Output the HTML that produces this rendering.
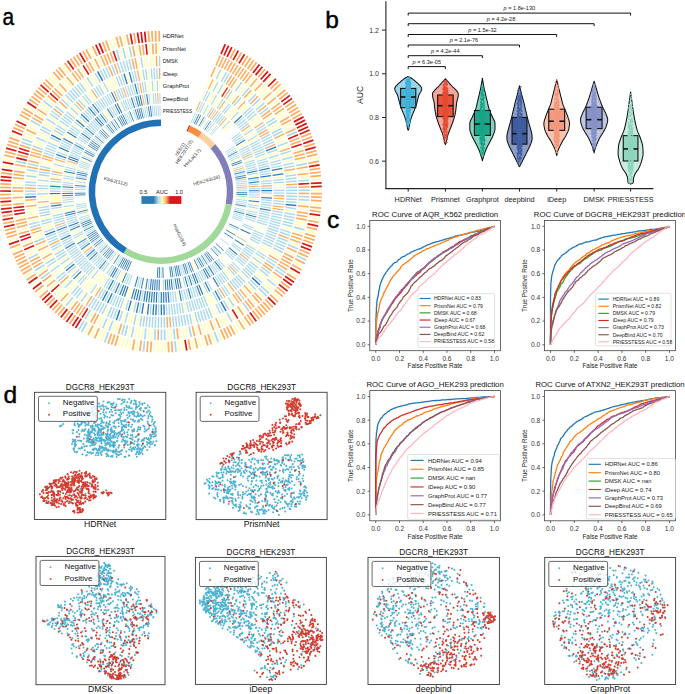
<!DOCTYPE html><html><head><meta charset="utf-8"><style>html,body{margin:0;padding:0;background:#fff;}svg{display:block;}</style></head><body><svg width="685" height="694" viewBox="0 0 685 694"><rect width="100%" height="100%" fill="#fff"/><path d="M296.8 255.7L306.5 260.3M214.4 332.0L218.2 342.1M175.0 341.1L176.0 351.9M144.6 340.9L143.4 351.6M108.5 332.3L104.7 342.4M87.0 322.3L81.7 331.7M84.1 320.6L78.6 329.9" stroke="#abd9e9" stroke-width="1.75"/><path d="M265.7 84.1L273.2 76.4M274.9 94.0L283.1 86.9M307.7 160.0L318.3 157.7M310.6 180.0L321.4 179.2M311.1 190.2L321.9 190.1M310.6 203.7L321.4 204.6M308.9 217.1L319.6 218.9M306.0 230.3L316.5 233.1M293.7 261.8L303.3 266.8M288.7 270.6L297.9 276.3M272.5 292.2L280.5 299.4M241.6 318.3L247.4 327.5M235.8 321.8L241.2 331.2M232.8 323.5L238.0 333.0M217.5 330.7L221.6 340.7M211.2 333.1L214.8 343.3M201.5 336.2L204.5 346.6M198.3 337.1L201.0 347.6M191.7 338.6L193.9 349.2M181.7 340.4L183.2 351.1M178.3 340.8L179.6 351.5M164.8 341.8L165.1 352.5M161.5 341.8L161.5 352.6M158.1 341.8L157.9 352.6M154.7 341.7L154.2 352.5M137.9 340.0L136.2 350.7M131.2 338.8L129.1 349.4M127.9 338.1L125.5 348.6M124.6 337.3L122.0 347.8M121.3 336.5L118.5 346.9M105.3 331.1L101.3 341.1M102.2 329.8L97.9 339.7M96.0 327.0L91.3 336.7M90.0 323.9L84.9 333.4M45.7 287.8L37.4 294.7M39.5 279.8L30.7 286.1M33.8 271.4L24.6 277.1M21.6 247.2L11.5 251.2M18.1 237.7L7.8 241.0M12.9 167.5L2.2 165.8M14.1 160.9L3.5 158.6M20.8 138.2L10.7 134.3M27.7 122.7L18.1 117.8M34.4 111.0L25.3 105.2M55.7 84.7L48.1 77.1M58.1 82.4L50.7 74.5M68.4 73.6L61.7 65.1M94.1 57.3L89.3 47.7M112.8 49.5L109.3 39.3M116.0 48.5L112.8 38.2M125.8 45.8L123.3 35.3" stroke="#ffffbf" stroke-width="1.75"/><path d="M230.1 58.5L235.1 48.9M236.1 61.7L241.5 52.4M241.8 65.2L247.7 56.1M244.7 67.1L250.7 58.1M247.5 69.0L253.7 60.2M250.2 71.0L256.6 62.3M258.2 77.3L265.1 69.1M270.4 88.9L278.3 81.5M272.7 91.4L280.7 84.2M277.1 96.6L285.5 89.7M279.2 99.2L287.7 92.6M285.2 107.4L294.1 101.3M287.1 110.2L296.1 104.4M288.9 113.1L298.1 107.4M290.6 116.0L299.9 110.5M292.3 118.9L301.7 113.7M300.9 137.3L311.0 133.4M302.1 140.5L312.2 136.8M304.3 146.9L314.6 143.7M306.1 153.4L316.6 150.6M307.0 156.7L317.5 154.1M308.4 163.3L319.0 161.2M309.5 169.9L320.2 168.4M310.0 173.3L320.7 172.0M310.3 176.7L321.1 175.6M311.1 193.6L321.9 193.7M311.0 196.9L321.8 197.3M310.9 200.3L321.6 200.9M310.3 207.1L321.1 208.2M309.9 210.4L320.6 211.8M308.3 220.4L318.9 222.5M306.9 227.1L317.4 229.6M305.1 233.6L315.5 236.6M304.2 236.8L314.5 240.1M303.1 240.0L313.3 243.5M299.5 249.5L309.5 253.7M298.2 252.6L308.0 257.0M295.3 258.8L304.9 263.6M292.1 264.7L301.6 270.0M286.9 273.4L295.9 279.3M281.1 281.8L289.7 288.2M276.9 287.1L285.2 293.9M274.7 289.7L282.9 296.7M270.2 294.7L278.0 302.1M265.4 299.5L272.9 307.3M263.0 301.8L270.3 309.8M260.5 304.1L267.6 312.2M257.9 306.3L264.9 314.6M255.3 308.5L262.1 316.9M252.6 310.6L259.2 319.1M247.2 314.6L253.4 323.4M244.4 316.5L250.4 325.5M238.7 320.1L244.3 329.4M229.8 325.1L234.8 334.7M226.8 326.6L231.5 336.3M223.8 328.1L228.3 337.9M220.7 329.4L225.0 339.3M208.0 334.2L211.4 344.5M204.8 335.3L207.9 345.6M195.0 337.9L197.4 348.4M188.4 339.3L190.3 349.9M171.6 341.4L172.4 352.2M168.2 341.6L168.7 352.4M151.3 341.5L150.6 352.3M147.9 341.2L147.0 352.0M141.2 340.5L139.8 351.2M134.5 339.4L132.6 350.1M118.1 335.5L115.0 345.9M114.8 334.5L111.5 344.8M111.6 333.5L108.1 343.7M99.1 328.4L94.6 338.3M93.0 325.5L88.1 335.1M75.6 315.1L69.4 324.0M70.1 311.1L63.5 319.7M64.8 306.9L57.9 315.2M62.2 304.7L55.1 312.8M59.7 302.5L52.4 310.4M54.8 297.8L47.2 305.4M47.9 290.4L39.7 297.5M43.5 285.2L35.1 291.9M35.6 274.2L26.6 280.1M32.0 268.5L22.7 274.0M30.3 265.5L20.9 270.9M28.7 262.6L19.2 267.7M27.1 259.6L17.5 264.5M25.6 256.5L15.9 261.2M24.2 253.5L14.4 257.9M22.8 250.4L12.9 254.6M20.3 244.1L10.2 247.9M17.1 234.5L6.8 237.5M16.2 231.2L5.8 234.1M15.3 227.9L4.9 230.5M13.9 221.3L3.3 223.5M12.7 214.7L2.0 216.3M11.5 204.6L0.7 205.5M11.0 197.8L0.2 198.3M10.9 194.5L0.1 194.7M11.0 187.7L0.2 187.4M11.1 184.3L0.3 183.8M11.9 174.2L1.2 172.9M14.8 157.5L4.3 155.1M15.6 154.3L5.2 151.6M17.5 147.7L7.2 144.6M18.5 144.5L8.3 141.1M19.6 141.3L9.4 137.7M23.3 131.9L13.4 127.6M24.7 128.8L14.9 124.3M29.3 119.7L19.8 114.6M30.9 116.8L21.6 111.4M32.7 113.9L23.4 108.3M38.2 105.4L29.4 99.2M40.2 102.6L31.5 96.2M42.2 99.9L33.7 93.3M44.3 97.3L35.9 90.5M46.5 94.7L38.2 87.7M51.0 89.6L43.1 82.3M53.3 87.2L45.5 79.6M60.6 80.1L53.4 72.1M63.2 77.9L56.1 69.7M65.7 75.7L58.9 67.4M71.1 71.5L64.6 62.9M76.6 67.6L70.5 58.7M79.4 65.7L73.5 56.7M82.3 63.9L76.6 54.7M88.1 60.5L82.8 51.1M91.1 58.9L86.0 49.3M97.1 55.9L92.5 46.1M106.4 51.9L102.5 41.8M109.6 50.7L105.9 40.5M119.3 47.5L116.3 37.1M122.5 46.6L119.8 36.2M129.1 45.0L126.8 34.5M135.7 43.7L133.9 33.1M149.2 42.1L148.3 31.3M152.5 41.8L151.9 31.1M155.9 41.7L155.6 30.9M159.3 41.6L159.2 30.8" stroke="#fdae61" stroke-width="1.75"/><path d="M221.0 54.1L225.3 44.2M224.0 55.5L228.6 45.7M227.1 56.9L231.9 47.2M233.1 60.1L238.3 50.6M239.0 63.4L244.6 54.2M252.9 73.0L259.5 64.5M255.6 75.1L262.4 66.7M260.7 79.5L267.9 71.4M263.2 81.8L270.6 73.9M268.1 86.5L275.8 78.9M281.3 101.9L289.9 95.4M283.3 104.6L292.1 98.4M293.9 121.9L303.5 116.9M295.4 124.9L305.1 120.1M296.9 128.0L306.7 123.4M298.3 131.1L308.2 126.7M299.6 134.2L309.6 130.0M303.2 143.7L313.4 140.2M305.2 150.1L315.6 147.1M309.0 166.6L319.6 164.8M310.9 183.4L321.7 182.8M311.0 186.8L321.8 186.4M309.5 213.8L320.2 215.4M307.6 223.8L318.2 226.1M302.0 243.2L312.1 246.9M300.8 246.4L310.8 250.3M290.4 267.7L299.8 273.2M285.0 276.3L293.9 282.3M283.1 279.0L291.9 285.3M279.0 284.4L287.5 291.1M267.8 297.1L275.5 304.7M249.9 312.6L256.3 321.3M185.0 339.9L186.8 350.5M81.2 318.8L75.5 328.0M78.4 317.0L72.4 326.0M72.8 313.1L66.4 321.9M67.4 309.1L60.7 317.5M57.2 300.1L49.8 307.9M52.4 295.4L44.6 302.8M50.1 292.9L42.2 300.2M41.5 282.5L32.9 289.0M37.5 277.0L28.6 283.2M19.2 240.9L9.0 244.4M14.6 224.6L4.0 227.0M13.2 218.0L2.6 219.9M12.2 211.3L1.5 212.7M11.8 208.0L1.0 209.1M11.2 201.2L0.4 201.9M10.9 191.1L0.1 191.0M11.3 180.9L0.5 180.2M11.6 177.6L0.8 176.6M12.4 170.8L1.7 169.3M13.4 164.2L2.8 162.2M16.5 151.0L6.1 148.1M22.0 135.0L12.0 130.9M26.2 125.7L16.5 121.0M36.3 108.2L27.3 102.2M48.7 92.1L40.6 84.9M73.8 69.5L67.5 60.7M85.2 62.2L79.7 52.9M100.2 54.5L95.8 44.6M103.3 53.1L99.2 43.2M132.4 44.3L130.4 33.7M139.1 43.2L137.5 32.5M142.4 42.8L141.1 32.0M145.8 42.4L144.7 31.6" stroke="#d7191c" stroke-width="1.75"/><path d="M286.9 136.1L296.8 131.7M296.2 165.6L306.8 163.6M298.3 181.0L309.0 180.2M298.7 190.3L309.5 190.2M298.6 196.5L309.4 196.9M298.4 199.6L309.2 200.2M294.0 227.1L304.5 229.9M288.0 244.7L298.0 248.9M276.5 266.7L285.5 272.6M274.7 269.3L283.7 275.3M267.3 279.2L275.6 286.0M261.1 286.2L269.0 293.6M259.0 288.4L266.7 296.0M242.6 302.6L249.0 311.3M226.9 312.6L232.0 322.1M189.1 326.5L191.4 337.0M173.8 328.8L174.8 339.5M164.5 329.3L164.8 340.1M161.4 329.4L161.5 340.2M155.2 329.2L154.8 340.0M145.9 328.5L144.7 339.3M133.7 326.6L131.5 337.2M127.6 325.3L125.0 335.7M124.6 324.5L121.8 334.9M112.8 320.7L109.0 330.8M107.0 318.4L102.8 328.3M90.5 309.9L84.9 319.2M72.8 297.4L65.8 305.7M49.5 272.5L40.8 278.8M44.3 264.8L35.2 270.5M38.2 254.0L28.6 258.8M26.3 163.4L15.7 161.2M31.3 145.5L21.1 141.9M32.4 142.6L22.3 138.7M40.2 125.7L30.7 120.5M52.1 107.5L43.5 100.9M119.7 60.4L116.5 50.1M125.7 58.6L122.9 48.2M131.7 57.2L129.4 46.6" stroke="#abd9e9" stroke-width="1.61"/><path d="M247.7 84.8L254.5 76.4M252.5 88.8L259.6 80.7M257.0 93.0L264.5 85.3M259.2 95.2L266.9 87.6M261.3 97.4L269.2 90.1M265.5 102.1L273.7 95.0M269.4 106.9L277.9 100.2M276.6 117.0L285.7 111.1M278.3 119.6L287.5 113.9M282.9 127.7L292.4 122.7M284.3 130.5L294.0 125.6M292.4 150.6L302.7 147.4M295.6 162.6L306.1 160.3M297.2 171.7L307.9 170.2M298.0 177.9L308.7 176.8M298.2 202.7L309.0 203.6M297.6 208.9L308.3 210.2M295.5 221.1L306.0 223.4M294.8 224.1L305.3 226.7M293.2 230.1L303.6 233.1M289.2 241.9L299.3 245.8M285.5 250.4L295.3 255.0M271.1 274.3L279.8 280.8M269.2 276.8L277.7 283.4M265.3 281.6L273.5 288.6M263.2 283.9L271.3 291.1M256.8 290.6L264.3 298.3M249.9 296.8L256.9 305.1M240.1 304.4L246.3 313.3M234.9 307.9L240.7 317.0M229.6 311.1L235.0 320.4M224.1 314.0L229.1 323.6M221.4 315.4L226.1 325.1M218.6 316.8L223.1 326.6M212.9 319.2L216.9 329.2M207.1 321.4L210.7 331.6M204.1 322.4L207.5 332.7M201.2 323.4L204.3 333.7M195.2 325.1L197.9 335.5M186.1 327.1L188.1 337.7M183.0 327.6L184.8 338.3M180.0 328.1L181.5 338.8M170.7 329.0L171.5 339.8M167.6 329.2L168.1 340.0M152.1 329.1L151.4 339.9M149.0 328.8L148.1 339.6M142.9 328.2L141.4 338.9M139.8 327.7L138.1 338.4M136.7 327.2L134.8 337.8M130.6 326.0L128.3 336.5M118.7 322.7L115.3 333.0M115.7 321.7L112.2 331.9M109.9 319.5L105.9 329.6M104.2 317.1L99.7 326.9M101.4 315.8L96.7 325.5M93.1 311.5L87.8 320.9M75.2 299.3L68.4 307.8M70.4 295.4L63.3 303.5M65.8 291.2L58.4 299.0M63.6 289.0L56.0 296.6M61.4 286.8L53.6 294.2M57.2 282.2L49.1 289.3M53.3 277.4L44.8 284.1M46.0 267.4L37.0 273.3M36.8 251.2L27.1 255.8M35.5 248.4L25.7 252.8M32.0 239.8L21.9 243.5M28.2 227.9L17.8 230.8M25.5 215.8L14.8 217.7M23.6 200.4L12.8 201.1M23.4 194.2L12.6 194.4M23.5 184.9L12.7 184.4M23.7 181.8L12.9 181.1M25.1 169.5L14.5 167.8M33.5 139.7L23.5 135.6M34.7 136.8L24.8 132.5M37.3 131.2L27.6 126.5M38.7 128.4L29.1 123.5M44.9 117.7L35.8 111.9M48.4 112.5L39.5 106.3M50.2 110.0L41.5 103.6M54.0 105.1L45.6 98.3M64.4 93.6L56.8 85.9M68.9 89.4L61.7 81.3M71.3 87.3L64.2 79.1M76.1 83.4L69.4 74.9M86.2 76.2L80.3 67.1M96.9 69.9L91.8 60.3M102.4 67.1L97.8 57.3M122.7 59.5L119.7 49.1M128.7 57.9L126.2 47.4M137.8 56.0L136.0 45.3M150.1 54.5L149.3 43.7M159.4 54.0L159.3 43.2" stroke="#ffffbf" stroke-width="1.61"/><path d="M216.0 65.5L220.3 55.6M218.8 66.8L223.4 57.0M221.6 68.1L226.4 58.4M224.4 69.5L229.4 59.9M227.1 71.0L232.3 61.5M229.8 72.5L235.2 63.1M232.5 74.1L238.1 64.8M235.1 75.7L241.0 66.6M237.7 77.4L243.8 68.4M240.3 79.2L246.5 70.3M242.8 81.0L249.2 72.3M245.3 82.9L251.9 74.3M250.1 86.8L257.1 78.5M254.7 90.9L262.1 83.0M263.4 99.7L271.5 92.5M267.5 104.4L275.8 97.6M271.3 109.3L280.0 102.9M273.1 111.8L281.9 105.6M274.9 114.4L283.8 108.3M279.9 122.3L289.2 116.8M281.4 125.0L290.9 119.7M285.6 133.2L295.4 128.7M289.3 141.8L299.4 137.9M290.4 144.7L300.6 141.0M293.3 153.6L303.7 150.6M294.1 156.6L304.5 153.8M294.9 159.6L305.4 157.0M296.7 168.7L307.4 166.9M297.6 174.8L308.4 173.5M298.6 187.2L309.4 186.8M298.7 193.4L309.5 193.5M297.9 205.8L308.7 206.9M297.2 211.9L307.9 213.5M296.7 215.0L307.3 216.8M296.1 218.1L306.7 220.1M292.3 233.1L302.6 236.3M291.3 236.0L301.6 239.5M290.3 239.0L300.4 242.7M286.8 247.6L296.7 252.0M284.2 253.2L293.8 258.0M282.7 256.0L292.3 261.0M281.3 258.7L290.7 264.0M279.7 261.4L289.0 266.9M278.1 264.1L287.3 269.7M273.0 271.8L281.8 278.1M254.5 292.7L261.9 300.6M252.2 294.8L259.4 302.9M247.5 298.8L254.3 307.2M245.1 300.7L251.6 309.3M237.5 306.2L243.5 315.1M215.7 318.0L220.0 327.9M210.0 320.4L213.8 330.5M198.2 324.3L201.1 334.6M192.2 325.8L194.6 336.3M176.9 328.4L178.1 339.2M158.3 329.3L158.1 340.1M121.6 323.6L118.5 334.0M98.6 314.4L93.7 324.0M95.9 313.0L90.7 322.5M85.2 306.6L79.3 315.6M82.6 304.9L76.5 313.8M80.1 303.1L73.8 311.8M77.6 301.2L71.1 309.8M68.1 293.3L60.8 301.3M55.2 279.8L46.9 286.7M51.4 275.0L42.8 281.5M47.7 269.9L38.8 276.1M42.7 262.1L33.4 267.6M41.1 259.4L31.7 264.7M39.6 256.7L30.1 261.8M33.1 242.6L23.1 246.6M29.0 230.9L18.7 234.0M27.4 224.9L16.9 227.5M26.7 221.9L16.2 224.3M26.0 218.9L15.5 221.0M23.8 203.5L13.1 204.5M23.4 197.3L12.7 197.8M23.3 191.1L12.5 191.1M23.4 188.0L12.6 187.7M23.9 178.7L13.2 177.7M24.3 175.7L13.5 174.4M24.7 172.6L14.0 171.1M25.7 166.5L15.0 164.5M27.7 157.4L17.2 154.7M30.3 148.4L20.1 145.0M36.0 134.0L26.2 129.5M41.7 123.0L32.3 117.6M43.3 120.3L34.0 114.7M46.6 115.1L37.6 109.1M56.0 102.7L47.7 95.7M60.1 98.1L52.2 90.7M62.2 95.8L54.5 88.3M66.6 91.5L59.2 83.6M73.6 85.3L66.8 77.0M78.5 81.5L72.0 72.8M81.0 79.6L74.7 70.9M83.6 77.9L77.5 68.9M91.4 72.9L86.0 63.6M94.1 71.4L88.9 61.9M99.6 68.5L94.8 58.8M105.2 65.8L100.9 56.0M108.1 64.6L103.9 54.6M111.0 63.4L107.0 53.4M113.9 62.3L110.2 52.2M134.8 56.5L132.7 45.9M140.9 55.5L139.3 44.8M144.0 55.1L142.6 44.4M153.2 54.2L152.6 43.5M156.3 54.1L156.0 43.3" stroke="#fdae61" stroke-width="1.61"/><path d="M288.2 138.9L298.1 134.8M291.4 147.6L301.7 144.2M298.5 184.1L309.2 183.5M232.3 309.5L237.8 318.7M87.8 308.3L82.1 317.5M59.3 284.5L51.3 291.8M34.3 245.5L24.3 249.7M30.9 236.8L20.7 240.4M30.0 233.9L19.7 237.2M25.0 212.8L14.3 214.4M24.5 209.7L13.8 211.1M24.1 206.6L13.4 207.8M26.9 160.4L16.4 157.9M28.5 154.4L18.1 151.4M29.4 151.4L19.0 148.2M58.0 100.4L49.9 93.2M88.8 74.5L83.1 65.3M116.8 61.3L113.3 51.1M147.1 54.7L146.0 44.0" stroke="#d7191c" stroke-width="1.61"/><path d="M285.6 204.5L296.3 205.6M252.1 277.6L260.0 285.0M220.9 301.7L226.1 311.2M119.8 310.0L116.3 320.2M35.9 196.8L25.1 197.3M102.7 80.9L97.6 71.3" stroke="#2c7bb6" stroke-width="1.47"/><path d="M216.2 79.3L220.9 69.6M221.2 81.9L226.4 72.4M223.6 83.2L229.0 73.9M235.4 91.0L241.8 82.3M242.1 96.2L249.1 88.0M248.3 101.9L255.9 94.2M252.3 106.0L260.2 98.6M256.1 110.2L264.3 103.1M259.6 114.5L268.1 107.9M266.2 123.7L275.3 117.9M267.7 126.1L276.9 120.5M271.9 133.5L281.4 128.4M273.2 136.0L282.8 131.2M277.7 146.3L287.8 142.4M280.5 154.3L290.8 151.1M282.1 159.7L292.5 157.0M283.4 165.2L294.0 162.9M284.0 168.0L294.6 165.9M285.3 176.3L296.0 175.0M285.6 179.2L296.4 178.1M285.9 182.0L296.6 181.1M286.2 187.6L297.0 187.2M286.2 190.4L297.0 190.3M286.2 193.2L297.0 193.4M286.2 196.1L297.0 196.4M286.0 198.9L296.8 199.5M285.8 201.7L296.6 202.6M285.3 207.3L296.0 208.7M284.4 212.9L295.1 214.7M283.9 215.7L294.5 217.8M283.4 218.4L293.9 220.8M282.7 221.2L293.2 223.7M282.0 223.9L292.5 226.7M280.4 229.4L290.7 232.6M279.6 232.0L289.8 235.5M277.6 237.3L287.7 241.3M276.6 240.0L286.5 244.1M275.5 242.6L285.3 246.9M274.3 245.1L284.0 249.7M273.0 247.7L282.7 252.5M267.5 257.5L276.7 263.2M266.0 259.9L275.1 265.8M261.2 266.8L269.8 273.3M259.5 269.1L268.0 275.8M254.0 275.6L262.0 282.8M250.1 279.7L257.8 287.3M248.1 281.7L255.7 289.4M237.5 290.9L244.1 299.4M228.2 297.4L234.0 306.5M223.4 300.3L228.8 309.7M218.4 303.0L223.4 312.6M215.9 304.3L220.6 314.0M208.2 307.7L212.2 317.7M205.6 308.7L209.4 318.8M202.9 309.7L206.5 319.9M200.2 310.6L203.6 320.9M197.5 311.5L200.7 321.8M194.8 312.3L197.8 322.7M189.4 313.7L191.8 324.2M186.6 314.3L188.8 324.9M183.8 314.8L185.8 325.5M181.1 315.3L182.8 326.0M178.3 315.7L179.8 326.4M175.5 316.1L176.7 326.8M172.7 316.4L173.7 327.1M164.2 316.9L164.5 327.7M161.4 316.9L161.4 327.7M158.6 316.9L158.3 327.7M155.7 316.8L155.3 327.6M152.9 316.7L152.2 327.5M150.1 316.5L149.2 327.2M147.3 316.2L146.1 326.9M144.5 315.8L143.1 326.6M141.7 315.4L140.0 326.1M136.1 314.4L134.0 325.0M127.9 312.5L125.0 322.9M122.5 310.9L119.2 321.1M117.2 309.0L113.4 319.1M114.5 308.0L110.5 318.0M111.9 306.9L107.7 316.9M106.8 304.6L102.1 314.3M104.2 303.3L99.3 313.0M101.7 302.0L96.6 311.5M99.3 300.7L93.9 310.1M96.8 299.2L91.3 308.5M94.4 297.8L88.7 306.9M87.4 293.0L81.1 301.8M82.9 289.6L76.2 298.1M80.7 287.8L73.8 296.1M78.6 286.0L71.5 294.1M72.4 280.2L64.8 287.8M66.6 274.0L58.5 281.1M64.8 271.9L56.5 278.8M59.6 265.2L50.8 271.5M56.4 260.5L47.4 266.5M54.9 258.2L45.7 263.9M44.7 238.0L34.6 242.0M40.2 224.7L29.8 227.5M39.5 221.9L29.0 224.5M35.8 194.0L25.0 194.2M35.8 191.2L25.0 191.1M35.9 185.5L25.1 185.0M36.1 182.7L25.3 181.9M36.6 177.1L25.9 175.8M37.4 171.5L26.7 169.8M38.4 166.0L27.9 163.7M43.0 149.7L32.8 146.0M46.1 141.8L36.2 137.5M49.8 134.1L40.2 129.2M51.1 131.7L41.6 126.5M55.4 124.4L46.3 118.6M58.5 119.7L49.7 113.5M60.2 117.4L51.5 111.0M63.6 112.9L55.3 106.1M69.2 106.5L61.3 99.2M73.1 102.5L65.5 94.8M75.2 100.5L67.8 92.6M77.2 98.6L70.0 90.6M79.4 96.7L72.3 88.5M81.5 94.9L74.7 86.6M83.7 93.1L77.1 84.6M86.0 91.4L79.5 82.8M92.9 86.6L87.0 77.5M100.2 82.2L94.9 72.8M105.2 79.6L100.3 69.9M107.7 78.4L103.1 68.6M110.3 77.2L105.9 67.3M115.5 75.0L111.6 65.0M120.8 73.1L117.3 62.9M123.5 72.2L120.2 61.9M126.2 71.4L123.2 61.0M128.9 70.6L126.1 60.2M131.6 70.0L129.1 59.5M142.7 67.8L141.1 57.1M159.6 66.5L159.5 55.7" stroke="#abd9e9" stroke-width="1.47"/><path d="M213.6 78.0L218.1 68.2M218.7 80.5L223.6 70.9M233.1 89.3L239.4 80.5M237.7 92.7L244.3 84.1M239.9 94.4L246.7 86.0M246.3 100.0L253.6 92.1M254.2 108.0L262.2 100.8M264.6 121.4L273.6 115.3M269.1 128.5L278.5 123.1M270.5 131.0L280.0 125.7M275.6 141.1L285.4 136.7M276.7 143.7L286.6 139.6M278.7 149.0L288.9 145.3M281.3 157.0L291.7 154.0M282.8 162.5L293.3 159.9M284.9 173.5L295.6 172.0M284.9 210.1L295.6 211.7M281.3 226.7L291.6 229.7M271.8 250.2L281.3 255.2M270.4 252.7L279.8 257.9M257.7 271.3L266.0 278.1M255.9 273.4L264.1 280.5M246.1 283.6L253.4 291.5M241.9 287.3L248.8 295.6M230.6 295.8L236.6 304.8M225.8 298.9L231.4 308.1M213.4 305.5L217.9 315.3M210.8 306.6L215.1 316.5M192.1 313.0L194.8 323.5M138.9 315.0L137.0 325.6M133.4 313.9L131.0 324.4M130.6 313.2L128.0 323.7M125.2 311.7L122.1 322.1M109.3 305.8L104.9 315.6M89.7 294.7L83.6 303.5M85.1 291.3L78.6 299.9M76.5 284.1L69.2 292.1M74.4 282.2L66.9 290.0M70.4 278.2L62.6 285.6M63.0 269.7L54.6 276.4M61.3 267.5L52.7 274.0M58.0 262.9L49.1 269.0M53.4 255.8L44.1 261.3M50.6 250.8L41.1 255.9M49.3 248.3L39.7 253.2M46.9 243.2L37.0 247.7M43.6 235.4L33.5 239.2M42.7 232.8L32.5 236.3M38.8 219.2L28.3 221.6M37.7 213.7L27.1 215.5M37.2 210.9L26.6 212.5M36.8 208.1L26.1 209.5M36.2 202.5L25.5 203.4M36.3 179.9L25.6 178.9M37.0 174.3L26.3 172.8M39.7 160.5L29.3 157.8M44.0 147.0L33.9 143.2M45.0 144.4L35.0 140.3M47.3 139.2L37.5 134.7M48.5 136.7L38.8 131.9M52.5 129.2L43.1 123.8M53.9 126.8L44.7 121.2M56.9 122.0L48.0 116.0M65.4 110.7L57.2 103.8M71.1 104.5L63.4 96.9M88.2 89.8L82.0 81.0M90.6 88.1L84.5 79.2M95.3 85.1L89.6 75.9M97.7 83.6L92.3 74.3M139.9 68.2L138.1 57.6M145.5 67.4L144.2 56.7M148.3 67.1L147.2 56.4M151.1 66.8L150.3 56.1M153.9 66.7L153.3 55.9" stroke="#ffffbf" stroke-width="1.47"/><path d="M211.0 76.9L215.3 67.0M226.1 84.7L231.7 75.5M228.5 86.2L234.3 77.1M230.8 87.7L236.8 78.8M244.2 98.1L251.4 90.0M250.3 103.9L258.0 96.4M257.9 112.3L266.2 105.5M261.4 116.8L270.0 110.3M263.0 119.1L271.8 112.8M274.4 138.5L284.2 133.9M279.7 151.6L289.9 148.2M284.5 170.8L295.1 169.0M286.0 184.8L296.8 184.2M278.6 234.7L288.8 238.4M269.0 255.1L278.3 260.6M264.5 262.3L273.4 268.3M262.9 264.6L271.6 270.9M244.0 285.5L251.2 293.6M239.7 289.1L246.5 297.5M235.2 292.6L241.6 301.3M232.9 294.2L239.1 303.1M169.8 316.6L170.6 327.4M167.0 316.8L167.5 327.6M92.0 296.2L86.1 305.3M68.5 276.1L60.5 283.4M52.0 253.3L42.6 258.6M48.1 245.8L38.3 250.5M45.7 240.7L35.8 244.9M41.8 230.1L31.5 233.4M41.0 227.4L30.6 230.5M38.2 216.4L27.6 218.6M36.5 205.3L25.8 206.4M36.0 199.6L25.2 200.3M35.8 188.4L25.0 188.1M37.9 168.7L27.3 166.7M39.0 163.2L28.5 160.7M40.5 157.7L30.1 154.8M41.2 155.0L30.9 151.9M42.1 152.3L31.9 148.9M61.9 115.1L53.3 108.5M67.3 108.6L59.2 101.4M112.9 76.1L108.7 66.1M118.1 74.0L114.4 63.9M134.4 69.3L132.1 58.8M137.1 68.8L135.1 58.1M156.8 66.5L156.4 55.7" stroke="#fdae61" stroke-width="1.47"/><path d="M266.1 150.8L276.2 146.9M271.8 170.3L282.4 168.3M272.6 175.3L283.3 173.8M215.0 290.8L220.1 300.2M163.9 304.5L164.2 315.3M161.3 304.5L161.4 315.3M156.3 304.4L155.8 315.2M153.7 304.3L153.0 315.1M148.7 303.8L147.5 314.6M143.6 303.2L141.9 313.8M138.6 302.3L136.5 312.8M131.2 300.5L128.3 310.9M112.2 293.4L107.5 303.1M107.6 291.1L102.5 300.6M81.2 271.4L73.5 279.1M74.3 263.9L66.0 270.8M55.3 231.1L45.2 234.8M60.8 139.9L51.2 134.9M127.2 84.1L124.0 73.8M132.1 82.7L129.3 72.2" stroke="#2c7bb6" stroke-width="1.33"/><path d="M213.0 91.6L217.9 82.0M217.4 94.0L222.8 84.7M226.0 99.5L232.2 90.7M234.0 105.7L241.0 97.5M243.2 114.5L251.1 107.1M244.9 116.3L253.0 109.1M246.6 118.3L254.8 111.2M248.3 120.2L256.6 113.4M255.7 130.5L264.8 124.6M257.1 132.6L266.3 127.0M260.9 139.2L270.4 134.2M262.0 141.5L271.7 136.7M263.1 143.8L272.9 139.2M264.2 146.1L274.1 141.8M267.0 153.2L277.2 149.5M268.7 158.0L279.0 154.8M270.1 162.9L280.5 160.1M270.7 165.4L281.2 162.8M271.3 167.8L281.8 165.6M273.2 180.4L284.0 179.3M273.5 182.9L284.2 182.1M273.8 190.5L284.6 190.4M273.8 193.1L284.6 193.2M273.4 200.7L284.2 201.6M273.2 203.2L284.0 204.3M272.2 210.8L282.8 212.6M271.7 213.3L282.3 215.4M271.2 215.8L281.8 218.1M270.6 218.3L281.1 220.8M270.0 220.7L280.4 223.5M269.3 223.2L279.7 226.2M268.6 225.6L278.9 228.9M267.8 228.0L278.0 231.5M267.0 230.4L277.1 234.1M266.1 232.8L276.1 236.7M265.1 235.2L275.1 239.3M264.1 237.5L274.0 241.9M263.0 239.8L272.8 244.4M261.9 242.1L271.6 246.9M257.0 251.0L266.2 256.7M255.6 253.1L264.7 259.0M252.7 257.3L261.5 263.6M249.7 261.4L258.2 268.1M248.1 263.4L256.4 270.3M246.5 265.3L254.6 272.4M244.8 267.2L252.8 274.5M243.1 269.1L250.9 276.5M241.3 270.9L249.0 278.5M237.6 274.5L245.0 282.4M235.8 276.2L242.9 284.3M233.8 277.8L240.8 286.1M231.9 279.5L238.7 287.9M229.9 281.0L236.5 289.6M223.7 285.5L229.7 294.5M221.6 286.9L227.3 296.0M217.2 289.5L222.6 298.9M212.7 291.9L217.7 301.5M203.5 296.2L207.6 306.2M201.1 297.1L205.0 307.2M198.7 298.0L202.4 308.2M196.3 298.8L199.7 309.1M193.9 299.6L197.1 309.9M191.5 300.3L194.4 310.7M189.0 301.0L191.7 311.4M186.5 301.6L189.0 312.1M181.6 302.6L183.5 313.2M179.1 303.1L180.8 313.7M176.6 303.4L178.0 314.1M174.0 303.8L175.3 314.5M171.5 304.0L172.5 314.8M169.0 304.2L169.7 315.0M166.4 304.4L166.9 315.2M158.8 304.5L158.6 315.3M151.2 304.1L150.2 314.8M141.1 302.7L139.2 313.4M136.1 301.7L133.7 312.3M128.7 299.8L125.7 310.1M123.9 298.2L120.3 308.4M121.5 297.4L117.7 307.5M119.1 296.5L115.1 306.5M116.8 295.5L112.6 305.4M114.5 294.5L110.0 304.3M109.9 292.3L105.0 301.9M105.4 289.9L100.1 299.3M103.2 288.6L97.7 297.8M96.8 284.4L90.6 293.3M86.8 276.6L79.7 284.8M84.9 274.9L77.6 282.9M79.4 269.6L71.6 277.1M76.0 265.9L67.8 272.9M72.7 261.9L64.3 268.7M69.7 257.9L60.9 264.2M66.8 253.7L57.7 259.6M65.4 251.6L56.2 257.3M64.1 249.4L54.8 254.9M61.6 245.0L52.0 250.1M60.4 242.7L50.8 247.6M58.2 238.1L48.3 242.6M57.2 235.8L47.2 240.0M56.2 233.4L46.2 237.4M54.4 228.7L44.2 232.2M52.2 221.4L41.8 224.2M51.5 218.9L41.0 221.5M50.4 214.0L39.8 216.1M49.9 211.5L39.3 213.4M49.5 209.0L38.8 210.6M49.2 206.5L38.5 207.9M48.2 193.8L37.4 194.0M48.2 188.7L37.4 188.4M48.3 186.2L37.5 185.6M48.7 181.1L37.9 180.1M49.3 176.0L38.6 174.5M49.7 173.5L39.0 171.8M50.6 168.5L40.0 166.3M53.9 156.2L43.7 152.9M54.7 153.8L44.6 150.2M55.6 151.5L45.5 147.6M56.5 149.1L46.5 145.0M57.5 146.7L47.6 142.4M59.7 142.1L50.0 137.4M63.2 135.4L53.9 130.0M64.5 133.2L55.3 127.6M65.9 131.0L56.8 125.2M68.7 126.8L59.9 120.6M70.2 124.8L61.5 118.3M71.7 122.7L63.2 116.1M73.3 120.7L64.9 113.9M74.9 118.8L66.7 111.8M78.3 115.0L70.4 107.6M81.8 111.3L74.3 103.6M85.6 107.8L78.3 99.8M89.4 104.5L82.6 96.2M91.4 102.9L84.7 94.4M99.7 97.0L93.8 88.0M101.8 95.7L96.2 86.5M104.0 94.4L98.5 85.0M108.4 91.9L103.4 82.3M120.0 86.6L116.1 76.5M122.4 85.7L118.7 75.6M124.8 84.9L121.3 74.6M134.5 82.0L132.0 71.5M137.0 81.5L134.7 70.9M144.5 80.1L143.0 69.4M147.0 79.8L145.7 69.0M152.1 79.2L151.3 68.5M154.6 79.1L154.0 68.3M157.2 79.0L156.8 68.2" stroke="#abd9e9" stroke-width="1.33"/><path d="M206.1 88.3L210.4 78.4M210.7 90.4L215.4 80.7M215.2 92.8L220.4 83.3M219.6 95.3L225.2 86.1M228.0 101.0L234.5 92.3M230.1 102.5L236.7 94.0M235.9 107.4L243.1 99.3M239.7 110.8L247.2 103.1M241.5 112.6L249.2 105.1M249.8 122.2L258.4 115.5M251.4 124.2L260.0 117.7M252.9 126.3L261.7 120.0M267.9 155.6L278.1 152.1M269.4 160.4L279.8 157.5M272.2 172.8L282.9 171.0M273.0 177.9L283.7 176.5M273.6 185.5L284.4 184.9M273.7 188.0L284.5 187.7M260.8 244.4L270.3 249.4M259.5 246.6L269.0 251.9M258.3 248.8L267.6 254.3M254.2 255.3L263.1 261.3M251.2 259.4L259.9 265.9M239.5 272.7L247.0 280.5M225.8 284.1L232.0 292.9M210.5 293.1L215.2 302.8M208.2 294.2L212.7 304.0M205.8 295.2L210.1 305.1M184.1 302.1L186.3 312.7M146.1 303.5L144.7 314.2M133.6 301.1L131.0 311.6M126.3 299.0L123.0 309.3M98.9 285.9L92.9 294.9M94.7 283.0L88.4 291.7M92.7 281.5L86.1 290.1M90.7 279.9L83.9 288.3M88.7 278.3L81.8 286.6M83.0 273.2L75.5 281.0M77.7 267.7L69.7 275.0M71.2 259.9L62.6 266.5M68.2 255.8L59.3 262.0M62.8 247.2L53.4 252.5M53.6 226.3L43.3 229.6M52.9 223.8L42.5 226.9M50.9 216.5L40.4 218.8M48.9 203.9L38.1 205.1M48.4 198.9L37.6 199.5M48.3 196.3L37.5 196.8M48.2 191.2L37.4 191.2M48.5 183.6L37.7 182.8M49.0 178.6L38.2 177.3M51.1 166.0L40.6 163.6M51.8 163.6L41.3 160.9M58.6 144.4L48.8 139.9M62.0 137.6L52.5 132.4M67.3 128.9L58.3 122.9M76.6 116.9L68.5 109.7M80.1 113.1L72.3 105.6M87.5 106.2L80.4 98.0M93.4 101.4L86.9 92.7M95.5 99.9L89.2 91.1M106.2 93.1L101.0 83.7M110.7 90.7L105.9 81.1M113.0 89.6L108.4 79.8M115.3 88.6L110.9 78.7M117.6 87.6L113.5 77.6M129.6 83.3L126.6 73.0M142.0 80.5L140.2 69.9M149.6 79.5L148.5 68.7" stroke="#ffffbf" stroke-width="1.33"/><path d="M208.4 89.3L212.9 79.5M223.9 98.0L229.9 89.1M232.1 104.1L238.9 95.7M237.8 109.1L245.2 101.2M254.3 128.3L263.3 122.3M258.4 134.8L267.7 129.4M259.7 137.0L269.1 131.8M265.2 148.5L275.2 144.3M273.7 195.6L284.5 196.0M273.6 198.2L284.4 198.8M272.9 205.8L283.6 207.1M272.6 208.3L283.3 209.9M227.8 282.6L234.2 291.3M219.4 288.2L225.0 297.5M101.0 287.2L95.3 296.4M59.3 240.4L49.5 245.1M48.6 201.4L37.8 202.3M50.1 171.0L39.5 169.0M52.4 161.1L42.0 158.2M53.1 158.7L42.8 155.5M83.7 109.6L76.3 101.7M97.5 98.4L91.5 89.5M139.5 81.0L137.5 70.4M159.7 78.9L159.6 68.1" stroke="#fdae61" stroke-width="1.33"/><path d="M221.8 96.6L227.6 87.5" stroke="#d7191c" stroke-width="1.33"/><path d="M234.2 123.0L242.0 115.6M259.1 170.5L269.7 168.2M260.3 177.2L271.0 175.6M261.4 190.7L272.2 190.6M261.2 197.5L272.0 198.1M259.9 208.7L270.6 210.5M213.0 277.6L218.5 286.8M205.0 281.9L209.7 291.6M198.8 284.7L202.9 294.7M196.7 285.5L200.6 295.6M188.1 288.3L191.0 298.7M179.3 290.4L181.3 301.0M168.1 291.8L168.9 302.6M165.8 292.0L166.3 302.8M163.6 292.0L163.8 302.8M161.3 292.1L161.3 302.9M156.8 292.0L156.3 302.8M154.5 291.9L153.8 302.6M152.3 291.7L151.3 302.5M150.0 291.5L148.8 302.2M147.8 291.2L146.3 301.9M145.5 290.9L143.9 301.6M141.1 290.1L138.9 300.7M138.9 289.6L136.5 300.1M136.7 289.1L134.0 299.6M134.5 288.5L131.6 298.9M128.0 286.5L124.4 296.7M125.9 285.7L122.1 295.8M123.8 284.9L119.7 294.9M119.6 283.1L115.1 293.0M113.5 280.1L108.4 289.6M74.7 243.0L65.5 248.6M70.5 235.1L60.7 239.7M66.9 226.7L56.8 230.5M61.5 204.8L50.8 206.2M60.6 193.5L49.8 193.7M60.7 186.8L50.0 186.2M66.4 158.0L56.3 154.4M68.9 151.7L59.0 147.4M72.9 143.6L63.4 138.4M76.4 137.7L67.3 131.9M84.4 126.8L76.2 119.8M89.0 121.8L81.2 114.3M95.6 115.6L88.5 107.4M99.1 112.7L92.4 104.2M116.2 101.8L111.4 92.2M137.5 94.1L134.9 83.6" stroke="#2c7bb6" stroke-width="1.19"/><path d="M203.2 100.6L207.7 90.8M205.2 101.6L210.0 91.9M211.2 104.8L216.6 95.4M217.0 108.4L223.0 99.4M222.5 112.3L229.1 103.8M224.2 113.7L231.0 105.4M231.0 119.7L238.5 112.0M235.7 124.6L243.7 117.4M237.2 126.3L245.4 119.3M238.6 128.1L247.0 121.2M240.1 129.8L248.6 123.2M244.1 135.3L253.0 129.3M247.7 141.1L257.0 135.6M249.9 145.0L259.4 140.0M250.9 147.0L260.6 142.2M251.9 149.1L261.7 144.5M252.8 151.1L262.7 146.8M253.7 153.2L263.7 149.1M254.6 155.3L264.6 151.4M255.4 157.4L265.5 153.8M256.8 161.7L267.1 158.5M257.5 163.9L267.8 160.9M258.1 166.1L268.5 163.3M258.6 168.3L269.1 165.7M259.6 172.7L270.2 170.6M260.0 174.9L270.6 173.1M260.9 181.6L271.6 180.6M261.1 183.9L271.8 183.1M261.3 188.4L272.1 188.1M261.4 192.9L272.2 193.1M261.1 199.7L271.8 200.6M260.9 202.0L271.6 203.1M260.6 204.2L271.3 205.6M260.3 206.5L271.0 208.1M259.5 210.9L270.1 213.0M259.1 213.1L269.6 215.4M258.6 215.3L269.1 217.9M258.0 217.5L268.4 220.3M257.4 219.7L267.8 222.7M256.7 221.9L267.0 225.1M253.6 230.4L263.6 234.5M252.7 232.5L262.6 236.8M251.8 234.5L261.6 239.1M250.8 236.6L260.5 241.4M249.8 238.6L259.3 243.6M246.4 244.5L255.6 250.1M245.2 246.4L254.2 252.2M243.9 248.2L252.9 254.3M242.6 250.1L251.4 256.4M241.3 251.9L249.9 258.4M238.5 255.5L246.8 262.4M237.0 257.2L245.2 264.3M235.6 258.9L243.6 266.1M232.4 262.2L240.1 269.8M230.8 263.8L238.4 271.6M227.5 266.9L234.7 275.0M222.3 271.2L228.9 279.8M220.5 272.6L226.9 281.3M218.6 273.9L224.8 282.7M216.8 275.2L222.8 284.1M214.9 276.4L220.7 285.5M207.0 280.9L212.0 290.5M203.0 282.9L207.5 292.7M194.6 286.3L198.2 296.5M192.4 287.0L195.8 297.3M190.3 287.7L193.4 298.0M185.9 288.9L188.6 299.4M183.7 289.5L186.2 300.0M181.5 290.0L183.7 300.5M174.8 291.1L176.3 301.8M172.6 291.4L173.8 302.1M170.3 291.6L171.3 302.4M159.0 292.1L158.8 302.9M143.3 290.5L141.4 301.1M121.7 284.0L117.4 294.0M117.5 282.2L112.9 291.9M115.5 281.2L110.6 290.8M111.5 279.0L106.2 288.4M109.6 277.9L104.0 287.2M98.4 270.2L91.7 278.6M94.9 267.3L87.8 275.4M93.3 265.8L86.0 273.7M91.6 264.2L84.1 272.0M90.0 262.6L82.3 270.3M88.4 261.0L80.6 268.5M86.9 259.4L78.9 266.6M85.4 257.7L77.2 264.8M83.9 256.0L75.6 262.9M82.5 254.2L74.0 260.9M81.1 252.4L72.5 258.9M79.7 250.6L71.0 256.9M78.4 248.8L69.5 254.9M77.1 246.9L68.1 252.8M75.9 245.0L66.8 250.7M73.6 241.1L64.2 246.4M72.5 239.1L63.0 244.2M71.5 237.1L61.8 242.0M69.5 233.0L59.7 237.5M68.6 230.9L58.7 235.2M67.7 228.8L57.7 232.8M66.2 224.6L56.0 228.1M64.8 220.3L54.4 223.4M64.2 218.1L53.7 221.0M63.6 215.9L53.1 218.5M63.1 213.7L52.5 216.1M61.8 207.1L51.1 208.7M60.6 191.3L49.8 191.2M60.7 189.0L49.9 188.7M61.1 182.2L50.3 181.2M61.9 175.5L51.3 173.8M63.8 166.7L53.3 164.0M65.7 160.2L55.5 156.8M67.2 155.9L57.1 152.0M69.9 149.6L60.1 145.1M70.8 147.6L61.1 142.8M71.8 145.6L62.3 140.6M77.6 135.8L68.6 129.8M78.9 134.0L70.0 127.8M80.2 132.1L71.5 125.7M83.0 128.6L74.6 121.8M87.4 123.4L79.5 116.1M90.6 120.2L83.0 112.5M92.2 118.6L84.8 110.7M93.9 117.1L86.6 109.0M97.3 114.1L90.4 105.8M100.9 111.3L94.4 102.7M102.7 110.0L96.4 101.2M104.5 108.7L98.5 99.8M106.4 107.5L100.6 98.4M108.3 106.2L102.7 97.0M110.3 105.1L104.8 95.8M112.2 104.0L107.0 94.5M114.2 102.9L109.2 93.3M120.3 99.9L116.0 90.0M122.4 99.0L118.3 89.1M124.5 98.2L120.6 88.1M128.8 96.6L125.3 86.4M130.9 95.9L127.7 85.6M133.1 95.3L130.1 84.9M135.3 94.7L132.5 84.2M139.7 93.6L137.4 83.1M144.1 92.8L142.3 82.1M146.3 92.4L144.8 81.7M153.1 91.6L152.2 80.9M157.6 91.4L157.2 80.6" stroke="#abd9e9" stroke-width="1.19"/><path d="M201.1 99.7L205.4 89.8M207.2 102.6L212.2 93.0M209.2 103.7L214.4 94.2M213.1 105.9L218.8 96.7M215.1 107.1L220.9 98.0M220.7 111.0L227.1 102.3M226.0 115.2L233.0 107.0M227.7 116.7L234.9 108.6M229.4 118.2L236.7 110.3M232.6 121.3L240.3 113.8M242.8 133.5L251.6 127.2M245.3 137.2L254.4 131.4M246.5 139.1L255.7 133.5M248.8 143.0L258.2 137.8M256.1 159.6L266.3 156.1M260.6 179.4L271.3 178.1M261.3 195.2L272.1 195.6M255.3 226.2L265.4 229.9M247.6 242.5L256.9 248.0M225.8 268.4L232.8 276.6M224.1 269.8L230.8 278.2M200.9 283.8L205.2 293.7M177.1 290.8L178.8 301.4M132.3 287.9L129.2 298.2M130.1 287.2L126.8 297.5M107.6 276.7L101.9 285.9M105.7 275.5L99.8 284.5M103.9 274.2L97.7 283.1M102.0 272.9L95.7 281.7M100.2 271.6L93.7 280.2M96.7 268.7L89.7 277.0M62.6 211.5L52.0 213.7M62.2 209.3L51.5 211.2M61.0 200.3L50.2 201.3M60.8 198.1L50.0 198.8M60.7 195.8L49.9 196.3M60.9 184.5L50.1 183.7M61.6 177.8L50.9 176.3M62.8 171.1L52.2 168.9M63.3 168.9L52.7 166.4M64.4 164.5L54.0 161.5M68.1 153.8L58.1 149.7M74.0 141.6L64.7 136.2M75.2 139.7L65.9 134.1M81.6 130.3L73.0 123.7M85.9 125.1L77.8 117.9M148.6 92.1L147.3 81.4M150.8 91.8L149.7 81.1M155.3 91.5L154.7 80.7M159.9 91.3L159.7 80.5" stroke="#ffffbf" stroke-width="1.19"/><path d="M218.8 109.6L225.0 100.8M241.4 131.6L250.1 125.2M261.2 186.2L272.0 185.6M239.9 253.7L248.4 260.4M229.2 265.4L236.5 273.3M65.5 222.5L55.2 225.8M61.2 202.6L50.5 203.7M61.3 180.0L50.6 178.7M62.3 173.3L51.7 171.3M65.0 162.3L54.7 159.1M118.3 100.9L113.7 91.1M126.6 97.4L122.9 87.2M141.9 93.2L139.8 82.6" stroke="#fdae61" stroke-width="1.19"/><path d="M235.9 145.6L245.1 140.0M247.0 173.1L257.5 170.8M248.0 179.0L258.7 177.4M248.5 182.9L259.3 181.8M248.9 190.8L259.7 190.7M248.5 200.7L259.2 201.8M246.0 214.3L256.4 217.1M240.5 229.2L250.3 233.8M234.8 239.6L243.8 245.5M228.9 247.6L237.2 254.5M214.7 261.4L221.3 269.9M208.2 265.9L214.0 275.0M204.8 268.0L210.2 277.3M203.1 268.9L208.3 278.4M194.1 273.2L198.2 283.2M192.3 273.9L196.1 284.0M188.6 275.2L191.9 285.5M184.8 276.4L187.7 286.8M179.0 277.8L181.2 288.4M177.0 278.2L179.0 288.8M175.1 278.5L176.8 289.2M171.2 279.1L172.4 289.8M169.2 279.3L170.2 290.0M167.2 279.4L168.0 290.2M165.2 279.5L165.8 290.3M159.3 279.6L159.1 290.4M157.3 279.6L156.8 290.4M155.3 279.5L154.6 290.2M153.3 279.3L152.4 290.1M151.4 279.1L150.2 289.9M147.4 278.6L145.8 289.3M143.5 277.9L141.4 288.5M137.8 276.5L134.9 286.9M126.5 272.6L122.3 282.5M117.6 268.2L112.3 277.6M115.9 267.2L110.4 276.5M106.2 260.5L99.4 268.9M97.4 252.4L89.6 259.9M94.7 249.5L86.6 256.6M89.8 243.3L81.0 249.6M86.5 238.4L77.3 244.1M80.0 226.1L70.1 230.3M78.6 222.4L68.5 226.2M75.7 212.9L65.2 215.5M75.2 211.0L64.7 213.4M73.1 195.3L62.3 195.7M73.1 193.3L62.3 193.5M73.2 187.4L62.4 186.8M74.9 173.6L64.4 171.4M78.2 162.2L68.0 158.6M78.8 160.3L68.7 156.5M83.8 149.5L74.3 144.4M90.2 139.5L81.5 133.1M93.9 134.8L85.7 127.9M102.2 126.3L95.0 118.3M103.7 125.0L96.6 116.8M106.7 122.5L100.1 114.0M113.2 117.9L107.3 108.8M120.0 113.9L115.0 104.3M121.8 113.0L117.0 103.3M134.6 107.8L131.4 97.5M138.5 106.7L135.7 96.2M140.4 106.2L137.8 95.7M142.3 105.8L140.0 95.2M148.2 104.7L146.6 94.0" stroke="#2c7bb6" stroke-width="1.05"/><path d="M197.9 111.9L202.5 102.1M199.7 112.7L204.5 103.0M203.3 114.6L208.4 105.1M206.7 116.5L212.3 107.3M210.0 118.7L216.0 109.7M213.3 121.0L219.7 112.3M214.8 122.2L221.5 113.6M216.4 123.4L223.2 115.0M217.9 124.7L224.9 116.4M222.3 128.7L229.9 120.9M231.5 139.1L240.1 132.6M232.6 140.7L241.4 134.4M233.8 142.3L242.7 136.2M234.9 144.0L243.9 138.1M238.9 150.8L248.4 145.8M239.8 152.6L249.4 147.8M240.6 154.4L250.4 149.8M241.5 156.2L251.3 151.8M243.0 159.8L253.0 155.9M244.3 163.6L254.6 160.1M244.9 165.4L255.2 162.2M245.5 167.3L255.9 164.3M246.0 169.2L256.5 166.5M246.5 171.2L257.0 168.6M247.4 175.0L258.0 173.0M248.3 180.9L259.0 179.6M248.7 184.9L259.5 184.0M248.9 188.8L259.7 188.5M248.9 192.8L259.7 192.9M248.9 194.8L259.7 195.1M248.8 196.7L259.6 197.4M248.0 204.6L258.7 206.2M247.7 206.6L258.3 208.4M246.9 210.5L257.5 212.8M246.5 212.4L257.0 215.0M245.5 216.2L255.8 219.3M244.9 218.1L255.2 221.4M242.9 223.8L253.0 227.7M242.2 225.6L252.1 229.8M236.8 236.2L246.2 241.7M232.5 242.9L241.3 249.2M231.4 244.5L240.0 251.0M227.6 249.1L235.8 256.2M226.3 250.6L234.3 257.8M225.0 252.1L232.8 259.5M217.8 258.9L224.8 267.1M216.3 260.1L223.0 268.5M213.1 262.5L219.5 271.2M211.5 263.7L217.7 272.5M209.9 264.8L215.9 273.8M206.5 267.0L212.1 276.2M201.3 269.9L206.3 279.5M199.6 270.7L204.3 280.5M197.8 271.6L202.3 281.4M196.0 272.4L200.3 282.3M190.4 274.6L194.0 284.8M186.7 275.8L189.8 286.2M182.8 276.9L185.5 287.4M173.1 278.8L174.6 289.5M163.2 279.6L163.5 290.4M149.4 278.9L148.0 289.6M141.6 277.5L139.2 288.0M139.7 277.0L137.1 287.5M132.1 274.8L128.5 285.0M130.2 274.1L126.4 284.2M128.4 273.4L124.4 283.4M121.1 270.1L116.2 279.7M119.4 269.2L114.3 278.7M114.2 266.2L108.5 275.3M112.6 265.1L106.6 274.1M109.3 262.9L103.0 271.6M107.7 261.7L101.2 270.3M104.6 259.2L97.7 267.5M103.1 257.9L96.0 266.1M101.6 256.6L94.4 264.6M100.2 255.2L92.7 263.0M98.8 253.9L91.1 261.5M96.0 251.0L88.1 258.3M93.4 248.0L85.1 254.9M88.6 241.7L79.8 247.8M87.5 240.0L78.5 246.0M83.5 233.2L74.0 238.3M82.6 231.5L72.9 236.4M79.3 224.2L69.3 228.2M77.9 220.5L67.7 224.1M77.3 218.7L67.0 222.0M76.7 216.8L66.3 219.8M76.2 214.9L65.7 217.7M74.1 205.2L63.4 206.8M73.6 201.2L62.8 202.4M73.4 199.3L62.6 200.2M73.2 197.3L62.4 198.0M73.1 191.3L62.3 191.3M73.1 189.4L62.3 189.1M73.3 185.4L62.5 184.6M73.4 183.4L62.7 182.4M73.9 179.5L63.2 178.0M74.2 177.5L63.5 175.8M75.4 171.7L64.8 169.2M75.8 169.8L65.4 167.1M79.6 158.5L69.6 154.4M80.3 156.7L70.4 152.3M81.1 154.8L71.3 150.3M82.0 153.1L72.3 148.3M82.9 151.3L73.3 146.3M84.8 147.8L75.4 142.4M86.8 144.4L77.7 138.6M87.9 142.8L79.0 136.7M89.1 141.1L80.2 134.9M91.4 137.9L82.9 131.3M92.6 136.4L84.2 129.6M95.2 133.3L87.1 126.2M96.5 131.9L88.6 124.5M97.9 130.4L90.1 122.9M99.3 129.0L91.7 121.3M100.7 127.7L93.3 119.8M105.2 123.7L98.3 115.4M108.3 121.3L101.8 112.6M114.9 116.8L109.2 107.6M116.6 115.8L111.1 106.5M118.3 114.8L113.0 105.4M125.4 111.3L121.0 101.4M127.2 110.5L123.0 100.5M129.0 109.8L125.1 99.7M130.9 109.1L127.2 98.9M132.8 108.4L129.3 98.2M136.5 107.2L133.5 96.8M146.2 105.0L144.4 94.4M150.1 104.4L148.8 93.7M154.1 104.0L153.2 93.3M156.0 103.9L155.4 93.1M160.0 103.8L159.9 93.0" stroke="#abd9e9" stroke-width="1.05"/><path d="M201.5 113.6L206.5 104.0M205.0 115.5L210.4 106.2M220.9 127.3L228.2 119.4M223.7 130.1L231.4 122.5M225.1 131.5L233.0 124.1M236.9 147.3L246.3 141.9M237.9 149.1L247.4 143.8M243.7 161.7L253.8 158.0M247.7 177.0L258.4 175.2M248.7 198.7L259.4 199.6M248.3 202.7L259.0 204.0M247.3 208.5L257.9 210.6M237.8 234.5L247.3 239.8M235.8 237.9L245.0 243.6M220.8 256.2L228.1 264.2M180.9 277.4L183.4 287.9M161.3 279.6L161.3 290.4M145.5 278.3L143.6 288.9M124.7 271.8L120.3 281.7M122.9 271.0L118.2 280.7M110.9 264.0L104.8 272.9M91.0 244.9L82.4 251.4M85.4 236.7L76.1 242.2M84.4 235.0L75.0 240.3M81.7 229.7L71.9 234.4M80.8 227.9L71.0 232.3M74.8 209.1L64.2 211.2M74.4 207.1L63.8 209.0M73.8 203.2L63.1 204.6M73.6 181.4L62.9 180.2M74.5 175.6L63.9 173.6M76.3 167.8L66.0 164.9M76.9 165.9L66.6 162.8M109.9 120.1L103.6 111.3M111.5 119.0L105.5 110.1M123.6 112.1L119.0 102.3M152.1 104.2L151.0 93.5" stroke="#ffffbf" stroke-width="1.05"/><path d="M196.1 111.1L200.4 101.2M208.4 117.6L214.2 108.5M211.7 119.8L217.9 111.0M219.4 126.0L226.6 117.9M242.2 158.0L252.2 153.8M248.8 186.8L259.6 186.2M92.2 246.5L83.7 253.2M77.5 164.1L67.3 160.7M144.3 105.4L142.2 94.8M158.0 103.8L157.7 93.0" stroke="#fdae61" stroke-width="1.05"/><path d="M194.3 123.9L199.0 114.2M195.8 124.7L200.8 115.1M198.8 126.3L204.2 116.9M204.5 130.0L210.7 121.1M227.9 156.6L237.4 151.6M231.4 164.3L241.5 160.4M232.0 165.9L242.1 162.2M234.4 174.1L244.9 171.5M235.2 177.4L245.8 175.4M235.5 179.1L246.1 177.3M236.5 192.6L247.3 192.8M236.5 194.3L247.3 194.7M235.4 204.5L246.1 206.3M234.0 211.1L244.4 213.9M229.3 223.9L239.1 228.5M226.1 229.9L235.4 235.4M224.3 232.8L233.4 238.7M215.9 243.5L223.8 250.9M213.5 245.9L221.1 253.7M211.0 248.3L218.2 256.3M207.1 251.5L213.7 260.1M205.7 252.5L212.1 261.2M204.4 253.5L210.6 262.4M201.5 255.4L207.3 264.5M198.6 257.2L204.0 266.5M197.1 258.0L202.3 267.5M194.1 259.6L198.8 269.3M189.5 261.7L193.5 271.7M187.9 262.3L191.7 272.4M184.7 263.4L188.0 273.7M183.0 263.9L186.2 274.3M178.1 265.3L180.5 275.8M176.4 265.6L178.6 276.2M174.8 266.0L176.7 276.6M171.4 266.5L172.9 277.2M169.7 266.7L171.0 277.4M162.9 267.2L163.2 278.0M159.5 267.2L159.3 278.0M157.8 267.2L157.4 277.9M131.4 261.2L127.2 271.1M129.8 260.5L125.4 270.3M128.3 259.8L123.6 269.5M126.8 259.0L121.9 268.6M125.3 258.2L120.2 267.7M123.8 257.4L118.5 266.8M119.4 254.7L113.5 263.8M113.9 250.7L107.2 259.2M112.6 249.7L105.7 258.0M111.3 248.6L104.2 256.7M110.0 247.4L102.7 255.4M107.6 245.1L99.9 252.7M103.0 240.0L94.7 247.0M101.9 238.7L93.5 245.4M99.8 236.0L91.1 242.4M98.9 234.6L90.0 240.8M97.9 233.2L88.9 239.1M97.0 231.8L87.8 237.5M96.1 230.3L86.8 235.9M93.6 225.9L84.0 230.7M92.2 222.8L82.3 227.2M91.5 221.2L81.5 225.4M90.8 219.6L80.8 223.6M87.7 209.9L77.2 212.5M85.5 194.8L74.8 195.2M85.5 193.1L74.7 193.3M85.7 186.3L74.9 185.5M86.5 179.5L75.8 177.8M87.1 176.2L76.5 174.0M87.5 174.5L76.9 172.1M91.7 161.6L81.8 157.3M93.9 157.0L84.3 152.0M94.7 155.5L85.2 150.3M97.3 151.1L88.2 145.3M98.3 149.7L89.3 143.7M99.2 148.3L90.4 142.1M100.2 146.9L91.5 140.5M103.4 142.9L95.1 135.9M106.8 139.1L99.1 131.6M108.0 137.9L100.4 130.2M109.2 136.7L101.8 128.8M113.1 133.3L106.2 125.0M114.4 132.3L107.7 123.8M117.1 130.2L110.9 121.4M119.9 128.3L114.1 119.3M122.8 126.5L117.4 117.2M124.3 125.7L119.1 116.2M125.8 124.9L120.8 115.3M127.3 124.1L122.5 114.4M133.6 121.3L129.6 111.3M138.4 119.7L135.1 109.3M140.0 119.2L137.0 108.8M141.6 118.7L138.9 108.3M143.3 118.3L140.8 107.8M150.0 117.0L148.4 106.3M151.7 116.8L150.3 106.0" stroke="#2c7bb6" stroke-width="0.91"/><path d="M191.2 122.5L195.5 112.6M192.7 123.2L197.3 113.4M200.2 127.2L205.8 117.9M203.1 129.0L209.1 120.0M205.9 131.0L212.3 122.3M207.2 132.0L213.9 123.5M209.9 134.1L216.9 125.9M211.2 135.3L218.3 127.2M225.3 152.1L234.5 146.5M226.2 153.6L235.5 148.2M227.1 155.1L236.5 149.9M228.6 158.1L238.3 153.3M229.4 159.6L239.2 155.1M230.1 161.2L240.0 156.8M233.1 169.1L243.4 165.9M234.0 172.4L244.5 169.7M234.8 175.7L245.4 173.4M235.7 180.8L246.4 179.2M236.0 182.4L246.7 181.1M236.1 184.1L246.9 183.1M236.3 185.8L247.1 185.0M236.5 189.2L247.3 188.9M236.5 190.9L247.3 190.8M236.4 196.0L247.2 196.7M236.1 199.4L246.9 200.5M235.9 201.1L246.6 202.5M235.7 202.8L246.4 204.4M234.8 207.8L245.3 210.1M234.4 209.5L244.9 212.0M233.5 212.8L243.9 215.8M233.0 214.4L243.3 217.7M232.5 216.0L242.7 219.5M231.9 217.6L242.1 221.3M228.6 225.4L238.2 230.3M220.4 238.4L228.9 245.0M212.3 247.1L219.6 255.0M203.0 254.5L209.0 263.5M200.1 256.3L205.7 265.6M195.6 258.8L200.6 268.4M186.3 262.9L189.9 273.0M181.4 264.4L184.3 274.8M179.8 264.9L182.4 275.3M173.1 266.2L174.8 276.9M161.2 267.2L161.3 278.0M122.3 256.6L116.8 265.8M120.9 255.7L115.1 264.8M116.6 252.8L110.3 261.5M115.3 251.8L108.7 260.4M108.8 246.3L101.3 254.1M106.4 243.9L98.6 251.3M105.2 242.6L97.2 249.9M104.1 241.3L95.9 248.4M100.9 237.4L92.3 243.9M95.3 228.9L85.8 234.2M94.4 227.4L84.9 232.5M92.9 224.3L83.2 229.0M90.2 218.1L80.1 221.8M89.7 216.5L79.5 220.0M89.1 214.8L78.8 218.2M88.1 211.6L77.7 214.4M87.0 206.6L76.4 208.7M86.6 204.9L76.0 206.8M86.4 203.3L75.7 204.9M85.5 189.7L74.7 189.4M85.6 188.0L74.8 187.5M86.0 182.9L75.3 181.6M86.8 177.8L76.1 175.9M87.9 172.9L77.4 170.2M88.8 169.6L78.5 166.4M89.3 168.0L79.1 164.6M89.9 166.4L79.7 162.7M90.4 164.8L80.4 160.9M92.4 160.1L82.6 155.5M95.6 154.0L86.2 148.6M101.2 145.5L92.7 138.9M102.3 144.2L93.9 137.4M104.5 141.6L96.4 134.4M105.6 140.3L97.7 133.0M111.8 134.4L104.7 126.2M115.8 131.2L109.3 122.6M118.5 129.3L112.4 120.3M128.9 123.4L124.3 113.6M130.4 122.7L126.0 112.8M132.0 122.0L127.8 112.0M136.8 120.2L133.3 110.0M145.0 117.9L142.7 107.4M146.6 117.6L144.6 107.0M148.3 117.3L146.5 106.6M153.4 116.6L152.3 105.8M155.0 116.4L154.2 105.6M156.7 116.3L156.1 105.5M158.4 116.2L158.1 105.4M160.1 116.2L160.0 105.4" stroke="#abd9e9" stroke-width="0.91"/><path d="M197.3 125.5L202.5 116.0M201.7 128.1L207.5 119.0M208.6 133.0L215.4 124.7M230.8 162.8L240.7 158.6M232.5 167.5L242.8 164.1M236.3 197.7L247.0 198.6M235.1 206.2L245.7 208.2M227.0 228.5L236.4 233.7M192.6 260.3L197.1 270.1M191.0 261.0L195.3 270.9M118.0 253.8L111.9 262.7M88.6 213.2L78.3 216.3M87.3 208.3L76.8 210.6M85.6 196.5L74.9 197.2M85.5 191.4L74.7 191.3M85.8 184.6L75.1 183.6M86.2 181.2L75.5 179.7M88.3 171.2L77.9 168.3M91.1 163.2L81.1 159.1M93.2 158.5L83.5 153.8M96.4 152.5L87.2 146.9M110.5 135.6L103.3 127.5M121.4 127.4L115.7 118.2M135.1 120.7L131.4 110.6" stroke="#ffffbf" stroke-width="0.91"/><path d="M233.6 170.8L243.9 167.8M236.4 187.5L247.2 186.9" stroke="#fdae61" stroke-width="0.91"/><path d="M187.85 128.14 A69.00 69.00 0 0 1 188.95 128.62" fill="none" stroke="#cb181d" stroke-width="6.40"/><path d="M188.95 128.62 A69.00 69.00 0 0 1 199.98 134.77" fill="none" stroke="#fd8d3c" stroke-width="6.40"/><path d="M199.98 134.77 A69.00 69.00 0 0 1 213.00 146.34" fill="none" stroke="#fdd0a2" stroke-width="6.40"/><path d="M213.00 146.34 A69.00 69.00 0 0 1 228.84 204.27" fill="none" stroke="#807dba" stroke-width="6.40"/><path d="M228.84 204.27 A69.00 69.00 0 0 1 125.15 250.66" fill="none" stroke="#a1d99b" stroke-width="6.40"/><path d="M125.15 250.66 A69.00 69.00 0 0 1 161.00 122.70" fill="none" stroke="#2171b5" stroke-width="6.40"/><text x="162.8" y="38.15" font-size="6" fill="#111" textLength="20.7" lengthAdjust="spacingAndGlyphs" font-family="Liberation Sans, sans-serif">HDRNet</text><text x="162.8" y="50.65" font-size="6" fill="#111" textLength="23.1" lengthAdjust="spacingAndGlyphs" font-family="Liberation Sans, sans-serif">PrismNet</text><text x="162.8" y="63.25" font-size="6" fill="#111" textLength="15.3" lengthAdjust="spacingAndGlyphs" font-family="Liberation Sans, sans-serif">DMSK</text><text x="162.8" y="75.85" font-size="6" fill="#111" textLength="14.7" lengthAdjust="spacingAndGlyphs" font-family="Liberation Sans, sans-serif">iDeep</text><text x="162.8" y="88.25" font-size="6" fill="#111" textLength="26.3" lengthAdjust="spacingAndGlyphs" font-family="Liberation Sans, sans-serif">GraphProt</text><text x="162.8" y="100.55" font-size="6" fill="#111" textLength="25.0" lengthAdjust="spacingAndGlyphs" font-family="Liberation Sans, sans-serif">DeepBind</text><text x="162.8" y="112.75" font-size="6" fill="#111" textLength="29.2" lengthAdjust="spacingAndGlyphs" font-family="Liberation Sans, sans-serif">PRIESSTESS</text><defs><linearGradient id="cb" x1="0" x2="1" y1="0" y2="0"><stop offset="0" stop-color="#2c7bb6"/><stop offset="0.3" stop-color="#2c7bb6"/><stop offset="0.42" stop-color="#abd9e9"/><stop offset="0.52" stop-color="#ffffbf"/><stop offset="0.62" stop-color="#fdae61"/><stop offset="0.72" stop-color="#d7191c"/><stop offset="1" stop-color="#d7191c"/></linearGradient></defs><rect x="141.4" y="196.1" width="40" height="7.8" fill="url(#cb)"/><text x="139.6" y="193.8" font-size="5.6" fill="#222" font-family="Liberation Sans, sans-serif">0.5</text><text x="156" y="193.8" font-size="5.6" fill="#222" font-family="Liberation Sans, sans-serif">AUC</text><text x="175.2" y="193.8" font-size="5.6" fill="#222" font-family="Liberation Sans, sans-serif">1.0</text><text x="115.8" y="182.9" font-size="4.7" fill="#3a3a3a" text-anchor="middle" textLength="24.7" lengthAdjust="spacingAndGlyphs" transform="rotate(14.3 115.8 181.2)" font-family="Liberation Sans, sans-serif">K562(112)</text><text x="206.5" y="182.0" font-size="4.7" fill="#3a3a3a" text-anchor="middle" textLength="27.7" lengthAdjust="spacingAndGlyphs" transform="rotate(-16.5 206.5 180.3)" font-family="Liberation Sans, sans-serif">HEK293(38)</text><text x="179.7" y="236.5" font-size="4.7" fill="#3a3a3a" text-anchor="middle" textLength="23.8" lengthAdjust="spacingAndGlyphs" transform="rotate(64.0 179.7 234.8)" font-family="Liberation Sans, sans-serif">HepG2(84)</text><text x="192.2" y="159.5" font-size="4.7" fill="#3a3a3a" text-anchor="middle" textLength="23.3" lengthAdjust="spacingAndGlyphs" transform="rotate(-47.6 192.2 157.8)" font-family="Liberation Sans, sans-serif">HeLa(17)</text><text x="184.0" y="153.5" font-size="4.7" fill="#3a3a3a" text-anchor="middle" textLength="27.9" lengthAdjust="spacingAndGlyphs" transform="rotate(-56.8 184.0 151.8)" font-family="Liberation Sans, sans-serif">HEK293T(9)</text><text x="180.0" y="150.9" font-size="4.7" fill="#3a3a3a" text-anchor="middle" textLength="14.8" lengthAdjust="spacingAndGlyphs" transform="rotate(-57.0 180.0 149.2)" font-family="Liberation Sans, sans-serif">hES(1)</text><line x1="385.9" y1="1.2" x2="385.9" y2="189.1" stroke="#222" stroke-width="1.1"/><line x1="385.4" y1="188.6" x2="653.4" y2="188.6" stroke="#222" stroke-width="1.1"/><line x1="382" y1="30.10" x2="385.9" y2="30.10" stroke="#222" stroke-width="1"/><text x="379" y="32.60" font-size="7" fill="#333" text-anchor="end" font-family="Liberation Sans, sans-serif">1.2</text><line x1="382" y1="73.80" x2="385.9" y2="73.80" stroke="#222" stroke-width="1"/><text x="379" y="76.30" font-size="7" fill="#333" text-anchor="end" font-family="Liberation Sans, sans-serif">1.0</text><line x1="382" y1="117.50" x2="385.9" y2="117.50" stroke="#222" stroke-width="1"/><text x="379" y="120.00" font-size="7" fill="#333" text-anchor="end" font-family="Liberation Sans, sans-serif">0.8</text><line x1="382" y1="161.20" x2="385.9" y2="161.20" stroke="#222" stroke-width="1"/><text x="379" y="163.70" font-size="7" fill="#333" text-anchor="end" font-family="Liberation Sans, sans-serif">0.6</text><text x="0" y="0" font-size="8.6" fill="#222" text-anchor="middle" transform="translate(362.6 94.85) rotate(-90)" font-family="Liberation Sans, sans-serif">AUC</text><line x1="408.2" y1="188.6" x2="408.2" y2="191.6" stroke="#222" stroke-width="1"/><text x="408.2" y="202.1" font-size="7.3" fill="#222" text-anchor="middle" font-family="Liberation Sans, sans-serif">HDRNet</text><line x1="445.4" y1="188.6" x2="445.4" y2="191.6" stroke="#222" stroke-width="1"/><text x="445.4" y="202.1" font-size="7.3" fill="#222" text-anchor="middle" font-family="Liberation Sans, sans-serif">Prismnet</text><line x1="482.4" y1="188.6" x2="482.4" y2="191.6" stroke="#222" stroke-width="1"/><text x="482.4" y="202.1" font-size="7.3" fill="#222" text-anchor="middle" font-family="Liberation Sans, sans-serif">Graphprot</text><line x1="519.5" y1="188.6" x2="519.5" y2="191.6" stroke="#222" stroke-width="1"/><text x="519.5" y="202.1" font-size="7.3" fill="#222" text-anchor="middle" font-family="Liberation Sans, sans-serif">deepbind</text><line x1="556.7" y1="188.6" x2="556.7" y2="191.6" stroke="#222" stroke-width="1"/><text x="556.7" y="202.1" font-size="7.3" fill="#222" text-anchor="middle" font-family="Liberation Sans, sans-serif">iDeep</text><line x1="594.1" y1="188.6" x2="594.1" y2="191.6" stroke="#222" stroke-width="1"/><text x="594.1" y="202.1" font-size="7.3" fill="#222" text-anchor="middle" font-family="Liberation Sans, sans-serif">DMSK</text><line x1="630.6" y1="188.6" x2="630.6" y2="191.6" stroke="#222" stroke-width="1"/><text x="630.6" y="202.1" font-size="7.3" fill="#222" text-anchor="middle" font-family="Liberation Sans, sans-serif">PRIESSTESS</text><path d="M408.2 69.0 V66.6 H445.4 V69.0" fill="none" stroke="#111" stroke-width="1"/><text x="426.8" y="63.8" font-size="5.6" fill="#222" text-anchor="middle" font-family="Liberation Sans, sans-serif"><tspan font-style="italic">p</tspan> = 6.3e-05</text><path d="M408.2 58.1 V55.7 H482.4 V58.1" fill="none" stroke="#111" stroke-width="1"/><text x="445.3" y="52.9" font-size="5.6" fill="#222" text-anchor="middle" font-family="Liberation Sans, sans-serif"><tspan font-style="italic">p</tspan> = 4.2e-44</text><path d="M408.2 47.4 V45.0 H519.5 V47.4" fill="none" stroke="#111" stroke-width="1"/><text x="463.9" y="42.2" font-size="5.6" fill="#222" text-anchor="middle" font-family="Liberation Sans, sans-serif"><tspan font-style="italic">p</tspan> = 2.1e-76</text><path d="M408.2 36.9 V34.5 H556.7 V36.9" fill="none" stroke="#111" stroke-width="1"/><text x="482.5" y="31.7" font-size="5.6" fill="#222" text-anchor="middle" font-family="Liberation Sans, sans-serif"><tspan font-style="italic">p</tspan> = 1.5e-32</text><path d="M408.2 26.1 V23.7 H594.1 V26.1" fill="none" stroke="#111" stroke-width="1"/><text x="501.1" y="20.9" font-size="5.6" fill="#222" text-anchor="middle" font-family="Liberation Sans, sans-serif"><tspan font-style="italic">p</tspan> = 4.2e-28</text><path d="M408.2 15.5 V13.1 H630.6 V15.5" fill="none" stroke="#111" stroke-width="1"/><text x="519.4" y="10.3" font-size="5.6" fill="#222" text-anchor="middle" font-family="Liberation Sans, sans-serif"><tspan font-style="italic">p</tspan> = 1.8e-130</text><path d="M408.20 130.17 L408.55 129.49 L408.81 128.81 L408.97 128.13 L409.10 127.45 L409.20 126.77 L409.31 126.09 L409.43 125.41 L409.56 124.73 L409.69 124.05 L409.83 123.37 L409.97 122.69 L410.11 122.01 L410.27 121.33 L410.44 120.65 L410.63 119.97 L410.83 119.29 L411.04 118.61 L411.25 117.93 L411.48 117.25 L411.71 116.57 L411.95 115.88 L412.20 115.20 L412.48 114.52 L412.77 113.84 L413.06 113.16 L413.37 112.48 L413.66 111.80 L413.95 111.12 L414.23 110.44 L414.49 109.76 L414.76 109.08 L415.02 108.40 L415.28 107.72 L415.53 107.04 L415.78 106.36 L416.02 105.68 L416.24 105.00 L416.46 104.32 L416.65 103.64 L416.84 102.96 L417.01 102.28 L417.18 101.60 L417.34 100.92 L417.51 100.24 L417.68 99.56 L417.85 98.87 L418.04 98.19 L418.22 97.51 L418.40 96.83 L418.59 96.15 L418.79 95.47 L419.03 94.79 L419.30 94.11 L419.70 93.43 L420.16 92.75 L420.61 92.07 L420.96 91.39 L421.20 90.71 L421.42 90.03 L421.60 89.35 L421.69 88.67 L421.62 87.99 L421.27 87.31 L420.76 86.63 L420.20 85.95 L419.65 85.27 L419.00 84.59 L418.28 83.91 L417.52 83.23 L416.75 82.55 L415.99 81.87 L415.23 81.18 L414.45 80.50 L413.63 79.82 L412.75 79.14 L411.79 78.46 L410.70 77.78 L409.49 77.10 L408.20 76.42 L408.20 76.42 L406.91 77.10 L405.70 77.78 L404.61 78.46 L403.65 79.14 L402.77 79.82 L401.95 80.50 L401.17 81.18 L400.41 81.87 L399.65 82.55 L398.88 83.23 L398.12 83.91 L397.40 84.59 L396.75 85.27 L396.20 85.95 L395.64 86.63 L395.13 87.31 L394.78 87.99 L394.71 88.67 L394.80 89.35 L394.98 90.03 L395.20 90.71 L395.44 91.39 L395.79 92.07 L396.24 92.75 L396.70 93.43 L397.10 94.11 L397.37 94.79 L397.61 95.47 L397.81 96.15 L398.00 96.83 L398.18 97.51 L398.36 98.19 L398.55 98.87 L398.72 99.56 L398.89 100.24 L399.06 100.92 L399.22 101.60 L399.39 102.28 L399.56 102.96 L399.75 103.64 L399.94 104.32 L400.16 105.00 L400.38 105.68 L400.62 106.36 L400.87 107.04 L401.12 107.72 L401.38 108.40 L401.64 109.08 L401.91 109.76 L402.17 110.44 L402.45 111.12 L402.74 111.80 L403.03 112.48 L403.34 113.16 L403.63 113.84 L403.92 114.52 L404.20 115.20 L404.45 115.88 L404.69 116.57 L404.92 117.25 L405.15 117.93 L405.36 118.61 L405.57 119.29 L405.77 119.97 L405.96 120.65 L406.13 121.33 L406.29 122.01 L406.43 122.69 L406.57 123.37 L406.71 124.05 L406.84 124.73 L406.97 125.41 L407.09 126.09 L407.20 126.77 L407.30 127.45 L407.43 128.13 L407.59 128.81 L407.85 129.49 L408.20 130.17 Z" fill="#9bd7ec" stroke="#111" stroke-width="1.05" stroke-linejoin="round"/><rect x="400.60" y="88.44" width="15.20" height="19.23" fill="#4ab5d9" stroke="#111" stroke-width="1.1"/><line x1="400.60" y1="96.96" x2="415.80" y2="96.96" stroke="#111" stroke-width="1.6"/><path d="M407.9 111.0h0M407.5 95.1h0M409.6 92.1h0M409.7 121.1h0M408.2 110.7h0M409.7 81.6h0M407.3 115.9h0M407.5 110.9h0M408.6 81.3h0M406.9 91.3h0M407.1 100.0h0M406.6 94.6h0M407.0 89.9h0M409.9 103.3h0M409.5 111.4h0M406.3 86.9h0M407.4 90.0h0M409.3 94.5h0M410.0 85.8h0M408.5 93.6h0M409.2 79.4h0M406.9 107.1h0M409.6 93.4h0M409.8 96.2h0M407.7 100.8h0M406.9 92.2h0M405.9 105.4h0M408.8 86.8h0M408.9 84.9h0M406.0 111.2h0M408.3 95.9h0M410.4 103.9h0M406.3 114.7h0M406.4 82.9h0M406.0 97.6h0M407.9 110.2h0M407.6 90.3h0M410.0 106.8h0M406.0 83.4h0M406.7 106.6h0M409.8 120.5h0M405.9 106.7h0M407.0 100.6h0M407.7 96.0h0M405.7 82.9h0M407.1 89.0h0M408.7 100.9h0M408.6 123.6h0M408.7 109.5h0M408.8 77.9h0M408.8 97.0h0M405.9 89.3h0M408.8 118.2h0M408.5 121.0h0M406.8 85.4h0M407.8 92.7h0M406.9 102.1h0M410.0 102.0h0M407.3 114.3h0M406.6 108.8h0M409.2 121.9h0M409.5 85.1h0M410.0 96.1h0M409.0 112.1h0M407.8 88.3h0M408.1 107.5h0M408.4 116.8h0M408.7 91.9h0M410.4 83.3h0M407.4 121.7h0M409.5 86.6h0M405.9 107.8h0M406.9 114.1h0M409.7 123.5h0M407.0 103.1h0M408.3 88.8h0M410.3 95.3h0M409.0 85.5h0M408.1 106.4h0M409.2 102.2h0M410.6 104.7h0M410.1 79.4h0M406.6 82.2h0M406.4 101.1h0M407.1 97.7h0M406.4 102.5h0M409.5 88.3h0M409.4 119.5h0M406.8 116.8h0M406.1 98.9h0M407.3 104.9h0M409.1 85.4h0M409.6 88.2h0M408.0 94.4h0M408.9 90.9h0M410.3 89.6h0M410.1 87.3h0M406.3 82.3h0M409.2 110.3h0M409.6 91.6h0M410.0 110.8h0M407.8 97.8h0M406.5 87.4h0M408.1 83.3h0M407.6 87.9h0M407.8 120.3h0M409.7 100.4h0M408.9 109.0h0M408.8 77.1h0M408.9 110.4h0M406.4 104.7h0M406.0 100.5h0M407.8 117.5h0M409.9 84.5h0M408.9 91.3h0M409.5 109.4h0M408.8 95.1h0M409.3 115.1h0M410.7 91.9h0M409.3 105.5h0M409.5 120.2h0M410.2 112.4h0M409.4 93.6h0M409.8 91.5h0M406.1 101.8h0M405.9 91.0h0M410.3 100.7h0M407.0 111.0h0M407.2 102.1h0M406.4 99.0h0M408.9 82.6h0M406.2 112.7h0M409.4 114.5h0M407.2 93.2h0M409.3 80.3h0M410.3 82.9h0M409.2 89.5h0M407.9 116.4h0M408.8 86.9h0M410.0 90.0h0M409.1 110.7h0M407.0 96.8h0M406.4 118.6h0M410.1 86.7h0M408.8 88.8h0M406.0 86.5h0M408.5 88.0h0M408.6 104.4h0M407.2 86.9h0M410.1 105.1h0M407.0 110.9h0M406.4 99.2h0M407.2 95.6h0M407.4 103.4h0M410.1 91.8h0M409.0 92.3h0M406.3 105.8h0M407.7 91.3h0M406.2 100.4h0M409.2 88.4h0M410.0 103.0h0M406.2 86.5h0M408.2 98.1h0M406.9 93.6h0M407.1 89.8h0M409.4 94.9h0M410.6 105.3h0M407.3 79.4h0M408.4 113.9h0M407.3 101.5h0M406.0 93.6h0M408.6 121.1h0M406.6 109.9h0M409.1 86.4h0M409.4 87.6h0M406.4 91.6h0M408.7 83.5h0M406.7 88.0h0M409.5 103.1h0M407.1 90.8h0M409.1 100.7h0M408.9 87.9h0M408.6 99.5h0M406.9 109.8h0M409.9 83.7h0M407.5 89.3h0M409.6 87.8h0M408.1 93.1h0M407.9 87.2h0M409.3 96.9h0M407.4 93.6h0M409.2 116.3h0M407.9 93.3h0M409.4 85.7h0M409.2 89.5h0M410.4 86.7h0M407.7 95.2h0M407.4 84.1h0M410.3 112.3h0M408.3 83.9h0M407.8 100.4h0M409.0 113.9h0M407.0 91.7h0M410.5 96.7h0M409.5 97.4h0M408.9 85.6h0M407.3 111.3h0M409.7 91.2h0M410.3 98.4h0M409.7 94.1h0M410.3 95.3h0M406.4 111.1h0M409.4 95.0h0M410.0 84.3h0M408.1 108.9h0M406.8 124.7h0M408.4 116.7h0M406.9 96.8h0M406.2 79.9h0M409.8 118.9h0M409.5 78.7h0M408.9 94.4h0M409.3 112.0h0M409.1 98.4h0M408.0 106.9h0M406.3 88.6h0M407.1 94.1h0M408.2 103.4h0M408.6 105.3h0M407.2 84.7h0M406.3 87.6h0M407.4 97.6h0M406.6 99.2h0M410.4 89.0h0M407.0 80.1h0M407.8 115.3h0M408.4 109.6h0M407.0 100.4h0M408.2 94.6h0M408.4 116.1h0M406.5 118.1h0M410.4 106.4h0M408.4 99.8h0M406.4 88.0h0M410.6 92.0h0M407.0 121.1h0M409.0 118.9h0M408.1 96.6h0M407.0 84.5h0M407.6 82.5h0M408.1 100.5h0M407.6 83.6h0M406.9 82.0h0M407.8 98.8h0M407.9 88.0h0M409.1 100.0h0M406.8 109.7h0M405.9 92.4h0M409.6 114.7h0M406.0 89.9h0M408.9 86.6h0M408.4 82.5h0M410.6 96.7h0M406.9 112.4h0M410.1 83.3h0M406.4 84.5h0M406.7 80.1h0M409.0 92.1h0M406.5 90.1h0M408.6 100.4h0M409.0 108.4h0M406.3 102.8h0M409.7 88.9h0M407.8 101.7h0M410.5 89.6h0M405.8 95.4h0M406.1 97.1h0M408.7 80.0h0M407.1 109.1h0M407.7 95.5h0M410.1 110.1h0M407.4 81.6h0M406.0 95.7h0M406.4 101.5h0M408.5 109.3h0M409.6 92.0h0M409.5 99.0h0M408.1 111.9h0M407.3 120.7h0M406.3 99.5h0M406.8 92.7h0M406.7 94.7h0M410.2 83.4h0M407.7 83.5h0M406.3 82.0h0M408.9 86.7h0M408.0 96.1h0M405.8 94.9h0M410.6 99.0h0M410.4 99.1h0M407.3 119.2h0M409.9 86.9h0M408.0 105.0h0M408.8 121.2h0M409.0 96.1h0M409.4 88.9h0M407.9 97.6h0M406.4 99.9h0M409.7 91.0h0M407.9 109.0h0M408.0 124.8h0M409.5 92.0h0M409.1 94.2h0M410.6 84.8h0M407.6 98.2h0M408.9 87.6h0M406.8 123.1h0M406.8 121.1h0M407.0 92.2h0M407.1 106.3h0M408.0 116.5h0M407.0 111.5h0M410.4 99.9h0M407.8 101.7h0M407.6 93.5h0M410.2 83.7h0M409.7 100.1h0M409.5 108.5h0M410.3 93.1h0M409.0 128.0h0M407.2 99.6h0M410.5 102.5h0M405.8 99.5h0M409.7 118.0h0M407.8 93.6h0M407.4 91.5h0M408.1 88.0h0M407.7 80.7h0M410.0 101.0h0M409.7 90.4h0M409.4 97.5h0M406.9 106.5h0M407.9 83.9h0M406.1 87.7h0M409.3 80.9h0M405.9 85.8h0M407.7 82.3h0M406.7 111.6h0M409.4 123.9h0M410.2 107.8h0M407.1 98.4h0M410.1 89.2h0M406.6 97.4h0M409.3 94.5h0M407.0 88.1h0M408.0 115.6h0M408.8 90.2h0M407.6 118.3h0M406.7 104.7h0M408.6 89.0h0M409.7 90.1h0M410.7 98.5h0M407.3 102.6h0M407.0 85.8h0M406.1 103.9h0M407.2 121.0h0M405.8 105.2h0M407.3 122.4h0M409.3 86.4h0M406.5 111.9h0M408.8 79.6h0M407.2 106.8h0M406.8 102.4h0M408.1 92.5h0M407.9 102.4h0M407.9 99.7h0M406.6 113.5h0M408.5 99.8h0M409.6 122.0h0M405.8 106.7h0M406.1 83.2h0M408.6 103.9h0M407.3 104.1h0M407.0 90.3h0M410.6 84.1h0M407.2 103.1h0M410.3 99.5h0M408.8 88.5h0M405.9 86.5h0M407.0 91.9h0M406.2 108.3h0M408.4 108.4h0M410.2 88.1h0M406.0 89.6h0M405.8 83.0h0M405.8 87.4h0M407.1 98.1h0M406.7 111.4h0M410.5 84.0h0M409.6 89.6h0M410.4 92.9h0M408.6 89.9h0M409.8 99.7h0M409.2 100.8h0M407.2 93.0h0M409.0 96.2h0M407.1 89.4h0M408.0 81.9h0M409.8 85.5h0M406.8 99.4h0M406.6 100.0h0M410.0 82.3h0M408.0 99.2h0M406.6 86.6h0M407.4 113.9h0M407.1 96.8h0M410.2 95.1h0M408.1 86.5h0M410.3 84.0h0M408.1 109.5h0M410.4 91.7h0M410.3 91.4h0M408.5 109.8h0M409.6 85.7h0M407.1 93.3h0M406.4 80.7h0M408.7 108.5h0M406.0 94.6h0M408.0 101.7h0M408.8 90.9h0M409.5 91.8h0M410.2 94.6h0M406.7 101.7h0M410.0 95.4h0M408.2 99.9h0M408.8 84.1h0M408.0 96.6h0M409.9 95.9h0M407.2 104.2h0M405.7 104.9h0M409.8 81.1h0M409.0 102.2h0M409.3 84.5h0M406.3 92.3h0M407.0 79.1h0M408.8 109.0h0M409.4 81.9h0M409.0 87.2h0M408.7 93.5h0M409.0 89.1h0M406.4 88.5h0M408.0 97.1h0M407.3 91.2h0M409.4 105.8h0M408.3 123.0h0M409.3 90.3h0M409.2 96.3h0M410.2 83.2h0M410.0 104.4h0M406.0 86.1h0M408.8 78.3h0M407.6 83.3h0M406.4 80.2h0M408.1 109.9h0M409.8 109.0h0M409.6 106.5h0M406.2 100.0h0M406.9 112.4h0M409.1 109.6h0M409.8 123.6h0M406.1 81.7h0M406.1 100.3h0M409.2 91.2h0M408.8 96.6h0M409.8 88.2h0M406.7 87.0h0M408.2 99.4h0M409.7 93.8h0M407.7 113.6h0M407.7 103.7h0M405.9 106.1h0M409.7 102.6h0M407.9 101.9h0M407.6 92.7h0M409.0 101.6h0M410.0 101.4h0M410.0 86.1h0M407.7 124.8h0M408.6 126.4h0M407.8 117.4h0M409.9 84.7h0M409.7 91.3h0M409.0 88.3h0M409.7 80.7h0M408.2 106.2h0M408.6 82.6h0M406.5 105.7h0M409.2 95.0h0M407.1 90.1h0M408.5 86.6h0M405.7 105.1h0M407.7 96.1h0M408.6 118.5h0M408.9 103.4h0M408.5 79.1h0M407.0 83.3h0M409.0 92.4h0M409.0 87.5h0M408.6 83.5h0M407.6 101.3h0M406.7 79.3h0M408.5 97.1h0M406.2 109.8h0M410.3 94.2h0M407.5 92.2h0M407.1 89.1h0M408.0 90.2h0M406.8 119.5h0M410.1 90.9h0M410.6 82.2h0" stroke="#3fb1d8" stroke-width="1.6" stroke-linecap="round"/><path d="M445.40 144.59 L445.74 143.76 L446.00 142.93 L446.21 142.10 L446.39 141.26 L446.57 140.43 L446.74 139.60 L446.94 138.77 L447.14 137.93 L447.35 137.10 L447.56 136.27 L447.78 135.44 L448.01 134.60 L448.27 133.77 L448.55 132.94 L448.87 132.11 L449.21 131.27 L449.56 130.44 L449.92 129.61 L450.26 128.78 L450.59 127.94 L450.92 127.11 L451.24 126.28 L451.57 125.45 L451.89 124.61 L452.20 123.78 L452.50 122.95 L452.79 122.12 L453.07 121.28 L453.35 120.45 L453.63 119.62 L453.89 118.79 L454.15 117.95 L454.39 117.12 L454.61 116.29 L454.82 115.46 L455.01 114.62 L455.18 113.79 L455.35 112.96 L455.51 112.13 L455.65 111.29 L455.78 110.46 L455.89 109.63 L455.99 108.80 L456.08 107.96 L456.17 107.13 L456.26 106.30 L456.35 105.47 L456.44 104.63 L456.53 103.80 L456.63 102.97 L456.74 102.14 L456.89 101.30 L457.13 100.47 L457.41 99.64 L457.68 98.81 L457.90 97.97 L458.03 97.14 L458.13 96.31 L458.21 95.48 L458.27 94.64 L458.30 93.81 L458.15 92.98 L457.68 92.15 L457.04 91.31 L456.36 90.48 L455.64 89.65 L454.78 88.82 L453.86 87.98 L452.96 87.15 L452.15 86.32 L451.39 85.49 L450.66 84.65 L449.93 83.82 L449.20 82.99 L448.45 82.16 L447.70 81.32 L446.93 80.49 L446.17 79.66 L445.40 78.83 L445.40 78.83 L444.63 79.66 L443.87 80.49 L443.10 81.32 L442.35 82.16 L441.60 82.99 L440.87 83.82 L440.14 84.65 L439.41 85.49 L438.65 86.32 L437.84 87.15 L436.94 87.98 L436.02 88.82 L435.16 89.65 L434.44 90.48 L433.76 91.31 L433.12 92.15 L432.65 92.98 L432.50 93.81 L432.53 94.64 L432.59 95.48 L432.67 96.31 L432.77 97.14 L432.90 97.97 L433.12 98.81 L433.39 99.64 L433.67 100.47 L433.91 101.30 L434.06 102.14 L434.17 102.97 L434.27 103.80 L434.36 104.63 L434.45 105.47 L434.54 106.30 L434.63 107.13 L434.72 107.96 L434.81 108.80 L434.91 109.63 L435.02 110.46 L435.15 111.29 L435.29 112.13 L435.45 112.96 L435.62 113.79 L435.79 114.62 L435.98 115.46 L436.19 116.29 L436.41 117.12 L436.65 117.95 L436.91 118.79 L437.17 119.62 L437.45 120.45 L437.73 121.28 L438.01 122.12 L438.30 122.95 L438.60 123.78 L438.91 124.61 L439.23 125.45 L439.56 126.28 L439.88 127.11 L440.21 127.94 L440.54 128.78 L440.88 129.61 L441.24 130.44 L441.59 131.27 L441.93 132.11 L442.25 132.94 L442.53 133.77 L442.79 134.60 L443.02 135.44 L443.24 136.27 L443.45 137.10 L443.66 137.93 L443.86 138.77 L444.06 139.60 L444.23 140.43 L444.41 141.26 L444.59 142.10 L444.80 142.93 L445.06 143.76 L445.40 144.59 Z" fill="#f4a89c" stroke="#111" stroke-width="1.05" stroke-linejoin="round"/><rect x="437.65" y="94.99" width="15.50" height="21.63" fill="#e8553d" stroke="#111" stroke-width="1.1"/><line x1="437.65" y1="105.70" x2="453.15" y2="105.70" stroke="#111" stroke-width="1.6"/><path d="M445.0 92.2h0M443.2 102.0h0M445.5 87.4h0M443.3 113.0h0M444.1 106.6h0M447.0 121.2h0M446.0 108.8h0M446.9 88.4h0M446.3 98.2h0M446.2 103.1h0M444.1 103.8h0M446.4 100.0h0M443.5 100.4h0M443.0 106.9h0M444.6 104.8h0M443.9 126.6h0M446.4 108.3h0M444.3 97.8h0M443.1 117.9h0M446.8 115.8h0M447.6 93.3h0M446.4 123.5h0M447.7 119.5h0M446.8 92.0h0M447.4 124.9h0M446.3 114.2h0M446.8 89.0h0M446.9 108.9h0M443.5 93.2h0M444.5 94.3h0M445.8 136.2h0M444.5 118.7h0M447.3 88.9h0M443.2 112.8h0M443.5 109.7h0M444.6 87.2h0M444.7 125.7h0M446.8 84.4h0M443.0 99.2h0M447.0 99.3h0M446.9 142.6h0M443.1 99.6h0M447.7 92.4h0M446.2 109.9h0M443.9 129.1h0M447.0 123.6h0M443.8 128.1h0M444.8 108.4h0M444.1 93.1h0M444.9 130.6h0M443.6 109.5h0M444.8 109.3h0M445.7 109.6h0M445.2 104.1h0M445.5 104.1h0M447.4 119.4h0M447.2 93.6h0M443.5 104.2h0M446.6 112.1h0M446.7 84.4h0M447.4 97.0h0M444.9 122.1h0M447.2 84.4h0M445.7 102.4h0M445.2 112.4h0M445.4 117.3h0M445.0 129.7h0M446.4 116.7h0M445.6 114.4h0M447.3 111.9h0M445.3 81.8h0M443.2 101.4h0M443.7 120.0h0M445.0 111.0h0M445.3 108.2h0M446.7 128.0h0M445.9 106.5h0M443.7 104.9h0M444.4 88.5h0M445.6 108.1h0M446.9 96.8h0M446.4 97.9h0M446.1 121.7h0M444.2 102.2h0M445.8 106.9h0M444.2 122.3h0M443.8 135.6h0M446.3 81.7h0M446.1 127.1h0M447.8 89.3h0M446.6 111.7h0M444.3 127.6h0M443.4 84.6h0M445.1 99.0h0M444.6 109.3h0M445.5 91.8h0M444.8 95.9h0M443.1 108.8h0M443.2 96.4h0M444.7 95.3h0M445.8 121.0h0M443.8 96.4h0M443.8 88.1h0M444.1 97.2h0M446.6 93.4h0M446.4 81.9h0M445.3 93.0h0M443.2 106.3h0M447.6 102.0h0M447.2 94.4h0M444.4 99.5h0M443.3 128.9h0M445.4 130.6h0M443.7 115.6h0M444.8 92.1h0M444.9 118.5h0M444.5 113.4h0M447.5 92.1h0M444.9 123.5h0M443.5 115.4h0M445.8 116.4h0M446.9 131.3h0M444.1 95.5h0M445.4 112.9h0M444.8 110.0h0M446.3 112.7h0M444.6 129.6h0M444.2 91.5h0M447.6 123.4h0M447.0 114.7h0M446.4 96.1h0M446.2 112.3h0M447.6 104.6h0M443.2 113.2h0M445.1 102.3h0M446.0 113.9h0M443.5 107.4h0M447.1 139.4h0M446.0 137.1h0M446.7 104.8h0M447.7 92.9h0M445.7 80.7h0M447.5 93.0h0M444.8 103.7h0M447.5 98.7h0M445.4 98.0h0M446.8 95.3h0M444.6 81.9h0M445.3 111.7h0M445.7 107.1h0M445.5 93.4h0M447.5 118.4h0M445.2 127.0h0M447.3 89.1h0M444.0 137.0h0M444.0 89.6h0M443.8 87.8h0M443.8 121.5h0M445.8 94.2h0M443.4 114.8h0M446.3 115.0h0M446.9 83.2h0M447.5 89.7h0M443.2 94.5h0M444.1 108.2h0M445.2 83.1h0M443.0 102.0h0M446.1 83.6h0M445.2 96.0h0M445.1 132.1h0M443.7 92.6h0M443.2 92.3h0M447.3 89.6h0M445.9 99.4h0M444.8 133.3h0M447.3 90.2h0M443.5 108.5h0M444.9 119.6h0M443.3 118.4h0M446.9 119.5h0M447.3 93.1h0M444.5 128.5h0M447.0 88.0h0M447.0 136.9h0M444.1 95.9h0M447.7 117.8h0M444.6 104.4h0M446.4 121.0h0M445.6 89.1h0M444.7 122.5h0M445.9 106.7h0M442.9 100.5h0M445.4 106.7h0M445.4 118.8h0M446.1 114.3h0M446.7 87.3h0M447.1 124.9h0M446.5 137.2h0M447.3 88.5h0M444.8 89.3h0M443.4 97.1h0M446.2 106.4h0M443.3 86.1h0M447.7 108.9h0M445.3 138.1h0M444.2 107.8h0M443.1 104.1h0M447.1 102.7h0M447.1 89.3h0M443.9 129.9h0M446.8 91.1h0M443.3 104.2h0M446.4 95.8h0M445.6 109.0h0M446.1 114.2h0M443.6 113.3h0M446.9 115.5h0M446.8 107.2h0M447.1 101.6h0M444.9 91.7h0M444.2 121.5h0M445.6 106.8h0M446.4 103.8h0M446.7 92.0h0M445.1 96.1h0M445.9 99.5h0M446.1 97.7h0M445.9 106.8h0M446.5 93.3h0M444.4 92.5h0M444.1 102.2h0M444.4 125.8h0M446.9 108.7h0M447.7 115.9h0M444.5 120.4h0M446.2 114.9h0M445.8 92.5h0M447.3 112.1h0M443.0 107.8h0M446.0 110.2h0M447.2 120.2h0M447.7 102.2h0M445.0 108.5h0M445.3 87.1h0M447.1 100.3h0M447.2 84.2h0M444.1 91.3h0M447.3 105.8h0M444.1 137.3h0M443.2 119.0h0M443.2 124.6h0M443.3 95.8h0M443.5 123.6h0M444.1 98.9h0M444.3 113.2h0M447.7 105.9h0M446.9 94.5h0M443.4 114.8h0M443.9 121.6h0M446.4 114.6h0M445.9 86.1h0M445.1 103.0h0M445.0 114.8h0M446.6 123.3h0M445.4 129.8h0M446.5 112.7h0M443.0 100.8h0M443.4 106.7h0M443.8 92.8h0M445.7 81.4h0M445.8 102.4h0M447.2 112.2h0M447.3 93.4h0M446.7 127.4h0M444.6 94.9h0M443.2 90.0h0M447.3 93.6h0M447.3 125.9h0M443.0 101.3h0M442.9 93.1h0M443.8 108.4h0M444.7 91.2h0M446.4 120.9h0M445.2 103.9h0M446.2 103.3h0M447.0 94.2h0M443.8 109.0h0M444.4 116.3h0M447.8 96.1h0M445.6 125.5h0M445.4 111.5h0M445.7 106.0h0M445.6 93.7h0M446.5 108.7h0M447.3 101.9h0M446.0 97.8h0M446.1 98.2h0M445.7 84.3h0M444.1 107.4h0M446.7 102.4h0M444.3 136.1h0M444.2 120.4h0M444.6 117.3h0M445.5 118.6h0M447.0 105.0h0M444.7 119.6h0M445.9 101.8h0M445.1 91.8h0M445.2 128.7h0M447.7 116.9h0M446.1 105.3h0M443.5 132.3h0M447.1 122.7h0M445.4 102.0h0M447.7 109.5h0M443.5 88.4h0M447.7 102.1h0M446.2 94.8h0M446.0 112.2h0M445.4 110.4h0M447.7 91.0h0M447.1 100.2h0M445.5 88.1h0M444.8 117.1h0M444.9 125.8h0M445.3 97.9h0M443.9 124.4h0M444.3 129.0h0M446.2 109.5h0M446.8 97.4h0M447.4 111.0h0M443.7 94.5h0M444.4 106.8h0M443.8 115.6h0M446.0 104.1h0M444.4 100.4h0M444.5 123.3h0M443.2 101.0h0M446.7 121.5h0M447.3 85.0h0M443.6 104.1h0M445.4 119.4h0M446.5 132.5h0M447.2 118.9h0M444.7 114.1h0M443.2 101.9h0M446.7 98.3h0M446.4 96.6h0M444.9 107.7h0M447.8 99.6h0M446.5 103.3h0M445.8 114.2h0M445.9 118.9h0M443.3 109.7h0M447.7 96.9h0M447.7 123.8h0M443.7 99.4h0M446.4 136.2h0M445.8 120.7h0M444.9 97.9h0M445.9 92.7h0M443.5 94.8h0M444.7 97.9h0M444.6 116.2h0M446.1 82.0h0M445.5 100.6h0M443.0 89.0h0M444.4 87.0h0M444.8 116.8h0M444.8 84.7h0M446.6 128.2h0M447.0 99.4h0M447.7 116.3h0M447.3 127.0h0M445.3 102.5h0M445.7 118.5h0M445.9 93.9h0M445.4 106.8h0M443.1 115.7h0M444.1 139.2h0M446.9 97.3h0M446.7 99.5h0M444.5 92.8h0M443.9 110.2h0M445.7 88.2h0M446.7 135.4h0M443.2 88.3h0M446.2 94.9h0M444.2 126.7h0M444.5 82.0h0M445.1 126.8h0M443.7 94.6h0M446.6 117.0h0M443.4 96.8h0M445.4 92.3h0M446.2 124.6h0M447.1 112.7h0M445.7 89.9h0M443.5 106.1h0M446.9 122.5h0M447.3 127.2h0M443.2 124.9h0M447.2 126.3h0M446.0 111.5h0M445.9 94.2h0M444.8 107.2h0M443.9 126.4h0M445.9 111.9h0M447.3 105.9h0M443.0 107.0h0M445.7 99.2h0M446.1 98.0h0M447.5 95.9h0M443.0 103.5h0M444.9 134.6h0M443.5 94.7h0M444.5 94.2h0M447.4 95.2h0M443.8 108.2h0M444.7 89.7h0M446.8 126.1h0M446.6 95.2h0M447.5 101.4h0M443.5 97.5h0M443.6 129.2h0M444.2 84.9h0M445.4 135.0h0M446.3 121.2h0M443.5 104.3h0M446.0 102.5h0M444.0 121.7h0M447.7 114.5h0M445.7 87.9h0M443.6 113.2h0M447.1 107.3h0M445.4 125.2h0M446.8 102.5h0M445.6 97.4h0M447.3 95.6h0M444.3 117.7h0M447.7 111.4h0M443.0 99.2h0M444.9 83.6h0M443.7 94.5h0M447.8 119.1h0M443.4 129.4h0M444.3 112.9h0M444.8 103.9h0M443.3 115.4h0M447.5 93.8h0M446.8 116.0h0M445.6 124.2h0M444.9 100.6h0M443.9 95.0h0M443.7 119.7h0M444.9 112.9h0M446.0 116.5h0M446.7 134.9h0M444.1 98.2h0M446.8 131.0h0M446.2 100.3h0M443.7 100.0h0M443.1 104.0h0M443.6 132.3h0M447.1 133.3h0M444.1 104.4h0M443.2 105.6h0M446.0 137.0h0M444.6 138.9h0M447.6 94.2h0M446.2 113.3h0M447.3 96.1h0M446.2 119.5h0M446.6 116.3h0M445.2 89.1h0M445.0 119.8h0M446.8 108.8h0M443.8 105.7h0M443.2 96.2h0M447.5 112.7h0M444.8 99.1h0M445.7 117.6h0M444.9 98.0h0M446.3 135.9h0M446.8 120.1h0M444.1 130.8h0M446.6 126.1h0M444.5 95.7h0M445.7 106.2h0M445.3 93.5h0M446.8 83.9h0M445.0 120.3h0M447.0 94.5h0M447.3 84.9h0M445.8 113.9h0M446.7 129.0h0M447.3 107.1h0M444.0 102.7h0M445.2 97.4h0M447.4 102.1h0M446.7 114.6h0M447.1 122.2h0M445.9 111.8h0M444.8 106.4h0M446.8 120.2h0M444.6 115.0h0M445.8 89.7h0M444.0 109.1h0M444.9 124.3h0M445.1 97.8h0M443.5 111.5h0M443.4 104.7h0M447.3 109.9h0M447.6 125.1h0M443.7 95.1h0M444.7 101.8h0M446.1 82.1h0M444.2 141.5h0M443.2 102.2h0M447.4 108.7h0" stroke="#e64a32" stroke-width="1.6" stroke-linecap="round"/><path d="M482.40 160.76 L482.67 159.72 L482.95 158.67 L483.25 157.63 L483.57 156.58 L483.89 155.54 L484.23 154.49 L484.58 153.44 L484.95 152.40 L485.34 151.35 L485.74 150.31 L486.17 149.26 L486.63 148.22 L487.13 147.17 L487.66 146.13 L488.21 145.08 L488.76 144.04 L489.30 142.99 L489.84 141.94 L490.39 140.90 L490.96 139.85 L491.52 138.81 L492.06 137.76 L492.56 136.72 L492.99 135.67 L493.39 134.63 L493.81 133.58 L494.21 132.54 L494.56 131.49 L494.83 130.44 L494.98 129.40 L495.00 128.35 L495.00 127.31 L495.00 126.26 L495.00 125.22 L495.00 124.17 L494.99 123.13 L494.82 122.08 L494.47 121.03 L493.99 119.99 L493.45 118.94 L492.90 117.90 L492.40 116.85 L491.94 115.81 L491.45 114.76 L490.95 113.72 L490.45 112.67 L489.97 111.63 L489.55 110.58 L489.20 109.53 L488.89 108.49 L488.61 107.44 L488.36 106.40 L488.12 105.35 L487.88 104.31 L487.65 103.26 L487.41 102.22 L487.16 101.17 L486.91 100.13 L486.66 99.08 L486.41 98.03 L486.16 96.99 L485.92 95.94 L485.68 94.90 L485.44 93.85 L485.20 92.81 L484.95 91.76 L484.71 90.72 L484.46 89.67 L484.23 88.62 L484.00 87.58 L483.78 86.53 L483.58 85.49 L483.39 84.44 L483.20 83.40 L483.03 82.35 L482.86 81.31 L482.70 80.26 L482.54 79.22 L482.40 78.17 L482.40 78.17 L482.26 79.22 L482.10 80.26 L481.94 81.31 L481.77 82.35 L481.60 83.40 L481.41 84.44 L481.22 85.49 L481.02 86.53 L480.80 87.58 L480.57 88.62 L480.34 89.67 L480.09 90.72 L479.85 91.76 L479.60 92.81 L479.36 93.85 L479.12 94.90 L478.88 95.94 L478.64 96.99 L478.39 98.03 L478.14 99.08 L477.89 100.13 L477.64 101.17 L477.39 102.22 L477.15 103.26 L476.92 104.31 L476.68 105.35 L476.44 106.40 L476.19 107.44 L475.91 108.49 L475.60 109.53 L475.25 110.58 L474.83 111.63 L474.35 112.67 L473.85 113.72 L473.35 114.76 L472.86 115.81 L472.40 116.85 L471.90 117.90 L471.35 118.94 L470.81 119.99 L470.33 121.03 L469.98 122.08 L469.81 123.13 L469.80 124.17 L469.80 125.22 L469.80 126.26 L469.80 127.31 L469.80 128.35 L469.82 129.40 L469.97 130.44 L470.24 131.49 L470.59 132.54 L470.99 133.58 L471.41 134.63 L471.81 135.67 L472.24 136.72 L472.74 137.76 L473.28 138.81 L473.84 139.85 L474.41 140.90 L474.96 141.94 L475.50 142.99 L476.04 144.04 L476.59 145.08 L477.14 146.13 L477.67 147.17 L478.17 148.22 L478.63 149.26 L479.06 150.31 L479.46 151.35 L479.85 152.40 L480.22 153.44 L480.57 154.49 L480.91 155.54 L481.23 156.58 L481.55 157.63 L481.85 158.67 L482.13 159.72 L482.40 160.76 Z" fill="#80d1bd" stroke="#111" stroke-width="1.05" stroke-linejoin="round"/><rect x="474.45" y="110.51" width="15.90" height="24.91" fill="#1fa68a" stroke="#111" stroke-width="1.1"/><line x1="474.45" y1="124.05" x2="490.35" y2="124.05" stroke="#111" stroke-width="1.6"/><path d="M482.7 133.4h0M482.6 93.9h0M482.9 124.6h0M484.7 121.5h0M482.8 123.6h0M482.9 124.4h0M484.4 135.0h0M484.3 119.5h0M482.5 127.2h0M482.9 106.8h0M481.7 133.4h0M482.4 137.8h0M482.3 105.0h0M482.6 123.5h0M481.1 135.8h0M482.9 111.6h0M481.3 133.6h0M481.5 115.1h0M481.4 117.6h0M483.8 133.9h0M480.3 119.0h0M484.9 125.1h0M481.1 150.4h0M482.8 89.8h0M481.1 134.4h0M483.3 129.4h0M483.9 103.1h0M482.1 116.6h0M482.2 138.4h0M484.8 119.0h0M482.7 152.5h0M481.7 113.3h0M481.1 119.5h0M484.1 117.5h0M483.4 122.4h0M481.5 130.0h0M482.4 117.7h0M480.6 126.2h0M483.8 114.1h0M483.9 150.7h0M483.5 134.2h0M483.5 140.1h0M480.6 124.2h0M484.5 120.1h0M482.9 136.8h0M483.9 96.0h0M483.6 129.6h0M483.8 153.0h0M483.9 114.7h0M483.5 143.2h0M482.8 153.7h0M481.3 133.3h0M481.2 126.0h0M484.5 135.3h0M483.9 131.4h0M481.2 141.1h0M480.4 130.7h0M484.2 110.7h0M480.0 133.0h0M483.0 121.3h0M483.4 136.9h0M482.0 142.3h0M484.5 131.9h0M483.0 150.7h0M484.9 125.3h0M483.4 115.4h0M482.7 126.8h0M480.3 136.1h0M484.3 131.4h0M480.6 109.0h0M481.3 135.5h0M483.1 131.4h0M483.3 116.8h0M484.5 134.9h0M484.2 98.1h0M484.5 139.3h0M483.5 151.2h0M481.8 127.0h0M483.5 123.6h0M480.7 121.6h0M481.5 131.8h0M484.8 111.2h0M483.0 105.9h0M484.5 125.3h0M480.9 108.1h0M482.9 109.5h0M480.8 139.0h0M483.4 140.7h0M484.5 141.0h0M482.1 144.4h0M480.1 111.3h0M481.6 129.7h0M480.3 140.4h0M482.2 123.4h0M483.9 132.7h0M484.4 147.9h0M481.3 128.0h0M480.8 107.5h0M480.1 115.7h0M481.8 87.1h0M481.2 125.4h0M481.3 93.0h0M484.3 129.8h0M481.3 125.0h0M480.7 113.5h0M480.7 126.7h0M483.5 138.6h0M482.1 116.0h0M481.9 99.1h0M483.4 130.4h0M483.1 128.3h0M482.2 132.5h0M483.0 117.0h0M481.4 125.0h0M482.1 136.0h0M483.1 100.8h0M480.7 153.6h0M482.0 107.2h0M481.9 104.2h0M481.6 144.1h0M482.4 153.5h0M483.3 118.9h0M483.6 121.1h0M483.8 138.7h0M483.0 127.3h0M480.2 143.7h0M481.1 128.6h0M483.2 123.9h0M480.8 102.3h0M482.8 129.0h0M480.0 139.5h0M483.7 95.3h0M480.7 118.5h0M482.1 140.6h0M480.8 147.0h0M480.8 129.7h0M482.3 135.3h0M482.5 130.3h0M484.2 133.9h0M481.2 100.0h0M484.2 108.9h0M481.1 117.7h0M481.9 144.4h0M484.6 110.8h0M482.5 128.9h0M481.3 104.4h0M482.2 148.1h0M484.0 139.7h0M484.2 141.0h0M480.6 108.7h0M482.5 95.3h0M481.8 113.9h0M480.3 132.2h0M482.2 147.8h0M481.6 92.4h0M483.6 139.2h0M480.1 109.9h0M482.2 126.4h0M481.6 131.4h0M482.0 128.8h0M482.1 145.5h0M484.7 141.6h0M483.2 103.8h0M481.8 126.3h0M481.6 117.6h0M482.1 131.3h0M484.6 124.9h0M482.9 110.7h0M484.7 118.5h0M480.9 128.7h0M482.5 126.5h0M483.2 87.4h0M483.6 150.6h0M480.4 128.0h0M481.9 140.6h0M484.2 142.7h0M482.9 146.8h0M480.6 112.5h0M482.0 126.6h0M482.4 123.3h0M479.9 133.1h0M482.0 128.5h0M482.3 126.1h0M484.5 107.2h0M482.5 143.8h0M482.5 139.1h0M480.3 138.4h0M480.1 126.2h0M482.2 125.5h0M483.1 116.4h0M481.5 86.4h0M482.7 98.9h0M480.4 135.6h0M481.3 128.9h0M482.5 123.1h0M481.5 110.3h0M482.1 124.0h0M483.5 140.2h0M481.1 148.2h0M483.2 131.3h0M484.7 119.6h0M484.0 139.1h0M481.8 126.2h0M483.1 129.8h0M481.0 93.1h0M483.5 115.9h0M483.3 91.2h0M481.0 124.3h0M481.8 124.8h0M482.8 89.9h0M483.2 128.7h0M483.0 122.5h0M483.3 151.3h0M484.2 138.9h0M482.2 133.4h0M480.0 135.8h0M483.9 127.3h0M480.7 102.3h0M482.6 136.9h0M483.3 148.7h0M483.9 122.3h0M482.6 130.2h0M482.9 148.4h0M484.7 112.4h0M483.5 97.5h0M481.3 113.5h0M484.4 109.2h0M483.3 112.9h0M481.7 89.8h0M481.3 141.1h0M482.2 103.3h0M482.4 115.4h0M483.7 94.7h0M482.2 106.8h0M483.5 122.6h0M481.6 117.7h0M482.2 134.3h0M481.5 131.1h0M481.9 139.4h0M483.4 128.1h0M481.2 107.7h0M482.3 131.2h0M483.4 103.1h0M480.0 137.8h0M481.9 118.6h0M483.8 136.2h0M483.2 118.9h0M483.9 110.2h0M481.4 103.2h0M483.0 112.8h0M481.5 141.3h0M480.3 117.2h0M483.8 132.8h0M481.4 123.7h0M483.6 140.8h0M483.8 127.5h0M483.9 117.5h0M481.4 141.8h0M483.9 121.2h0M481.3 102.1h0M483.2 123.6h0M479.9 131.5h0M483.8 136.7h0M480.2 126.7h0M483.5 129.2h0M483.1 116.3h0M480.2 114.0h0M482.8 115.6h0M483.4 112.8h0M483.9 110.3h0M484.8 114.7h0M481.1 134.7h0M482.0 122.0h0M481.7 129.9h0M483.1 145.6h0M480.8 118.5h0M482.7 140.7h0M481.1 117.2h0M480.9 122.9h0M483.5 145.7h0M482.6 127.0h0M483.8 123.0h0M483.2 134.6h0M483.8 97.9h0M482.3 95.2h0M480.1 143.0h0M484.9 114.4h0M481.0 127.5h0M483.9 107.7h0M481.2 97.0h0M482.5 123.8h0M481.3 118.5h0M483.2 129.9h0M480.3 117.4h0M481.0 85.9h0M482.2 131.5h0M483.7 150.3h0M482.3 91.6h0M481.0 151.8h0M484.9 117.0h0M480.4 121.2h0M481.5 128.2h0M482.7 98.2h0M481.3 142.1h0M483.4 136.0h0M482.0 107.3h0M483.4 155.7h0M480.3 134.9h0M484.0 138.4h0M484.4 128.5h0M481.2 113.9h0M481.4 95.3h0M484.3 135.7h0M482.1 153.6h0M481.9 113.6h0M482.7 100.3h0M482.6 153.5h0M484.0 120.4h0M483.2 121.5h0M483.4 121.6h0M482.1 119.7h0M482.5 133.7h0M483.9 102.5h0M484.2 136.5h0M482.8 95.8h0M482.7 94.8h0M481.5 106.9h0M482.3 129.6h0M481.2 94.4h0M482.3 136.8h0M480.2 124.7h0M481.2 123.7h0M481.3 141.0h0M482.3 87.6h0M483.3 138.4h0M480.4 124.8h0M483.0 144.5h0M483.8 133.6h0M480.9 107.9h0M480.6 116.5h0M480.4 130.7h0M483.1 119.1h0M481.9 139.0h0M480.1 117.7h0M480.8 102.4h0M481.9 153.5h0M480.2 132.1h0M483.9 134.7h0M481.0 143.6h0M483.7 98.6h0M480.1 116.9h0M481.6 120.3h0M484.5 119.5h0M480.7 116.8h0M480.1 133.7h0M484.1 138.2h0M483.7 145.1h0M482.4 140.3h0M480.5 137.6h0M481.4 110.7h0M482.1 131.7h0M484.7 129.7h0M481.0 113.4h0M483.0 91.3h0M483.4 143.5h0M484.3 121.0h0M483.3 128.8h0M481.8 139.3h0M482.1 131.0h0M482.3 110.8h0M482.8 134.6h0M482.6 121.7h0M480.4 126.1h0M483.4 152.6h0M481.8 105.1h0M483.0 105.1h0M481.5 107.3h0M482.1 127.4h0M484.9 127.0h0M480.0 117.0h0M482.9 87.7h0M480.8 125.4h0M484.7 132.0h0M484.0 125.6h0M484.1 122.5h0M484.1 119.2h0M481.8 96.3h0M482.4 121.2h0M484.3 108.0h0M482.3 125.8h0M484.6 126.5h0M483.7 100.3h0M482.3 133.7h0M482.5 132.1h0M482.5 123.4h0M481.3 142.7h0M481.6 138.7h0M482.0 123.8h0M482.6 119.2h0M483.7 89.2h0M482.3 142.5h0M482.6 149.4h0M483.4 116.4h0M483.6 100.9h0M484.6 144.3h0M483.6 132.6h0M482.9 117.1h0M483.5 118.5h0M480.7 104.6h0M483.6 117.5h0M481.3 95.1h0M484.3 132.1h0M484.3 113.4h0M483.0 120.8h0M484.6 129.6h0M480.2 114.5h0M480.5 106.3h0M482.4 121.2h0M480.9 114.3h0M480.0 127.9h0M484.4 105.2h0M482.0 129.0h0M484.1 120.2h0M481.3 121.4h0M483.1 124.3h0M480.7 99.0h0M483.0 115.4h0M483.4 120.7h0M483.0 116.1h0M482.3 115.5h0M483.6 131.1h0M481.0 132.4h0M483.3 120.0h0M481.3 140.9h0M480.3 109.9h0M481.8 111.9h0M483.7 118.9h0M480.7 131.5h0M483.4 89.6h0M481.7 113.8h0M482.4 105.0h0M480.2 115.1h0M480.7 122.4h0M483.2 133.1h0M484.5 138.7h0M481.3 108.4h0M483.3 120.0h0M484.3 135.7h0M484.1 136.9h0M484.7 125.2h0M480.4 118.6h0M483.2 113.1h0M481.4 124.8h0M480.1 135.0h0M482.4 116.9h0M484.7 140.6h0M481.6 139.2h0M481.2 129.2h0M484.9 122.0h0M483.0 152.3h0M480.7 140.6h0M480.0 116.2h0M480.3 128.6h0M480.3 126.9h0M484.3 125.8h0M483.4 139.2h0M481.2 92.6h0M482.1 99.5h0M482.1 118.5h0M484.1 143.6h0M484.8 116.7h0M480.1 109.6h0M480.0 131.3h0M483.0 139.8h0M480.2 114.4h0M482.0 118.6h0M483.1 129.0h0M482.5 132.2h0M481.1 98.3h0M481.4 144.3h0M482.6 132.3h0M480.7 125.2h0M484.5 120.5h0M481.2 135.1h0M484.1 121.1h0M480.9 142.6h0M482.4 123.2h0M483.8 145.5h0M483.2 129.6h0M480.6 115.3h0M481.2 137.5h0M481.8 139.5h0M482.4 93.1h0M484.7 127.0h0M481.8 147.7h0M481.7 127.6h0M482.6 133.4h0M481.1 108.3h0M483.8 103.3h0M479.9 112.2h0M483.7 117.0h0M484.5 122.3h0M481.7 147.5h0M483.7 117.6h0M483.5 129.1h0M483.8 133.2h0M483.2 122.0h0M482.6 136.2h0M481.7 87.7h0M482.0 121.4h0M480.5 113.9h0M483.0 143.5h0M482.5 149.1h0M480.2 139.1h0M480.5 137.7h0M481.5 122.6h0M480.9 118.2h0M481.1 101.4h0M483.6 144.3h0M481.5 125.7h0" stroke="#17a386" stroke-width="1.6" stroke-linecap="round"/><path d="M519.50 166.66 L520.06 165.64 L520.61 164.62 L521.14 163.59 L521.66 162.57 L522.16 161.55 L522.66 160.52 L523.16 159.50 L523.67 158.48 L524.19 157.45 L524.71 156.43 L525.23 155.41 L525.75 154.38 L526.26 153.36 L526.77 152.34 L527.28 151.31 L527.80 150.29 L528.32 149.27 L528.83 148.24 L529.33 147.22 L529.80 146.20 L530.25 145.17 L530.68 144.15 L531.09 143.13 L531.45 142.10 L531.70 141.08 L531.93 140.06 L532.08 139.03 L532.10 138.01 L532.07 136.99 L532.03 135.96 L531.96 134.94 L531.80 133.92 L531.58 132.89 L531.34 131.87 L531.09 130.85 L530.82 129.82 L530.52 128.80 L530.22 127.78 L529.92 126.75 L529.63 125.73 L529.34 124.70 L529.05 123.68 L528.75 122.66 L528.46 121.63 L528.18 120.61 L527.90 119.59 L527.64 118.56 L527.38 117.54 L527.14 116.52 L526.90 115.49 L526.66 114.47 L526.43 113.45 L526.20 112.42 L525.96 111.40 L525.71 110.38 L525.47 109.35 L525.23 108.33 L524.99 107.31 L524.75 106.28 L524.50 105.26 L524.26 104.24 L524.01 103.21 L523.75 102.19 L523.49 101.17 L523.22 100.14 L522.95 99.12 L522.67 98.10 L522.39 97.07 L522.11 96.05 L521.83 95.03 L521.56 94.00 L521.29 92.98 L521.03 91.96 L520.76 90.93 L520.51 89.91 L520.25 88.89 L520.00 87.86 L519.75 86.84 L519.50 85.82 L519.50 85.82 L519.25 86.84 L519.00 87.86 L518.75 88.89 L518.49 89.91 L518.24 90.93 L517.97 91.96 L517.71 92.98 L517.44 94.00 L517.17 95.03 L516.89 96.05 L516.61 97.07 L516.33 98.10 L516.05 99.12 L515.78 100.14 L515.51 101.17 L515.25 102.19 L514.99 103.21 L514.74 104.24 L514.50 105.26 L514.25 106.28 L514.01 107.31 L513.77 108.33 L513.53 109.35 L513.29 110.38 L513.04 111.40 L512.80 112.42 L512.57 113.45 L512.34 114.47 L512.10 115.49 L511.86 116.52 L511.62 117.54 L511.36 118.56 L511.10 119.59 L510.82 120.61 L510.54 121.63 L510.25 122.66 L509.95 123.68 L509.66 124.70 L509.37 125.73 L509.08 126.75 L508.78 127.78 L508.48 128.80 L508.18 129.82 L507.91 130.85 L507.66 131.87 L507.42 132.89 L507.20 133.92 L507.04 134.94 L506.97 135.96 L506.93 136.99 L506.90 138.01 L506.92 139.03 L507.07 140.06 L507.30 141.08 L507.55 142.10 L507.91 143.13 L508.32 144.15 L508.75 145.17 L509.20 146.20 L509.67 147.22 L510.17 148.24 L510.68 149.27 L511.20 150.29 L511.72 151.31 L512.23 152.34 L512.74 153.36 L513.25 154.38 L513.77 155.41 L514.29 156.43 L514.81 157.45 L515.33 158.48 L515.84 159.50 L516.34 160.52 L516.84 161.55 L517.34 162.57 L517.86 163.59 L518.39 164.62 L518.94 165.64 L519.50 166.66 Z" fill="#8e9dc7" stroke="#111" stroke-width="1.05" stroke-linejoin="round"/><rect x="512.05" y="117.50" width="14.90" height="26.66" fill="#3d5b9d" stroke="#111" stroke-width="1.1"/><line x1="512.05" y1="133.67" x2="526.95" y2="133.67" stroke="#111" stroke-width="1.6"/><path d="M520.6 155.1h0M520.5 104.4h0M518.3 100.0h0M517.5 113.9h0M518.9 135.1h0M518.4 98.6h0M521.4 105.3h0M520.4 124.5h0M518.5 122.1h0M521.1 120.2h0M520.0 130.2h0M517.5 108.6h0M518.2 110.5h0M518.3 119.0h0M521.6 121.4h0M520.2 133.7h0M517.9 138.9h0M520.8 98.2h0M518.9 128.7h0M521.5 102.3h0M519.8 145.0h0M517.1 147.8h0M519.0 119.3h0M520.4 123.8h0M519.2 135.6h0M520.3 132.1h0M517.8 103.0h0M517.1 122.4h0M517.5 129.9h0M520.2 141.7h0M518.1 146.7h0M521.1 138.4h0M521.0 141.5h0M517.6 121.8h0M518.0 92.4h0M520.3 109.9h0M520.5 142.3h0M521.4 141.4h0M518.7 127.7h0M517.3 110.9h0M520.8 140.7h0M520.0 141.7h0M521.8 133.2h0M518.5 117.8h0M517.0 134.3h0M517.9 161.3h0M521.4 122.8h0M518.9 107.1h0M517.4 123.1h0M517.6 158.2h0M520.2 142.5h0M518.8 130.3h0M520.7 133.1h0M520.0 153.4h0M518.2 141.8h0M520.0 136.9h0M519.0 132.3h0M520.1 93.6h0M518.2 120.4h0M518.5 130.6h0M518.3 162.6h0M518.0 158.8h0M519.0 117.4h0M520.1 129.0h0M519.9 123.3h0M518.0 150.5h0M519.1 95.9h0M519.2 131.8h0M518.1 129.2h0M520.1 122.5h0M518.7 125.2h0M517.5 117.0h0M520.4 145.1h0M518.0 155.3h0M518.8 135.6h0M520.8 116.7h0M517.6 118.2h0M519.8 136.7h0M520.0 118.9h0M518.4 116.3h0M517.6 115.5h0M519.1 99.4h0M518.2 134.2h0M518.9 119.8h0M518.0 105.0h0M519.0 141.4h0M521.0 93.9h0M517.0 138.7h0M519.9 123.7h0M519.1 148.8h0M521.2 146.0h0M520.8 152.3h0M519.3 125.3h0M518.5 159.4h0M521.7 133.3h0M521.1 119.9h0M521.4 141.8h0M517.4 145.8h0M519.1 98.2h0M519.3 146.3h0M518.5 128.1h0M518.1 133.6h0M518.8 105.8h0M517.9 125.3h0M521.8 133.0h0M521.5 142.7h0M520.1 112.7h0M519.9 140.5h0M521.8 114.4h0M519.5 121.8h0M520.8 129.8h0M518.0 90.3h0M519.1 125.0h0M518.0 127.8h0M517.4 121.6h0M521.2 147.0h0M520.7 134.7h0M519.0 165.8h0M517.6 149.3h0M520.7 158.7h0M518.8 129.2h0M520.9 140.2h0M520.0 147.1h0M520.6 136.5h0M519.9 99.9h0M521.6 155.1h0M518.2 151.0h0M521.1 107.9h0M520.1 144.7h0M520.5 124.0h0M521.8 153.5h0M517.6 157.7h0M518.3 126.4h0M520.6 119.6h0M520.9 145.7h0M518.2 133.8h0M519.4 148.7h0M521.2 113.7h0M521.9 149.4h0M521.9 130.2h0M518.3 101.1h0M518.9 145.6h0M519.2 119.9h0M519.4 133.4h0M521.1 110.8h0M519.4 110.2h0M518.5 131.9h0M520.2 133.4h0M520.9 117.9h0M520.0 120.9h0M521.6 140.5h0M521.4 101.5h0M520.7 132.1h0M521.4 143.2h0M517.4 137.2h0M519.9 137.3h0M517.1 132.0h0M518.4 139.5h0M520.2 133.6h0M520.2 97.0h0M520.6 91.9h0M521.2 143.2h0M518.4 141.0h0M519.2 137.5h0M520.9 144.3h0M518.0 145.1h0M521.4 133.2h0M517.2 136.1h0M518.9 153.8h0M517.2 130.5h0M518.4 133.7h0M520.8 99.9h0M521.7 111.1h0M519.1 126.1h0M518.2 130.7h0M518.6 151.7h0M521.2 124.6h0M518.2 103.6h0M520.5 98.4h0M518.7 103.6h0M518.2 119.6h0M521.5 139.4h0M518.1 147.4h0M521.7 145.2h0M519.2 136.5h0M522.0 151.0h0M520.7 141.0h0M520.7 96.8h0M519.7 119.1h0M521.9 121.8h0M520.6 148.5h0M519.2 131.7h0M517.3 133.3h0M518.2 102.8h0M521.3 123.9h0M521.7 140.7h0M517.2 142.8h0M519.1 151.3h0M519.2 132.4h0M517.8 126.1h0M517.2 137.1h0M521.0 101.9h0M521.2 118.6h0M521.4 129.4h0M518.5 136.6h0M521.4 124.9h0M521.9 122.2h0M521.0 119.6h0M518.7 140.5h0M518.9 137.5h0M519.5 144.3h0M521.6 149.4h0M519.5 141.4h0M519.1 142.7h0M517.3 142.3h0M518.6 132.6h0M518.1 137.3h0M519.4 119.7h0M519.4 143.2h0M518.0 120.3h0M517.7 107.4h0M520.2 132.2h0M518.3 114.1h0M520.3 153.2h0M519.8 143.5h0M521.2 153.6h0M518.3 133.3h0M521.9 137.7h0M521.2 133.0h0M519.5 143.8h0M518.9 158.4h0M518.0 118.3h0M519.8 101.9h0M517.9 146.2h0M518.8 119.8h0M517.3 139.1h0M520.3 119.6h0M520.0 127.3h0M520.4 118.8h0M520.7 91.7h0M519.7 142.4h0M518.9 108.2h0M518.3 144.9h0M519.6 116.0h0M519.2 148.0h0M519.2 145.8h0M518.3 134.5h0M518.0 144.8h0M520.9 114.6h0M521.5 157.8h0M520.3 139.2h0M520.0 128.4h0M517.9 115.3h0M519.3 96.0h0M521.7 131.4h0M521.8 146.6h0M517.4 144.1h0M521.2 126.4h0M518.1 149.2h0M521.6 111.5h0M518.2 111.9h0M520.9 120.9h0M521.2 97.0h0M517.2 135.2h0M517.6 99.1h0M519.7 146.7h0M519.2 143.1h0M521.7 130.9h0M518.6 107.8h0M517.8 162.2h0M521.2 110.1h0M520.0 138.4h0M519.6 110.2h0M520.1 110.0h0M521.3 107.3h0M518.3 128.5h0M518.3 150.7h0M521.9 141.5h0M519.6 139.3h0M517.2 124.4h0M520.8 139.2h0M519.8 132.5h0M517.2 138.5h0M518.9 126.8h0M520.0 148.3h0M521.3 136.7h0M520.2 108.2h0M520.2 141.9h0M520.7 132.8h0M519.1 116.9h0M521.1 122.4h0M520.6 133.7h0M517.6 154.1h0M520.5 109.4h0M521.1 104.3h0M521.7 115.9h0M519.2 117.2h0M517.8 108.4h0M519.8 108.9h0M517.5 134.1h0M519.9 137.0h0M520.7 134.1h0M520.0 149.2h0M520.5 145.7h0M520.7 122.9h0M519.4 119.7h0M518.3 122.9h0M520.9 129.2h0M519.5 148.7h0M520.5 137.5h0M519.1 100.3h0M521.1 99.9h0M519.0 140.8h0M520.0 137.9h0M520.2 147.5h0M519.6 137.8h0M521.0 134.5h0M518.3 142.1h0M517.6 104.9h0M517.9 153.0h0M519.1 134.7h0M520.4 154.2h0M517.8 137.5h0M519.1 117.5h0M520.1 151.9h0M518.0 129.2h0M520.2 128.6h0M520.3 129.2h0M518.1 132.0h0M521.5 126.7h0M521.8 142.9h0M521.7 142.9h0M518.2 116.8h0M518.6 147.6h0M519.7 113.8h0M520.9 106.2h0M517.1 129.1h0M518.3 141.7h0M520.3 134.8h0M518.1 132.1h0M518.1 121.5h0M521.5 102.6h0M520.0 135.9h0M520.4 145.5h0M517.4 140.9h0M518.7 100.4h0M517.6 145.1h0M518.2 142.9h0M518.0 158.8h0M517.6 127.2h0M520.8 134.3h0M518.4 113.1h0M521.5 125.3h0M517.1 124.6h0M518.6 123.1h0M518.5 133.8h0M519.0 141.2h0M519.8 160.9h0M519.5 136.7h0M518.9 161.2h0M518.7 145.1h0M520.5 137.9h0M518.6 130.4h0M520.5 138.5h0M519.5 144.8h0M518.2 118.1h0M520.8 139.7h0M519.7 139.0h0M520.2 144.8h0M517.6 154.4h0M519.3 118.7h0M519.6 133.9h0M519.1 130.3h0M518.9 109.8h0M517.9 108.3h0M519.5 128.7h0M520.6 101.6h0M519.9 129.6h0M518.6 108.7h0M518.0 134.2h0M518.9 143.1h0M518.6 131.6h0M518.0 148.3h0M519.1 137.6h0M518.8 143.9h0M519.7 133.9h0M521.1 152.0h0M518.8 135.1h0M520.4 128.7h0M518.4 92.8h0M518.6 90.3h0M521.3 124.9h0M520.7 133.4h0M520.6 118.8h0M520.8 103.8h0M521.5 123.1h0M521.7 146.5h0M520.6 127.0h0M521.6 133.4h0M518.5 105.0h0M519.4 124.0h0M518.3 97.0h0M517.8 156.8h0M519.0 121.6h0M518.7 145.2h0M520.2 133.9h0M519.1 111.1h0M518.4 91.1h0M519.5 145.0h0M518.7 110.1h0M520.8 150.6h0M520.4 141.3h0M521.8 145.1h0M521.2 96.4h0M519.9 151.8h0M518.3 115.4h0M519.8 130.6h0M518.5 121.0h0M519.6 153.3h0M520.8 133.9h0M520.6 129.8h0M519.3 140.6h0M518.5 125.2h0M517.3 153.7h0M521.2 153.8h0M521.2 124.6h0M520.0 142.8h0M520.9 110.3h0M518.0 129.3h0M520.2 108.3h0M518.5 111.8h0M521.1 122.1h0M519.1 95.2h0M519.4 142.8h0M518.8 129.6h0M519.1 149.8h0M521.4 121.7h0M521.7 113.8h0M518.5 107.4h0M521.0 131.3h0M521.4 103.3h0M519.6 137.9h0M520.0 138.9h0M521.1 119.1h0M520.2 104.4h0M519.7 153.8h0M521.5 131.5h0M519.8 135.3h0M520.7 158.7h0M521.5 151.7h0M518.6 113.2h0M520.8 100.8h0M517.9 129.1h0M519.7 144.1h0M520.1 95.5h0M521.3 135.8h0M518.6 149.6h0M521.8 116.7h0M520.8 121.6h0M521.6 122.7h0M518.3 136.7h0M519.7 142.6h0M519.3 144.4h0M521.8 128.1h0M521.1 140.2h0M517.8 120.3h0M521.2 104.8h0M518.9 110.9h0M519.4 158.8h0M517.3 125.0h0M519.5 156.6h0M521.5 141.0h0M519.3 140.7h0M517.2 129.8h0M520.9 157.9h0M519.4 144.0h0M517.9 102.1h0M520.3 158.6h0M517.9 139.0h0M520.1 133.2h0M519.1 151.5h0M518.2 141.0h0M519.2 125.9h0M518.5 140.2h0M519.4 130.2h0M519.8 100.8h0M519.5 152.3h0M517.3 123.3h0M519.8 159.4h0M521.7 137.4h0M521.3 121.1h0M519.2 99.5h0M520.9 134.0h0M517.8 126.1h0M520.6 133.0h0M517.9 149.9h0M517.5 152.8h0M520.3 130.3h0M518.9 109.1h0M519.6 142.9h0M517.2 118.8h0M518.1 126.2h0M517.4 139.2h0M521.6 124.5h0M517.8 155.6h0M521.6 143.1h0M517.3 138.1h0M518.0 125.3h0M520.4 157.3h0M520.0 157.6h0M517.6 103.3h0M518.7 131.2h0M517.9 107.0h0M519.0 90.2h0M518.8 148.6h0M519.7 138.2h0M520.4 93.8h0M517.8 162.5h0M520.1 95.5h0M520.8 86.8h0" stroke="#3f5fa2" stroke-width="1.6" stroke-linecap="round"/><path d="M556.70 155.74 L556.85 154.77 L557.05 153.81 L557.28 152.85 L557.55 151.89 L557.84 150.92 L558.20 149.96 L558.62 149.00 L559.06 148.04 L559.51 147.07 L559.97 146.11 L560.44 145.15 L560.92 144.19 L561.43 143.22 L561.94 142.26 L562.47 141.30 L563.01 140.34 L563.60 139.37 L564.22 138.41 L564.85 137.45 L565.45 136.49 L566.01 135.52 L566.50 134.56 L566.96 133.60 L567.42 132.64 L567.85 131.67 L568.24 130.71 L568.57 129.75 L568.83 128.79 L569.01 127.82 L569.18 126.86 L569.33 125.90 L569.44 124.94 L569.50 123.97 L569.48 123.01 L569.36 122.05 L569.17 121.09 L568.91 120.12 L568.60 119.16 L568.28 118.20 L567.94 117.24 L567.63 116.27 L567.31 115.31 L566.95 114.35 L566.57 113.39 L566.16 112.42 L565.76 111.46 L565.36 110.50 L564.97 109.54 L564.58 108.57 L564.18 107.61 L563.78 106.65 L563.39 105.69 L563.03 104.72 L562.71 103.76 L562.42 102.80 L562.16 101.84 L561.91 100.87 L561.67 99.91 L561.44 98.95 L561.21 97.99 L560.98 97.02 L560.74 96.06 L560.49 95.10 L560.25 94.14 L560.01 93.17 L559.76 92.21 L559.52 91.25 L559.28 90.29 L559.04 89.32 L558.80 88.36 L558.56 87.40 L558.32 86.44 L558.09 85.47 L557.85 84.51 L557.62 83.55 L557.39 82.59 L557.16 81.62 L556.93 80.66 L556.70 79.70 L556.70 79.70 L556.47 80.66 L556.24 81.62 L556.01 82.59 L555.78 83.55 L555.55 84.51 L555.31 85.47 L555.08 86.44 L554.84 87.40 L554.60 88.36 L554.36 89.32 L554.12 90.29 L553.88 91.25 L553.64 92.21 L553.39 93.17 L553.15 94.14 L552.91 95.10 L552.66 96.06 L552.42 97.02 L552.19 97.99 L551.96 98.95 L551.73 99.91 L551.49 100.87 L551.24 101.84 L550.98 102.80 L550.69 103.76 L550.37 104.72 L550.01 105.69 L549.62 106.65 L549.22 107.61 L548.82 108.57 L548.43 109.54 L548.04 110.50 L547.64 111.46 L547.24 112.42 L546.83 113.39 L546.45 114.35 L546.09 115.31 L545.77 116.27 L545.46 117.24 L545.12 118.20 L544.80 119.16 L544.49 120.12 L544.23 121.09 L544.04 122.05 L543.92 123.01 L543.90 123.97 L543.96 124.94 L544.07 125.90 L544.22 126.86 L544.39 127.82 L544.57 128.79 L544.83 129.75 L545.16 130.71 L545.55 131.67 L545.98 132.64 L546.44 133.60 L546.90 134.56 L547.39 135.52 L547.95 136.49 L548.55 137.45 L549.18 138.41 L549.80 139.37 L550.39 140.34 L550.93 141.30 L551.46 142.26 L551.97 143.22 L552.48 144.19 L552.96 145.15 L553.43 146.11 L553.89 147.07 L554.34 148.04 L554.78 149.00 L555.20 149.96 L555.56 150.92 L555.85 151.89 L556.12 152.85 L556.35 153.81 L556.55 154.77 L556.70 155.74 Z" fill="#f8c4b0" stroke="#111" stroke-width="1.05" stroke-linejoin="round"/><rect x="548.75" y="109.20" width="15.90" height="21.19" fill="#f39b80" stroke="#111" stroke-width="1.1"/><line x1="548.75" y1="121.21" x2="564.65" y2="121.21" stroke="#111" stroke-width="1.6"/><path d="M557.5 127.6h0M557.1 115.1h0M556.9 124.4h0M557.2 129.9h0M557.4 120.2h0M555.4 142.1h0M554.3 114.4h0M556.2 120.0h0M554.3 130.4h0M556.4 145.1h0M558.0 96.3h0M554.7 114.9h0M557.5 143.8h0M557.2 108.6h0M558.4 138.2h0M556.8 123.4h0M557.6 137.4h0M557.8 96.9h0M557.3 115.9h0M555.2 113.2h0M558.9 128.3h0M556.6 127.8h0M555.5 141.8h0M558.2 102.2h0M557.3 137.3h0M556.1 117.4h0M557.9 133.7h0M556.6 139.0h0M557.4 142.9h0M558.6 128.0h0M554.3 138.2h0M557.9 104.9h0M558.8 117.2h0M558.3 134.9h0M558.6 145.8h0M556.3 123.4h0M555.5 105.1h0M556.0 132.1h0M554.4 117.9h0M557.5 131.5h0M555.4 90.1h0M558.5 131.3h0M559.2 133.4h0M556.3 117.7h0M557.9 130.2h0M555.7 103.2h0M559.2 109.9h0M558.8 113.8h0M557.3 93.4h0M556.9 124.1h0M554.7 144.1h0M559.1 128.8h0M554.2 131.4h0M558.8 134.6h0M556.6 125.4h0M558.8 142.1h0M556.4 152.4h0M555.9 121.2h0M557.4 136.7h0M557.8 105.4h0M557.1 138.8h0M554.4 139.0h0M555.1 118.1h0M556.2 107.3h0M555.8 108.7h0M557.4 102.4h0M559.0 123.4h0M557.3 131.5h0M557.0 146.5h0M555.0 94.7h0M555.7 118.4h0M557.9 95.0h0M558.2 104.9h0M555.0 115.2h0M557.7 109.6h0M558.5 135.8h0M558.5 99.4h0M556.5 103.4h0M556.2 123.0h0M554.5 124.1h0M555.6 121.8h0M554.7 119.0h0M556.9 135.2h0M555.6 93.9h0M558.6 126.5h0M555.4 144.9h0M554.5 118.1h0M558.7 136.2h0M557.0 80.3h0M557.1 96.4h0M557.5 110.6h0M554.7 141.3h0M554.7 104.5h0M555.8 134.8h0M556.4 116.2h0M556.7 134.7h0M557.9 112.7h0M557.2 112.7h0M556.6 127.4h0M558.1 131.9h0M556.9 105.0h0M554.9 95.2h0M556.7 135.9h0M556.3 83.7h0M556.0 118.8h0M555.2 128.9h0M557.7 122.0h0M555.5 142.3h0M554.8 120.8h0M557.5 117.0h0M558.2 120.9h0M558.3 145.3h0M555.3 111.5h0M554.2 122.5h0M556.9 135.9h0M558.9 104.7h0M555.4 116.9h0M556.1 147.2h0M558.7 124.4h0M557.5 109.3h0M557.2 115.5h0M557.9 126.1h0M555.1 107.2h0M556.5 123.0h0M555.3 135.1h0M557.2 136.0h0M557.3 100.4h0M556.8 130.5h0M558.0 118.2h0M555.0 132.1h0M556.5 128.6h0M554.2 128.9h0M555.8 147.9h0M555.3 149.4h0M555.8 140.7h0M558.7 111.3h0M558.7 130.7h0M555.6 124.3h0M557.0 117.1h0M555.6 120.9h0M555.6 99.9h0M556.6 108.4h0M558.6 102.2h0M558.7 128.4h0M558.1 87.7h0M558.4 93.6h0M558.5 115.2h0M555.0 107.3h0M554.3 134.2h0M556.1 90.3h0M554.5 133.7h0M555.4 107.4h0M555.5 145.5h0M556.7 109.4h0M558.9 119.6h0M557.6 125.4h0M557.6 130.6h0M556.5 122.9h0M558.5 129.9h0M557.5 127.1h0M558.3 85.2h0M554.5 126.7h0M556.0 102.1h0M557.4 124.3h0M556.0 102.6h0M556.1 112.0h0M556.1 102.5h0M558.3 111.7h0M555.3 117.6h0M557.7 100.8h0M555.2 114.7h0M557.3 105.4h0M557.1 114.7h0M555.2 123.2h0M557.2 130.1h0M555.0 129.2h0M557.0 105.0h0M557.6 130.9h0M555.5 129.5h0M555.8 89.3h0M555.5 114.0h0M554.4 127.9h0M557.0 113.4h0M557.3 123.8h0M558.5 142.3h0M555.0 99.1h0M556.0 143.0h0M558.6 94.8h0M556.9 124.6h0M556.6 120.4h0M556.4 122.1h0M556.9 123.1h0M557.9 104.4h0M554.5 128.1h0M556.6 86.7h0M554.6 118.0h0M554.8 105.4h0M556.1 135.2h0M555.0 135.0h0M555.2 128.8h0M556.5 102.0h0M558.5 124.7h0M558.9 107.7h0M556.6 114.6h0M555.4 135.0h0M556.9 121.6h0M555.9 137.1h0M558.4 121.0h0M559.0 135.4h0M554.3 114.3h0M554.4 123.1h0M557.7 118.4h0M559.0 124.0h0M555.5 119.4h0M557.3 124.9h0M554.3 129.8h0M557.6 93.2h0M556.7 120.6h0M559.1 136.2h0M558.9 126.6h0M554.8 109.2h0M555.2 120.4h0M557.3 122.1h0M554.9 119.0h0M557.2 112.2h0M557.7 89.3h0M556.9 136.5h0M556.5 94.6h0M559.1 123.1h0M558.5 116.8h0M557.9 125.0h0M557.4 123.2h0M555.0 126.0h0M555.2 109.3h0M557.4 122.1h0M557.9 109.3h0M555.9 139.1h0M556.9 146.1h0M555.7 131.4h0M558.6 131.9h0M556.6 131.0h0M555.6 123.7h0M558.3 114.8h0M556.3 99.4h0M557.5 85.9h0M555.4 115.4h0M557.1 100.3h0M556.1 121.4h0M555.2 110.3h0M557.4 101.2h0M558.0 113.4h0M557.2 124.9h0M556.5 106.2h0M557.9 109.7h0M555.3 89.7h0M554.5 106.4h0M555.3 118.5h0M557.9 132.4h0M556.8 150.3h0M555.7 133.1h0M557.6 112.1h0M555.9 136.3h0M555.9 112.8h0M558.1 130.9h0M559.1 135.2h0M558.9 103.2h0M555.6 137.1h0M557.1 104.1h0M555.3 117.2h0M555.1 131.0h0M555.3 131.6h0M557.9 118.5h0M558.0 131.1h0M556.4 117.4h0M555.8 117.0h0M555.9 146.1h0M555.9 130.7h0M558.3 111.5h0M556.2 136.4h0M555.3 110.8h0M558.4 108.6h0M555.1 107.0h0M558.6 101.3h0M556.2 127.1h0M557.8 94.6h0M556.8 144.5h0M557.6 142.4h0M557.5 118.7h0M557.1 141.8h0M558.9 120.7h0M557.0 128.6h0M556.9 113.6h0M558.1 123.9h0M556.5 128.1h0M556.1 114.8h0M557.2 91.0h0M556.4 131.8h0M555.3 141.3h0M557.1 135.6h0M556.1 97.6h0M556.8 111.3h0M557.8 152.3h0M559.0 133.0h0M559.2 109.3h0M554.6 136.7h0M558.7 122.1h0M559.0 134.5h0M556.3 129.9h0M556.1 123.7h0M556.5 121.9h0M554.9 103.2h0M557.6 122.0h0M555.7 92.8h0M555.2 120.9h0M556.5 123.3h0M558.4 130.0h0M554.6 125.6h0M556.9 90.0h0M558.8 120.4h0M558.5 134.6h0M554.9 137.6h0M555.6 116.0h0M554.4 120.5h0M558.1 121.5h0M554.5 116.8h0M557.2 141.6h0M558.1 142.5h0M557.6 129.4h0M558.4 129.4h0M557.2 112.3h0M554.7 102.1h0M555.1 119.4h0M558.6 108.9h0M554.9 108.1h0M556.0 126.4h0M556.3 119.2h0M557.8 107.5h0M558.6 94.5h0M558.0 107.1h0M554.9 125.2h0M554.7 139.8h0M556.6 132.1h0M554.9 120.4h0M556.2 133.8h0M557.3 111.8h0M556.7 131.1h0M556.0 124.4h0M556.2 125.9h0M558.5 88.8h0M558.1 124.8h0M554.8 114.0h0M556.6 93.5h0M557.8 110.8h0M559.0 112.2h0M555.8 105.6h0M558.3 125.4h0M557.9 131.3h0M554.8 133.1h0M554.5 139.3h0M554.8 141.6h0M554.9 102.6h0M557.5 97.4h0M554.5 105.7h0M558.0 132.7h0M557.0 144.3h0M558.8 111.5h0M555.7 120.2h0M558.6 118.4h0M558.9 125.9h0M556.7 118.5h0M556.1 110.9h0M556.9 122.0h0M558.3 124.0h0M558.6 123.9h0M557.2 144.2h0M555.2 126.8h0M554.3 126.1h0M558.3 131.2h0M558.1 113.6h0M555.9 107.9h0M555.6 126.1h0M558.5 111.9h0M556.1 120.6h0M555.0 128.5h0M557.3 144.7h0M559.2 128.8h0M557.2 100.6h0M554.7 104.4h0M555.5 95.4h0M555.8 108.5h0M559.1 116.7h0M555.4 142.0h0M555.8 141.4h0M554.6 104.4h0M555.7 136.4h0M558.5 137.4h0M555.9 98.2h0M557.9 124.7h0M558.9 140.6h0M554.8 133.0h0M555.5 131.9h0M556.1 121.9h0M554.5 140.1h0M554.4 121.5h0M558.8 128.4h0M558.9 140.6h0M556.4 123.6h0M558.8 118.1h0M555.3 128.3h0M556.2 128.2h0M557.6 127.7h0M555.9 93.2h0M557.4 103.1h0M557.2 128.5h0M559.0 111.5h0M558.1 103.4h0M555.9 114.0h0M557.1 113.6h0M556.6 140.5h0M556.8 106.9h0M556.9 142.0h0M556.6 87.1h0M554.4 133.3h0M554.9 133.1h0M555.4 122.9h0M559.0 126.3h0M558.8 137.0h0M557.5 135.1h0M558.2 91.4h0M558.1 133.7h0M557.2 145.5h0M555.5 128.7h0M555.1 122.9h0M554.6 141.1h0M558.9 114.7h0M555.8 123.0h0M558.9 105.5h0M554.4 131.4h0M556.8 143.7h0M558.9 119.2h0M555.3 82.8h0M558.7 145.1h0M558.0 110.5h0M555.6 124.1h0M559.1 112.0h0M558.2 126.7h0M555.7 105.9h0M558.8 118.7h0M555.4 128.9h0M558.5 127.6h0M558.4 115.1h0M557.6 130.1h0M556.8 128.9h0M556.0 95.4h0M555.0 132.2h0M556.3 113.5h0M554.9 135.2h0M556.9 133.5h0M557.2 113.1h0M557.9 126.2h0M556.1 123.1h0M556.4 132.3h0M557.7 97.8h0M556.1 112.0h0M554.7 131.4h0M558.6 126.7h0M555.0 130.5h0M554.5 108.8h0M555.4 117.6h0M558.4 128.7h0M558.0 120.0h0M554.8 109.2h0M557.4 131.9h0M558.6 126.1h0M558.9 124.5h0M556.9 119.2h0M558.2 144.2h0M556.0 127.7h0M554.3 134.1h0M555.0 136.8h0M555.5 127.4h0M554.4 133.0h0M559.0 114.9h0M559.1 139.0h0M558.6 106.1h0M556.8 102.8h0M556.4 94.3h0M555.9 138.3h0M557.0 140.9h0M555.3 93.4h0M558.0 139.7h0M555.9 137.0h0M558.2 133.3h0M554.7 117.4h0M555.6 107.3h0M558.2 141.3h0M558.1 127.2h0M557.5 126.0h0M557.0 93.9h0M559.1 117.4h0M557.5 122.9h0M555.8 126.2h0M555.2 126.6h0M556.4 132.0h0M558.9 112.6h0M555.1 135.3h0M558.6 120.4h0M558.0 108.6h0M555.0 120.8h0M554.3 123.8h0M554.5 116.7h0M556.8 142.6h0M555.6 140.1h0M557.7 139.8h0M557.0 130.1h0M556.1 125.4h0M557.0 129.1h0M557.8 127.7h0M557.8 113.6h0M554.9 108.1h0" stroke="#f4987c" stroke-width="1.6" stroke-linecap="round"/><path d="M594.10 152.90 L594.28 151.99 L594.48 151.08 L594.70 150.18 L594.95 149.27 L595.22 148.36 L595.51 147.45 L595.83 146.55 L596.19 145.64 L596.57 144.73 L596.96 143.83 L597.35 142.92 L597.75 142.01 L598.16 141.10 L598.58 140.20 L599.02 139.29 L599.48 138.38 L599.95 137.47 L600.46 136.57 L601.01 135.66 L601.59 134.75 L602.17 133.85 L602.75 132.94 L603.29 132.03 L603.80 131.12 L604.31 130.22 L604.82 129.31 L605.31 128.40 L605.76 127.50 L606.15 126.59 L606.47 125.68 L606.74 124.77 L606.99 123.87 L607.23 122.96 L607.44 122.05 L607.59 121.15 L607.68 120.24 L607.69 119.33 L607.57 118.42 L607.34 117.52 L607.03 116.61 L606.68 115.70 L606.30 114.80 L605.94 113.89 L605.57 112.98 L605.14 112.07 L604.68 111.17 L604.19 110.26 L603.71 109.35 L603.26 108.44 L602.85 107.54 L602.45 106.63 L602.07 105.72 L601.70 104.82 L601.34 103.91 L600.98 103.00 L600.64 102.09 L600.30 101.19 L599.98 100.28 L599.65 99.37 L599.34 98.47 L599.03 97.56 L598.73 96.65 L598.44 95.74 L598.15 94.84 L597.87 93.93 L597.60 93.02 L597.34 92.12 L597.08 91.21 L596.83 90.30 L596.57 89.39 L596.31 88.49 L596.04 87.58 L595.77 86.67 L595.49 85.76 L595.22 84.86 L594.94 83.95 L594.66 83.04 L594.38 82.14 L594.10 81.23 L594.10 81.23 L593.82 82.14 L593.54 83.04 L593.26 83.95 L592.98 84.86 L592.71 85.76 L592.43 86.67 L592.16 87.58 L591.89 88.49 L591.63 89.39 L591.37 90.30 L591.12 91.21 L590.86 92.12 L590.60 93.02 L590.33 93.93 L590.05 94.84 L589.76 95.74 L589.47 96.65 L589.17 97.56 L588.86 98.47 L588.55 99.37 L588.22 100.28 L587.90 101.19 L587.56 102.09 L587.22 103.00 L586.86 103.91 L586.50 104.82 L586.13 105.72 L585.75 106.63 L585.35 107.54 L584.94 108.44 L584.49 109.35 L584.01 110.26 L583.52 111.17 L583.06 112.07 L582.63 112.98 L582.26 113.89 L581.90 114.80 L581.52 115.70 L581.17 116.61 L580.86 117.52 L580.63 118.42 L580.51 119.33 L580.52 120.24 L580.61 121.15 L580.76 122.05 L580.97 122.96 L581.21 123.87 L581.46 124.77 L581.73 125.68 L582.05 126.59 L582.44 127.50 L582.89 128.40 L583.38 129.31 L583.89 130.22 L584.40 131.12 L584.91 132.03 L585.45 132.94 L586.03 133.85 L586.61 134.75 L587.19 135.66 L587.74 136.57 L588.25 137.47 L588.72 138.38 L589.18 139.29 L589.62 140.20 L590.04 141.10 L590.45 142.01 L590.85 142.92 L591.24 143.83 L591.63 144.73 L592.01 145.64 L592.37 146.55 L592.69 147.45 L592.98 148.36 L593.25 149.27 L593.50 150.18 L593.72 151.08 L593.92 151.99 L594.10 152.90 Z" fill="#c0c7e3" stroke="#111" stroke-width="1.05" stroke-linejoin="round"/><rect x="586.15" y="107.23" width="15.90" height="21.41" fill="#8a96c8" stroke="#111" stroke-width="1.1"/><line x1="586.15" y1="119.68" x2="602.05" y2="119.68" stroke="#111" stroke-width="1.6"/><path d="M595.4 128.7h0M596.6 129.9h0M592.2 114.7h0M593.2 94.3h0M596.5 120.5h0M593.5 139.3h0M596.1 123.3h0M594.7 127.0h0M594.7 120.3h0M592.5 89.9h0M592.5 91.4h0M595.2 116.2h0M595.3 110.5h0M593.4 143.9h0M595.1 115.4h0M596.0 114.9h0M592.3 103.6h0M593.9 121.1h0M596.0 122.0h0M592.3 102.7h0M593.2 133.6h0M595.0 93.4h0M596.1 111.1h0M595.4 100.8h0M591.9 101.4h0M593.7 123.3h0M592.7 96.3h0M591.9 110.1h0M593.6 113.6h0M593.2 133.7h0M595.4 119.7h0M594.3 116.2h0M593.0 133.2h0M594.3 124.5h0M593.3 119.3h0M593.2 129.4h0M595.2 128.7h0M592.4 121.7h0M591.7 133.5h0M591.6 126.0h0M593.2 121.6h0M594.0 128.7h0M596.5 128.9h0M596.4 121.9h0M592.4 113.0h0M594.9 139.1h0M591.7 124.5h0M595.0 126.7h0M596.6 115.4h0M594.6 136.2h0M595.0 134.8h0M594.7 94.6h0M591.6 117.4h0M593.0 115.6h0M593.8 132.0h0M594.2 145.0h0M594.3 137.2h0M594.8 141.0h0M593.8 124.2h0M593.0 128.4h0M594.9 92.4h0M592.3 141.1h0M592.7 149.9h0M594.0 137.9h0M593.7 147.2h0M593.0 119.4h0M593.1 122.4h0M595.7 126.0h0M594.6 91.7h0M591.7 109.4h0M592.8 131.3h0M593.8 136.3h0M592.9 100.7h0M593.7 102.6h0M594.0 137.4h0M592.2 104.3h0M593.4 114.7h0M594.1 107.2h0M593.9 110.2h0M594.7 126.1h0M593.4 102.2h0M593.5 141.4h0M593.9 96.2h0M595.4 140.0h0M596.2 112.8h0M594.4 120.6h0M595.4 114.0h0M594.0 95.5h0M595.1 110.5h0M593.9 119.3h0M594.1 112.4h0M595.2 124.2h0M596.1 132.7h0M593.2 134.0h0M596.5 127.4h0M594.5 98.3h0M591.7 120.8h0M593.8 112.4h0M596.5 124.8h0M592.8 104.3h0M595.2 113.6h0M595.7 128.4h0M594.6 140.0h0M594.4 107.2h0M596.3 131.0h0M592.0 108.8h0M593.3 133.1h0M596.6 105.4h0M596.4 111.3h0M591.8 131.0h0M593.9 121.2h0M594.1 112.8h0M592.1 130.9h0M592.1 130.1h0M592.2 130.8h0M592.3 138.7h0M592.8 92.7h0M592.9 129.6h0M595.7 117.4h0M592.4 130.8h0M595.1 127.3h0M595.4 100.7h0M596.4 130.8h0M592.8 138.5h0M594.7 104.2h0M592.0 118.0h0M592.1 121.3h0M595.3 95.2h0M595.9 123.6h0M596.4 107.4h0M596.4 122.4h0M593.2 121.6h0M594.2 109.0h0M596.6 122.5h0M594.9 142.5h0M592.7 127.2h0M592.7 101.6h0M594.0 124.4h0M593.5 115.0h0M595.9 114.9h0M594.6 106.9h0M594.3 123.2h0M592.9 112.5h0M594.5 123.5h0M594.2 127.9h0M593.9 137.9h0M593.5 105.2h0M594.4 137.7h0M594.0 123.3h0M591.7 113.5h0M592.4 127.8h0M591.9 119.1h0M593.8 103.7h0M596.4 109.2h0M596.2 125.1h0M593.7 98.2h0M596.3 102.3h0M592.8 104.5h0M593.5 129.7h0M596.1 122.5h0M594.1 84.3h0M592.9 116.0h0M594.7 128.0h0M592.5 121.3h0M594.4 124.3h0M593.4 116.6h0M592.9 125.7h0M592.7 94.2h0M594.4 119.1h0M595.3 119.4h0M595.1 143.4h0M592.7 129.4h0M593.2 130.3h0M592.7 122.3h0M595.0 138.7h0M596.6 125.7h0M594.9 103.6h0M595.2 119.6h0M592.7 99.0h0M593.7 122.4h0M593.6 115.6h0M595.3 102.4h0M591.7 123.7h0M594.5 120.4h0M594.1 121.9h0M595.1 117.2h0M595.2 127.7h0M592.3 110.0h0M593.7 129.6h0M595.4 138.4h0M593.6 134.2h0M591.6 133.0h0M596.3 118.9h0M592.6 107.8h0M594.3 121.2h0M592.1 132.4h0M595.6 135.5h0M593.0 107.8h0M591.8 122.7h0M594.3 143.7h0M592.7 111.7h0M593.9 105.1h0M595.9 92.8h0M592.2 102.0h0M592.7 143.3h0M593.8 112.1h0M592.7 116.2h0M596.0 122.7h0M592.1 134.9h0M596.1 132.8h0M591.8 107.7h0M592.8 125.4h0M591.7 113.7h0M592.2 116.0h0M593.4 110.0h0M593.4 110.8h0M592.3 122.8h0M592.6 132.6h0M593.5 118.5h0M591.8 127.9h0M596.2 109.2h0M595.6 116.4h0M591.8 115.6h0M593.2 109.0h0M592.9 110.6h0M595.0 119.3h0M595.3 105.2h0M591.9 107.3h0M594.9 106.9h0M591.9 136.9h0M592.1 106.3h0M594.0 116.6h0M592.3 120.1h0M592.2 107.3h0M595.6 100.0h0M595.2 104.4h0M595.2 139.9h0M592.3 99.9h0M594.2 132.3h0M591.7 117.9h0M595.6 97.2h0M594.5 129.4h0M593.9 111.8h0M593.1 124.4h0M594.7 131.8h0M592.2 102.2h0M595.4 106.5h0M595.9 97.5h0M595.3 139.1h0M591.6 130.6h0M595.5 137.6h0M595.9 138.4h0M596.5 119.2h0M591.8 105.0h0M592.5 105.0h0M593.9 146.9h0M593.2 125.3h0M592.6 125.3h0M594.8 92.3h0M592.9 126.8h0M593.9 107.9h0M595.1 131.9h0M595.5 130.1h0M596.4 113.1h0M592.0 116.3h0M593.1 116.3h0M595.9 132.4h0M592.5 104.3h0M595.5 103.8h0M593.2 128.6h0M596.1 116.3h0M593.9 125.1h0M596.1 131.3h0M594.9 95.2h0M591.9 116.3h0M593.3 136.2h0M593.1 121.0h0M594.1 127.1h0M594.2 89.2h0M593.0 126.8h0M594.5 119.5h0M592.2 124.4h0M596.0 135.8h0M595.1 100.5h0M593.0 111.0h0M592.7 97.2h0M594.9 101.7h0M594.0 114.6h0M595.5 116.1h0M596.2 111.4h0M592.1 122.7h0M592.7 110.4h0M594.0 133.6h0M593.3 116.1h0M596.6 111.3h0M593.6 133.6h0M594.7 140.9h0M591.7 121.8h0M596.2 107.3h0M592.1 125.6h0M595.0 131.6h0M593.4 111.0h0M592.7 110.4h0M595.5 126.4h0M596.0 132.1h0M593.3 121.3h0M593.2 130.9h0M593.0 146.4h0M593.3 105.2h0M594.0 118.0h0M593.9 131.5h0M592.3 126.4h0M592.4 125.9h0M594.6 121.1h0M592.7 95.7h0M596.0 105.8h0M595.7 135.5h0M594.3 110.8h0M592.5 120.2h0M594.9 128.7h0M594.2 138.3h0M593.8 114.4h0M594.9 91.3h0M593.2 143.4h0M594.5 97.6h0M595.9 103.2h0M592.9 124.7h0M591.7 110.6h0M594.6 110.7h0M592.8 110.8h0M592.0 114.3h0M593.2 105.3h0M593.8 102.5h0M593.1 128.8h0M593.9 118.1h0M595.9 98.9h0M593.5 135.5h0M592.8 117.6h0M592.1 106.8h0M592.0 99.5h0M595.9 113.3h0M595.3 118.8h0M592.7 119.4h0M593.5 127.5h0M596.4 125.1h0M593.3 112.5h0M592.5 100.6h0M594.6 93.7h0M596.1 96.3h0M593.6 127.1h0M595.7 128.7h0M595.1 137.5h0M594.6 99.0h0M592.7 116.9h0M592.2 124.4h0M595.1 113.4h0M594.9 104.9h0M596.2 110.4h0M592.5 130.9h0M592.7 116.2h0M595.7 144.7h0M593.4 126.2h0M595.1 116.2h0M596.1 113.6h0M594.3 130.3h0M591.6 112.5h0M595.7 123.6h0M596.0 139.6h0M594.8 87.6h0M593.1 116.5h0M593.8 115.2h0M593.3 132.0h0M592.5 108.1h0M594.2 138.2h0M595.9 131.6h0M594.4 103.6h0M595.6 107.7h0M594.0 121.2h0M592.1 131.9h0M592.3 119.4h0M592.0 127.1h0M595.3 123.5h0M593.6 131.4h0M593.4 98.0h0M596.2 104.7h0M594.3 87.4h0M594.1 124.5h0M592.0 121.3h0M595.7 111.7h0M592.5 97.7h0M594.9 133.6h0M593.3 133.6h0M593.7 138.1h0M595.1 140.1h0M595.6 129.2h0M592.1 126.3h0M594.9 121.2h0M594.3 112.2h0M594.3 108.7h0M593.0 99.7h0M595.3 106.4h0M596.1 125.5h0M594.3 87.0h0M591.9 125.0h0M596.3 133.7h0M595.1 99.5h0M592.7 97.6h0M593.6 121.2h0M595.3 131.2h0M594.7 125.9h0M593.4 95.0h0M594.0 135.4h0M596.1 110.0h0M594.8 141.6h0M594.9 112.8h0M593.8 105.4h0M591.8 115.3h0M593.2 146.2h0M594.2 138.4h0M592.5 119.0h0M594.6 108.3h0M596.4 133.9h0M594.7 123.1h0M594.4 93.1h0M594.5 146.4h0M593.9 89.2h0M593.2 131.3h0M595.0 131.4h0M593.8 103.1h0M592.6 91.3h0M592.4 109.5h0M593.8 147.1h0M595.5 131.7h0M592.4 91.6h0M594.9 116.7h0M595.9 106.8h0M592.2 104.4h0M595.6 116.2h0M594.9 129.2h0M595.4 126.0h0M591.9 102.5h0M593.6 91.2h0M595.3 130.1h0M592.6 112.5h0M594.2 107.4h0M594.7 131.5h0M593.8 116.3h0M594.2 112.5h0M591.7 122.7h0M592.1 122.7h0M593.7 125.9h0M593.1 109.6h0M594.1 99.4h0M594.8 116.1h0M595.4 136.6h0M592.9 109.1h0M595.6 122.6h0M596.0 96.7h0M592.3 120.6h0M595.6 115.1h0M592.6 116.0h0M591.9 99.6h0M593.9 111.6h0M596.4 117.1h0M596.0 115.7h0M593.7 114.4h0M592.4 109.9h0M593.7 96.9h0M595.4 122.3h0M592.1 119.0h0M593.9 109.6h0M592.5 101.4h0M594.9 104.9h0M594.5 111.3h0M595.5 115.9h0M592.9 134.3h0M594.0 139.2h0M591.8 134.6h0M595.0 108.5h0M593.7 140.2h0M592.5 129.4h0M593.2 113.5h0M596.2 122.4h0M592.9 144.2h0M594.3 93.5h0M592.7 102.3h0M595.6 146.7h0M592.2 115.8h0M592.1 96.4h0M592.2 134.5h0M596.4 119.0h0M593.4 123.2h0M595.1 84.6h0M592.4 138.8h0M593.1 138.0h0M595.8 120.9h0M593.8 119.9h0M592.2 123.1h0M595.4 115.9h0M595.6 126.8h0M595.2 109.5h0M593.1 120.9h0M595.4 89.4h0M592.1 137.1h0M595.3 114.1h0M594.8 130.7h0M594.0 114.3h0M593.9 117.2h0M594.9 128.3h0M595.7 122.6h0M594.9 118.7h0M596.4 114.0h0M595.7 99.1h0M595.7 116.6h0M596.1 100.1h0M592.1 115.4h0M595.4 116.9h0M594.3 133.3h0M596.3 111.8h0M593.4 84.9h0" stroke="#8692c6" stroke-width="1.6" stroke-linecap="round"/><path d="M630.60 184.14 L632.93 182.98 L633.28 181.81 L633.36 180.64 L633.43 179.47 L633.56 178.31 L633.83 177.14 L634.23 175.97 L634.70 174.81 L635.22 173.64 L635.92 172.47 L636.77 171.30 L637.63 170.14 L638.40 168.97 L639.00 167.80 L639.54 166.63 L640.05 165.47 L640.52 164.30 L640.94 163.13 L641.32 161.97 L641.65 160.80 L641.97 159.63 L642.29 158.46 L642.59 157.30 L642.84 156.13 L643.02 154.96 L643.10 153.80 L643.09 152.63 L643.06 151.46 L643.00 150.29 L642.93 149.13 L642.84 147.96 L642.74 146.79 L642.62 145.63 L642.40 144.46 L642.11 143.29 L641.77 142.12 L641.38 140.96 L640.97 139.79 L640.55 138.62 L640.15 137.46 L639.71 136.29 L639.22 135.12 L638.70 133.95 L638.19 132.79 L637.71 131.62 L637.29 130.45 L636.93 129.29 L636.60 128.12 L636.30 126.95 L636.01 125.78 L635.73 124.62 L635.47 123.45 L635.22 122.28 L634.98 121.11 L634.75 119.95 L634.52 118.78 L634.31 117.61 L634.10 116.45 L633.90 115.28 L633.70 114.11 L633.51 112.94 L633.33 111.78 L633.15 110.61 L632.98 109.44 L632.81 108.28 L632.65 107.11 L632.50 105.94 L632.34 104.77 L632.19 103.61 L632.04 102.44 L631.88 101.27 L631.72 100.11 L631.56 98.94 L631.40 97.77 L631.24 96.60 L631.08 95.44 L630.92 94.27 L630.76 93.10 L630.60 91.94 L630.60 91.94 L630.44 93.10 L630.28 94.27 L630.12 95.44 L629.96 96.60 L629.80 97.77 L629.64 98.94 L629.48 100.11 L629.32 101.27 L629.16 102.44 L629.01 103.61 L628.86 104.77 L628.70 105.94 L628.55 107.11 L628.39 108.28 L628.22 109.44 L628.05 110.61 L627.87 111.78 L627.69 112.94 L627.50 114.11 L627.30 115.28 L627.10 116.45 L626.89 117.61 L626.68 118.78 L626.45 119.95 L626.22 121.11 L625.98 122.28 L625.73 123.45 L625.47 124.62 L625.19 125.78 L624.90 126.95 L624.60 128.12 L624.27 129.29 L623.91 130.45 L623.49 131.62 L623.01 132.79 L622.50 133.95 L621.98 135.12 L621.49 136.29 L621.05 137.46 L620.65 138.62 L620.23 139.79 L619.82 140.96 L619.43 142.12 L619.09 143.29 L618.80 144.46 L618.58 145.63 L618.46 146.79 L618.36 147.96 L618.27 149.13 L618.20 150.29 L618.14 151.46 L618.11 152.63 L618.10 153.80 L618.18 154.96 L618.36 156.13 L618.61 157.30 L618.91 158.46 L619.23 159.63 L619.55 160.80 L619.88 161.97 L620.26 163.13 L620.68 164.30 L621.15 165.47 L621.66 166.63 L622.20 167.80 L622.80 168.97 L623.57 170.14 L624.43 171.30 L625.28 172.47 L625.98 173.64 L626.50 174.81 L626.97 175.97 L627.37 177.14 L627.64 178.31 L627.77 179.47 L627.84 180.64 L627.92 181.81 L628.27 182.98 L630.60 184.14 Z" fill="#c8ecdf" stroke="#111" stroke-width="1.05" stroke-linejoin="round"/><rect x="623.25" y="135.64" width="14.70" height="25.35" fill="#93d6c0" stroke="#111" stroke-width="1.1"/><line x1="623.25" y1="148.96" x2="637.95" y2="148.96" stroke="#111" stroke-width="1.6"/><path d="M628.1 138.8h0M628.8 143.4h0M632.5 154.9h0M632.9 132.9h0M628.9 127.7h0M629.5 136.8h0M630.5 140.2h0M630.8 169.7h0M631.9 149.8h0M630.5 139.2h0M628.2 135.4h0M630.9 119.7h0M629.2 182.8h0M629.7 154.2h0M629.8 125.6h0M631.6 149.0h0M630.9 167.0h0M631.5 173.4h0M632.2 140.5h0M630.7 165.0h0M629.4 151.2h0M630.8 151.4h0M632.9 153.2h0M632.2 151.8h0M628.4 143.2h0M632.5 135.2h0M630.0 124.0h0M632.6 148.3h0M631.4 114.0h0M629.1 176.4h0M631.3 168.8h0M631.1 180.0h0M629.5 159.2h0M631.4 148.2h0M628.9 107.9h0M630.5 158.3h0M631.4 169.2h0M628.7 163.4h0M632.1 169.7h0M632.1 163.5h0M632.6 161.8h0M633.0 162.4h0M629.6 150.1h0M628.9 176.0h0M628.6 162.0h0M629.1 182.4h0M629.4 139.1h0M630.2 134.6h0M630.1 100.6h0M632.5 128.7h0M631.9 128.8h0M628.6 159.8h0M628.6 125.8h0M630.8 157.8h0M632.1 139.6h0M628.6 152.0h0M632.0 146.9h0M630.0 128.5h0M631.8 164.9h0M628.8 119.4h0M629.3 143.2h0M631.8 167.9h0M628.6 148.5h0M632.3 111.3h0M628.5 167.7h0M629.1 178.9h0M630.3 173.9h0M632.5 131.4h0M629.9 159.3h0M628.8 152.2h0M628.6 147.4h0M631.0 156.5h0M628.5 162.7h0M632.3 148.1h0M632.2 142.1h0M632.2 159.0h0M629.8 129.3h0M630.0 146.7h0M631.9 167.6h0M631.8 139.8h0M630.1 155.4h0M631.8 141.7h0M632.8 133.2h0M631.8 176.6h0M632.2 152.9h0M631.3 152.3h0M630.0 162.2h0M631.5 161.7h0M628.9 157.4h0M632.7 165.9h0M631.3 172.4h0M629.2 160.1h0M628.5 158.2h0M628.9 141.3h0M632.9 141.7h0M632.1 155.2h0M632.6 142.6h0M629.9 159.4h0M629.4 150.6h0M629.1 156.0h0M629.9 170.8h0M628.2 156.2h0M630.9 126.4h0M630.1 138.5h0M632.2 163.0h0M630.2 121.7h0M630.6 137.0h0M629.8 109.0h0M631.7 163.7h0M629.8 144.3h0M630.4 140.3h0M631.8 179.0h0M631.9 152.3h0M632.0 132.2h0M630.9 126.6h0M628.8 170.0h0M628.5 158.3h0M632.4 163.5h0M633.0 143.9h0M631.3 165.4h0M629.5 129.0h0M629.1 142.2h0M629.3 164.2h0M632.6 134.0h0M629.9 168.4h0M631.6 129.5h0M632.8 161.4h0M632.6 147.8h0M632.1 178.9h0M629.8 156.7h0M629.6 160.5h0M631.4 109.2h0M628.5 137.9h0M629.8 127.7h0M629.7 134.3h0M632.2 169.6h0M633.1 146.2h0M631.6 155.9h0M631.3 155.2h0M629.3 167.6h0M630.1 134.7h0M630.8 157.3h0M629.1 162.9h0M631.6 178.6h0M630.7 134.7h0M632.2 125.1h0M632.9 169.0h0M629.0 160.0h0M631.1 147.2h0M631.7 137.9h0M629.1 148.2h0M630.3 135.5h0M631.5 132.1h0M628.7 151.1h0M628.6 137.5h0M630.4 133.5h0M630.3 167.5h0M632.1 147.1h0M628.7 157.0h0M629.3 160.4h0M630.6 120.4h0M631.7 118.2h0M630.6 167.1h0M631.3 127.8h0M629.5 134.8h0M630.6 153.7h0M630.0 153.6h0M632.7 154.8h0M631.0 121.8h0M630.8 151.5h0M632.8 148.2h0M628.8 142.3h0M629.9 167.1h0M632.2 180.0h0M632.9 136.6h0M629.8 153.8h0M632.1 131.1h0M632.7 128.0h0M629.9 169.8h0M628.5 159.4h0M629.3 156.1h0M632.6 121.3h0M632.2 160.0h0M628.6 151.8h0M632.4 142.2h0M629.7 111.6h0M629.5 154.4h0M631.2 107.0h0M629.4 133.3h0M630.3 128.8h0M628.8 150.5h0M629.4 136.6h0M629.9 174.1h0M632.5 140.5h0M629.1 153.9h0M628.2 162.3h0M632.4 121.4h0M629.5 175.6h0M630.0 152.3h0M630.0 147.5h0M631.0 106.1h0M632.7 142.2h0M630.7 165.9h0M632.3 144.7h0M629.5 131.2h0M630.9 138.2h0M631.0 145.3h0M629.1 158.0h0M632.9 152.6h0M628.8 123.7h0M630.4 174.2h0M630.7 146.5h0M633.0 159.4h0M632.0 162.8h0M629.8 163.0h0M629.4 161.5h0M630.7 123.0h0M630.6 98.1h0M632.5 129.9h0M629.3 109.2h0M632.6 165.5h0M630.6 107.8h0M629.6 160.5h0M628.9 161.8h0M629.2 156.0h0M629.7 151.3h0M632.3 124.5h0M631.4 128.6h0M630.8 166.7h0M630.2 131.3h0M628.9 142.7h0M629.6 106.3h0M628.6 139.4h0M630.5 153.0h0M630.6 149.6h0M629.3 116.6h0M629.2 178.8h0M629.7 112.3h0M630.9 148.6h0M631.7 168.8h0M630.8 120.7h0M629.9 128.6h0M630.0 158.3h0M632.1 150.8h0M630.7 157.8h0M631.6 156.7h0M629.0 138.9h0M629.7 127.8h0M629.5 164.6h0M629.2 164.1h0M633.0 164.6h0M629.8 128.4h0M632.3 168.1h0M628.6 150.5h0M628.5 166.3h0M632.5 155.8h0M632.6 169.3h0M631.7 161.6h0M631.2 130.8h0M629.0 140.4h0M631.2 141.3h0M629.2 154.5h0M631.0 156.8h0M631.7 174.0h0M628.8 153.8h0M631.2 127.9h0M631.8 159.7h0M629.7 161.4h0M629.9 182.4h0M630.9 136.4h0M631.5 166.1h0M633.1 164.4h0M631.3 172.2h0M629.3 143.9h0M631.9 166.6h0M628.1 140.3h0M628.8 143.4h0M631.0 115.7h0M632.4 156.1h0M628.6 147.2h0M629.9 116.2h0M628.7 143.3h0M629.2 136.1h0M629.4 165.2h0M631.9 118.9h0M631.7 152.0h0M630.8 139.5h0M631.5 133.0h0M632.0 156.2h0M631.1 102.3h0M629.6 149.7h0M628.9 132.5h0M633.0 149.9h0M628.8 146.8h0M633.0 145.5h0M629.7 154.0h0M628.2 152.7h0M630.0 173.3h0M629.0 135.1h0M631.6 125.4h0M632.0 114.0h0M630.7 180.3h0M629.7 139.6h0M631.7 178.2h0M629.5 139.9h0M630.3 115.0h0M632.6 148.3h0M632.5 167.4h0M633.1 143.7h0M631.6 125.9h0M629.5 143.2h0M633.0 143.6h0M630.2 147.5h0M631.6 162.5h0M631.7 150.5h0M629.4 139.7h0M630.1 181.9h0M630.0 167.8h0M631.6 127.6h0M632.9 159.9h0M630.5 154.1h0M628.2 168.0h0M630.7 166.9h0M628.3 145.7h0M631.4 146.9h0M632.6 152.4h0M631.0 143.1h0M631.0 166.9h0M632.3 145.1h0M631.0 169.3h0M629.0 161.6h0M632.7 155.0h0M629.2 159.2h0M631.9 156.4h0M628.7 149.3h0M631.0 141.2h0M629.0 167.5h0M630.6 141.7h0M630.5 156.5h0M631.8 160.7h0M629.1 168.3h0M632.1 148.8h0M630.0 179.8h0M632.3 163.6h0M631.9 155.6h0M629.1 104.5h0M632.8 150.6h0M632.2 149.9h0M630.1 124.0h0M630.2 145.8h0M632.4 141.3h0M629.0 154.9h0M628.3 167.7h0M631.9 161.7h0M632.8 170.8h0M629.2 147.0h0M628.8 170.7h0M632.2 151.6h0M628.5 159.4h0M629.2 183.0h0M629.5 138.9h0M631.8 177.0h0M631.2 145.6h0M632.4 151.4h0M630.9 125.3h0M629.3 153.4h0M631.2 167.1h0M630.5 152.3h0M628.7 150.5h0M632.4 171.2h0M632.4 162.1h0M631.3 163.8h0M630.9 161.6h0M630.0 131.4h0M630.4 157.6h0M628.8 139.1h0M632.0 179.9h0M631.5 96.5h0M629.6 125.9h0M631.5 150.9h0M628.6 171.4h0M630.3 150.6h0M631.8 139.3h0M632.4 157.3h0M631.7 182.6h0M630.1 157.6h0M632.5 143.2h0M630.0 169.8h0M630.1 147.4h0M628.4 132.1h0M629.0 140.9h0M630.7 132.4h0M630.8 134.2h0M632.1 124.8h0M631.9 152.9h0M629.0 140.2h0M632.3 109.7h0M628.4 138.4h0M630.5 94.6h0M630.8 112.6h0M630.8 155.3h0M628.7 166.7h0M629.1 158.0h0M628.4 167.5h0M628.5 168.5h0M631.2 152.0h0M630.0 114.3h0M629.7 115.6h0M628.3 140.6h0M632.3 106.5h0M632.2 158.7h0M629.2 165.1h0M628.8 118.9h0M628.6 122.5h0M629.1 158.7h0M630.2 135.3h0M632.0 166.4h0M630.9 115.5h0M631.9 158.6h0M628.5 162.8h0M630.2 104.8h0M630.7 174.4h0M633.0 161.0h0M631.5 93.5h0M632.9 149.9h0M631.4 154.0h0M630.8 143.5h0M631.4 176.4h0M631.3 177.9h0M628.9 153.3h0M630.8 119.9h0M630.3 121.6h0M629.0 128.5h0M630.7 125.2h0M632.9 150.4h0M629.2 133.9h0M631.0 140.9h0M631.6 164.1h0M630.5 172.5h0M631.6 136.9h0M631.4 151.2h0M631.3 121.4h0M629.8 105.6h0M632.1 149.3h0M629.8 169.5h0M632.5 156.1h0M628.2 150.2h0M631.7 160.2h0M632.3 153.2h0M633.0 140.0h0M629.9 134.8h0M632.4 138.9h0M631.8 167.0h0M631.5 110.8h0M632.8 149.8h0M631.0 178.3h0M631.0 128.7h0M632.3 156.7h0M631.4 98.9h0M628.4 165.1h0M632.6 122.3h0M632.8 135.0h0M629.0 170.8h0M632.7 138.2h0M630.3 169.8h0M629.6 168.2h0M632.9 157.7h0M631.7 137.2h0M631.3 150.7h0M630.3 171.6h0M632.2 121.2h0M631.4 156.4h0M630.5 169.1h0M631.1 153.5h0M628.8 125.4h0M629.9 146.6h0M631.8 125.7h0M628.6 127.4h0M631.4 138.0h0M629.0 168.4h0M631.5 159.8h0M632.9 164.3h0M630.2 147.0h0M632.5 161.7h0M632.7 163.3h0M628.9 146.6h0M628.9 149.9h0M628.4 146.7h0M632.5 140.2h0M629.3 128.9h0M630.7 168.0h0M629.5 148.6h0M632.9 160.6h0M628.9 112.4h0M632.0 119.7h0M630.5 156.2h0M631.5 102.7h0M630.7 120.8h0M629.5 130.6h0M632.1 169.2h0M629.3 159.5h0M628.5 142.7h0M629.5 158.5h0M629.9 159.5h0M629.0 181.5h0M630.1 169.1h0M628.7 116.2h0M632.9 158.6h0M629.6 163.7h0M630.4 149.0h0M632.1 141.1h0M632.4 138.6h0M628.4 133.0h0M629.9 153.5h0M631.9 103.9h0M632.0 137.2h0M632.7 164.3h0M628.3 135.9h0M628.6 137.8h0M632.5 140.1h0" stroke="#8dd4bc" stroke-width="1.6" stroke-linecap="round"/><text x="435.1" y="216.6" font-size="7.8" fill="#111" text-anchor="middle" font-family="Liberation Sans, sans-serif">ROC Curve of AQR_K562 prediction</text><clipPath id="c369220"><rect x="369.8" y="220.4" width="130.6" height="130.3"/></clipPath><g clip-path="url(#c369220)" fill="none" stroke-width="1.3" stroke-linejoin="round"><path d="M375.7 344.8 L375.7 343.7 L375.7 342.6 L375.7 341.5 L375.7 340.4 L375.7 339.3 L375.7 338.2 L375.7 337.1 L375.7 336.1 L375.8 335.0 L375.8 333.9 L375.8 332.8 L375.8 331.7 L375.8 330.7 L375.8 329.6 L375.8 328.5 L375.8 327.4 L375.8 326.3 L375.9 325.3 L375.9 324.2 L375.9 323.1 L375.9 322.0 L375.9 320.9 L375.9 319.9 L375.9 318.8 L376.0 317.8 L376.1 316.8 L376.1 315.7 L376.1 314.6 L376.2 313.6 L376.3 312.6 L376.3 311.6 L376.4 310.5 L376.4 309.4 L376.4 308.4 L376.4 307.3 L376.6 306.4 L376.7 305.4 L376.8 304.5 L376.8 303.4 L376.9 302.4 L377.0 301.4 L377.1 300.4 L377.2 299.4 L377.4 298.4 L377.6 297.6 L378.0 296.9 L378.1 295.9 L378.3 295.0 L378.4 294.1 L378.5 293.1 L378.7 292.1 L378.8 291.2 L379.1 290.3 L379.3 289.5 L379.4 288.5 L379.6 287.6 L379.7 286.6 L380.0 285.8 L380.2 284.9 L380.3 284.0 L380.6 283.1 L381.0 282.4 L381.4 281.8 L381.6 280.9 L381.8 280.0 L382.2 279.3 L382.6 278.6 L382.9 277.8 L383.3 277.1 L383.6 276.3 L384.0 275.7 L384.5 275.1 L384.9 274.3 L385.3 273.7 L385.7 273.0 L386.1 272.3 L386.6 271.7 L387.0 271.1 L387.6 270.5 L387.9 269.7 L388.3 269.1 L388.9 268.5 L389.5 268.1 L389.9 267.4 L390.3 266.7 L390.9 266.2 L391.7 265.9 L392.1 265.2 L392.5 264.6 L393.0 263.9 L393.6 263.4 L394.3 263.0 L394.9 262.5 L395.7 262.3 L396.5 262.0 L397.1 261.5 L397.6 260.9 L398.1 260.3 L398.5 259.6 L399.3 259.3 L400.0 258.9 L400.4 258.3 L401.1 257.9 L401.8 257.4 L402.3 256.8 L403.1 256.6 L404.1 256.5 L404.8 256.0 L405.5 255.7 L406.1 255.2 L406.7 254.8 L407.4 254.3 L408.1 253.9 L408.9 253.6 L409.5 253.2 L410.3 252.9 L410.9 252.4 L411.5 251.9 L412.3 251.6 L413.1 251.3 L413.8 250.9 L414.6 250.6 L415.3 250.3 L416.2 250.0 L417.0 249.7 L417.7 249.4 L418.6 249.2 L419.4 248.9 L420.2 248.6 L421.1 248.4 L421.8 247.9 L422.2 247.3 L423.0 247.0 L423.9 246.8 L424.7 246.5 L425.3 246.0 L426.0 245.6 L426.7 245.3 L427.5 244.9 L428.3 244.6 L429.1 244.3 L429.8 244.0 L430.7 243.8 L431.5 243.5 L432.1 243.0 L433.1 242.9 L434.0 242.7 L434.7 242.3 L435.4 242.0 L436.4 241.8 L437.4 241.7 L438.3 241.6 L439.1 241.2 L439.8 240.8 L440.7 240.7 L441.5 240.3 L442.3 240.1 L443.2 239.9 L444.0 239.6 L445.0 239.5 L445.7 239.2 L446.5 238.8 L447.4 238.6 L448.3 238.4 L449.3 238.3 L449.9 237.9 L450.8 237.7 L451.6 237.4 L452.6 237.3 L453.3 236.9 L454.1 236.7 L454.9 236.3 L455.7 236.0 L456.6 235.8 L457.6 235.7 L458.4 235.4 L459.3 235.3 L460.3 235.2 L461.2 234.9 L462.1 234.8 L463.0 234.6 L463.8 234.3 L464.8 234.2 L465.7 234.0 L466.6 233.9 L467.5 233.6 L468.3 233.3 L469.1 233.0 L469.9 232.8 L470.7 232.5 L471.6 232.3 L472.7 232.2 L473.6 232.1 L474.4 231.8 L475.5 231.8 L476.2 231.4 L477.1 231.3 L478.2 231.2 L479.1 231.0 L480.0 230.8 L480.6 230.4 L481.6 230.3 L482.4 230.0 L483.3 229.8 L484.1 229.4 L484.8 229.1 L485.7 228.9 L486.6 228.7 L487.4 228.5 L488.4 228.4 L489.3 228.2 L490.2 227.9 L490.9 227.6 L491.9 227.4 L492.8 227.3 L493.6 226.9 L494.4 226.7 L494.5 226.3" stroke="#1f77b4"/><path d="M375.7 344.8 L375.7 343.7 L375.7 342.6 L375.8 341.6 L375.8 340.5 L375.8 339.4 L375.8 338.3 L375.8 337.2 L375.8 336.2 L375.8 335.1 L375.9 334.0 L375.9 332.9 L375.9 331.9 L376.0 330.8 L376.1 329.9 L376.1 328.8 L376.2 327.8 L376.3 326.8 L376.3 325.7 L376.3 324.6 L376.4 323.6 L376.4 322.6 L376.6 321.7 L376.7 320.7 L376.8 319.7 L377.0 318.8 L377.1 317.8 L377.3 316.9 L377.5 316.0 L377.5 314.9 L377.6 313.9 L377.8 313.1 L378.1 312.2 L378.2 311.2 L378.5 310.5 L378.7 309.6 L378.8 308.6 L379.0 307.7 L379.3 306.9 L379.4 305.9 L379.5 305.0 L379.7 304.0 L380.0 303.3 L380.2 302.4 L380.3 301.4 L380.7 300.7 L381.0 299.9 L381.3 299.1 L381.6 298.3 L381.9 297.5 L382.3 296.8 L382.8 296.3 L383.1 295.5 L383.3 294.6 L383.7 293.9 L384.0 293.0 L384.3 292.3 L384.5 291.4 L385.1 291.0 L385.5 290.2 L385.8 289.4 L386.1 288.7 L386.5 288.0 L386.8 287.2 L387.3 286.5 L387.7 285.9 L388.0 285.1 L388.4 284.4 L388.8 283.7 L389.1 282.9 L389.5 282.2 L389.8 281.4 L390.2 280.7 L390.6 280.1 L391.1 279.4 L391.4 278.6 L392.0 278.2 L392.4 277.5 L392.8 276.8 L393.3 276.2 L393.8 275.6 L394.2 274.9 L394.9 274.6 L395.4 273.9 L395.9 273.4 L396.3 272.7 L396.8 272.1 L397.3 271.5 L397.9 271.0 L398.5 270.5 L399.0 269.9 L399.5 269.3 L400.1 268.8 L400.4 268.1 L400.7 267.2 L401.2 266.6 L401.8 266.1 L402.3 265.6 L402.7 264.9 L403.4 264.5 L404.2 264.2 L404.7 263.6 L405.4 263.2 L406.0 262.7 L406.6 262.2 L407.2 261.8 L407.8 261.2 L408.6 261.0 L409.0 260.3 L409.7 259.9 L410.3 259.4 L411.0 259.0 L411.6 258.5 L412.1 257.9 L412.5 257.3 L413.3 256.9 L413.7 256.3 L414.3 255.7 L415.1 255.4 L415.8 255.0 L416.5 254.7 L417.2 254.3 L417.9 253.9 L418.6 253.5 L419.3 253.1 L419.9 252.6 L420.8 252.4 L421.4 251.9 L421.9 251.3 L422.7 251.1 L423.4 250.7 L424.2 250.3 L425.0 250.1 L425.6 249.6 L426.2 249.1 L427.0 248.8 L427.8 248.5 L428.7 248.3 L429.5 248.0 L430.1 247.5 L430.9 247.3 L431.7 247.0 L432.5 246.6 L433.3 246.4 L434.0 245.9 L434.8 245.7 L435.6 245.4 L436.4 245.1 L437.1 244.8 L437.9 244.4 L438.8 244.2 L439.6 243.9 L440.3 243.6 L441.0 243.1 L441.7 242.8 L442.4 242.3 L443.2 242.1 L444.0 241.8 L444.8 241.5 L445.5 241.1 L446.3 240.8 L447.3 240.7 L448.0 240.3 L448.7 240.0 L449.3 239.4 L449.9 239.0 L450.7 238.7 L451.4 238.3 L452.3 238.1 L453.1 237.7 L453.9 237.5 L454.7 237.2 L455.6 237.0 L456.4 236.7 L457.2 236.5 L458.0 236.1 L458.7 235.8 L459.6 235.6 L460.5 235.4 L461.3 235.0 L462.2 234.9 L463.1 234.7 L463.9 234.4 L464.7 234.1 L465.6 234.0 L466.4 233.7 L467.2 233.3 L468.0 233.0 L468.9 232.9 L469.8 232.6 L470.6 232.3 L471.4 232.1 L472.2 231.8 L473.2 231.7 L474.1 231.5 L474.8 231.1 L475.7 230.9 L476.6 230.7 L477.4 230.4 L478.3 230.2 L479.3 230.2 L480.0 229.7 L480.8 229.5 L481.8 229.4 L482.7 229.2 L483.5 228.9 L484.4 228.7 L485.3 228.5 L486.1 228.2 L486.9 227.9 L487.7 227.6 L488.7 227.6 L489.6 227.4 L490.7 227.3 L491.5 227.1 L492.3 226.7 L493.3 226.7 L494.1 226.4 L494.5 226.3" stroke="#ff7f0e"/><path d="M375.7 344.8 L375.9 343.8 L376.0 342.8 L376.1 341.9 L376.2 340.9 L376.4 340.0 L376.4 338.9 L376.5 338.0 L376.6 337.0 L376.8 336.1 L377.1 335.3 L377.3 334.4 L377.7 333.7 L377.9 332.8 L378.0 331.7 L378.2 330.9 L378.5 330.1 L378.7 329.2 L379.1 328.5 L379.4 327.7 L379.6 326.9 L379.9 326.0 L380.0 325.0 L380.2 324.2 L380.5 323.4 L380.9 322.6 L381.3 322.0 L381.4 321.0 L381.8 320.3 L382.1 319.6 L382.7 319.0 L383.0 318.3 L383.3 317.5 L383.6 316.7 L384.2 316.2 L384.8 315.6 L385.2 315.0 L385.6 314.3 L386.0 313.6 L386.5 313.0 L387.0 312.4 L387.2 311.6 L387.6 310.9 L387.8 309.9 L388.1 309.1 L388.7 308.6 L389.0 307.9 L389.6 307.4 L390.1 306.8 L390.6 306.2 L390.8 305.4 L391.1 304.5 L391.4 303.7 L392.0 303.3 L392.5 302.7 L392.8 301.9 L393.3 301.2 L393.7 300.6 L394.2 300.0 L394.6 299.3 L395.1 298.7 L395.4 298.0 L396.0 297.4 L396.4 296.7 L396.8 296.1 L397.4 295.5 L397.9 295.0 L398.5 294.5 L399.0 293.8 L399.5 293.3 L399.9 292.6 L400.2 291.8 L400.8 291.3 L401.3 290.7 L401.6 289.9 L402.2 289.4 L402.9 289.0 L403.3 288.4 L403.9 287.9 L404.6 287.4 L405.1 286.9 L405.5 286.2 L405.9 285.6 L406.2 284.7 L406.7 284.2 L407.2 283.6 L407.9 283.2 L408.4 282.6 L409.0 282.0 L409.6 281.6 L410.1 281.0 L410.5 280.2 L411.0 279.7 L411.3 278.9 L411.8 278.3 L412.4 277.8 L412.7 277.1 L413.3 276.5 L413.9 276.1 L414.3 275.4 L414.9 274.8 L415.4 274.3 L415.9 273.7 L416.2 272.9 L416.8 272.4 L417.5 272.0 L418.4 271.8 L419.2 271.5 L419.9 271.1 L420.4 270.5 L420.9 270.0 L421.4 269.4 L422.1 269.0 L422.8 268.5 L423.4 268.1 L424.0 267.6 L424.8 267.3 L425.2 266.6 L425.7 266.1 L426.3 265.6 L426.8 264.9 L427.5 264.5 L427.9 263.9 L428.6 263.5 L429.2 263.0 L429.8 262.5 L430.5 262.1 L431.2 261.7 L431.7 261.1 L432.4 260.8 L433.0 260.2 L433.5 259.6 L434.1 259.2 L435.0 258.9 L435.5 258.4 L436.0 257.8 L436.5 257.2 L437.2 256.8 L438.0 256.6 L438.6 256.0 L439.2 255.6 L439.8 255.0 L440.4 254.6 L441.0 254.1 L441.7 253.7 L442.3 253.2 L443.1 252.9 L443.8 252.5 L444.5 252.1 L445.1 251.6 L445.8 251.2 L446.3 250.6 L447.1 250.3 L447.7 249.9 L448.3 249.4 L449.0 248.9 L449.6 248.5 L450.3 248.1 L451.1 247.7 L451.9 247.5 L452.7 247.2 L453.4 246.8 L454.1 246.5 L454.8 246.0 L455.3 245.5 L455.9 245.0 L456.6 244.6 L457.3 244.1 L457.9 243.7 L458.6 243.2 L459.2 242.8 L459.9 242.4 L460.6 242.0 L461.0 241.3 L461.8 241.0 L462.5 240.7 L463.2 240.2 L463.7 239.7 L464.7 239.5 L465.4 239.2 L466.1 238.8 L466.9 238.5 L467.6 238.1 L468.2 237.6 L469.0 237.3 L469.5 236.7 L470.2 236.3 L470.8 235.8 L471.6 235.5 L472.5 235.3 L473.3 235.1 L474.0 234.7 L474.8 234.3 L475.5 234.0 L476.2 233.6 L477.1 233.4 L477.9 233.1 L478.5 232.6 L479.3 232.3 L480.0 231.9 L480.6 231.5 L481.4 231.1 L482.1 230.7 L483.0 230.5 L483.8 230.3 L484.6 230.0 L485.4 229.7 L486.1 229.3 L486.9 229.0 L487.7 228.7 L488.5 228.4 L489.3 228.1 L489.9 227.6 L490.8 227.4 L491.5 227.0 L492.4 226.8 L493.3 226.7 L494.1 226.4 L494.5 226.3" stroke="#2ca02c"/><path d="M375.7 344.8 L375.7 343.7 L375.8 342.6 L375.8 341.6 L376.0 340.7 L376.2 339.8 L376.4 338.9 L376.5 337.9 L376.6 336.9 L376.8 336.0 L377.0 335.2 L377.1 334.2 L377.4 333.3 L377.6 332.5 L377.8 331.6 L378.1 330.8 L378.4 330.0 L378.8 329.3 L379.0 328.4 L379.3 327.6 L379.7 326.9 L380.1 326.2 L380.3 325.4 L380.5 324.5 L380.9 323.7 L381.2 323.0 L381.4 322.1 L381.7 321.3 L382.0 320.5 L382.2 319.7 L382.7 319.0 L383.1 318.3 L383.5 317.6 L383.7 316.8 L384.1 316.1 L384.6 315.4 L384.9 314.6 L385.3 314.0 L385.8 313.4 L386.2 312.7 L386.6 312.0 L387.1 311.5 L387.5 310.7 L388.0 310.1 L388.5 309.6 L388.9 308.9 L389.2 308.1 L389.6 307.3 L390.1 306.8 L390.3 305.9 L390.7 305.3 L391.4 304.8 L391.8 304.2 L392.2 303.4 L392.8 302.9 L393.2 302.2 L393.6 301.6 L394.0 300.9 L394.4 300.2 L394.8 299.5 L395.2 298.8 L395.6 298.2 L396.2 297.6 L396.8 297.2 L397.2 296.5 L397.7 295.9 L398.3 295.4 L398.7 294.7 L399.3 294.2 L399.9 293.7 L400.3 293.0 L401.0 292.6 L401.5 292.0 L401.9 291.3 L402.2 290.6 L402.7 289.9 L403.1 289.3 L403.7 288.7 L404.0 288.0 L404.6 287.5 L405.2 287.0 L405.6 286.3 L406.1 285.7 L406.9 285.4 L407.3 284.7 L407.8 284.1 L408.4 283.6 L408.8 283.0 L409.2 282.2 L409.4 281.4 L410.1 281.0 L410.5 280.3 L411.0 279.7 L411.6 279.2 L412.2 278.7 L412.9 278.3 L413.5 277.9 L414.0 277.2 L414.5 276.6 L415.2 276.2 L415.8 275.7 L416.3 275.2 L417.0 274.7 L417.4 274.1 L418.0 273.6 L418.7 273.2 L419.3 272.7 L420.0 272.3 L420.4 271.6 L420.9 271.0 L421.1 270.2 L421.9 269.9 L422.5 269.3 L423.2 269.0 L423.7 268.4 L424.4 268.0 L424.9 267.5 L425.4 266.8 L426.0 266.3 L426.4 265.6 L427.0 265.2 L427.5 264.6 L428.0 263.9 L428.5 263.3 L429.1 262.9 L429.6 262.3 L430.2 261.8 L430.7 261.2 L431.4 260.9 L431.9 260.2 L432.4 259.7 L433.1 259.3 L433.9 258.9 L434.5 258.4 L435.1 258.0 L435.8 257.5 L436.4 257.1 L437.2 256.8 L437.7 256.2 L438.2 255.6 L438.9 255.2 L439.6 254.8 L440.2 254.4 L440.9 253.9 L441.6 253.5 L442.2 253.1 L442.7 252.4 L443.4 252.1 L444.0 251.6 L444.7 251.2 L445.5 250.9 L446.2 250.5 L446.9 250.1 L447.6 249.7 L448.3 249.3 L448.9 248.8 L449.5 248.4 L450.4 248.2 L450.9 247.5 L451.5 247.1 L452.3 246.8 L453.0 246.4 L453.8 246.1 L454.4 245.7 L454.9 245.0 L455.5 244.6 L456.1 244.1 L456.8 243.7 L457.5 243.3 L458.1 242.8 L458.7 242.2 L459.5 242.0 L460.1 241.5 L461.0 241.3 L461.7 241.0 L462.8 240.9 L463.5 240.5 L464.2 240.2 L465.0 239.8 L465.8 239.5 L466.5 239.2 L467.0 238.6 L467.8 238.3 L468.6 238.0 L469.3 237.6 L470.1 237.4 L470.8 236.9 L471.4 236.5 L472.1 236.1 L472.9 235.7 L473.7 235.4 L474.4 235.0 L475.0 234.6 L475.8 234.3 L476.7 234.1 L477.4 233.7 L478.0 233.2 L478.7 232.9 L479.5 232.5 L480.3 232.2 L481.1 232.0 L481.6 231.3 L482.4 231.1 L483.3 230.8 L484.0 230.4 L484.7 230.1 L485.5 229.8 L486.4 229.6 L487.2 229.3 L487.9 228.9 L488.8 228.7 L489.6 228.4 L490.4 228.1 L491.1 227.7 L491.8 227.4 L492.5 227.0 L493.3 226.7 L494.0 226.3 L494.5 226.3" stroke="#d62728"/><path d="M375.7 344.8 L375.8 343.7 L376.0 342.8 L376.0 341.7 L376.1 340.7 L376.2 339.8 L376.4 338.9 L376.6 338.0 L376.8 337.1 L376.9 336.2 L377.1 335.3 L377.4 334.4 L377.6 333.6 L377.9 332.8 L378.3 332.1 L378.7 331.4 L378.9 330.5 L379.1 329.6 L379.5 329.0 L379.9 328.2 L380.2 327.4 L380.2 326.3 L380.3 325.4 L380.5 324.5 L380.7 323.6 L381.0 322.7 L381.4 322.1 L381.5 321.1 L381.9 320.4 L382.2 319.7 L382.6 318.9 L383.0 318.3 L383.5 317.6 L383.9 316.9 L384.2 316.2 L384.5 315.4 L385.1 314.9 L385.5 314.2 L385.8 313.4 L386.1 312.6 L386.4 311.8 L386.7 311.0 L387.0 310.2 L387.5 309.6 L388.0 309.1 L388.3 308.3 L388.8 307.7 L389.2 307.0 L389.7 306.4 L390.1 305.7 L390.4 304.9 L390.8 304.3 L391.5 303.8 L391.8 303.0 L392.2 302.3 L392.5 301.6 L393.0 300.9 L393.5 300.3 L393.9 299.7 L394.4 299.1 L394.9 298.5 L395.3 297.8 L395.6 297.0 L396.3 296.6 L396.8 296.1 L397.2 295.4 L397.6 294.7 L398.2 294.2 L398.7 293.6 L399.1 292.9 L399.6 292.3 L400.1 291.8 L400.7 291.2 L401.1 290.5 L401.4 289.8 L402.0 289.3 L402.7 288.8 L403.2 288.3 L403.8 287.8 L404.2 287.1 L404.8 286.6 L405.1 285.8 L405.6 285.2 L406.2 284.7 L406.7 284.1 L407.3 283.7 L407.7 282.9 L408.1 282.2 L408.7 281.8 L409.4 281.3 L409.8 280.7 L410.4 280.1 L410.9 279.6 L411.4 279.0 L411.9 278.4 L412.4 277.9 L413.0 277.4 L413.7 276.9 L414.3 276.5 L414.9 275.9 L415.2 275.2 L415.9 274.7 L416.2 274.0 L416.6 273.3 L417.2 272.8 L417.9 272.4 L418.4 271.8 L418.9 271.2 L419.7 270.9 L420.3 270.5 L421.0 270.1 L421.6 269.5 L422.2 269.1 L422.8 268.5 L423.4 268.1 L424.0 267.6 L424.6 267.1 L425.2 266.6 L425.8 266.1 L426.3 265.6 L426.8 264.9 L427.4 264.5 L428.1 264.0 L428.6 263.5 L429.2 262.9 L429.9 262.6 L430.4 262.0 L431.0 261.5 L431.7 261.1 L432.0 260.3 L432.5 259.8 L433.2 259.3 L433.7 258.8 L434.4 258.4 L435.0 257.9 L435.8 257.5 L436.5 257.2 L437.0 256.6 L437.6 256.1 L438.2 255.6 L438.9 255.2 L439.7 254.9 L440.3 254.5 L441.0 254.0 L441.7 253.7 L442.3 253.1 L442.9 252.7 L443.7 252.4 L444.4 252.0 L445.1 251.6 L445.9 251.3 L446.6 251.0 L447.4 250.6 L448.1 250.2 L448.6 249.7 L449.3 249.3 L449.8 248.6 L450.7 248.5 L451.7 248.4 L452.1 247.7 L452.7 247.2 L453.5 246.9 L454.0 246.4 L454.6 245.8 L455.4 245.6 L456.0 245.0 L456.7 244.7 L457.5 244.4 L458.2 243.9 L458.8 243.4 L459.3 242.9 L460.0 242.5 L460.7 242.1 L461.4 241.7 L461.9 241.1 L462.6 240.7 L463.2 240.3 L463.8 239.8 L464.6 239.4 L465.4 239.2 L466.2 238.8 L466.8 238.4 L467.5 238.0 L468.4 237.8 L469.2 237.5 L470.0 237.2 L470.7 236.8 L471.5 236.6 L472.4 236.3 L473.2 236.1 L473.9 235.7 L474.5 235.2 L475.2 234.8 L475.8 234.3 L476.6 234.0 L477.3 233.6 L478.1 233.3 L478.7 232.8 L479.5 232.5 L480.1 232.1 L480.9 231.7 L481.7 231.5 L482.4 231.1 L483.2 230.7 L484.0 230.4 L484.9 230.3 L485.8 230.1 L486.5 229.7 L487.2 229.3 L488.0 229.0 L488.9 228.8 L489.8 228.6 L490.5 228.2 L491.3 228.0 L492.1 227.6 L492.8 227.3 L493.3 226.7 L494.3 226.6 L494.5 226.3" stroke="#9467bd"/><path d="M375.7 344.8 L376.0 343.9 L376.2 343.1 L376.4 342.2 L376.6 341.3 L376.8 340.4 L377.0 339.5 L377.3 338.7 L377.5 337.9 L377.7 337.0 L378.0 336.1 L378.2 335.3 L378.5 334.5 L378.9 333.8 L379.5 333.3 L380.1 332.7 L380.5 332.1 L381.0 331.5 L381.4 330.8 L381.8 330.1 L382.2 329.4 L382.6 328.7 L383.0 328.0 L383.3 327.2 L383.7 326.6 L384.2 326.0 L384.8 325.5 L385.5 325.1 L385.8 324.3 L386.3 323.7 L386.4 322.7 L387.0 322.3 L387.4 321.5 L387.7 320.7 L388.0 320.0 L388.3 319.2 L388.8 318.6 L389.1 317.8 L389.6 317.2 L389.9 316.4 L390.3 315.7 L390.9 315.2 L391.4 314.6 L391.7 313.9 L392.1 313.2 L392.6 312.6 L392.9 311.8 L393.3 311.1 L393.9 310.6 L394.4 310.0 L395.0 309.5 L395.4 308.9 L395.9 308.2 L396.5 307.7 L397.0 307.2 L397.3 306.4 L397.7 305.7 L398.0 304.8 L398.4 304.2 L398.9 303.6 L399.3 302.9 L399.9 302.4 L400.1 301.6 L400.6 300.9 L401.2 300.4 L401.8 300.0 L402.2 299.3 L402.6 298.5 L402.9 297.8 L403.3 297.1 L403.9 296.6 L404.5 296.1 L404.9 295.5 L405.6 295.0 L405.9 294.3 L406.7 293.9 L407.2 293.4 L407.6 292.7 L408.2 292.2 L408.5 291.4 L408.9 290.7 L409.4 290.1 L409.6 289.2 L410.1 288.6 L410.5 287.9 L410.7 287.0 L411.0 286.2 L411.6 285.7 L412.2 285.2 L412.5 284.5 L413.1 283.9 L413.6 283.4 L414.1 282.8 L414.5 282.1 L415.3 281.9 L416.0 281.4 L416.5 280.8 L417.0 280.2 L417.6 279.7 L418.1 279.1 L418.5 278.5 L419.1 278.0 L419.8 277.6 L420.2 276.9 L420.9 276.5 L421.5 276.0 L422.1 275.6 L422.6 274.9 L423.1 274.3 L423.8 273.9 L424.2 273.3 L424.7 272.7 L425.4 272.3 L426.2 272.0 L426.8 271.5 L427.2 270.8 L427.7 270.2 L428.4 269.8 L428.9 269.2 L429.4 268.7 L430.3 268.4 L431.1 268.2 L431.7 267.6 L432.3 267.1 L432.9 266.6 L433.6 266.3 L434.3 265.9 L434.9 265.4 L435.3 264.7 L435.9 264.2 L436.5 263.7 L437.2 263.4 L437.8 262.8 L438.4 262.3 L439.0 261.9 L439.6 261.3 L440.2 260.9 L441.1 260.7 L441.7 260.2 L442.3 259.7 L442.9 259.3 L443.5 258.7 L444.1 258.2 L444.5 257.5 L445.0 256.9 L445.4 256.2 L446.2 255.9 L446.7 255.4 L447.4 254.9 L448.0 254.5 L448.6 254.0 L449.3 253.6 L449.9 253.1 L450.4 252.6 L451.1 252.1 L451.9 251.8 L452.3 251.2 L452.9 250.7 L453.6 250.3 L454.1 249.7 L454.8 249.3 L455.5 248.9 L456.0 248.4 L456.6 247.8 L457.3 247.5 L458.0 247.1 L458.5 246.5 L459.1 246.0 L459.7 245.4 L460.3 244.9 L461.0 244.6 L461.4 243.9 L462.3 243.7 L462.8 243.1 L463.4 242.6 L464.1 242.2 L464.9 241.9 L465.7 241.7 L466.3 241.2 L467.1 240.8 L467.6 240.3 L468.3 239.9 L469.1 239.5 L469.7 239.1 L470.5 238.8 L471.1 238.3 L471.7 237.8 L472.3 237.4 L472.9 236.8 L473.4 236.3 L474.1 235.9 L475.0 235.7 L475.8 235.3 L476.5 235.0 L477.4 234.8 L478.2 234.5 L478.7 233.9 L479.5 233.6 L480.1 233.1 L480.7 232.6 L481.5 232.3 L482.2 231.9 L483.0 231.6 L483.9 231.4 L484.6 231.1 L485.2 230.5 L485.7 230.0 L486.2 229.4 L487.0 229.1 L488.0 229.0 L488.5 228.5 L489.3 228.2 L490.3 228.0 L491.0 227.7 L491.8 227.3 L492.4 226.9 L493.2 226.6 L494.1 226.4 L494.5 226.3" stroke="#8c564b"/><path d="M375.7 344.8 L375.9 343.9 L376.3 343.1 L376.6 342.4 L377.0 341.7 L377.4 341.0 L377.7 340.2 L378.1 339.5 L378.4 338.7 L379.0 338.2 L379.4 337.5 L379.9 336.9 L380.4 336.3 L380.9 335.8 L381.6 335.4 L382.1 334.7 L382.3 333.9 L382.7 333.2 L383.3 332.7 L383.8 332.1 L384.1 331.3 L384.5 330.7 L385.0 330.0 L385.2 329.2 L385.7 328.6 L386.2 328.0 L386.8 327.5 L387.1 326.7 L387.6 326.1 L388.1 325.5 L388.6 324.9 L389.1 324.3 L389.8 324.0 L390.2 323.2 L390.6 322.6 L391.1 322.0 L391.5 321.3 L392.2 320.9 L392.5 320.1 L393.1 319.6 L393.5 318.9 L393.9 318.2 L394.5 317.7 L394.8 316.9 L395.3 316.3 L395.6 315.5 L396.2 315.0 L396.7 314.5 L397.2 313.9 L397.6 313.2 L397.9 312.4 L398.6 312.0 L399.2 311.6 L399.9 311.1 L400.4 310.5 L401.0 310.0 L401.4 309.3 L401.8 308.7 L402.1 307.9 L402.5 307.2 L402.9 306.4 L403.2 305.7 L403.8 305.2 L404.3 304.6 L405.0 304.2 L405.2 303.4 L405.8 302.9 L406.3 302.3 L406.7 301.5 L407.0 300.8 L407.5 300.1 L408.0 299.6 L408.5 299.0 L409.1 298.5 L409.5 297.8 L409.9 297.1 L410.5 296.6 L411.0 296.0 L411.4 295.4 L411.8 294.7 L412.3 294.0 L413.0 293.7 L413.7 293.3 L414.2 292.7 L414.7 292.1 L415.4 291.8 L416.1 291.3 L416.5 290.7 L417.1 290.2 L417.6 289.5 L418.1 288.9 L418.5 288.3 L418.8 287.4 L419.1 286.7 L419.9 286.4 L420.4 285.8 L420.9 285.2 L421.5 284.7 L422.1 284.3 L422.8 283.8 L423.3 283.2 L424.0 282.8 L424.5 282.2 L425.2 281.9 L425.6 281.2 L426.2 280.7 L426.7 280.1 L427.2 279.5 L427.9 279.1 L428.5 278.6 L429.1 278.1 L429.5 277.4 L430.0 276.9 L430.7 276.5 L431.3 276.0 L432.0 275.6 L432.6 275.1 L433.2 274.7 L433.9 274.2 L434.6 273.8 L435.1 273.2 L435.4 272.4 L435.9 271.9 L436.4 271.3 L437.0 270.8 L437.8 270.5 L438.3 269.9 L438.8 269.3 L439.2 268.6 L439.7 268.0 L440.3 267.5 L440.8 267.0 L441.2 266.3 L441.9 265.8 L442.6 265.4 L443.1 264.8 L443.6 264.3 L444.3 263.9 L444.8 263.3 L445.4 262.8 L446.1 262.4 L446.7 261.9 L447.2 261.3 L447.8 260.9 L448.3 260.3 L449.0 259.9 L449.5 259.3 L450.2 258.9 L450.8 258.4 L451.2 257.7 L451.9 257.3 L452.6 256.9 L453.1 256.3 L453.7 255.8 L454.3 255.3 L454.8 254.7 L455.4 254.3 L456.2 254.0 L456.9 253.6 L457.5 253.0 L458.0 252.5 L458.9 252.3 L459.4 251.7 L460.0 251.2 L460.3 250.4 L461.1 250.1 L461.6 249.6 L462.0 248.9 L462.5 248.3 L463.1 247.7 L463.9 247.5 L464.4 246.9 L464.9 246.3 L465.5 245.8 L466.0 245.2 L466.4 244.6 L467.2 244.2 L467.9 243.8 L468.4 243.3 L469.2 242.9 L469.9 242.5 L470.4 242.0 L471.1 241.6 L471.7 241.1 L472.3 240.6 L472.9 240.1 L473.5 239.6 L474.2 239.2 L474.9 238.8 L475.6 238.5 L476.3 238.1 L476.8 237.5 L477.3 236.8 L477.9 236.4 L478.6 236.0 L479.0 235.3 L479.7 234.9 L480.6 234.8 L481.3 234.3 L482.1 234.0 L482.9 233.8 L483.7 233.5 L484.4 233.1 L485.2 232.7 L485.7 232.2 L486.3 231.7 L486.9 231.2 L487.5 230.7 L488.2 230.4 L489.0 230.0 L489.5 229.4 L490.1 229.0 L490.8 228.5 L491.4 228.0 L492.0 227.6 L492.7 227.1 L493.5 226.9 L494.0 226.3 L494.5 226.3" stroke="#ffb6c1"/></g><rect x="369.8" y="220.4" width="130.6" height="130.3" fill="none" stroke="#444" stroke-width="0.8"/><line x1="375.74" y1="350.70" x2="375.74" y2="352.90" stroke="#444" stroke-width="0.8"/><line x1="367.60" y1="344.78" x2="369.80" y2="344.78" stroke="#444" stroke-width="0.8"/><text x="375.74" y="360.70" font-size="6.6" fill="#333" text-anchor="middle" font-family="Liberation Sans, sans-serif">0.0</text><text x="365.40" y="347.13" font-size="6.6" fill="#333" text-anchor="end" font-family="Liberation Sans, sans-serif">0.0</text><line x1="399.48" y1="350.70" x2="399.48" y2="352.90" stroke="#444" stroke-width="0.8"/><line x1="367.60" y1="321.09" x2="369.80" y2="321.09" stroke="#444" stroke-width="0.8"/><text x="399.48" y="360.70" font-size="6.6" fill="#333" text-anchor="middle" font-family="Liberation Sans, sans-serif">0.2</text><text x="365.40" y="323.44" font-size="6.6" fill="#333" text-anchor="end" font-family="Liberation Sans, sans-serif">0.2</text><line x1="423.23" y1="350.70" x2="423.23" y2="352.90" stroke="#444" stroke-width="0.8"/><line x1="367.60" y1="297.40" x2="369.80" y2="297.40" stroke="#444" stroke-width="0.8"/><text x="423.23" y="360.70" font-size="6.6" fill="#333" text-anchor="middle" font-family="Liberation Sans, sans-serif">0.4</text><text x="365.40" y="299.75" font-size="6.6" fill="#333" text-anchor="end" font-family="Liberation Sans, sans-serif">0.4</text><line x1="446.97" y1="350.70" x2="446.97" y2="352.90" stroke="#444" stroke-width="0.8"/><line x1="367.60" y1="273.70" x2="369.80" y2="273.70" stroke="#444" stroke-width="0.8"/><text x="446.97" y="360.70" font-size="6.6" fill="#333" text-anchor="middle" font-family="Liberation Sans, sans-serif">0.6</text><text x="365.40" y="276.05" font-size="6.6" fill="#333" text-anchor="end" font-family="Liberation Sans, sans-serif">0.6</text><line x1="470.72" y1="350.70" x2="470.72" y2="352.90" stroke="#444" stroke-width="0.8"/><line x1="367.60" y1="250.01" x2="369.80" y2="250.01" stroke="#444" stroke-width="0.8"/><text x="470.72" y="360.70" font-size="6.6" fill="#333" text-anchor="middle" font-family="Liberation Sans, sans-serif">0.8</text><text x="365.40" y="252.36" font-size="6.6" fill="#333" text-anchor="end" font-family="Liberation Sans, sans-serif">0.8</text><line x1="494.46" y1="350.70" x2="494.46" y2="352.90" stroke="#444" stroke-width="0.8"/><line x1="367.60" y1="226.32" x2="369.80" y2="226.32" stroke="#444" stroke-width="0.8"/><text x="494.46" y="360.70" font-size="6.6" fill="#333" text-anchor="middle" font-family="Liberation Sans, sans-serif">1.0</text><text x="365.40" y="228.67" font-size="6.6" fill="#333" text-anchor="end" font-family="Liberation Sans, sans-serif">1.0</text><text x="435.1" y="368.4" font-size="6.4" fill="#222" text-anchor="middle" font-family="Liberation Sans, sans-serif">False Positive Rate</text><text x="0" y="0" font-size="6.45" fill="#222" text-anchor="middle" transform="translate(352.6 285.6) rotate(-90)" font-family="Liberation Sans, sans-serif">True Positive Rate</text><rect x="418.0" y="293.6" width="76.6" height="53.8" rx="1.5" fill="#fff" fill-opacity="0.85" stroke="#d6d6d6" stroke-width="0.7"/><line x1="419.6" y1="298.50" x2="430.5" y2="298.50" stroke="#1f77b4" stroke-width="1.15"/><text x="433.9" y="300.35" font-size="5.15" fill="#222" font-family="Liberation Sans, sans-serif">HDRNet AUC = 0.83</text><line x1="419.6" y1="305.68" x2="430.5" y2="305.68" stroke="#ff7f0e" stroke-width="1.15"/><text x="433.9" y="307.53" font-size="5.15" fill="#222" font-family="Liberation Sans, sans-serif">PrismNet AUC = 0.79</text><line x1="419.6" y1="312.86" x2="430.5" y2="312.86" stroke="#2ca02c" stroke-width="1.15"/><text x="433.9" y="314.71" font-size="5.15" fill="#222" font-family="Liberation Sans, sans-serif">DMSK AUC = 0.68</text><line x1="419.6" y1="320.04" x2="430.5" y2="320.04" stroke="#d62728" stroke-width="1.15"/><text x="433.9" y="321.89" font-size="5.15" fill="#222" font-family="Liberation Sans, sans-serif">iDeep AUC = 0.67</text><line x1="419.6" y1="327.22" x2="430.5" y2="327.22" stroke="#9467bd" stroke-width="1.15"/><text x="433.9" y="329.07" font-size="5.15" fill="#222" font-family="Liberation Sans, sans-serif">GraphProt AUC = 0.68</text><line x1="419.6" y1="334.40" x2="430.5" y2="334.40" stroke="#8c564b" stroke-width="1.15"/><text x="433.9" y="336.25" font-size="5.15" fill="#222" font-family="Liberation Sans, sans-serif">DeepBind AUC = 0.62</text><line x1="419.6" y1="341.58" x2="430.5" y2="341.58" stroke="#ffb6c1" stroke-width="1.15"/><text x="433.9" y="343.43" font-size="5.15" fill="#222" font-family="Liberation Sans, sans-serif">PRIESSTESS AUC = 0.58</text><text x="610.0" y="216.6" font-size="7.8" fill="#111" text-anchor="middle" font-family="Liberation Sans, sans-serif">ROC Curve of DGCR8_HEK293T prediction</text><clipPath id="c544220"><rect x="544.6" y="220.4" width="130.8" height="130.3"/></clipPath><g clip-path="url(#c544220)" fill="none" stroke-width="1.3" stroke-linejoin="round"><path d="M550.5 344.8 L550.5 343.7 L550.5 342.6 L550.5 341.5 L550.5 340.4 L550.5 339.3 L550.5 338.2 L550.5 337.1 L550.5 336.1 L550.5 335.0 L550.5 333.9 L550.5 332.8 L550.5 331.7 L550.5 330.6 L550.5 329.5 L550.5 328.4 L550.5 327.3 L550.5 326.3 L550.5 325.2 L550.5 324.1 L550.5 323.0 L550.5 321.9 L550.5 320.8 L550.5 319.7 L550.5 318.6 L550.5 317.5 L550.5 316.4 L550.5 315.4 L550.5 314.3 L550.5 313.2 L550.5 312.1 L550.5 311.0 L550.5 309.9 L550.5 308.8 L550.5 307.7 L550.5 306.6 L550.5 305.5 L550.5 304.5 L550.5 303.4 L550.5 302.3 L550.5 301.2 L550.5 300.1 L550.5 299.0 L550.5 297.9 L550.5 296.8 L550.6 295.8 L550.6 294.7 L550.6 293.6 L550.6 292.5 L550.6 291.5 L550.6 290.4 L550.7 289.4 L550.8 288.3 L550.8 287.3 L550.8 286.2 L550.9 285.2 L550.9 284.1 L550.9 283.0 L551.0 282.0 L551.2 281.1 L551.3 280.1 L551.4 279.1 L551.5 278.2 L551.5 277.1 L551.8 276.3 L551.9 275.3 L552.1 274.4 L552.4 273.6 L552.5 272.7 L552.8 271.8 L553.1 271.0 L553.2 270.1 L553.7 269.4 L553.9 268.5 L554.1 267.7 L554.3 266.8 L554.5 265.9 L554.8 265.1 L555.2 264.4 L555.5 263.7 L556.0 263.0 L556.4 262.3 L556.7 261.6 L557.2 260.9 L557.7 260.3 L558.3 259.8 L558.6 259.1 L559.3 258.7 L559.6 257.9 L560.2 257.4 L560.8 256.9 L561.3 256.3 L561.6 255.5 L562.2 255.1 L562.9 254.7 L563.7 254.4 L564.2 253.8 L565.0 253.4 L565.5 252.9 L566.3 252.6 L566.7 251.9 L567.4 251.5 L568.0 251.0 L568.6 250.5 L569.0 249.9 L569.8 249.5 L570.4 249.1 L571.1 248.7 L571.8 248.3 L572.5 247.9 L573.0 247.3 L573.9 247.0 L574.7 246.8 L575.5 246.5 L576.2 246.1 L576.8 245.6 L577.6 245.3 L578.1 244.8 L578.8 244.4 L579.8 244.2 L580.7 244.0 L581.6 243.9 L582.3 243.5 L583.0 243.1 L583.9 242.9 L584.6 242.5 L585.5 242.2 L586.3 242.0 L587.3 241.9 L588.3 241.8 L589.3 241.7 L590.0 241.3 L591.0 241.2 L591.7 240.8 L592.6 240.6 L593.4 240.3 L594.4 240.2 L595.3 240.1 L596.3 240.0 L597.0 239.6 L597.7 239.2 L598.5 238.9 L599.3 238.6 L600.1 238.3 L600.9 238.0 L601.8 237.8 L602.6 237.5 L603.4 237.2 L604.3 237.0 L605.3 236.9 L606.1 236.7 L607.1 236.5 L607.9 236.3 L608.8 236.1 L609.9 236.0 L610.8 235.9 L611.6 235.6 L612.5 235.4 L613.4 235.2 L614.4 235.1 L615.5 235.1 L616.3 234.9 L617.3 234.7 L618.1 234.4 L619.0 234.3 L620.0 234.2 L620.9 234.0 L621.8 233.8 L622.8 233.7 L623.8 233.6 L624.7 233.4 L625.7 233.3 L626.6 233.1 L627.6 233.0 L628.5 232.9 L629.5 232.7 L630.4 232.5 L631.3 232.3 L632.4 232.3 L633.2 232.0 L634.2 231.9 L635.1 231.8 L636.0 231.6 L636.9 231.3 L637.8 231.2 L638.7 231.0 L639.6 230.8 L640.7 230.8 L641.7 230.7 L642.7 230.6 L643.8 230.6 L644.7 230.4 L645.7 230.4 L646.5 230.1 L647.5 229.9 L648.4 229.8 L649.4 229.7 L650.4 229.5 L651.4 229.4 L652.4 229.4 L653.5 229.4 L654.5 229.3 L655.5 229.2 L656.4 229.0 L657.5 229.0 L658.3 228.7 L659.2 228.5 L660.2 228.5 L661.1 228.3 L661.9 228.0 L662.9 227.9 L663.9 227.8 L665.0 227.8 L665.9 227.6 L666.9 227.5 L667.8 227.3 L668.5 226.8 L669.3 226.6 L669.5 226.3" stroke="#1f77b4"/><path d="M550.5 344.8 L550.5 343.7 L550.5 342.6 L550.5 341.5 L550.5 340.4 L550.5 339.3 L550.5 338.2 L550.5 337.1 L550.5 336.1 L550.5 335.0 L550.5 333.9 L550.6 332.8 L550.7 331.8 L550.8 330.8 L550.8 329.8 L550.8 328.7 L550.8 327.6 L550.8 326.5 L550.9 325.5 L550.9 324.5 L550.9 323.4 L550.9 322.3 L550.9 321.2 L550.9 320.1 L550.9 319.0 L550.9 317.9 L551.1 317.0 L551.1 315.9 L551.1 314.8 L551.3 313.9 L551.4 313.0 L551.6 312.0 L551.7 311.0 L551.8 310.1 L552.0 309.1 L552.2 308.2 L552.3 307.3 L552.5 306.4 L552.8 305.6 L552.9 304.6 L553.1 303.7 L553.2 302.7 L553.4 301.9 L553.6 300.9 L553.6 299.9 L553.9 299.1 L554.1 298.2 L554.4 297.3 L554.6 296.5 L554.8 295.6 L555.1 294.8 L555.3 293.9 L555.7 293.3 L556.0 292.5 L556.3 291.7 L556.6 290.9 L556.9 290.1 L557.3 289.3 L557.5 288.5 L557.9 287.8 L558.3 287.1 L558.6 286.3 L559.0 285.6 L559.4 284.9 L559.7 284.2 L559.9 283.3 L560.0 282.2 L560.5 281.7 L560.9 281.0 L561.2 280.1 L561.6 279.5 L561.9 278.7 L562.1 277.8 L562.6 277.2 L563.1 276.6 L563.5 275.9 L564.1 275.4 L564.4 274.7 L564.9 274.1 L565.5 273.6 L566.0 273.0 L566.4 272.3 L567.0 271.8 L567.7 271.4 L568.0 270.7 L568.6 270.1 L569.1 269.6 L569.6 268.9 L570.0 268.3 L570.6 267.8 L571.1 267.2 L571.5 266.5 L572.1 266.0 L572.5 265.3 L573.0 264.7 L573.6 264.2 L574.1 263.7 L574.8 263.2 L575.3 262.6 L575.8 262.0 L576.5 261.6 L577.0 261.1 L577.8 260.8 L578.5 260.3 L579.2 260.0 L579.8 259.5 L580.4 259.0 L580.9 258.4 L581.5 257.9 L582.0 257.4 L582.7 256.9 L583.4 256.5 L584.0 256.1 L584.7 255.7 L585.5 255.3 L585.8 254.6 L586.3 254.0 L586.9 253.5 L587.7 253.2 L588.5 252.9 L589.1 252.4 L589.8 252.1 L590.4 251.5 L590.9 251.0 L591.7 250.6 L592.4 250.3 L592.9 249.7 L593.8 249.4 L594.6 249.2 L595.3 248.7 L596.0 248.4 L596.6 247.9 L597.3 247.5 L598.2 247.3 L599.0 247.0 L599.5 246.5 L600.3 246.1 L601.0 245.7 L601.6 245.2 L602.2 244.8 L603.2 244.7 L604.1 244.4 L604.8 244.0 L605.5 243.7 L606.4 243.5 L607.2 243.2 L608.1 243.0 L608.9 242.7 L609.5 242.2 L610.1 241.8 L611.0 241.5 L611.5 240.9 L612.4 240.8 L613.0 240.3 L613.8 240.0 L614.5 239.6 L615.5 239.4 L616.2 239.1 L616.9 238.7 L617.8 238.5 L618.6 238.2 L619.3 237.8 L620.1 237.6 L621.0 237.3 L621.9 237.1 L622.8 236.9 L623.6 236.7 L624.5 236.5 L625.3 236.2 L626.2 235.9 L627.1 235.8 L628.1 235.7 L629.1 235.6 L629.9 235.3 L630.7 235.0 L631.6 234.9 L632.5 234.7 L633.3 234.3 L634.0 234.0 L634.9 233.7 L635.8 233.5 L636.8 233.4 L637.7 233.3 L638.6 233.1 L639.5 232.9 L640.4 232.7 L641.2 232.4 L642.1 232.2 L643.1 232.1 L644.0 231.9 L644.9 231.7 L645.8 231.5 L646.7 231.3 L647.6 231.1 L648.6 231.0 L649.4 230.8 L650.5 230.7 L651.3 230.5 L652.2 230.3 L653.0 230.0 L653.8 229.6 L654.8 229.6 L655.9 229.5 L656.7 229.3 L657.6 229.1 L658.5 228.9 L659.3 228.6 L660.1 228.3 L660.9 228.0 L661.9 227.9 L662.8 227.7 L663.8 227.7 L664.7 227.5 L665.6 227.2 L666.6 227.2 L667.4 226.9 L668.3 226.7 L669.1 226.4 L669.5 226.3" stroke="#ff7f0e"/><path d="M550.5 344.8 L550.5 343.7 L550.5 342.6 L550.5 341.5 L550.5 340.4 L550.5 339.3 L550.6 338.3 L550.6 337.2 L550.6 336.1 L550.6 335.1 L550.6 334.0 L550.7 332.9 L550.7 331.8 L550.7 330.8 L550.7 329.7 L550.8 328.7 L550.8 327.6 L550.8 326.5 L550.8 325.4 L550.9 324.4 L550.9 323.4 L551.0 322.3 L551.0 321.3 L551.1 320.2 L551.2 319.2 L551.2 318.2 L551.3 317.2 L551.3 316.1 L551.4 315.2 L551.5 314.2 L551.6 313.1 L551.6 312.1 L551.8 311.2 L552.2 310.4 L552.3 309.5 L552.4 308.5 L552.7 307.7 L553.1 307.0 L553.2 306.0 L553.3 305.0 L553.5 304.1 L553.6 303.2 L554.0 302.4 L554.1 301.4 L554.4 300.6 L554.7 299.9 L554.9 299.0 L555.2 298.2 L555.3 297.3 L555.6 296.4 L555.8 295.5 L556.1 294.7 L556.3 293.8 L556.6 293.0 L556.8 292.1 L557.1 291.4 L557.6 290.8 L557.9 290.0 L558.3 289.3 L558.8 288.7 L559.3 288.1 L559.6 287.4 L560.0 286.6 L560.3 285.9 L560.6 285.0 L560.9 284.2 L561.3 283.6 L562.1 283.3 L562.5 282.6 L563.1 282.0 L563.4 281.3 L563.8 280.6 L564.1 279.8 L564.4 279.0 L564.9 278.4 L565.2 277.7 L565.6 277.0 L566.2 276.5 L566.6 275.7 L567.2 275.3 L567.5 274.5 L568.0 273.8 L568.5 273.3 L569.0 272.7 L569.4 272.0 L570.0 271.5 L570.4 270.8 L570.9 270.2 L571.6 269.8 L572.1 269.3 L572.6 268.7 L573.1 268.1 L573.6 267.5 L574.2 267.0 L574.9 266.6 L575.4 266.0 L576.0 265.6 L576.6 265.0 L577.3 264.6 L578.0 264.2 L578.8 263.9 L579.5 263.6 L580.2 263.2 L580.8 262.7 L581.1 261.9 L581.7 261.4 L582.4 261.0 L583.0 260.5 L583.6 260.0 L584.2 259.5 L584.8 259.1 L585.6 258.7 L586.3 258.4 L587.0 257.9 L587.6 257.5 L588.3 257.0 L588.8 256.5 L589.4 256.0 L590.1 255.6 L590.7 255.1 L591.4 254.7 L592.2 254.4 L592.7 253.8 L593.3 253.3 L593.9 252.9 L594.7 252.6 L595.4 252.1 L595.9 251.6 L596.7 251.3 L597.6 251.1 L598.4 250.8 L599.4 250.7 L600.1 250.3 L601.0 250.1 L601.7 249.7 L602.4 249.3 L603.1 248.9 L603.9 248.6 L604.6 248.2 L605.3 247.9 L606.2 247.6 L607.0 247.4 L607.8 247.1 L608.6 246.7 L609.5 246.6 L610.3 246.3 L611.0 245.9 L611.7 245.5 L612.5 245.2 L613.2 244.8 L614.0 244.5 L614.6 244.0 L615.2 243.5 L616.1 243.3 L616.8 243.0 L617.3 242.4 L618.0 242.0 L618.8 241.7 L619.7 241.5 L620.6 241.2 L621.2 240.8 L622.1 240.6 L622.8 240.3 L623.7 240.0 L624.4 239.6 L625.1 239.2 L625.9 239.0 L626.8 238.8 L627.7 238.5 L628.6 238.4 L629.5 238.2 L630.4 238.0 L631.4 237.8 L632.3 237.7 L633.1 237.4 L634.0 237.2 L634.9 237.0 L635.6 236.6 L636.4 236.3 L637.3 236.1 L638.2 235.9 L639.0 235.7 L639.9 235.4 L640.7 235.1 L641.5 234.9 L642.3 234.6 L643.2 234.3 L644.0 234.0 L644.9 233.9 L645.5 233.4 L646.4 233.2 L647.1 232.9 L648.1 232.7 L649.0 232.5 L650.0 232.4 L650.9 232.2 L651.8 232.1 L652.5 231.7 L653.4 231.4 L654.2 231.2 L655.1 231.0 L655.9 230.7 L656.7 230.4 L657.5 230.1 L658.1 229.6 L659.0 229.4 L660.0 229.4 L660.8 229.0 L661.6 228.7 L662.4 228.4 L663.3 228.2 L664.2 228.1 L665.0 227.7 L666.0 227.7 L666.7 227.3 L667.6 227.1 L668.5 226.9 L669.2 226.5 L669.5 226.3" stroke="#2ca02c"/><path d="M550.5 344.8 L550.5 343.7 L550.5 342.6 L550.5 341.5 L550.5 340.4 L550.5 339.3 L550.5 338.2 L550.5 337.1 L550.5 336.1 L550.7 335.1 L550.7 334.0 L550.7 333.0 L550.8 331.9 L550.8 330.9 L550.8 329.8 L550.8 328.7 L550.8 327.6 L550.8 326.5 L550.9 325.5 L550.9 324.4 L550.9 323.3 L550.9 322.3 L551.0 321.2 L551.1 320.2 L551.2 319.2 L551.3 318.2 L551.3 317.2 L551.4 316.3 L551.6 315.3 L551.6 314.3 L551.8 313.4 L551.9 312.3 L552.0 311.3 L552.1 310.3 L552.2 309.4 L552.3 308.4 L552.4 307.3 L552.4 306.4 L552.6 305.5 L552.9 304.6 L553.0 303.6 L553.3 302.8 L553.4 301.9 L553.8 301.1 L554.0 300.2 L554.1 299.3 L554.3 298.4 L554.5 297.5 L554.7 296.6 L554.8 295.6 L554.9 294.6 L555.2 293.8 L555.5 293.0 L555.7 292.1 L556.1 291.4 L556.4 290.7 L556.9 290.1 L557.1 289.2 L557.4 288.4 L557.8 287.7 L558.1 286.9 L558.3 286.0 L558.9 285.5 L559.2 284.7 L559.7 284.1 L559.9 283.3 L560.4 282.7 L560.6 281.8 L561.0 281.1 L561.4 280.4 L561.9 279.8 L562.4 279.2 L562.9 278.6 L563.2 277.9 L563.8 277.3 L564.2 276.6 L564.6 276.0 L565.1 275.3 L565.6 274.8 L566.1 274.2 L566.7 273.7 L567.2 273.1 L567.8 272.6 L568.1 271.9 L568.8 271.4 L569.5 271.1 L570.1 270.5 L570.5 269.8 L570.9 269.1 L571.3 268.4 L571.9 268.0 L572.5 267.5 L573.0 266.9 L573.7 266.5 L574.2 265.9 L575.1 265.7 L575.8 265.3 L576.5 264.9 L576.9 264.2 L577.5 263.7 L578.2 263.4 L578.8 262.8 L579.5 262.4 L580.1 262.0 L580.8 261.6 L581.5 261.1 L581.9 260.5 L582.5 260.0 L583.1 259.5 L583.6 259.0 L584.5 258.7 L584.9 258.1 L585.5 257.5 L586.2 257.1 L586.8 256.7 L587.3 256.0 L588.0 255.7 L588.7 255.3 L589.2 254.7 L590.0 254.4 L590.9 254.2 L591.5 253.7 L592.3 253.4 L592.7 252.8 L593.4 252.3 L594.2 252.1 L595.1 251.8 L595.8 251.4 L596.5 251.1 L597.0 250.4 L597.8 250.2 L598.5 249.8 L599.0 249.2 L600.0 249.1 L600.8 248.8 L601.6 248.5 L602.5 248.3 L603.2 248.0 L604.0 247.6 L604.9 247.4 L605.7 247.1 L606.4 246.8 L607.1 246.4 L607.9 246.1 L608.7 245.7 L609.2 245.2 L610.2 245.1 L610.9 244.7 L611.6 244.3 L612.5 244.1 L613.2 243.8 L614.0 243.4 L614.7 243.0 L615.5 242.8 L616.4 242.5 L617.2 242.2 L618.0 242.0 L618.8 241.7 L619.8 241.5 L620.6 241.2 L621.6 241.2 L622.5 241.0 L623.2 240.6 L624.0 240.3 L624.8 240.0 L625.6 239.7 L626.3 239.4 L627.0 239.0 L627.8 238.6 L628.6 238.4 L629.4 238.0 L630.0 237.6 L630.9 237.4 L631.5 236.9 L632.4 236.7 L633.2 236.4 L634.0 236.1 L634.6 235.6 L635.4 235.4 L636.3 235.1 L637.1 234.9 L638.0 234.6 L638.8 234.4 L639.7 234.1 L640.4 233.8 L641.3 233.6 L642.3 233.5 L643.3 233.4 L644.2 233.2 L645.2 233.1 L646.0 232.8 L646.8 232.5 L647.8 232.4 L648.5 232.1 L649.4 231.8 L650.2 231.5 L651.2 231.4 L651.9 231.1 L652.7 230.7 L653.5 230.4 L654.3 230.2 L655.1 229.9 L656.0 229.7 L657.0 229.6 L657.9 229.4 L658.8 229.3 L659.8 229.1 L660.7 228.9 L661.7 228.8 L662.6 228.6 L663.5 228.5 L664.3 228.1 L665.1 227.8 L665.9 227.6 L666.7 227.3 L667.6 227.0 L668.5 226.9 L669.3 226.6 L669.5 226.3" stroke="#d62728"/><path d="M550.5 344.8 L550.5 343.7 L550.5 342.6 L550.5 341.5 L550.5 340.4 L550.6 339.4 L550.7 338.4 L550.7 337.3 L550.8 336.3 L550.8 335.3 L550.9 334.3 L551.0 333.3 L551.2 332.3 L551.2 331.3 L551.4 330.4 L551.4 329.3 L551.6 328.4 L551.6 327.3 L551.7 326.3 L551.7 325.2 L551.9 324.3 L552.1 323.4 L552.2 322.4 L552.6 321.8 L552.8 320.9 L553.2 320.1 L553.5 319.4 L554.0 318.8 L554.1 317.8 L554.3 316.9 L554.5 316.0 L554.7 315.2 L555.0 314.3 L555.1 313.4 L555.5 312.7 L555.8 311.8 L556.1 311.0 L556.3 310.2 L556.6 309.4 L556.8 308.5 L557.2 307.8 L557.6 307.1 L557.9 306.3 L558.2 305.5 L558.6 304.8 L558.7 303.9 L559.1 303.1 L559.5 302.5 L559.7 301.6 L559.9 300.7 L560.3 300.0 L560.6 299.2 L561.2 298.7 L561.6 298.1 L562.0 297.3 L562.4 296.7 L562.8 296.0 L563.3 295.4 L563.8 294.8 L564.3 294.2 L564.5 293.3 L564.9 292.6 L565.4 292.0 L566.0 291.5 L566.5 290.9 L567.1 290.4 L567.5 289.8 L567.8 289.0 L568.2 288.3 L568.7 287.6 L569.1 287.0 L569.5 286.3 L570.0 285.6 L570.6 285.2 L571.1 284.6 L571.6 284.0 L572.1 283.4 L572.6 282.8 L573.1 282.3 L573.6 281.6 L574.2 281.2 L574.5 280.3 L574.9 279.7 L575.4 279.1 L575.7 278.3 L576.3 277.8 L576.8 277.2 L577.3 276.6 L578.0 276.2 L578.6 275.7 L579.1 275.1 L579.5 274.5 L580.0 273.9 L580.4 273.2 L580.9 272.6 L581.7 272.2 L582.2 271.7 L582.7 271.1 L583.2 270.5 L583.8 270.1 L584.3 269.4 L584.7 268.7 L585.4 268.3 L585.9 267.7 L586.7 267.5 L587.1 266.8 L587.7 266.3 L588.3 265.8 L589.0 265.4 L589.5 264.8 L590.0 264.2 L590.5 263.6 L591.2 263.2 L591.8 262.8 L592.4 262.2 L593.2 261.9 L593.8 261.5 L594.4 261.0 L595.1 260.5 L595.9 260.2 L596.6 259.9 L597.3 259.5 L597.8 258.9 L598.3 258.4 L599.1 258.0 L599.6 257.4 L600.2 257.0 L601.1 256.7 L601.5 256.0 L602.2 255.6 L602.7 255.0 L603.4 254.7 L604.1 254.2 L604.4 253.5 L605.2 253.2 L606.0 252.9 L606.7 252.5 L607.3 252.0 L608.1 251.8 L609.0 251.5 L609.6 251.1 L610.4 250.8 L611.1 250.3 L611.8 249.9 L612.4 249.5 L613.2 249.2 L613.9 248.7 L614.6 248.4 L615.4 248.1 L616.2 247.8 L617.0 247.5 L617.8 247.2 L618.5 246.8 L619.1 246.3 L620.0 246.2 L620.7 245.7 L621.1 245.1 L621.8 244.7 L622.5 244.3 L623.2 243.9 L623.9 243.5 L624.8 243.3 L625.6 243.0 L626.5 242.8 L627.2 242.4 L628.1 242.2 L628.9 242.0 L629.7 241.6 L630.5 241.3 L631.2 241.0 L632.0 240.7 L632.7 240.3 L633.5 240.0 L634.3 239.6 L635.0 239.3 L635.8 239.0 L636.4 238.5 L637.2 238.2 L638.2 238.1 L638.8 237.6 L639.5 237.3 L640.1 236.7 L640.9 236.4 L641.8 236.2 L642.6 235.9 L643.3 235.6 L644.0 235.2 L644.8 234.9 L645.6 234.6 L646.1 234.0 L646.9 233.7 L647.7 233.4 L648.5 233.1 L649.4 232.9 L650.3 232.7 L651.1 232.5 L651.8 232.1 L652.6 231.7 L653.4 231.5 L654.4 231.4 L655.3 231.2 L656.2 231.0 L656.9 230.5 L657.6 230.2 L658.5 230.0 L659.4 229.8 L659.9 229.3 L660.7 228.9 L661.6 228.7 L662.5 228.5 L663.5 228.5 L664.4 228.2 L665.2 228.0 L666.1 227.7 L666.9 227.5 L667.6 227.1 L668.3 226.7 L669.1 226.4 L669.5 226.3" stroke="#9467bd"/><path d="M550.5 344.8 L550.6 343.7 L550.6 342.7 L550.6 341.6 L550.7 340.6 L550.7 339.5 L550.7 338.4 L550.8 337.4 L550.8 336.3 L550.8 335.3 L550.9 334.3 L551.1 333.3 L551.2 332.3 L551.3 331.3 L551.4 330.3 L551.5 329.4 L551.5 328.3 L551.7 327.4 L552.0 326.6 L552.1 325.6 L552.5 324.9 L552.8 324.1 L553.0 323.3 L553.2 322.4 L553.4 321.5 L553.5 320.5 L553.7 319.6 L553.9 318.7 L554.0 317.7 L554.3 316.9 L554.5 316.0 L554.8 315.2 L555.2 314.5 L555.5 313.7 L555.7 312.8 L556.0 312.1 L556.2 311.2 L556.3 310.2 L556.8 309.6 L557.3 309.0 L557.6 308.2 L558.0 307.5 L558.7 307.1 L559.2 306.5 L559.6 305.9 L559.8 304.9 L560.2 304.3 L560.7 303.6 L561.2 303.0 L561.4 302.2 L561.9 301.6 L562.1 300.7 L562.4 300.0 L563.0 299.4 L563.3 298.6 L563.8 298.0 L564.1 297.3 L564.7 296.8 L565.1 296.0 L565.5 295.4 L565.9 294.7 L566.3 294.0 L566.8 293.4 L567.2 292.8 L567.6 292.0 L568.3 291.6 L568.7 291.0 L569.3 290.4 L569.8 289.9 L570.4 289.3 L570.9 288.7 L571.4 288.2 L572.0 287.7 L572.4 287.0 L572.9 286.4 L573.4 285.8 L573.6 284.9 L574.0 284.2 L574.6 283.7 L575.1 283.1 L575.4 282.3 L575.8 281.7 L576.4 281.1 L577.1 280.8 L577.8 280.4 L578.4 279.9 L578.9 279.3 L579.4 278.7 L579.8 278.0 L580.6 277.7 L581.2 277.2 L581.7 276.7 L582.3 276.1 L582.7 275.5 L583.5 275.2 L584.2 274.7 L584.8 274.3 L585.4 273.8 L585.7 273.0 L586.4 272.6 L586.9 272.0 L587.4 271.4 L587.9 270.8 L588.4 270.2 L589.0 269.8 L589.6 269.3 L590.2 268.7 L590.8 268.3 L591.4 267.8 L592.0 267.3 L592.6 266.8 L593.2 266.3 L593.9 265.9 L594.4 265.4 L595.3 265.1 L596.0 264.7 L596.5 264.2 L597.1 263.6 L597.7 263.2 L598.4 262.8 L598.9 262.1 L599.6 261.8 L600.1 261.2 L600.7 260.7 L601.1 260.0 L601.6 259.4 L602.2 259.0 L602.8 258.4 L603.6 258.1 L604.1 257.6 L604.9 257.3 L605.6 256.9 L606.4 256.6 L607.1 256.2 L607.8 255.8 L608.5 255.4 L609.3 255.1 L610.1 254.8 L610.8 254.4 L611.6 254.1 L612.2 253.7 L612.9 253.2 L613.4 252.7 L614.0 252.1 L614.7 251.7 L615.3 251.3 L616.2 251.1 L616.9 250.7 L617.8 250.5 L618.5 250.1 L619.1 249.6 L619.9 249.3 L620.6 248.9 L621.4 248.6 L622.0 248.1 L622.6 247.6 L623.4 247.3 L624.1 247.0 L624.6 246.4 L625.2 245.9 L625.9 245.5 L626.8 245.3 L627.6 245.0 L628.3 244.6 L628.9 244.1 L629.7 243.9 L630.5 243.5 L631.3 243.2 L632.0 242.9 L632.7 242.4 L633.6 242.2 L634.4 241.9 L635.1 241.5 L635.7 241.1 L636.3 240.6 L637.1 240.3 L637.7 239.8 L638.5 239.5 L639.3 239.2 L640.2 239.0 L640.8 238.5 L641.5 238.2 L642.2 237.7 L643.0 237.4 L643.8 237.2 L644.4 236.7 L645.3 236.5 L646.1 236.2 L647.0 235.9 L647.7 235.6 L648.4 235.2 L649.1 234.9 L649.8 234.4 L650.4 234.0 L651.1 233.6 L652.0 233.3 L652.8 233.1 L653.7 232.8 L654.4 232.4 L655.3 232.2 L655.9 231.7 L656.6 231.3 L657.5 231.2 L658.3 230.9 L659.0 230.5 L659.9 230.3 L660.5 229.8 L661.4 229.6 L662.1 229.2 L662.9 228.9 L663.7 228.7 L664.7 228.5 L665.4 228.2 L666.3 227.9 L667.0 227.6 L667.8 227.3 L668.5 226.8 L669.3 226.6 L669.5 226.3" stroke="#8c564b"/><path d="M550.5 344.8 L551.0 344.1 L551.2 343.3 L551.6 342.6 L551.9 341.7 L552.4 341.2 L552.6 340.3 L553.0 339.6 L553.6 339.1 L553.7 338.1 L554.1 337.4 L554.5 336.8 L555.0 336.2 L555.5 335.6 L556.1 335.0 L556.4 334.3 L556.7 333.5 L557.1 332.7 L557.3 331.9 L557.9 331.4 L558.2 330.6 L558.8 330.1 L559.2 329.4 L559.6 328.7 L560.0 328.1 L560.6 327.6 L561.2 327.0 L561.8 326.5 L562.3 326.0 L562.7 325.3 L563.1 324.6 L563.6 324.0 L564.0 323.3 L564.7 322.9 L565.3 322.4 L565.9 321.9 L566.3 321.3 L566.9 320.8 L567.5 320.2 L568.0 319.7 L568.8 319.3 L569.4 318.9 L569.6 318.0 L570.0 317.3 L570.5 316.7 L571.0 316.1 L571.5 315.5 L571.9 314.9 L572.5 314.3 L573.1 313.8 L573.5 313.2 L574.0 312.6 L574.6 312.0 L575.1 311.5 L575.6 310.9 L576.1 310.3 L576.3 309.4 L576.7 308.7 L577.3 308.2 L577.9 307.7 L578.5 307.3 L579.1 306.8 L579.6 306.2 L580.3 305.8 L581.1 305.5 L581.5 304.7 L582.0 304.2 L582.7 303.7 L583.3 303.3 L583.9 302.8 L584.4 302.2 L584.9 301.6 L585.4 301.0 L585.7 300.3 L586.3 299.8 L586.8 299.1 L587.4 298.6 L587.9 298.1 L588.4 297.4 L588.8 296.8 L589.2 296.1 L589.9 295.7 L590.2 294.9 L590.7 294.4 L591.5 294.0 L592.0 293.4 L592.5 292.8 L593.2 292.4 L593.7 291.9 L594.3 291.4 L594.9 290.9 L595.4 290.2 L595.9 289.7 L596.5 289.2 L596.8 288.4 L597.3 287.9 L597.9 287.4 L598.5 286.8 L599.1 286.4 L599.7 285.8 L600.2 285.3 L600.8 284.8 L601.3 284.2 L602.0 283.7 L602.3 283.0 L602.8 282.4 L603.3 281.9 L604.0 281.4 L604.6 280.9 L604.8 280.1 L605.3 279.4 L605.7 278.8 L606.4 278.3 L606.9 277.7 L607.3 277.1 L607.7 276.4 L608.3 275.9 L609.0 275.5 L609.5 274.9 L610.0 274.4 L610.6 273.8 L611.2 273.4 L611.8 272.8 L612.1 272.1 L612.6 271.4 L613.2 271.0 L613.7 270.3 L614.2 269.8 L614.9 269.4 L615.6 269.0 L616.2 268.5 L616.8 268.0 L617.3 267.5 L617.8 266.9 L618.5 266.5 L619.0 265.8 L619.6 265.3 L620.0 264.7 L620.6 264.2 L621.0 263.5 L621.6 262.9 L622.2 262.5 L622.6 261.8 L623.2 261.3 L623.9 260.9 L624.6 260.6 L625.2 260.0 L625.7 259.4 L626.2 258.8 L626.6 258.2 L627.3 257.8 L627.9 257.3 L628.4 256.6 L628.7 255.9 L629.3 255.4 L629.7 254.7 L630.4 254.3 L630.8 253.7 L631.4 253.1 L632.0 252.7 L632.6 252.1 L633.2 251.7 L633.8 251.2 L634.4 250.7 L634.9 250.1 L635.7 249.8 L636.4 249.4 L636.9 248.8 L637.3 248.2 L638.0 247.7 L638.6 247.2 L639.2 246.7 L639.8 246.3 L640.3 245.7 L641.1 245.4 L641.7 244.8 L642.1 244.1 L642.7 243.7 L643.4 243.3 L644.0 242.8 L644.7 242.4 L645.3 242.0 L645.9 241.4 L646.7 241.2 L647.3 240.6 L648.0 240.3 L648.8 239.9 L649.5 239.5 L650.0 239.0 L650.6 238.5 L651.4 238.2 L652.0 237.7 L652.8 237.4 L653.4 236.9 L654.0 236.5 L654.5 235.8 L655.2 235.5 L655.9 235.0 L656.4 234.5 L657.0 234.0 L657.6 233.4 L658.1 232.9 L659.0 232.7 L659.5 232.1 L660.2 231.7 L660.9 231.3 L661.4 230.7 L662.1 230.4 L662.8 230.0 L663.6 229.6 L664.2 229.2 L664.9 228.7 L665.5 228.3 L666.1 227.8 L666.8 227.4 L667.6 227.0 L668.3 226.7 L669.2 226.5 L669.5 226.3" stroke="#ffb6c1"/></g><rect x="544.6" y="220.4" width="130.8" height="130.3" fill="none" stroke="#444" stroke-width="0.8"/><line x1="550.55" y1="350.70" x2="550.55" y2="352.90" stroke="#444" stroke-width="0.8"/><line x1="542.40" y1="344.78" x2="544.60" y2="344.78" stroke="#444" stroke-width="0.8"/><text x="550.55" y="360.70" font-size="6.6" fill="#333" text-anchor="middle" font-family="Liberation Sans, sans-serif">0.0</text><text x="540.20" y="347.13" font-size="6.6" fill="#333" text-anchor="end" font-family="Liberation Sans, sans-serif">0.0</text><line x1="574.33" y1="350.70" x2="574.33" y2="352.90" stroke="#444" stroke-width="0.8"/><line x1="542.40" y1="321.09" x2="544.60" y2="321.09" stroke="#444" stroke-width="0.8"/><text x="574.33" y="360.70" font-size="6.6" fill="#333" text-anchor="middle" font-family="Liberation Sans, sans-serif">0.2</text><text x="540.20" y="323.44" font-size="6.6" fill="#333" text-anchor="end" font-family="Liberation Sans, sans-serif">0.2</text><line x1="598.11" y1="350.70" x2="598.11" y2="352.90" stroke="#444" stroke-width="0.8"/><line x1="542.40" y1="297.40" x2="544.60" y2="297.40" stroke="#444" stroke-width="0.8"/><text x="598.11" y="360.70" font-size="6.6" fill="#333" text-anchor="middle" font-family="Liberation Sans, sans-serif">0.4</text><text x="540.20" y="299.75" font-size="6.6" fill="#333" text-anchor="end" font-family="Liberation Sans, sans-serif">0.4</text><line x1="621.89" y1="350.70" x2="621.89" y2="352.90" stroke="#444" stroke-width="0.8"/><line x1="542.40" y1="273.70" x2="544.60" y2="273.70" stroke="#444" stroke-width="0.8"/><text x="621.89" y="360.70" font-size="6.6" fill="#333" text-anchor="middle" font-family="Liberation Sans, sans-serif">0.6</text><text x="540.20" y="276.05" font-size="6.6" fill="#333" text-anchor="end" font-family="Liberation Sans, sans-serif">0.6</text><line x1="645.67" y1="350.70" x2="645.67" y2="352.90" stroke="#444" stroke-width="0.8"/><line x1="542.40" y1="250.01" x2="544.60" y2="250.01" stroke="#444" stroke-width="0.8"/><text x="645.67" y="360.70" font-size="6.6" fill="#333" text-anchor="middle" font-family="Liberation Sans, sans-serif">0.8</text><text x="540.20" y="252.36" font-size="6.6" fill="#333" text-anchor="end" font-family="Liberation Sans, sans-serif">0.8</text><line x1="669.45" y1="350.70" x2="669.45" y2="352.90" stroke="#444" stroke-width="0.8"/><line x1="542.40" y1="226.32" x2="544.60" y2="226.32" stroke="#444" stroke-width="0.8"/><text x="669.45" y="360.70" font-size="6.6" fill="#333" text-anchor="middle" font-family="Liberation Sans, sans-serif">1.0</text><text x="540.20" y="228.67" font-size="6.6" fill="#333" text-anchor="end" font-family="Liberation Sans, sans-serif">1.0</text><text x="610.0" y="368.4" font-size="6.4" fill="#222" text-anchor="middle" font-family="Liberation Sans, sans-serif">False Positive Rate</text><text x="0" y="0" font-size="6.45" fill="#222" text-anchor="middle" transform="translate(527.4 285.6) rotate(-90)" font-family="Liberation Sans, sans-serif">True Positive Rate</text><rect x="595.6" y="293.3" width="75.4" height="52.5" rx="1.5" fill="#fff" fill-opacity="0.85" stroke="#d6d6d6" stroke-width="0.7"/><line x1="598.3" y1="299.10" x2="608.8" y2="299.10" stroke="#1f77b4" stroke-width="1.15"/><text x="612.7" y="300.94" font-size="5.10" fill="#222" font-family="Liberation Sans, sans-serif">HDRNet AUC = 0.89</text><line x1="598.3" y1="306.23" x2="608.8" y2="306.23" stroke="#ff7f0e" stroke-width="1.15"/><text x="612.7" y="308.07" font-size="5.10" fill="#222" font-family="Liberation Sans, sans-serif">PrismNet AUC = 0.82</text><line x1="598.3" y1="313.36" x2="608.8" y2="313.36" stroke="#2ca02c" stroke-width="1.15"/><text x="612.7" y="315.20" font-size="5.10" fill="#222" font-family="Liberation Sans, sans-serif">DMSK AUC = 0.79</text><line x1="598.3" y1="320.49" x2="608.8" y2="320.49" stroke="#d62728" stroke-width="1.15"/><text x="612.7" y="322.33" font-size="5.10" fill="#222" font-family="Liberation Sans, sans-serif">iDeep AUC = 0.79</text><line x1="598.3" y1="327.62" x2="608.8" y2="327.62" stroke="#9467bd" stroke-width="1.15"/><text x="612.7" y="329.46" font-size="5.10" fill="#222" font-family="Liberation Sans, sans-serif">GraphProt AUC = 0.73</text><line x1="598.3" y1="334.75" x2="608.8" y2="334.75" stroke="#8c564b" stroke-width="1.15"/><text x="612.7" y="336.59" font-size="5.10" fill="#222" font-family="Liberation Sans, sans-serif">DeepBind AUC = 0.70</text><line x1="598.3" y1="341.88" x2="608.8" y2="341.88" stroke="#ffb6c1" stroke-width="1.15"/><text x="612.7" y="343.72" font-size="5.10" fill="#222" font-family="Liberation Sans, sans-serif">PRIESSTESS AUC = 0.58</text><text x="435.1" y="386.8" font-size="7.8" fill="#111" text-anchor="middle" font-family="Liberation Sans, sans-serif">ROC Curve of AGO_HEK293 prediction</text><clipPath id="c369390"><rect x="369.8" y="390.6" width="130.6" height="130.2"/></clipPath><g clip-path="url(#c369390)" fill="none" stroke-width="1.3" stroke-linejoin="round"><path d="M375.7 514.9 L375.7 513.8 L375.7 512.7 L375.7 511.6 L375.7 510.5 L375.7 509.4 L375.7 508.3 L375.7 507.3 L375.7 506.2 L375.7 505.1 L375.7 504.0 L375.7 502.9 L375.7 501.8 L375.7 500.7 L375.7 499.6 L375.7 498.5 L375.7 497.5 L375.7 496.4 L375.7 495.3 L375.7 494.2 L375.7 493.1 L375.7 492.0 L375.7 490.9 L375.7 489.8 L375.7 488.7 L375.7 487.7 L375.7 486.6 L375.7 485.5 L375.7 484.4 L375.7 483.3 L375.7 482.2 L375.7 481.1 L375.7 480.0 L375.7 478.9 L375.7 477.9 L375.7 476.8 L375.7 475.7 L375.7 474.6 L375.7 473.5 L375.7 472.4 L375.7 471.3 L375.7 470.2 L375.7 469.1 L375.7 468.1 L375.7 467.0 L375.7 465.9 L375.7 464.8 L375.7 463.7 L375.7 462.6 L375.7 461.5 L375.7 460.4 L375.7 459.3 L375.7 458.3 L375.7 457.2 L375.7 456.1 L375.7 455.0 L375.7 453.9 L375.7 452.8 L375.8 451.8 L375.8 450.7 L375.8 449.6 L375.8 448.5 L375.8 447.4 L375.9 446.4 L375.9 445.3 L375.9 444.2 L375.9 443.2 L375.9 442.1 L376.0 441.1 L376.0 440.0 L376.0 438.9 L376.1 437.9 L376.2 437.0 L376.3 436.0 L376.4 434.9 L376.4 433.8 L376.4 432.8 L376.7 432.0 L376.8 431.0 L376.9 430.0 L377.2 429.2 L377.2 428.1 L377.4 427.2 L377.5 426.3 L377.7 425.4 L377.9 424.5 L378.2 423.7 L378.5 422.9 L378.8 422.1 L379.2 421.4 L379.7 420.8 L379.9 420.0 L380.2 419.2 L380.7 418.5 L381.2 418.0 L381.9 417.6 L382.3 416.9 L382.8 416.3 L383.2 415.6 L383.8 415.1 L384.3 414.5 L384.9 414.1 L385.7 413.7 L386.2 413.2 L386.8 412.6 L387.3 412.0 L387.9 411.6 L388.6 411.2 L389.4 410.9 L390.0 410.4 L390.5 409.8 L391.3 409.5 L392.1 409.3 L392.7 408.8 L393.6 408.5 L394.3 408.1 L395.2 408.0 L396.0 407.7 L396.8 407.4 L397.5 407.0 L398.3 406.7 L399.2 406.6 L400.1 406.3 L401.0 406.1 L401.9 405.9 L402.8 405.7 L403.6 405.4 L404.6 405.4 L405.5 405.1 L406.3 404.9 L407.3 404.8 L408.0 404.4 L408.7 404.0 L409.7 403.9 L410.5 403.7 L411.6 403.6 L412.4 403.4 L413.4 403.2 L414.4 403.1 L415.3 403.0 L416.2 402.8 L417.3 402.8 L418.3 402.7 L419.3 402.6 L420.2 402.4 L421.2 402.3 L422.1 402.2 L423.1 402.1 L424.0 401.9 L425.0 401.8 L426.0 401.6 L426.9 401.5 L427.8 401.3 L428.9 401.3 L429.9 401.2 L430.7 400.9 L431.7 400.8 L432.6 400.6 L433.7 400.6 L434.8 400.6 L435.8 400.5 L436.9 400.5 L437.9 400.4 L438.8 400.3 L439.9 400.3 L440.9 400.2 L441.8 400.0 L442.8 399.9 L443.9 399.9 L445.0 399.9 L446.0 399.8 L446.9 399.6 L448.0 399.6 L449.0 399.5 L450.1 399.5 L451.1 399.5 L452.1 399.4 L453.1 399.2 L454.0 399.1 L455.1 399.1 L456.0 398.9 L457.1 398.9 L458.2 398.9 L459.2 398.8 L460.2 398.7 L461.3 398.7 L462.3 398.6 L463.3 398.6 L464.4 398.6 L465.5 398.6 L466.5 398.5 L467.5 398.4 L468.5 398.3 L469.5 398.2 L470.4 398.0 L471.4 397.9 L472.4 397.8 L473.5 397.8 L474.6 397.8 L475.5 397.7 L476.5 397.5 L477.6 397.5 L478.6 397.4 L479.6 397.4 L480.5 397.2 L481.5 397.1 L482.4 396.9 L483.5 396.9 L484.6 396.9 L485.7 396.9 L486.7 396.8 L487.8 396.8 L488.9 396.8 L489.9 396.8 L490.9 396.7 L491.9 396.6 L493.0 396.6 L494.0 396.5 L494.5 396.5" stroke="#1f77b4"/><path d="M375.7 514.9 L375.7 513.8 L375.7 512.7 L375.7 511.6 L375.8 510.6 L375.8 509.5 L375.8 508.4 L375.8 507.3 L375.8 506.2 L375.8 505.1 L375.8 504.1 L375.8 503.0 L375.8 501.9 L375.8 500.8 L375.8 499.7 L375.8 498.6 L375.8 497.6 L375.8 496.5 L375.9 495.4 L375.9 494.3 L375.9 493.2 L375.9 492.2 L375.9 491.1 L376.0 490.1 L376.0 489.0 L376.0 487.9 L376.2 487.0 L376.2 486.0 L376.2 484.9 L376.3 483.8 L376.3 482.7 L376.4 481.7 L376.4 480.7 L376.4 479.7 L376.6 478.8 L376.6 477.7 L376.8 476.7 L377.1 475.9 L377.2 474.9 L377.4 474.0 L377.4 473.0 L377.7 472.2 L377.9 471.3 L378.1 470.4 L378.3 469.5 L378.4 468.6 L378.5 467.6 L378.7 466.7 L378.8 465.6 L378.9 464.7 L379.0 463.7 L379.2 462.8 L379.5 462.0 L379.7 461.1 L379.9 460.2 L380.1 459.3 L380.3 458.5 L380.7 457.7 L380.8 456.8 L380.9 455.8 L381.1 454.8 L381.4 454.1 L381.6 453.2 L382.1 452.7 L382.4 451.8 L382.8 451.1 L383.0 450.3 L383.3 449.5 L383.6 448.7 L384.0 448.0 L384.5 447.4 L385.0 446.8 L385.3 446.0 L385.6 445.2 L386.1 444.7 L386.5 443.9 L387.0 443.4 L387.4 442.6 L387.8 442.0 L388.0 441.1 L388.5 440.5 L388.8 439.7 L389.2 439.0 L389.7 438.5 L390.1 437.8 L390.5 437.0 L390.9 436.3 L391.4 435.8 L391.9 435.2 L392.2 434.4 L392.7 433.8 L393.2 433.2 L393.7 432.6 L394.0 431.8 L394.4 431.1 L394.8 430.5 L395.4 429.9 L396.1 429.5 L396.4 428.8 L397.1 428.4 L397.7 427.9 L398.2 427.3 L398.8 426.8 L399.5 426.4 L400.1 425.9 L400.8 425.5 L401.4 425.0 L402.0 424.6 L402.7 424.1 L403.0 423.4 L403.7 422.9 L404.3 422.5 L404.9 422.0 L405.6 421.6 L406.3 421.2 L407.0 420.8 L407.5 420.2 L408.3 419.9 L409.2 419.8 L410.0 419.4 L410.8 419.1 L411.5 418.8 L412.2 418.4 L412.9 418.0 L413.6 417.6 L414.4 417.3 L415.1 416.9 L415.8 416.5 L416.5 416.1 L417.4 416.0 L418.1 415.6 L419.0 415.3 L419.8 415.0 L420.5 414.7 L421.4 414.5 L422.2 414.2 L422.8 413.7 L423.5 413.3 L424.0 412.8 L424.7 412.4 L425.6 412.2 L426.4 411.9 L427.4 411.7 L428.2 411.4 L429.0 411.2 L429.8 410.9 L430.6 410.6 L431.4 410.3 L432.2 410.0 L432.8 409.5 L433.6 409.2 L434.4 409.0 L435.3 408.7 L436.0 408.4 L436.9 408.2 L437.8 407.9 L438.5 407.5 L439.3 407.3 L440.2 407.1 L441.0 406.8 L441.8 406.6 L442.8 406.5 L443.6 406.2 L444.6 406.0 L445.4 405.8 L446.4 405.7 L447.1 405.3 L448.0 405.1 L448.9 404.9 L449.6 404.5 L450.3 404.1 L451.1 403.8 L452.1 403.7 L453.1 403.6 L454.0 403.4 L454.8 403.1 L455.5 402.8 L456.5 402.6 L457.3 402.4 L458.3 402.3 L459.2 402.1 L460.2 402.0 L461.1 401.8 L462.0 401.6 L463.0 401.5 L463.6 401.1 L464.4 400.7 L465.4 400.6 L466.2 400.3 L467.0 400.0 L468.0 400.0 L469.0 399.8 L470.0 399.7 L470.7 399.4 L471.7 399.3 L472.6 399.1 L473.6 399.0 L474.5 398.8 L475.4 398.6 L476.3 398.4 L477.2 398.2 L478.1 398.0 L479.0 397.9 L480.0 397.8 L481.0 397.7 L482.1 397.7 L483.1 397.6 L484.2 397.6 L485.3 397.6 L486.2 397.4 L487.2 397.3 L488.1 397.1 L489.0 397.0 L490.1 396.9 L491.1 396.9 L492.2 396.8 L493.1 396.7 L494.1 396.6 L494.5 396.5" stroke="#ff7f0e"/><path d="M375.7 514.9 L375.7 513.8 L375.7 512.7 L375.7 511.6 L375.7 510.5 L375.7 509.4 L375.7 508.3 L375.7 507.3 L375.7 506.2 L375.7 505.1 L375.7 504.0 L375.7 502.9 L375.7 501.8 L375.7 500.7 L375.7 499.6 L375.7 498.5 L375.7 497.5 L375.7 496.4 L375.7 495.3 L375.7 494.2 L375.7 493.1 L375.7 492.0 L375.7 490.9 L375.7 489.8 L375.7 488.7 L375.7 487.7 L375.7 486.6 L375.7 485.5 L375.7 484.4 L375.7 483.3 L375.7 482.2 L375.7 481.1 L375.7 480.0 L375.7 478.9 L375.7 477.9 L375.7 476.8 L375.7 475.7 L375.7 474.6 L375.8 473.5 L375.8 472.5 L375.8 471.4 L375.8 470.3 L375.9 469.3 L375.9 468.2 L375.9 467.2 L375.9 466.1 L375.9 465.0 L375.9 463.9 L375.9 462.8 L375.9 461.7 L376.0 460.7 L376.0 459.6 L376.0 458.5 L376.0 457.5 L376.0 456.4 L376.1 455.3 L376.1 454.2 L376.2 453.3 L376.3 452.2 L376.3 451.2 L376.4 450.2 L376.4 449.2 L376.5 448.2 L376.5 447.1 L376.7 446.1 L376.8 445.2 L376.9 444.1 L377.0 443.2 L377.1 442.2 L377.3 441.3 L377.4 440.3 L377.7 439.5 L378.1 438.8 L378.4 438.0 L378.7 437.2 L378.9 436.4 L379.4 435.8 L379.6 434.9 L380.0 434.2 L380.4 433.5 L380.9 432.9 L381.4 432.3 L381.7 431.6 L382.2 430.9 L382.6 430.2 L382.9 429.5 L383.3 428.8 L383.7 428.1 L384.5 427.8 L384.9 427.2 L385.5 426.6 L386.0 426.1 L386.5 425.4 L386.9 424.8 L387.6 424.3 L388.1 423.8 L388.8 423.4 L389.4 422.8 L389.9 422.3 L390.6 421.9 L391.1 421.3 L391.8 420.9 L392.3 420.3 L393.1 420.0 L393.7 419.5 L394.4 419.1 L395.1 418.8 L395.9 418.5 L396.5 418.0 L397.4 417.8 L398.3 417.6 L399.0 417.2 L399.2 416.4 L400.1 416.1 L400.9 415.8 L401.7 415.5 L402.4 415.1 L403.2 414.9 L404.0 414.6 L404.8 414.3 L405.6 413.9 L406.5 413.8 L407.2 413.4 L408.0 413.1 L408.9 412.9 L409.8 412.7 L410.5 412.4 L411.3 412.0 L412.0 411.7 L412.7 411.3 L413.7 411.1 L414.4 410.8 L415.2 410.5 L416.0 410.2 L416.9 410.0 L417.7 409.7 L418.5 409.4 L419.4 409.2 L420.2 408.9 L420.9 408.6 L421.8 408.3 L422.6 408.0 L423.4 407.8 L424.3 407.5 L425.2 407.4 L426.2 407.3 L427.0 407.0 L427.9 406.8 L428.9 406.7 L429.7 406.5 L430.6 406.2 L431.6 406.2 L432.6 406.0 L433.4 405.8 L434.4 405.7 L435.3 405.5 L436.1 405.2 L437.1 405.1 L438.0 404.9 L439.0 404.8 L439.9 404.7 L441.0 404.7 L441.9 404.5 L442.9 404.3 L443.6 404.0 L444.5 403.8 L445.5 403.7 L446.5 403.6 L447.5 403.5 L448.4 403.3 L449.4 403.2 L450.3 403.0 L451.3 402.9 L452.3 402.8 L453.3 402.7 L454.2 402.5 L455.2 402.4 L456.0 402.2 L457.0 402.1 L458.0 402.0 L458.8 401.7 L459.6 401.4 L460.6 401.3 L461.6 401.2 L462.5 401.0 L463.5 400.9 L464.4 400.8 L465.5 400.7 L466.2 400.4 L467.2 400.2 L468.2 400.1 L469.2 400.0 L470.1 399.8 L471.0 399.7 L472.0 399.6 L472.9 399.4 L473.9 399.3 L474.9 399.2 L475.8 399.1 L476.9 399.0 L477.9 399.0 L478.8 398.8 L479.8 398.7 L480.9 398.6 L481.8 398.5 L482.8 398.4 L483.7 398.2 L484.6 398.0 L485.5 397.8 L486.4 397.7 L487.3 397.4 L488.2 397.2 L489.2 397.1 L490.2 397.1 L491.2 396.9 L492.2 396.9 L493.3 396.8 L494.2 396.7 L494.5 396.5" stroke="#d62728"/><path d="M375.7 514.9 L375.8 513.9 L375.9 512.8 L375.9 511.8 L375.9 510.7 L376.0 509.7 L376.0 508.6 L376.2 507.7 L376.3 506.7 L376.4 505.7 L376.5 504.7 L376.5 503.7 L376.7 502.8 L376.8 501.8 L376.8 500.7 L377.0 499.8 L377.2 498.9 L377.3 497.9 L377.4 496.9 L377.5 495.9 L377.7 495.1 L377.9 494.2 L378.1 493.3 L378.3 492.3 L378.4 491.4 L378.5 490.5 L378.7 489.6 L379.0 488.7 L379.1 487.7 L379.3 486.9 L379.6 486.1 L379.7 485.1 L380.1 484.3 L380.2 483.4 L380.5 482.6 L380.7 481.7 L381.0 480.9 L381.4 480.2 L381.7 479.5 L381.9 478.5 L382.1 477.7 L382.4 476.9 L382.5 475.9 L382.8 475.1 L383.2 474.4 L383.4 473.5 L383.7 472.7 L384.0 472.0 L384.4 471.3 L384.8 470.6 L385.0 469.7 L385.3 468.9 L385.6 468.1 L385.7 467.1 L386.1 466.4 L386.7 465.9 L387.2 465.3 L387.4 464.4 L387.7 463.7 L388.0 462.9 L388.4 462.1 L388.7 461.4 L389.2 460.8 L389.7 460.2 L390.2 459.6 L390.5 458.8 L390.9 458.1 L391.1 457.3 L391.5 456.5 L391.9 455.8 L392.4 455.3 L392.9 454.7 L393.2 453.9 L393.7 453.3 L394.3 452.8 L394.7 452.1 L395.3 451.6 L395.7 450.9 L396.1 450.2 L396.4 449.5 L396.7 448.7 L397.0 447.9 L397.2 447.0 L397.8 446.5 L398.4 446.0 L399.0 445.5 L399.5 444.9 L399.9 444.2 L400.3 443.5 L400.9 443.1 L401.4 442.5 L401.9 441.9 L402.5 441.4 L403.0 440.8 L403.8 440.5 L404.2 439.8 L404.4 438.9 L405.0 438.4 L405.6 437.9 L405.9 437.1 L406.4 436.6 L406.8 435.9 L407.7 435.7 L408.3 435.2 L408.7 434.5 L409.3 434.0 L409.6 433.3 L410.4 432.9 L411.1 432.5 L411.6 432.0 L412.2 431.4 L412.5 430.7 L413.0 430.1 L413.6 429.6 L414.4 429.3 L414.8 428.6 L415.2 427.9 L415.9 427.5 L416.5 427.0 L417.2 426.7 L417.9 426.3 L418.5 425.8 L419.0 425.2 L419.8 424.9 L420.5 424.5 L421.1 424.0 L421.7 423.5 L422.2 422.9 L422.8 422.4 L423.4 421.9 L424.1 421.6 L424.8 421.2 L425.5 420.8 L426.2 420.4 L426.9 420.0 L427.8 419.8 L428.5 419.4 L429.0 418.8 L429.9 418.6 L430.5 418.2 L431.2 417.7 L432.1 417.5 L432.7 417.1 L433.3 416.6 L434.0 416.1 L434.7 415.8 L435.5 415.5 L436.0 414.9 L436.9 414.7 L437.5 414.2 L438.2 413.8 L438.9 413.5 L439.5 412.9 L440.2 412.5 L440.9 412.1 L441.7 411.9 L442.5 411.5 L443.3 411.3 L444.1 411.0 L444.9 410.7 L445.7 410.4 L446.6 410.2 L447.3 409.8 L448.1 409.5 L448.8 409.2 L449.6 408.8 L450.3 408.5 L451.2 408.3 L452.1 408.0 L452.8 407.7 L453.6 407.4 L454.3 407.0 L455.2 406.8 L455.9 406.5 L456.7 406.1 L457.6 405.9 L458.4 405.7 L459.2 405.4 L460.0 405.0 L460.8 404.8 L461.7 404.6 L462.4 404.2 L463.3 404.0 L464.1 403.7 L465.0 403.5 L465.7 403.1 L466.3 402.6 L467.0 402.2 L467.6 401.7 L468.4 401.4 L469.3 401.3 L470.3 401.2 L471.2 401.0 L472.1 400.8 L473.0 400.6 L473.8 400.3 L474.6 400.0 L475.4 399.7 L476.2 399.5 L477.2 399.3 L478.1 399.2 L479.1 399.1 L480.0 398.9 L480.9 398.7 L481.9 398.6 L482.9 398.5 L483.7 398.2 L484.5 397.9 L485.4 397.7 L486.3 397.6 L487.3 397.4 L488.1 397.1 L489.0 397.0 L490.0 396.8 L491.0 396.8 L492.0 396.7 L493.0 396.6 L494.0 396.5 L494.5 396.5" stroke="#9467bd"/><path d="M375.7 514.9 L375.7 513.8 L375.8 512.8 L375.8 511.7 L375.8 510.6 L375.9 509.6 L375.9 508.5 L375.9 507.4 L375.9 506.4 L376.0 505.3 L376.1 504.3 L376.1 503.3 L376.3 502.4 L376.4 501.4 L376.5 500.4 L376.7 499.5 L376.8 498.5 L377.0 497.6 L377.1 496.6 L377.4 495.8 L377.4 494.8 L377.7 494.0 L378.0 493.2 L378.1 492.2 L378.3 491.3 L378.4 490.4 L378.6 489.5 L378.9 488.6 L379.1 487.8 L379.3 486.9 L379.5 486.0 L379.8 485.2 L380.0 484.2 L380.1 483.3 L380.5 482.6 L380.8 481.8 L381.0 480.9 L381.2 480.0 L381.4 479.1 L381.5 478.1 L381.8 477.3 L382.0 476.4 L382.1 475.5 L382.3 474.6 L382.5 473.7 L382.8 472.9 L383.1 472.1 L383.4 471.4 L383.7 470.5 L383.9 469.6 L384.3 469.0 L384.4 468.0 L384.6 467.1 L384.9 466.4 L385.4 465.7 L385.7 464.9 L386.0 464.2 L386.6 463.6 L386.8 462.8 L387.3 462.2 L387.6 461.3 L387.9 460.6 L388.4 460.0 L388.8 459.3 L389.3 458.7 L389.9 458.2 L390.4 457.6 L390.7 456.8 L390.9 456.0 L391.5 455.5 L391.7 454.6 L392.1 453.9 L392.6 453.3 L392.9 452.5 L393.5 452.0 L394.2 451.6 L394.4 450.8 L394.9 450.2 L395.2 449.4 L395.6 448.6 L396.2 448.2 L396.6 447.5 L397.1 446.9 L397.8 446.5 L398.3 445.9 L398.8 445.3 L399.2 444.6 L399.5 443.9 L400.0 443.2 L400.7 442.8 L401.1 442.2 L401.7 441.7 L402.3 441.2 L402.9 440.7 L403.4 440.1 L403.9 439.5 L404.4 438.9 L405.0 438.4 L405.4 437.7 L406.1 437.4 L406.6 436.7 L407.1 436.2 L407.7 435.6 L408.3 435.2 L408.8 434.6 L409.4 434.1 L409.6 433.3 L410.2 432.7 L410.8 432.2 L411.4 431.7 L412.2 431.4 L412.7 430.9 L413.4 430.5 L413.9 429.9 L414.5 429.4 L415.2 429.0 L415.8 428.5 L416.6 428.2 L417.2 427.7 L417.6 427.1 L418.2 426.6 L418.8 426.0 L419.5 425.7 L420.1 425.2 L420.7 424.6 L421.3 424.2 L421.8 423.6 L422.3 423.0 L423.0 422.7 L423.7 422.3 L424.2 421.6 L425.0 421.3 L425.6 420.8 L426.2 420.3 L426.9 420.0 L427.7 419.7 L428.4 419.3 L428.9 418.7 L429.4 418.2 L430.3 417.9 L430.9 417.4 L431.8 417.3 L432.5 416.8 L433.2 416.4 L434.0 416.1 L434.6 415.7 L435.1 415.1 L435.9 414.8 L436.7 414.5 L437.4 414.1 L438.1 413.7 L439.0 413.5 L439.7 413.1 L440.4 412.7 L441.1 412.4 L441.7 411.9 L442.7 411.7 L443.6 411.6 L444.5 411.3 L445.1 410.9 L445.8 410.5 L446.5 410.1 L447.2 409.7 L448.1 409.5 L448.8 409.1 L449.6 408.8 L450.3 408.4 L450.8 407.9 L451.7 407.7 L452.6 407.5 L453.5 407.3 L454.2 406.9 L455.0 406.6 L455.8 406.3 L456.6 406.0 L457.4 405.7 L458.3 405.6 L459.1 405.2 L459.8 404.9 L460.7 404.7 L461.4 404.3 L462.5 404.2 L463.2 403.9 L464.0 403.6 L464.9 403.4 L465.6 403.1 L466.5 402.8 L467.3 402.6 L468.3 402.4 L469.2 402.3 L470.0 402.0 L470.9 401.7 L471.5 401.3 L472.3 401.0 L473.3 400.9 L474.1 400.6 L474.8 400.2 L475.6 399.9 L476.5 399.7 L477.3 399.4 L478.1 399.2 L479.1 399.0 L479.9 398.8 L480.9 398.7 L481.9 398.6 L482.8 398.4 L483.6 398.1 L484.6 398.0 L485.6 397.9 L486.5 397.7 L487.4 397.6 L488.2 397.2 L489.2 397.1 L490.1 397.0 L491.0 396.8 L492.1 396.8 L493.0 396.6 L494.0 396.5 L494.5 396.5" stroke="#8c564b"/><path d="M375.7 514.9 L375.9 513.9 L375.9 512.9 L376.0 511.9 L376.1 510.9 L376.1 509.8 L376.2 508.8 L376.5 508.0 L376.6 507.1 L376.7 506.1 L377.0 505.3 L377.3 504.5 L377.7 503.8 L377.8 502.8 L378.1 502.0 L378.5 501.3 L378.9 500.6 L379.2 499.8 L379.4 499.0 L379.7 498.1 L380.1 497.4 L380.3 496.6 L380.6 495.8 L380.9 495.0 L381.1 494.1 L381.3 493.2 L381.6 492.4 L381.9 491.6 L382.2 490.8 L382.6 490.2 L383.0 489.5 L383.3 488.7 L383.5 487.8 L384.0 487.1 L384.2 486.3 L384.4 485.4 L384.9 484.8 L385.2 484.1 L385.4 483.1 L385.7 482.4 L386.1 481.7 L386.5 481.0 L386.8 480.2 L387.2 479.5 L387.6 478.8 L388.0 478.1 L388.2 477.2 L388.6 476.5 L388.8 475.7 L389.3 475.0 L389.7 474.4 L390.2 473.7 L390.5 473.0 L390.9 472.3 L391.3 471.6 L391.6 470.9 L391.9 470.0 L392.1 469.1 L392.6 468.5 L392.9 467.8 L393.6 467.4 L394.0 466.6 L394.3 465.8 L394.9 465.4 L395.4 464.7 L395.8 464.1 L396.3 463.5 L396.7 462.8 L397.1 462.1 L397.4 461.4 L397.9 460.8 L398.5 460.2 L398.9 459.5 L399.4 459.0 L399.7 458.2 L400.1 457.5 L400.7 457.0 L401.2 456.5 L401.7 455.8 L402.0 455.1 L402.7 454.7 L403.2 454.1 L403.7 453.4 L404.1 452.8 L404.4 452.0 L404.8 451.3 L405.5 450.9 L405.8 450.1 L406.3 449.5 L406.9 449.1 L407.6 448.6 L408.2 448.2 L408.7 447.6 L409.3 447.0 L410.0 446.7 L410.6 446.2 L411.0 445.5 L411.7 445.1 L412.2 444.5 L412.6 443.9 L413.1 443.2 L413.7 442.8 L414.2 442.2 L414.8 441.7 L415.4 441.2 L416.0 440.7 L416.6 440.2 L417.1 439.6 L417.6 439.0 L418.2 438.5 L418.6 437.9 L419.2 437.3 L419.7 436.7 L420.3 436.2 L421.0 435.9 L421.6 435.3 L422.2 434.9 L422.7 434.3 L423.1 433.6 L423.8 433.2 L424.6 432.9 L425.1 432.4 L425.8 431.9 L426.5 431.5 L427.1 431.0 L427.7 430.6 L428.2 430.0 L428.9 429.6 L429.4 429.0 L430.1 428.6 L430.7 428.1 L431.5 427.8 L432.1 427.3 L432.8 426.9 L433.2 426.3 L433.7 425.7 L434.2 425.1 L434.8 424.5 L435.6 424.3 L436.1 423.7 L436.8 423.3 L437.4 422.8 L438.1 422.4 L438.8 422.0 L439.3 421.5 L439.9 420.9 L440.6 420.6 L441.1 420.0 L441.8 419.6 L442.4 419.1 L443.0 418.6 L443.6 418.2 L444.2 417.6 L444.9 417.2 L445.5 416.7 L446.1 416.2 L446.7 415.7 L447.4 415.4 L448.1 414.9 L448.8 414.6 L449.6 414.3 L450.2 413.8 L450.8 413.3 L451.7 413.1 L452.3 412.6 L452.8 412.0 L453.6 411.7 L454.1 411.2 L455.0 410.9 L455.7 410.6 L456.5 410.3 L457.2 409.9 L457.9 409.5 L458.6 409.1 L459.4 408.8 L460.2 408.5 L460.9 408.2 L461.8 407.9 L462.4 407.5 L463.2 407.1 L464.0 406.8 L464.8 406.6 L465.4 406.1 L466.2 405.8 L466.9 405.4 L467.4 404.9 L468.1 404.4 L468.9 404.1 L469.5 403.7 L470.3 403.3 L471.1 403.0 L471.9 402.7 L472.6 402.4 L473.5 402.2 L474.3 401.9 L475.1 401.6 L475.8 401.2 L476.8 401.1 L477.6 400.8 L478.5 400.6 L479.2 400.3 L480.1 400.1 L481.0 399.8 L481.8 399.6 L482.6 399.3 L483.5 399.1 L484.4 398.9 L485.3 398.6 L486.1 398.4 L486.9 398.1 L487.8 397.9 L488.7 397.7 L489.6 397.5 L490.4 397.2 L491.4 397.1 L492.2 396.9 L493.2 396.8 L494.0 396.5 L494.5 396.5" stroke="#ffb6c1"/></g><rect x="369.8" y="390.6" width="130.6" height="130.2" fill="none" stroke="#444" stroke-width="0.8"/><line x1="375.74" y1="520.80" x2="375.74" y2="523.00" stroke="#444" stroke-width="0.8"/><line x1="367.60" y1="514.88" x2="369.80" y2="514.88" stroke="#444" stroke-width="0.8"/><text x="375.74" y="530.80" font-size="6.6" fill="#333" text-anchor="middle" font-family="Liberation Sans, sans-serif">0.0</text><text x="365.40" y="517.23" font-size="6.6" fill="#333" text-anchor="end" font-family="Liberation Sans, sans-serif">0.0</text><line x1="399.48" y1="520.80" x2="399.48" y2="523.00" stroke="#444" stroke-width="0.8"/><line x1="367.60" y1="491.21" x2="369.80" y2="491.21" stroke="#444" stroke-width="0.8"/><text x="399.48" y="530.80" font-size="6.6" fill="#333" text-anchor="middle" font-family="Liberation Sans, sans-serif">0.2</text><text x="365.40" y="493.56" font-size="6.6" fill="#333" text-anchor="end" font-family="Liberation Sans, sans-serif">0.2</text><line x1="423.23" y1="520.80" x2="423.23" y2="523.00" stroke="#444" stroke-width="0.8"/><line x1="367.60" y1="467.54" x2="369.80" y2="467.54" stroke="#444" stroke-width="0.8"/><text x="423.23" y="530.80" font-size="6.6" fill="#333" text-anchor="middle" font-family="Liberation Sans, sans-serif">0.4</text><text x="365.40" y="469.89" font-size="6.6" fill="#333" text-anchor="end" font-family="Liberation Sans, sans-serif">0.4</text><line x1="446.97" y1="520.80" x2="446.97" y2="523.00" stroke="#444" stroke-width="0.8"/><line x1="367.60" y1="443.86" x2="369.80" y2="443.86" stroke="#444" stroke-width="0.8"/><text x="446.97" y="530.80" font-size="6.6" fill="#333" text-anchor="middle" font-family="Liberation Sans, sans-serif">0.6</text><text x="365.40" y="446.21" font-size="6.6" fill="#333" text-anchor="end" font-family="Liberation Sans, sans-serif">0.6</text><line x1="470.72" y1="520.80" x2="470.72" y2="523.00" stroke="#444" stroke-width="0.8"/><line x1="367.60" y1="420.19" x2="369.80" y2="420.19" stroke="#444" stroke-width="0.8"/><text x="470.72" y="530.80" font-size="6.6" fill="#333" text-anchor="middle" font-family="Liberation Sans, sans-serif">0.8</text><text x="365.40" y="422.54" font-size="6.6" fill="#333" text-anchor="end" font-family="Liberation Sans, sans-serif">0.8</text><line x1="494.46" y1="520.80" x2="494.46" y2="523.00" stroke="#444" stroke-width="0.8"/><line x1="367.60" y1="396.52" x2="369.80" y2="396.52" stroke="#444" stroke-width="0.8"/><text x="494.46" y="530.80" font-size="6.6" fill="#333" text-anchor="middle" font-family="Liberation Sans, sans-serif">1.0</text><text x="365.40" y="398.87" font-size="6.6" fill="#333" text-anchor="end" font-family="Liberation Sans, sans-serif">1.0</text><text x="435.1" y="538.5" font-size="6.4" fill="#222" text-anchor="middle" font-family="Liberation Sans, sans-serif">False Positive Rate</text><text x="0" y="0" font-size="6.45" fill="#222" text-anchor="middle" transform="translate(352.6 455.7) rotate(-90)" font-family="Liberation Sans, sans-serif">True Positive Rate</text><rect x="407.6" y="454.5" width="92.0" height="64.8" rx="1.5" fill="#fff" fill-opacity="0.85" stroke="#d6d6d6" stroke-width="0.7"/><line x1="410.5" y1="460.40" x2="423.6" y2="460.40" stroke="#1f77b4" stroke-width="1.15"/><text x="428.0" y="462.52" font-size="5.90" fill="#222" font-family="Liberation Sans, sans-serif">HDRNet AUC = 0.94</text><line x1="410.5" y1="469.25" x2="423.6" y2="469.25" stroke="#ff7f0e" stroke-width="1.15"/><text x="428.0" y="471.37" font-size="5.90" fill="#222" font-family="Liberation Sans, sans-serif">PrismNet AUC = 0.85</text><line x1="410.5" y1="478.10" x2="423.6" y2="478.10" stroke="#2ca02c" stroke-width="1.15"/><text x="428.0" y="480.22" font-size="5.90" fill="#222" font-family="Liberation Sans, sans-serif">DMSK AUC = nan</text><line x1="410.5" y1="486.95" x2="423.6" y2="486.95" stroke="#d62728" stroke-width="1.15"/><text x="428.0" y="489.07" font-size="5.90" fill="#222" font-family="Liberation Sans, sans-serif">iDeep AUC = 0.90</text><line x1="410.5" y1="495.80" x2="423.6" y2="495.80" stroke="#9467bd" stroke-width="1.15"/><text x="428.0" y="497.92" font-size="5.90" fill="#222" font-family="Liberation Sans, sans-serif">GraphProt AUC = 0.77</text><line x1="410.5" y1="504.65" x2="423.6" y2="504.65" stroke="#8c564b" stroke-width="1.15"/><text x="428.0" y="506.77" font-size="5.90" fill="#222" font-family="Liberation Sans, sans-serif">DeepBind AUC = 0.77</text><line x1="410.5" y1="513.50" x2="423.6" y2="513.50" stroke="#ffb6c1" stroke-width="1.15"/><text x="428.0" y="515.62" font-size="5.90" fill="#222" font-family="Liberation Sans, sans-serif">PRIESSTESS AUC = 0.71</text><text x="610.0" y="386.8" font-size="7.8" fill="#111" text-anchor="middle" font-family="Liberation Sans, sans-serif">ROC Curve of ATXN2_HEK293T prediction</text><clipPath id="c544390"><rect x="544.6" y="390.6" width="130.8" height="130.2"/></clipPath><g clip-path="url(#c544390)" fill="none" stroke-width="1.3" stroke-linejoin="round"><path d="M550.5 514.9 L550.5 513.8 L550.5 512.7 L550.5 511.6 L550.5 510.5 L550.5 509.4 L550.5 508.3 L550.5 507.3 L550.5 506.2 L550.5 505.1 L550.5 504.0 L550.5 502.9 L550.5 501.8 L550.5 500.7 L550.5 499.6 L550.5 498.5 L550.5 497.5 L550.5 496.4 L550.5 495.3 L550.5 494.2 L550.5 493.1 L550.5 492.0 L550.6 491.0 L550.6 489.9 L550.6 488.8 L550.6 487.8 L550.6 486.7 L550.6 485.6 L550.6 484.5 L550.7 483.4 L550.7 482.4 L550.7 481.3 L550.8 480.3 L550.8 479.2 L550.8 478.1 L550.9 477.1 L550.9 476.1 L551.0 475.1 L551.1 474.0 L551.1 472.9 L551.1 471.9 L551.2 470.9 L551.3 469.9 L551.4 468.9 L551.5 467.9 L551.5 466.9 L551.6 465.9 L551.8 464.9 L551.9 464.0 L552.0 462.9 L552.2 462.1 L552.4 461.2 L552.7 460.4 L552.9 459.5 L553.1 458.6 L553.3 457.7 L553.6 456.9 L554.0 456.2 L554.3 455.4 L554.4 454.4 L554.5 453.5 L554.7 452.6 L555.0 451.8 L555.4 451.1 L555.6 450.3 L556.0 449.5 L556.3 448.8 L556.8 448.1 L556.9 447.1 L557.1 446.3 L557.4 445.5 L558.0 445.0 L558.4 444.3 L558.7 443.5 L559.1 442.8 L559.4 442.0 L559.7 441.3 L560.1 440.5 L560.3 439.7 L560.6 438.8 L561.1 438.2 L561.7 437.8 L562.2 437.1 L562.6 436.5 L563.2 436.1 L563.5 435.2 L564.1 434.7 L564.4 434.0 L564.8 433.3 L565.3 432.6 L565.8 432.0 L566.4 431.6 L566.8 430.9 L567.3 430.3 L567.7 429.6 L568.3 429.1 L569.0 428.7 L569.3 428.0 L569.8 427.3 L570.5 426.9 L571.3 426.6 L571.8 426.0 L572.4 425.6 L573.0 425.1 L573.4 424.4 L574.0 423.9 L574.7 423.5 L575.2 422.9 L575.9 422.5 L576.4 421.9 L577.1 421.5 L577.8 421.2 L578.6 420.9 L579.3 420.4 L579.9 420.0 L580.8 419.8 L581.4 419.3 L582.1 418.9 L582.7 418.3 L583.3 417.9 L583.8 417.3 L584.6 417.0 L585.3 416.6 L586.1 416.3 L586.9 416.1 L587.6 415.6 L588.3 415.2 L588.9 414.8 L589.8 414.6 L590.5 414.2 L591.3 413.9 L591.9 413.4 L592.8 413.2 L593.5 412.8 L594.3 412.5 L595.0 412.1 L595.9 411.9 L596.9 411.8 L597.7 411.6 L598.6 411.3 L599.4 411.1 L600.4 411.0 L601.1 410.6 L602.1 410.4 L602.9 410.2 L603.8 410.0 L604.5 409.6 L605.3 409.3 L606.2 409.1 L607.0 408.8 L607.8 408.5 L608.6 408.3 L609.5 408.0 L610.3 407.8 L611.0 407.3 L611.8 407.1 L612.7 406.8 L613.7 406.7 L614.5 406.5 L615.3 406.2 L616.4 406.2 L617.2 405.9 L618.1 405.7 L618.9 405.5 L619.8 405.2 L620.7 405.0 L621.5 404.7 L622.4 404.6 L623.2 404.3 L624.1 404.1 L625.1 404.0 L626.0 403.8 L626.8 403.5 L627.7 403.3 L628.6 403.1 L629.5 402.9 L630.5 402.8 L631.4 402.6 L632.2 402.3 L633.2 402.2 L634.1 402.1 L635.0 401.9 L635.9 401.6 L636.8 401.5 L637.8 401.3 L638.6 401.1 L639.7 401.1 L640.7 401.0 L641.5 400.7 L642.5 400.6 L643.5 400.5 L644.5 400.4 L645.3 400.2 L646.3 400.1 L647.2 399.8 L647.9 399.5 L649.0 399.4 L649.7 399.1 L650.7 399.0 L651.6 398.8 L652.5 398.6 L653.5 398.5 L654.4 398.3 L655.2 398.0 L656.3 398.0 L657.2 397.8 L658.2 397.7 L659.2 397.7 L660.3 397.6 L661.2 397.5 L662.3 397.4 L663.2 397.3 L664.2 397.1 L665.1 397.0 L666.1 396.8 L667.1 396.8 L668.1 396.7 L669.1 396.6 L669.5 396.5" stroke="#1f77b4"/><path d="M550.5 514.9 L550.6 513.8 L550.6 512.8 L550.6 511.7 L550.6 510.6 L550.6 509.5 L550.7 508.5 L550.7 507.4 L550.7 506.4 L550.7 505.3 L550.8 504.3 L551.0 503.3 L551.0 502.2 L551.0 501.2 L551.1 500.2 L551.1 499.1 L551.3 498.2 L551.4 497.2 L551.4 496.2 L551.5 495.1 L551.6 494.1 L551.6 493.1 L551.8 492.2 L551.9 491.2 L552.0 490.2 L552.1 489.2 L552.3 488.3 L552.4 487.3 L552.5 486.4 L552.6 485.3 L552.8 484.4 L552.9 483.5 L553.0 482.5 L553.1 481.5 L553.3 480.6 L553.5 479.8 L553.7 478.9 L554.0 478.0 L554.1 477.1 L554.4 476.2 L554.8 475.6 L555.0 474.7 L555.1 473.7 L555.3 472.8 L555.5 471.9 L555.9 471.2 L556.1 470.3 L556.3 469.4 L556.5 468.5 L556.8 467.7 L557.0 466.9 L557.2 465.9 L557.4 465.1 L557.9 464.5 L558.3 463.8 L558.6 463.0 L559.0 462.3 L559.4 461.6 L559.7 460.8 L560.1 460.2 L560.5 459.5 L560.7 458.6 L561.1 457.8 L561.4 457.1 L561.8 456.4 L562.3 455.8 L562.6 455.0 L562.9 454.2 L563.1 453.3 L563.4 452.5 L563.7 451.8 L564.2 451.2 L564.6 450.5 L565.1 449.9 L565.5 449.2 L565.9 448.5 L566.3 447.8 L566.8 447.2 L567.1 446.5 L567.7 445.9 L568.0 445.1 L568.3 444.4 L568.7 443.7 L569.3 443.2 L569.7 442.4 L569.9 441.6 L570.7 441.3 L571.0 440.5 L571.8 440.2 L572.3 439.6 L572.7 438.9 L573.2 438.3 L573.7 437.7 L574.0 437.0 L574.6 436.5 L575.2 436.0 L575.6 435.3 L576.2 434.8 L576.8 434.3 L577.5 433.9 L578.0 433.4 L578.8 433.0 L579.5 432.6 L580.0 432.1 L580.7 431.6 L581.3 431.1 L582.0 430.7 L582.6 430.2 L583.2 429.8 L583.7 429.2 L584.3 428.7 L585.0 428.3 L585.6 427.9 L586.3 427.4 L586.8 426.8 L587.2 426.2 L587.8 425.6 L588.4 425.2 L589.2 424.8 L589.9 424.5 L590.4 423.8 L591.1 423.5 L591.9 423.2 L592.5 422.7 L593.1 422.2 L593.9 421.9 L594.5 421.4 L595.2 421.0 L595.9 420.7 L596.4 420.1 L597.2 419.8 L597.8 419.2 L598.3 418.7 L599.2 418.4 L599.9 418.1 L600.7 417.8 L601.2 417.2 L601.8 416.7 L602.5 416.3 L603.1 415.8 L603.8 415.4 L604.5 415.1 L605.2 414.7 L605.9 414.2 L606.3 413.6 L607.1 413.2 L607.7 412.8 L608.4 412.4 L609.0 411.9 L609.7 411.5 L610.7 411.4 L611.4 411.0 L612.1 410.7 L612.9 410.4 L613.7 410.0 L614.5 409.8 L615.4 409.5 L616.1 409.2 L616.8 408.8 L617.8 408.7 L618.5 408.3 L619.3 408.0 L620.1 407.7 L620.8 407.3 L621.7 407.1 L622.5 406.8 L623.5 406.7 L624.3 406.5 L625.0 406.0 L625.7 405.7 L626.6 405.5 L627.3 405.1 L628.2 404.9 L629.3 404.9 L630.2 404.7 L631.1 404.5 L631.9 404.2 L632.7 404.0 L633.6 403.8 L634.4 403.4 L635.2 403.1 L636.2 403.0 L636.9 402.7 L637.9 402.5 L638.7 402.3 L639.6 402.1 L640.3 401.7 L641.2 401.5 L642.1 401.3 L642.9 401.0 L643.6 400.6 L644.3 400.3 L645.3 400.2 L646.2 400.0 L647.1 399.8 L648.2 399.7 L649.1 399.5 L650.0 399.4 L650.9 399.1 L651.8 399.0 L652.8 398.8 L653.7 398.7 L654.8 398.6 L655.8 398.6 L656.7 398.4 L657.6 398.2 L658.5 398.0 L659.5 397.9 L660.6 397.9 L661.6 397.8 L662.5 397.7 L663.4 397.5 L664.3 397.3 L665.2 397.1 L666.1 396.9 L667.1 396.8 L668.0 396.6 L669.1 396.6 L669.5 396.5" stroke="#ff7f0e"/><path d="M550.5 514.9 L550.5 513.8 L550.6 512.8 L550.7 511.8 L550.7 510.7 L550.8 509.7 L550.8 508.6 L550.8 507.5 L550.9 506.5 L551.0 505.6 L551.1 504.6 L551.2 503.6 L551.6 502.9 L551.8 502.0 L551.9 501.0 L552.0 500.0 L552.1 499.0 L552.4 498.2 L552.6 497.4 L552.9 496.5 L553.1 495.7 L553.3 494.7 L553.4 493.8 L553.5 492.8 L553.8 492.0 L554.0 491.1 L554.4 490.5 L554.8 489.7 L554.9 488.7 L555.2 487.9 L555.3 486.9 L555.5 486.1 L555.8 485.3 L556.0 484.3 L556.2 483.5 L556.5 482.7 L556.9 482.0 L557.1 481.1 L557.3 480.2 L557.6 479.5 L558.0 478.8 L558.3 478.0 L558.6 477.1 L558.7 476.2 L558.9 475.3 L559.3 474.6 L559.6 473.8 L560.1 473.2 L560.3 472.4 L560.7 471.6 L561.1 470.9 L561.3 470.0 L561.6 469.2 L562.0 468.5 L562.2 467.7 L562.5 466.9 L562.8 466.1 L563.2 465.4 L563.8 464.9 L564.1 464.1 L564.5 463.5 L564.8 462.7 L565.2 462.0 L565.3 461.0 L565.9 460.4 L566.5 460.0 L567.1 459.5 L567.5 458.8 L567.9 458.1 L568.3 457.4 L569.0 457.0 L569.5 456.5 L570.0 455.9 L570.5 455.3 L570.9 454.5 L571.2 453.8 L571.9 453.4 L572.5 452.9 L573.2 452.5 L573.8 452.0 L574.2 451.3 L574.6 450.6 L574.9 449.9 L575.4 449.2 L575.8 448.6 L576.1 447.7 L576.6 447.1 L577.0 446.5 L577.6 446.0 L578.2 445.5 L578.8 445.0 L579.4 444.5 L580.0 444.1 L580.5 443.4 L581.1 443.0 L581.7 442.4 L582.5 442.2 L583.1 441.7 L583.6 441.1 L584.2 440.5 L584.4 439.7 L584.8 439.0 L585.6 438.7 L586.2 438.2 L586.8 437.7 L587.3 437.1 L587.8 436.5 L588.4 436.1 L589.0 435.6 L589.4 434.9 L589.8 434.2 L590.4 433.7 L590.9 433.1 L591.5 432.5 L592.1 432.1 L592.6 431.5 L593.2 431.0 L593.8 430.6 L594.3 429.9 L594.9 429.4 L595.4 428.8 L596.0 428.3 L596.4 427.7 L596.9 427.1 L597.4 426.5 L597.9 425.9 L598.7 425.6 L599.3 425.2 L600.0 424.7 L600.5 424.1 L601.3 423.8 L601.9 423.3 L602.4 422.7 L603.0 422.3 L603.7 421.8 L604.4 421.5 L605.1 421.0 L605.7 420.6 L606.2 420.0 L606.8 419.5 L607.5 419.1 L608.5 419.0 L609.1 418.6 L609.8 418.2 L610.5 417.8 L611.0 417.2 L611.8 416.8 L612.3 416.3 L613.2 416.1 L614.1 415.9 L614.9 415.6 L615.8 415.4 L616.5 415.0 L617.2 414.6 L617.9 414.3 L618.7 413.9 L619.5 413.6 L620.1 413.2 L621.0 412.9 L621.9 412.8 L622.7 412.4 L623.6 412.2 L624.3 411.9 L625.1 411.6 L626.1 411.5 L626.9 411.2 L627.6 410.8 L628.2 410.3 L629.1 410.1 L629.8 409.8 L630.5 409.4 L631.4 409.2 L632.0 408.7 L632.8 408.4 L633.4 407.9 L634.1 407.5 L634.8 407.1 L635.5 406.7 L636.4 406.5 L637.2 406.2 L637.9 405.8 L638.7 405.5 L639.3 405.1 L640.1 404.7 L640.7 404.3 L641.4 403.9 L642.3 403.7 L643.2 403.5 L644.1 403.2 L645.0 403.1 L645.6 402.6 L646.4 402.3 L647.3 402.2 L648.1 401.8 L649.0 401.7 L649.9 401.4 L650.8 401.2 L651.7 401.0 L652.6 400.8 L653.5 400.6 L654.3 400.4 L655.2 400.2 L656.0 399.9 L656.9 399.6 L657.8 399.5 L658.8 399.4 L659.5 399.0 L660.3 398.7 L661.3 398.6 L662.1 398.3 L663.0 398.2 L663.8 397.8 L664.8 397.7 L665.7 397.6 L666.6 397.4 L667.5 397.1 L668.2 396.8 L669.2 396.7 L669.5 396.5" stroke="#d62728"/><path d="M550.5 514.9 L550.5 513.8 L550.5 512.7 L550.5 511.6 L550.7 510.7 L550.7 509.6 L550.8 508.6 L550.9 507.6 L551.0 506.6 L551.1 505.6 L551.2 504.7 L551.3 503.7 L551.4 502.7 L551.5 501.7 L551.6 500.7 L551.9 499.9 L552.0 498.9 L552.1 497.9 L552.3 497.0 L552.6 496.2 L552.8 495.4 L553.0 494.5 L553.4 493.8 L553.7 493.0 L553.9 492.1 L554.0 491.1 L554.1 490.1 L554.2 489.1 L554.4 488.3 L554.6 487.3 L554.9 486.6 L555.3 485.8 L555.5 485.0 L555.9 484.2 L556.2 483.5 L556.4 482.6 L556.7 481.8 L556.9 480.9 L557.2 480.1 L557.4 479.2 L557.6 478.4 L558.0 477.6 L558.3 476.9 L558.8 476.2 L559.0 475.3 L559.4 474.7 L559.8 474.0 L560.2 473.3 L560.4 472.5 L560.9 471.8 L561.2 471.0 L561.6 470.4 L562.0 469.7 L562.5 469.1 L562.9 468.4 L563.1 467.5 L563.3 466.6 L563.7 465.9 L563.9 465.0 L564.2 464.2 L564.6 463.5 L565.1 462.9 L565.4 462.2 L565.9 461.5 L566.5 461.1 L567.0 460.5 L567.3 459.7 L567.7 459.0 L568.1 458.3 L568.5 457.6 L568.9 456.9 L569.3 456.3 L569.6 455.5 L570.0 454.7 L570.3 453.9 L570.8 453.3 L571.4 452.9 L571.8 452.2 L572.6 451.9 L573.1 451.3 L573.3 450.4 L573.8 449.8 L574.4 449.4 L574.9 448.8 L575.4 448.2 L575.8 447.5 L576.5 447.1 L576.9 446.4 L577.3 445.7 L577.8 445.1 L578.3 444.5 L578.8 443.9 L579.6 443.6 L580.3 443.2 L580.9 442.7 L581.4 442.2 L582.1 441.7 L582.6 441.2 L583.1 440.6 L583.5 439.9 L584.1 439.4 L584.6 438.8 L585.3 438.4 L585.8 437.8 L586.4 437.3 L586.9 436.7 L587.6 436.3 L588.2 435.8 L588.6 435.2 L589.0 434.5 L589.6 434.0 L590.1 433.4 L590.7 432.9 L591.3 432.4 L591.8 431.8 L592.4 431.3 L593.1 430.9 L593.5 430.3 L594.1 429.8 L595.0 429.6 L595.7 429.1 L596.5 428.9 L597.3 428.5 L598.0 428.2 L598.7 427.8 L599.2 427.2 L599.8 426.7 L600.5 426.3 L601.1 425.8 L601.7 425.3 L602.3 424.8 L603.0 424.5 L603.5 423.8 L604.1 423.4 L604.7 422.8 L605.3 422.4 L605.9 421.9 L606.5 421.4 L607.4 421.2 L608.1 420.9 L608.6 420.2 L609.1 419.7 L609.7 419.1 L610.2 418.6 L610.8 418.1 L611.5 417.7 L612.2 417.3 L612.9 416.9 L613.6 416.5 L614.3 416.1 L615.1 415.8 L615.9 415.6 L616.8 415.3 L617.4 414.8 L618.0 414.3 L618.8 414.0 L619.7 413.8 L620.6 413.7 L621.5 413.4 L622.4 413.2 L623.2 413.0 L624.1 412.8 L624.9 412.5 L625.6 412.0 L626.3 411.7 L627.1 411.4 L627.9 411.1 L628.6 410.7 L629.4 410.4 L630.2 410.1 L630.8 409.6 L631.5 409.2 L632.5 409.1 L633.2 408.8 L633.9 408.4 L634.7 408.1 L635.6 407.9 L636.5 407.7 L637.3 407.4 L638.1 407.1 L638.9 406.8 L639.7 406.6 L640.5 406.2 L641.2 405.9 L641.8 405.3 L642.6 405.0 L643.4 404.8 L644.2 404.5 L645.2 404.4 L646.1 404.2 L646.9 403.9 L647.7 403.6 L648.5 403.3 L649.3 403.0 L650.0 402.6 L650.7 402.2 L651.5 401.9 L652.3 401.6 L653.2 401.4 L653.9 401.1 L654.9 401.0 L655.7 400.7 L656.5 400.4 L657.2 400.0 L657.8 399.5 L658.5 399.1 L659.4 398.9 L660.2 398.6 L661.0 398.4 L661.7 398.0 L662.7 397.8 L663.7 397.7 L664.7 397.6 L665.6 397.4 L666.5 397.2 L667.4 397.1 L668.3 396.8 L669.2 396.7 L669.5 396.5" stroke="#9467bd"/><path d="M550.5 514.9 L550.6 513.8 L550.6 512.8 L550.8 511.9 L550.9 510.9 L551.1 510.0 L551.2 509.0 L551.4 508.2 L551.7 507.4 L552.0 506.5 L552.2 505.6 L552.4 504.7 L552.5 503.8 L552.7 502.9 L552.9 502.0 L553.2 501.2 L553.4 500.3 L553.8 499.6 L554.1 498.8 L554.4 498.1 L554.7 497.3 L555.1 496.6 L555.3 495.6 L555.6 494.9 L555.7 493.9 L556.0 493.1 L556.3 492.3 L556.7 491.6 L557.0 490.8 L557.4 490.1 L557.7 489.3 L558.1 488.6 L558.3 487.8 L558.6 487.0 L559.1 486.3 L559.4 485.6 L559.7 484.8 L559.9 483.9 L560.3 483.2 L560.9 482.7 L561.3 482.1 L561.6 481.2 L562.2 480.7 L562.5 479.9 L562.8 479.2 L563.2 478.5 L563.9 478.0 L564.2 477.3 L564.6 476.6 L565.2 476.1 L565.7 475.5 L565.9 474.6 L566.3 474.0 L566.7 473.3 L567.2 472.7 L567.5 471.8 L567.7 471.0 L568.0 470.2 L568.5 469.6 L568.9 468.9 L569.4 468.3 L569.8 467.6 L570.1 466.9 L570.5 466.2 L571.2 465.7 L571.5 464.9 L571.9 464.3 L572.3 463.6 L572.8 463.0 L573.3 462.4 L573.6 461.6 L574.1 461.1 L574.7 460.5 L575.1 459.8 L575.6 459.2 L576.1 458.6 L576.5 458.0 L576.9 457.3 L577.5 456.8 L578.0 456.2 L578.4 455.5 L578.9 454.9 L579.4 454.3 L580.0 453.9 L580.7 453.5 L581.2 452.9 L581.7 452.2 L582.0 451.5 L582.5 450.9 L583.2 450.5 L583.8 450.0 L584.1 449.2 L584.7 448.7 L585.2 448.1 L585.7 447.6 L586.4 447.1 L586.8 446.4 L587.3 445.8 L587.7 445.1 L588.2 444.5 L588.8 444.1 L589.4 443.5 L589.6 442.7 L590.0 442.0 L590.5 441.4 L591.0 440.8 L591.6 440.4 L592.4 440.0 L592.9 439.4 L593.4 438.9 L594.1 438.5 L594.7 438.0 L595.4 437.5 L596.0 437.1 L596.6 436.6 L597.3 436.1 L597.7 435.5 L598.3 435.1 L598.9 434.5 L599.6 434.1 L600.2 433.6 L600.6 433.0 L601.2 432.4 L601.9 432.0 L602.7 431.7 L603.1 431.1 L603.9 430.7 L604.5 430.3 L605.1 429.8 L605.6 429.2 L606.3 428.9 L607.0 428.4 L607.5 427.9 L608.0 427.3 L608.8 427.0 L609.3 426.4 L609.9 425.8 L610.4 425.3 L611.1 424.9 L611.8 424.5 L612.4 424.0 L613.1 423.6 L613.8 423.2 L614.4 422.7 L615.0 422.3 L615.7 421.8 L616.3 421.3 L616.9 420.9 L617.7 420.6 L618.4 420.1 L618.9 419.6 L619.6 419.1 L620.0 418.5 L620.7 418.1 L621.6 417.9 L622.4 417.6 L623.1 417.3 L623.6 416.6 L624.3 416.2 L624.9 415.7 L625.6 415.4 L626.3 414.9 L627.1 414.7 L627.8 414.3 L628.5 413.9 L629.2 413.5 L629.8 413.0 L630.4 412.5 L631.2 412.2 L631.9 411.9 L632.4 411.2 L633.2 411.0 L634.1 410.7 L634.7 410.3 L635.6 410.1 L636.3 409.6 L637.2 409.4 L638.0 409.2 L638.8 408.9 L639.8 408.8 L640.5 408.4 L641.3 408.2 L642.1 407.8 L642.9 407.5 L643.4 406.9 L644.0 406.5 L644.7 406.0 L645.5 405.8 L646.1 405.3 L646.8 404.9 L647.7 404.7 L648.3 404.2 L649.0 403.9 L650.0 403.7 L650.8 403.4 L651.4 403.0 L652.3 402.7 L653.2 402.6 L654.1 402.3 L654.9 402.1 L655.7 401.8 L656.7 401.6 L657.4 401.3 L658.0 400.8 L658.7 400.4 L659.4 400.0 L660.2 399.7 L661.1 399.5 L661.9 399.2 L662.7 398.9 L663.5 398.6 L664.3 398.4 L665.0 397.9 L665.7 397.6 L666.6 397.4 L667.4 397.0 L668.3 396.8 L669.1 396.6 L669.5 396.5" stroke="#8c564b"/><path d="M550.5 514.9 L550.6 513.9 L550.8 513.0 L550.9 512.0 L551.3 511.3 L551.4 510.3 L551.5 509.3 L551.9 508.6 L552.2 507.8 L552.3 506.8 L552.4 505.9 L552.6 505.0 L552.9 504.2 L553.0 503.1 L553.4 502.5 L553.9 501.9 L554.1 501.0 L554.4 500.2 L554.6 499.3 L554.7 498.3 L555.2 497.7 L555.6 497.0 L556.0 496.3 L556.3 495.6 L556.8 494.9 L557.0 494.1 L557.3 493.3 L557.7 492.6 L558.0 491.8 L558.5 491.2 L559.0 490.6 L559.5 490.1 L559.8 489.3 L560.2 488.6 L560.7 487.9 L561.0 487.1 L561.4 486.5 L561.7 485.7 L562.0 484.9 L562.4 484.2 L562.8 483.5 L563.1 482.7 L563.5 482.0 L563.9 481.3 L564.4 480.7 L564.8 480.0 L565.3 479.5 L565.7 478.8 L566.1 478.1 L566.6 477.5 L567.0 476.8 L567.5 476.2 L568.0 475.6 L568.4 474.9 L568.9 474.4 L569.4 473.7 L570.0 473.2 L570.4 472.6 L571.0 472.0 L571.4 471.4 L571.9 470.8 L572.2 470.0 L572.6 469.3 L573.1 468.8 L573.6 468.2 L574.1 467.6 L574.6 466.9 L575.3 466.5 L575.8 466.0 L576.3 465.4 L576.8 464.8 L577.5 464.4 L577.9 463.7 L578.6 463.3 L578.9 462.6 L579.7 462.2 L580.1 461.6 L580.6 461.0 L581.2 460.5 L581.8 460.0 L582.2 459.3 L582.9 458.9 L583.5 458.4 L584.1 457.9 L584.7 457.5 L585.1 456.7 L585.6 456.2 L586.1 455.6 L586.7 455.0 L587.3 454.6 L587.7 453.9 L588.2 453.2 L588.6 452.6 L589.0 451.9 L589.5 451.3 L590.2 450.9 L590.6 450.3 L591.3 449.8 L592.0 449.5 L592.7 449.0 L593.2 448.5 L593.7 447.9 L594.4 447.4 L594.9 446.8 L595.6 446.5 L596.0 445.8 L596.5 445.2 L597.1 444.7 L597.6 444.1 L598.2 443.6 L598.7 443.0 L599.3 442.5 L599.8 442.0 L600.2 441.3 L600.9 440.8 L601.6 440.5 L602.2 439.9 L602.6 439.3 L603.2 438.8 L603.6 438.1 L604.2 437.7 L604.7 437.0 L605.2 436.4 L605.7 435.9 L606.3 435.3 L607.1 435.0 L607.5 434.3 L608.0 433.8 L608.8 433.4 L609.1 432.7 L609.7 432.2 L610.5 431.9 L611.2 431.6 L611.9 431.1 L612.5 430.6 L613.1 430.2 L613.7 429.7 L614.4 429.2 L614.9 428.7 L615.4 428.1 L616.0 427.6 L616.6 427.1 L617.3 426.7 L617.8 426.1 L618.4 425.6 L619.0 425.2 L619.8 424.8 L620.4 424.3 L621.1 423.9 L621.8 423.6 L622.3 423.0 L622.9 422.5 L623.4 421.9 L624.1 421.5 L624.8 421.1 L625.4 420.6 L626.3 420.4 L626.9 419.9 L627.5 419.4 L628.1 418.9 L628.8 418.6 L629.5 418.2 L630.2 417.7 L630.8 417.3 L631.3 416.7 L632.0 416.3 L632.8 416.0 L633.4 415.6 L634.1 415.1 L634.9 414.8 L635.7 414.6 L636.6 414.4 L637.3 413.9 L637.8 413.4 L638.4 412.9 L639.0 412.4 L639.8 412.0 L640.6 411.8 L641.3 411.4 L642.1 411.1 L642.8 410.7 L643.5 410.3 L644.3 410.1 L644.9 409.5 L645.7 409.2 L646.3 408.8 L647.0 408.4 L647.6 407.8 L648.2 407.4 L649.0 407.0 L649.6 406.6 L650.2 406.1 L651.0 405.8 L651.6 405.3 L652.3 404.9 L652.8 404.3 L653.4 403.9 L653.9 403.2 L654.7 402.9 L655.5 402.6 L656.1 402.2 L657.0 402.0 L657.7 401.5 L658.5 401.3 L659.4 401.1 L660.1 400.7 L660.8 400.3 L661.4 399.8 L662.1 399.4 L663.1 399.3 L663.7 398.9 L664.7 398.7 L665.5 398.4 L666.3 398.1 L666.9 397.7 L667.5 397.2 L668.1 396.7 L669.1 396.6 L669.5 396.5" stroke="#ffb6c1"/></g><rect x="544.6" y="390.6" width="130.8" height="130.2" fill="none" stroke="#444" stroke-width="0.8"/><line x1="550.55" y1="520.80" x2="550.55" y2="523.00" stroke="#444" stroke-width="0.8"/><line x1="542.40" y1="514.88" x2="544.60" y2="514.88" stroke="#444" stroke-width="0.8"/><text x="550.55" y="530.80" font-size="6.6" fill="#333" text-anchor="middle" font-family="Liberation Sans, sans-serif">0.0</text><text x="540.20" y="517.23" font-size="6.6" fill="#333" text-anchor="end" font-family="Liberation Sans, sans-serif">0.0</text><line x1="574.33" y1="520.80" x2="574.33" y2="523.00" stroke="#444" stroke-width="0.8"/><line x1="542.40" y1="491.21" x2="544.60" y2="491.21" stroke="#444" stroke-width="0.8"/><text x="574.33" y="530.80" font-size="6.6" fill="#333" text-anchor="middle" font-family="Liberation Sans, sans-serif">0.2</text><text x="540.20" y="493.56" font-size="6.6" fill="#333" text-anchor="end" font-family="Liberation Sans, sans-serif">0.2</text><line x1="598.11" y1="520.80" x2="598.11" y2="523.00" stroke="#444" stroke-width="0.8"/><line x1="542.40" y1="467.54" x2="544.60" y2="467.54" stroke="#444" stroke-width="0.8"/><text x="598.11" y="530.80" font-size="6.6" fill="#333" text-anchor="middle" font-family="Liberation Sans, sans-serif">0.4</text><text x="540.20" y="469.89" font-size="6.6" fill="#333" text-anchor="end" font-family="Liberation Sans, sans-serif">0.4</text><line x1="621.89" y1="520.80" x2="621.89" y2="523.00" stroke="#444" stroke-width="0.8"/><line x1="542.40" y1="443.86" x2="544.60" y2="443.86" stroke="#444" stroke-width="0.8"/><text x="621.89" y="530.80" font-size="6.6" fill="#333" text-anchor="middle" font-family="Liberation Sans, sans-serif">0.6</text><text x="540.20" y="446.21" font-size="6.6" fill="#333" text-anchor="end" font-family="Liberation Sans, sans-serif">0.6</text><line x1="645.67" y1="520.80" x2="645.67" y2="523.00" stroke="#444" stroke-width="0.8"/><line x1="542.40" y1="420.19" x2="544.60" y2="420.19" stroke="#444" stroke-width="0.8"/><text x="645.67" y="530.80" font-size="6.6" fill="#333" text-anchor="middle" font-family="Liberation Sans, sans-serif">0.8</text><text x="540.20" y="422.54" font-size="6.6" fill="#333" text-anchor="end" font-family="Liberation Sans, sans-serif">0.8</text><line x1="669.45" y1="520.80" x2="669.45" y2="523.00" stroke="#444" stroke-width="0.8"/><line x1="542.40" y1="396.52" x2="544.60" y2="396.52" stroke="#444" stroke-width="0.8"/><text x="669.45" y="530.80" font-size="6.6" fill="#333" text-anchor="middle" font-family="Liberation Sans, sans-serif">1.0</text><text x="540.20" y="398.87" font-size="6.6" fill="#333" text-anchor="end" font-family="Liberation Sans, sans-serif">1.0</text><text x="610.0" y="538.5" font-size="6.4" fill="#222" text-anchor="middle" font-family="Liberation Sans, sans-serif">False Positive Rate</text><text x="0" y="0" font-size="6.45" fill="#222" text-anchor="middle" transform="translate(527.4 455.7) rotate(-90)" font-family="Liberation Sans, sans-serif">True Positive Rate</text><rect x="586.5" y="458.5" width="88.9" height="60.5" rx="1.5" fill="#fff" fill-opacity="0.85" stroke="#d6d6d6" stroke-width="0.7"/><line x1="588.6" y1="464.30" x2="600.9" y2="464.30" stroke="#1f77b4" stroke-width="1.15"/><text x="604.8" y="466.39" font-size="5.80" fill="#222" font-family="Liberation Sans, sans-serif">HDRNet AUC = 0.86</text><line x1="588.6" y1="472.70" x2="600.9" y2="472.70" stroke="#ff7f0e" stroke-width="1.15"/><text x="604.8" y="474.79" font-size="5.80" fill="#222" font-family="Liberation Sans, sans-serif">PrismNet AUC = 0.80</text><line x1="588.6" y1="481.10" x2="600.9" y2="481.10" stroke="#2ca02c" stroke-width="1.15"/><text x="604.8" y="483.19" font-size="5.80" fill="#222" font-family="Liberation Sans, sans-serif">DMSK AUC = nan</text><line x1="588.6" y1="489.50" x2="600.9" y2="489.50" stroke="#d62728" stroke-width="1.15"/><text x="604.8" y="491.59" font-size="5.80" fill="#222" font-family="Liberation Sans, sans-serif">iDeep AUC = 0.74</text><line x1="588.6" y1="497.90" x2="600.9" y2="497.90" stroke="#9467bd" stroke-width="1.15"/><text x="604.8" y="499.99" font-size="5.80" fill="#222" font-family="Liberation Sans, sans-serif">GraphProt AUC = 0.73</text><line x1="588.6" y1="506.30" x2="600.9" y2="506.30" stroke="#8c564b" stroke-width="1.15"/><text x="604.8" y="508.39" font-size="5.80" fill="#222" font-family="Liberation Sans, sans-serif">DeepBind AUC = 0.69</text><line x1="588.6" y1="514.70" x2="600.9" y2="514.70" stroke="#ffb6c1" stroke-width="1.15"/><text x="604.8" y="516.79" font-size="5.80" fill="#222" font-family="Liberation Sans, sans-serif">PRIESSTESS AUC = 0.65</text><path d="M103.6 439.9h0M81.4 423.0h0M103.6 406.7h0M108.2 426.3h0M119.8 415.3h0M92.7 428.0h0M118.5 422.9h0M86.8 446.0h0M145.2 408.1h0M122.2 434.3h0M81.8 447.3h0M139.2 421.5h0M136.5 404.4h0M111.0 404.4h0M134.0 444.0h0M134.5 415.9h0M116.0 450.0h0M93.3 449.5h0M124.6 432.3h0M89.5 452.7h0M90.0 433.4h0M95.5 405.6h0M112.6 451.2h0M97.4 433.1h0M142.5 440.2h0M92.7 413.8h0M151.1 436.7h0M91.7 411.1h0M88.3 441.6h0M140.6 414.6h0M129.2 449.5h0M138.8 416.0h0M154.1 432.7h0M131.7 451.1h0M78.5 425.9h0M115.8 413.2h0M94.6 430.3h0M121.5 404.0h0M74.1 440.7h0M144.8 428.7h0M106.7 456.3h0M124.9 421.2h0M82.4 429.8h0M79.3 434.1h0M77.8 420.2h0M117.4 441.1h0M125.6 436.5h0M99.3 418.7h0M127.0 422.3h0M125.5 456.7h0M115.9 427.3h0M99.4 447.9h0M132.6 431.4h0M147.7 421.4h0M94.2 433.2h0M106.2 436.6h0M93.0 453.0h0M84.8 450.2h0M146.7 412.5h0M113.8 452.8h0M113.3 422.5h0M118.7 426.3h0M112.5 455.7h0M88.9 432.0h0M123.3 402.4h0M91.3 420.8h0M94.9 412.7h0M146.9 441.9h0M90.6 452.3h0M150.7 416.0h0M150.8 425.4h0M114.1 423.1h0M142.2 450.2h0M137.9 429.2h0M144.5 415.5h0M135.6 402.8h0M138.7 454.0h0M78.7 426.9h0M85.4 425.5h0M96.2 439.1h0M72.5 430.3h0M95.2 430.5h0M153.9 433.9h0M136.9 445.2h0M131.8 408.2h0M98.4 411.1h0M95.5 425.9h0M109.9 421.3h0M110.2 444.5h0M76.8 452.3h0M144.7 426.4h0M111.1 409.7h0M145.6 408.4h0M127.0 415.2h0M136.0 404.4h0M137.8 421.4h0M103.3 405.9h0M109.2 443.0h0M82.0 421.5h0M125.1 444.1h0M130.9 442.5h0M78.5 425.1h0M93.3 414.9h0M133.2 411.3h0M139.5 401.9h0M73.3 430.2h0M116.3 451.0h0M74.9 421.7h0M108.5 439.8h0M107.4 454.5h0M124.5 401.7h0M153.4 441.7h0M84.3 446.4h0M126.0 427.2h0M112.2 450.9h0M93.2 428.7h0M98.9 403.6h0M131.4 401.5h0M101.6 455.0h0M128.7 407.6h0M110.0 424.8h0M150.4 412.3h0M95.7 415.7h0M103.3 412.2h0M76.1 444.7h0M92.1 440.0h0M127.3 432.3h0M99.8 448.0h0M76.9 419.9h0M140.2 429.2h0M94.2 448.4h0M121.2 422.1h0M78.6 425.3h0M141.2 419.1h0M132.1 424.7h0M130.6 447.3h0M112.8 432.0h0M137.7 415.6h0M116.7 434.8h0M78.7 448.5h0M94.5 444.7h0M119.6 434.1h0M106.4 443.5h0M138.8 406.0h0M95.7 455.3h0M112.5 404.3h0M113.8 402.9h0M97.2 438.4h0M150.3 441.8h0M82.0 418.0h0M81.9 413.8h0M130.9 435.3h0M98.2 455.3h0M122.7 399.6h0M101.4 443.5h0M151.9 421.5h0M147.9 423.4h0M101.1 446.8h0M103.4 427.4h0M74.7 442.9h0M150.5 444.4h0M151.0 442.1h0M75.8 441.6h0M141.6 440.9h0M122.6 426.5h0M99.0 403.8h0M133.9 411.2h0M109.4 402.2h0M152.4 443.8h0M87.2 415.7h0M84.9 434.7h0M77.7 423.4h0M142.3 404.7h0M113.6 426.3h0M84.1 421.9h0M118.7 419.7h0M121.7 430.9h0M103.4 447.8h0M103.9 409.2h0M105.0 416.1h0M87.9 411.4h0M83.9 438.6h0M103.4 432.9h0M139.7 429.6h0M112.9 436.0h0M148.2 418.3h0M140.4 427.5h0M100.4 448.6h0M132.6 439.8h0M105.6 440.2h0M101.2 418.1h0M137.9 446.5h0M112.8 451.9h0M137.3 407.2h0M110.6 429.6h0M94.0 444.9h0M93.0 414.0h0M118.0 454.9h0M94.2 415.1h0M143.2 448.1h0M121.0 420.7h0M108.2 429.8h0M154.7 426.3h0M149.3 440.1h0M139.5 415.9h0M108.2 408.7h0M124.7 399.7h0M124.9 420.0h0M106.3 423.1h0M129.6 449.7h0M127.7 418.1h0M88.3 432.7h0M105.8 425.2h0M156.0 435.2h0M88.9 429.6h0M104.4 450.1h0M118.9 414.7h0M124.8 441.6h0M153.3 436.8h0M119.3 445.2h0M81.7 431.3h0M134.7 441.2h0M86.5 413.9h0M131.8 449.0h0M113.4 435.3h0M85.7 417.4h0M125.7 440.6h0M155.5 429.4h0M124.0 426.4h0M101.6 437.9h0M134.2 449.2h0M125.6 444.1h0M96.0 417.9h0M128.4 412.8h0M104.4 441.3h0M108.6 438.6h0M116.3 449.3h0M87.4 452.1h0M101.0 409.0h0M95.9 442.9h0M106.6 449.8h0M74.0 448.3h0M121.6 424.1h0M120.5 412.3h0M112.5 456.6h0M143.7 439.6h0M138.1 440.3h0M105.9 434.1h0M106.2 412.5h0M152.8 429.6h0M96.7 409.0h0M101.4 441.3h0M115.6 450.2h0M91.7 408.5h0M142.2 403.4h0M142.7 416.4h0M101.6 442.9h0M154.8 436.3h0M129.3 416.4h0M111.4 441.6h0M120.5 416.7h0M88.4 438.3h0M106.6 422.5h0M148.4 443.0h0M155.3 436.2h0M130.7 403.1h0M134.7 449.3h0M78.1 440.5h0M118.2 409.9h0M89.8 433.2h0M85.3 425.6h0M77.0 432.1h0M87.8 432.1h0M129.2 413.5h0M141.2 452.2h0M145.3 446.9h0M122.8 439.4h0M102.0 426.2h0M144.3 438.2h0M132.2 430.3h0M107.7 442.2h0M98.4 454.9h0M84.0 431.1h0M118.0 399.0h0M135.1 447.3h0M116.3 453.4h0M86.6 441.5h0M111.5 429.6h0M136.9 456.8h0M88.6 436.0h0M119.8 418.4h0M79.1 436.8h0M121.5 409.6h0M88.9 435.9h0M130.8 441.8h0M123.9 440.6h0M124.6 457.0h0M137.0 449.1h0M102.7 422.3h0M156.4 441.2h0M105.3 443.2h0M136.4 406.4h0M120.0 433.6h0M100.8 438.6h0M133.1 447.8h0M106.2 453.7h0M126.0 427.1h0M101.0 437.3h0M128.4 429.8h0M100.7 432.0h0M123.2 412.4h0M140.7 409.9h0M119.5 452.1h0M94.1 410.4h0M128.5 412.1h0M85.3 429.1h0M138.4 413.6h0M129.2 455.2h0M73.9 450.1h0M131.0 438.7h0M141.8 415.8h0M89.2 410.5h0M119.8 399.0h0M123.6 437.6h0M116.4 404.4h0M144.4 446.3h0M100.6 453.1h0M95.8 437.4h0M92.5 449.4h0M83.3 444.1h0M86.8 454.9h0M110.2 450.6h0M156.0 431.2h0M112.1 431.9h0M109.4 422.9h0M154.9 445.0h0M142.3 419.8h0M148.9 410.4h0M111.4 430.5h0M123.4 430.1h0M149.4 443.3h0M135.8 401.0h0M147.6 439.2h0M137.4 441.6h0M95.3 422.4h0M147.7 405.5h0M98.2 432.2h0M106.8 444.6h0M141.7 445.8h0M134.6 412.3h0M129.3 455.7h0M109.5 444.6h0M136.9 452.7h0M74.7 444.4h0M72.7 433.3h0M124.6 425.5h0M103.4 434.8h0M113.5 450.5h0M113.2 407.6h0M123.3 425.3h0M84.5 430.2h0M74.4 424.0h0M137.0 445.0h0M111.2 441.9h0M87.0 435.5h0M97.9 424.7h0M127.0 407.0h0M88.7 414.3h0M105.7 406.5h0M117.0 441.0h0M150.3 434.4h0M127.8 434.8h0M134.3 415.2h0M101.2 454.4h0M101.5 420.9h0M107.7 434.4h0M118.4 436.1h0M113.1 415.5h0M116.4 406.3h0M115.2 427.0h0M106.4 422.3h0M103.7 422.6h0M140.0 448.3h0M121.9 427.2h0M132.5 413.4h0M108.1 449.8h0M107.6 408.2h0M93.8 415.9h0M146.5 407.9h0M139.4 415.9h0M148.4 424.2h0M121.6 436.8h0M72.8 439.4h0M98.3 431.0h0M87.9 452.4h0M149.6 414.0h0M87.2 413.6h0M140.8 449.6h0M88.5 425.0h0M147.7 429.4h0M82.3 448.0h0M138.8 439.1h0M102.4 451.5h0M87.0 424.6h0M87.0 438.6h0M127.5 441.5h0M138.6 415.8h0M74.8 425.5h0M118.2 418.9h0M106.0 448.0h0M153.4 424.4h0M112.1 411.8h0M129.9 438.2h0M133.0 419.5h0M108.3 449.8h0M118.4 447.6h0M107.1 416.9h0M75.1 445.7h0M111.3 441.8h0M97.3 450.4h0M140.9 418.7h0M75.0 446.4h0M95.1 406.8h0M131.7 412.1h0M86.6 419.8h0M92.8 426.7h0M95.6 408.9h0M93.8 438.3h0M106.8 453.5h0M134.1 429.3h0M94.8 409.6h0M137.8 444.2h0M85.2 411.7h0M103.8 410.1h0M99.0 450.2h0M91.6 432.3h0M102.3 405.8h0M89.3 433.9h0M114.6 432.9h0M125.7 443.5h0M77.0 420.8h0M114.9 426.4h0M132.6 442.9h0M108.4 450.4h0M91.2 427.4h0M88.9 440.3h0M121.5 413.9h0M99.3 406.4h0M155.7 427.9h0M90.1 439.5h0M101.3 451.4h0M108.3 423.9h0M84.9 446.3h0M127.8 445.0h0M96.4 452.9h0M109.8 417.4h0M100.9 440.3h0M153.9 431.7h0M109.8 434.4h0M147.4 411.4h0M109.7 412.0h0M74.5 424.9h0M105.4 445.3h0M115.1 442.8h0M108.1 402.3h0M121.1 453.9h0M135.1 420.8h0M123.6 437.1h0M138.9 451.8h0M99.9 440.3h0M103.9 414.4h0M115.0 432.9h0M146.3 430.4h0M112.7 442.5h0M122.1 428.8h0M134.2 412.7h0M131.5 400.8h0M130.1 444.5h0M106.0 437.5h0M115.1 410.4h0M89.0 416.2h0M101.0 423.3h0M77.1 451.7h0M136.5 416.7h0M139.7 453.7h0M124.4 407.9h0M139.8 408.7h0M134.0 430.9h0M135.9 454.2h0M121.8 429.2h0M155.5 432.7h0M129.2 398.9h0M80.0 440.7h0M149.4 407.2h0M144.5 403.3h0M142.5 454.0h0M121.9 441.4h0M117.8 451.8h0M73.4 448.4h0M136.1 407.2h0M101.2 441.2h0M148.5 416.1h0M93.7 450.2h0M95.2 430.2h0M128.9 424.4h0M79.5 425.3h0M146.3 438.1h0M133.7 430.1h0M126.3 424.7h0M132.9 413.9h0M115.9 410.1h0M149.5 446.9h0M154.7 445.5h0M113.5 437.7h0M112.1 403.7h0M88.1 431.2h0M87.6 437.8h0M91.9 441.2h0M129.7 415.7h0M130.4 412.6h0M108.7 455.9h0M88.7 421.6h0M129.3 406.3h0M103.5 401.5h0M101.7 440.6h0M80.3 448.5h0M112.4 445.0h0M154.8 422.0h0M133.8 403.9h0M81.0 424.6h0M90.7 442.0h0M110.1 446.4h0M126.3 405.5h0M137.3 431.2h0M142.3 439.7h0M116.6 456.9h0M79.6 424.7h0M95.4 421.0h0M116.8 420.0h0M119.0 445.7h0M111.3 456.4h0M125.5 420.1h0M110.7 436.0h0M100.4 438.1h0M108.0 450.9h0M144.6 431.6h0M107.7 433.5h0M102.3 446.7h0M150.2 435.8h0M90.2 445.7h0M139.0 434.1h0M97.8 452.4h0M111.1 456.5h0M114.0 436.9h0M102.6 405.0h0M106.6 408.5h0M138.9 444.7h0M109.0 440.0h0M127.2 402.3h0M99.4 450.4h0M138.0 439.8h0M75.2 439.7h0M152.2 416.9h0M137.3 451.2h0M97.2 406.8h0M84.2 422.2h0M115.1 451.7h0M76.7 419.2h0M92.6 425.4h0M153.4 433.8h0M111.5 415.0h0M138.3 448.2h0M131.8 449.5h0M138.5 427.1h0M129.6 408.0h0M121.0 431.2h0M100.8 425.5h0M114.4 435.0h0M111.5 406.9h0M138.6 434.7h0M151.7 434.7h0M98.5 427.4h0M116.4 454.5h0M136.8 436.3h0M118.5 432.9h0M93.0 407.1h0M119.7 432.3h0M147.2 450.1h0M124.1 447.5h0M126.6 409.8h0M134.4 421.7h0M112.9 445.9h0M124.3 410.1h0M126.3 451.6h0M111.8 404.2h0M88.6 423.0h0M90.9 425.9h0M101.6 429.0h0M132.7 437.2h0M106.9 426.4h0M85.3 423.0h0M101.9 420.1h0M125.2 427.2h0M119.7 410.3h0M125.0 441.1h0M95.9 424.9h0M134.4 400.4h0M132.3 435.1h0M124.2 433.6h0M128.9 455.6h0M130.8 419.3h0M143.8 440.8h0M93.9 422.9h0M91.5 453.6h0M122.2 449.9h0M97.6 440.7h0M131.5 408.4h0M81.3 441.1h0M111.1 403.7h0M80.1 420.7h0M147.2 444.6h0M149.0 428.2h0M89.6 442.2h0M132.8 420.2h0M100.4 406.5h0M99.3 429.0h0M108.8 437.0h0M131.2 426.9h0M84.5 411.7h0M122.0 400.2h0M141.5 449.5h0M126.6 442.5h0M112.0 404.6h0M119.2 454.8h0M140.9 408.0h0M143.2 425.8h0M113.8 447.3h0M82.3 454.2h0M98.8 431.3h0M82.2 422.8h0M115.4 427.8h0M139.4 449.9h0M72.0 444.0h0M120.9 450.9h0M142.5 448.9h0M127.1 437.0h0M152.5 419.4h0M96.7 420.5h0M112.7 404.9h0M128.5 426.0h0M103.1 449.6h0M96.3 449.2h0M107.6 426.3h0M93.6 441.4h0M142.4 444.2h0M150.8 438.4h0M153.9 423.2h0M139.8 403.9h0M86.2 455.4h0M139.6 452.6h0M99.1 424.4h0M138.8 420.1h0M78.5 430.0h0M123.1 420.9h0M107.6 402.8h0M129.2 406.9h0M74.9 451.9h0M98.5 453.1h0M135.7 437.1h0M115.0 421.1h0M155.6 428.4h0M104.4 417.6h0M98.9 448.9h0M100.5 413.7h0M135.7 408.9h0M72.9 441.7h0M137.3 412.3h0M100.7 440.0h0M148.8 438.3h0M118.5 419.9h0M105.5 447.8h0M98.7 434.4h0M92.4 430.2h0M101.1 430.7h0M109.2 438.7h0M99.5 438.4h0M90.3 432.3h0M113.8 444.0h0M87.6 440.3h0M115.6 437.0h0M95.5 430.7h0M88.5 433.8h0M92.1 445.0h0M107.6 430.9h0M107.0 436.2h0M101.4 426.3h0M117.1 433.4h0M103.0 429.1h0M110.0 438.9h0M111.8 437.9h0M98.9 441.2h0M92.4 439.7h0M114.1 442.0h0M108.8 443.0h0M104.4 448.9h0M110.8 429.6h0M111.5 427.8h0M107.0 438.8h0M113.7 437.5h0M101.5 433.4h0M95.2 443.9h0M108.0 438.5h0M99.8 435.3h0M88.1 435.0h0M90.6 436.6h0M106.3 434.8h0M111.0 431.2h0M104.3 448.7h0M102.3 439.2h0M107.8 427.5h0M111.4 428.9h0M107.8 430.5h0M107.9 443.5h0M92.1 429.9h0M99.8 430.0h0M99.5 446.1h0M97.5 435.1h0M92.0 442.0h0M104.7 441.4h0M103.2 428.8h0M94.9 435.1h0M98.8 432.7h0M111.8 430.5h0M95.0 434.4h0M93.6 429.6h0M114.3 434.4h0M91.4 443.0h0M106.6 434.5h0M108.0 443.5h0M93.9 440.0h0M92.1 432.2h0M92.9 444.0h0M96.5 449.1h0M87.9 441.2h0M89.0 434.9h0M90.4 431.7h0M110.8 433.5h0M89.8 434.7h0M114.9 445.3h0M96.0 440.4h0M106.7 450.2h0M98.6 449.7h0M101.3 434.7h0M95.0 448.5h0M114.3 431.0h0M98.4 437.3h0M113.1 445.3h0M111.4 437.8h0M101.4 447.7h0M106.5 449.0h0M98.0 433.6h0M117.5 438.2h0M93.0 441.4h0M88.1 436.9h0M106.3 443.9h0M95.2 430.8h0M110.5 440.6h0M98.4 429.1h0M112.7 432.0h0M91.1 437.3h0M109.8 435.0h0M101.8 434.8h0M104.9 427.8h0M94.6 428.5h0M91.9 439.9h0M87.3 440.6h0M100.6 429.3h0M107.5 439.7h0M110.0 438.5h0M95.8 440.0h0M91.5 443.0h0M97.4 433.2h0M98.6 432.4h0M97.4 426.3h0M107.6 431.5h0M88.8 432.4h0M111.9 445.6h0M114.0 446.4h0M108.1 436.7h0M91.2 442.6h0M63.3 423.9h0M60.0 426.5h0M61.6 425.6h0M60.3 425.8h0M73.2 500.0h0M74.4 476.1h0M60.6 492.4h0M68.3 495.5h0M63.1 487.1h0M91.5 477.9h0M87.1 481.9h0M45.4 487.3h0M54.9 483.2h0M80.4 488.5h0M54.8 501.9h0M85.4 493.7h0" stroke="#4eb3d3" stroke-width="2.05" stroke-linecap="round"/><path d="M50.6 503.2h0M76.8 472.0h0M82.0 476.6h0M56.4 502.4h0M81.3 480.5h0M79.3 474.1h0M68.5 498.6h0M67.5 474.3h0M69.4 492.2h0M47.7 502.5h0M51.2 503.5h0M96.5 478.2h0M68.6 488.0h0M58.7 506.7h0M56.2 500.8h0M77.7 501.9h0M63.9 485.1h0M92.1 484.2h0M85.2 501.6h0M88.7 491.1h0M58.5 483.0h0M77.9 481.7h0M46.6 497.3h0M78.9 494.9h0M62.1 486.3h0M80.5 498.4h0M83.9 482.4h0M77.7 505.6h0M83.0 478.7h0M45.7 486.7h0M94.6 476.7h0M72.4 483.8h0M48.5 501.5h0M47.1 486.6h0M73.4 485.4h0M51.1 483.7h0M52.0 502.9h0M86.0 473.5h0M67.2 491.2h0M71.2 499.8h0M84.0 483.1h0M76.1 489.6h0M87.3 499.2h0M64.5 503.9h0M67.4 501.1h0M81.8 473.1h0M94.4 488.6h0M73.7 478.7h0M56.5 494.9h0M85.6 484.3h0M50.7 485.6h0M65.2 476.6h0M46.4 488.5h0M43.0 490.6h0M79.9 496.9h0M89.9 477.1h0M77.2 487.5h0M93.6 488.1h0M94.6 481.2h0M85.3 498.0h0M75.6 475.0h0M77.4 480.6h0M72.3 480.4h0M59.1 479.5h0M57.7 491.5h0M62.1 485.0h0M68.2 484.8h0M65.9 494.0h0M57.5 494.7h0M85.9 497.5h0M53.0 503.9h0M78.5 500.7h0M62.4 501.8h0M92.2 485.7h0M47.6 493.0h0M91.0 495.2h0M87.0 489.1h0M51.7 505.3h0M41.9 491.5h0M66.8 491.9h0M70.8 498.2h0M41.6 496.6h0M77.6 492.9h0M71.2 502.5h0M76.3 471.9h0M48.0 503.0h0M95.2 479.3h0M61.2 484.2h0M41.2 497.3h0M95.2 497.4h0M88.8 496.4h0M59.9 486.9h0M43.5 493.1h0M75.6 503.2h0M65.5 486.9h0M85.3 476.2h0M92.6 482.0h0M82.2 477.2h0M51.0 486.6h0M81.8 478.7h0M93.6 494.5h0M92.8 495.3h0M81.2 498.3h0M79.2 478.8h0M71.1 490.5h0M59.7 491.3h0M93.6 491.5h0M44.1 500.2h0M78.1 493.4h0M90.9 497.3h0M68.7 482.5h0M54.2 503.8h0M46.4 487.6h0M56.9 479.9h0M74.9 480.3h0M77.4 482.1h0M76.2 505.8h0M52.2 487.8h0M65.5 477.7h0M92.9 486.5h0M59.8 481.2h0M64.9 496.4h0M50.0 484.3h0M61.8 483.9h0M88.3 488.7h0M45.9 490.2h0M89.8 483.2h0M92.9 480.3h0M79.6 504.1h0M51.5 500.5h0M53.4 493.6h0M55.7 483.9h0M57.1 499.2h0M70.9 485.7h0M76.6 488.7h0M49.5 483.5h0M64.7 496.5h0M58.1 487.0h0M63.9 505.1h0M58.7 494.2h0M74.6 497.5h0M75.2 479.8h0M47.9 488.5h0M78.6 480.2h0M51.7 495.1h0M89.0 500.4h0M79.8 491.7h0M80.1 502.7h0M76.1 505.6h0M61.6 486.2h0M74.4 485.3h0M73.9 480.9h0M54.3 480.2h0M63.6 504.1h0M76.2 496.3h0M60.6 477.8h0M82.1 476.6h0M66.3 483.1h0M57.5 502.2h0M51.7 491.2h0M49.2 487.2h0M59.0 487.3h0M52.7 494.6h0M51.8 488.5h0M73.0 503.4h0M92.4 495.7h0M54.1 496.5h0M85.9 476.6h0M52.2 487.1h0M76.1 499.6h0M55.7 481.8h0M95.7 492.0h0M71.3 500.0h0M95.3 485.1h0M46.3 500.8h0M52.3 491.6h0M69.0 498.5h0M55.0 500.8h0M63.1 493.3h0M74.8 475.3h0M70.8 489.7h0M60.4 497.6h0M82.6 502.9h0M73.5 480.2h0M53.1 504.9h0M61.8 488.4h0M76.8 477.8h0M77.7 474.9h0M86.4 488.4h0M48.3 498.5h0M84.8 473.1h0M73.6 494.4h0M50.3 503.0h0M58.9 503.4h0M96.6 478.9h0M56.3 486.5h0M92.5 480.9h0M91.6 486.4h0M81.3 491.3h0M61.4 501.0h0M59.6 498.3h0M61.2 485.6h0M62.4 501.9h0M54.6 485.5h0M80.8 481.0h0M57.8 495.5h0M50.9 486.5h0M81.4 491.1h0M83.4 483.8h0M87.8 486.2h0M85.3 482.3h0M68.4 481.9h0M69.5 501.4h0M88.5 493.0h0M54.4 494.5h0M67.6 492.0h0M44.2 498.2h0M89.7 473.5h0M46.4 503.0h0M62.5 477.5h0M88.7 490.1h0M52.3 500.6h0M70.7 492.5h0M59.0 500.4h0M75.9 503.9h0M53.6 495.5h0M72.5 476.5h0M93.3 498.5h0M81.9 492.1h0M83.8 495.3h0M72.1 476.5h0M87.6 482.3h0M93.0 475.9h0M85.2 483.0h0M71.1 491.2h0M65.7 498.9h0M54.2 482.3h0M81.3 504.1h0M81.7 497.6h0M89.4 493.4h0M54.7 498.2h0M67.4 479.5h0M88.8 486.0h0M80.6 501.2h0M66.2 483.9h0M51.2 485.7h0M80.9 475.5h0M83.5 503.0h0M53.5 491.5h0M43.1 489.9h0M45.3 487.1h0M90.4 497.3h0M91.3 477.4h0M59.0 480.8h0M68.9 503.3h0M46.3 492.9h0M67.0 501.2h0M67.8 497.7h0M54.0 493.2h0M48.2 495.2h0M81.4 490.0h0M77.2 502.1h0M48.8 492.0h0M93.7 497.1h0M66.2 497.3h0M52.9 483.6h0M67.9 486.0h0M48.7 492.4h0M91.5 484.4h0M71.0 484.6h0M81.5 475.6h0M93.6 482.5h0M44.9 498.3h0M47.5 502.9h0M81.6 495.5h0M77.6 497.6h0M67.1 496.7h0M80.1 492.2h0M80.6 498.3h0M86.8 476.0h0M64.0 481.2h0M74.2 494.3h0M72.8 482.0h0M95.8 487.6h0M47.6 488.9h0M85.5 486.5h0M95.0 480.9h0M94.1 494.9h0M94.6 486.9h0M85.6 495.6h0M50.7 492.0h0M42.3 497.0h0M79.3 503.1h0M54.4 494.1h0M68.5 488.3h0M78.8 474.6h0M56.6 507.2h0M97.8 486.0h0M56.8 500.5h0M95.4 491.4h0M82.7 494.8h0M95.0 478.8h0M88.1 474.4h0M73.3 473.0h0M74.7 481.6h0M90.4 496.3h0M83.9 486.6h0M68.9 478.6h0M73.6 491.5h0M53.7 480.9h0M77.0 505.1h0M68.0 484.1h0M76.2 472.8h0M96.0 496.3h0M64.8 485.0h0M83.5 503.4h0M66.0 483.0h0M75.5 477.6h0M95.7 489.0h0M55.0 505.6h0M72.3 481.3h0M93.2 476.5h0M53.8 493.0h0M73.3 477.7h0M70.3 488.9h0M86.2 471.7h0M65.6 505.9h0M89.8 475.4h0M90.4 477.7h0M81.9 488.9h0M64.9 482.1h0M85.5 475.2h0M59.9 499.0h0M53.4 492.7h0M56.6 501.1h0M79.1 482.5h0M61.1 504.1h0M80.2 492.8h0M77.1 478.0h0M82.5 485.2h0M61.7 500.2h0M73.4 494.8h0M98.0 489.5h0M68.7 476.4h0M59.8 494.8h0M71.7 495.9h0M43.4 501.0h0M61.0 478.8h0M71.9 502.8h0M72.5 499.3h0M44.0 501.2h0M89.5 498.1h0M54.1 493.3h0M83.9 486.6h0M58.1 492.9h0M94.8 478.9h0M63.4 498.3h0M77.1 500.8h0M69.8 495.2h0M68.2 489.7h0M59.1 479.7h0M57.0 487.5h0M97.8 482.7h0M71.1 472.3h0M76.6 476.7h0M62.2 490.2h0M60.4 485.8h0M94.4 495.7h0M56.3 499.8h0M58.1 491.0h0M81.4 498.5h0M65.2 484.7h0M46.9 490.0h0M43.0 498.3h0M79.5 470.8h0M68.7 479.0h0M85.9 485.6h0M75.3 496.0h0M90.5 500.2h0M67.8 474.2h0M51.8 497.8h0M84.4 498.4h0M56.7 480.4h0M54.0 499.3h0M82.0 494.0h0M82.2 490.4h0M51.5 490.5h0M65.2 502.3h0M74.4 471.8h0M56.7 485.2h0M55.5 480.3h0M53.5 501.6h0M68.8 490.3h0M74.7 495.4h0M39.9 494.2h0M65.9 497.9h0M47.4 497.1h0M87.1 484.6h0M60.1 491.4h0M53.7 482.6h0M67.3 487.0h0M84.5 485.7h0M69.4 488.9h0M85.8 486.7h0M81.7 486.8h0M64.6 483.1h0M71.7 488.0h0M69.5 487.4h0M82.6 478.8h0M65.9 487.6h0M66.6 485.0h0M77.8 489.7h0M70.4 491.4h0M82.5 490.0h0M82.1 482.2h0M78.4 477.3h0M65.2 489.6h0M64.0 485.0h0M71.0 482.1h0M74.2 478.4h0M79.3 476.5h0M71.9 490.0h0M85.1 484.8h0M66.8 486.4h0M75.2 490.4h0M83.3 485.6h0M67.4 483.5h0M70.2 490.1h0M82.1 477.1h0M70.5 485.2h0M85.3 483.6h0M63.8 488.7h0M83.3 488.0h0M79.2 480.4h0M74.1 484.5h0M63.7 480.2h0M75.1 481.3h0M66.0 485.5h0M74.6 491.1h0M82.1 478.4h0M80.3 477.1h0M67.6 478.4h0M78.3 487.2h0M78.4 490.1h0M67.1 479.8h0M79.2 486.0h0M74.1 483.0h0M76.5 477.7h0M69.1 488.9h0M66.6 487.1h0M78.9 483.1h0M63.1 480.0h0M68.2 478.8h0M82.5 478.8h0M72.0 478.9h0M73.2 482.3h0M82.4 489.7h0M62.4 481.6h0M63.1 480.6h0M62.8 488.3h0M103.9 492.5h0M108.3 495.5h0M106.9 493.1h0M107.6 493.7h0M101.6 492.7h0M102.6 492.8h0M110.5 492.6h0M108.7 492.7h0M102.3 492.8h0M111.6 493.2h0M103.2 491.9h0M108.9 494.5h0M102.8 493.5h0M106.3 490.5h0M80.3 509.8h0M83.0 510.2h0M80.0 508.1h0M82.8 509.9h0M81.8 512.0h0M80.9 511.4h0M80.6 512.3h0M78.3 508.3h0M77.5 507.8h0M74.2 511.4h0M79.8 511.7h0M77.4 509.7h0M78.7 512.7h0M80.6 511.5h0M79.3 509.6h0M79.0 508.0h0M78.4 509.1h0M77.4 512.4h0M82.7 509.1h0M82.3 509.4h0M82.5 511.0h0M73.0 511.3h0M74.1 510.8h0M74.5 512.4h0M138.2 434.6h0M91.9 412.0h0M128.9 422.2h0M124.2 445.3h0M98.7 411.1h0M143.7 411.2h0M115.0 407.6h0M131.0 442.9h0M121.5 435.2h0M103.5 432.4h0M89.9 439.2h0M93.7 442.3h0M143.0 443.6h0M76.9 436.7h0M149.3 425.6h0M152.3 432.1h0" stroke="#d33c2e" stroke-width="2.05" stroke-linecap="round"/><rect x="34.4" y="392.3" width="131.4" height="127.2" fill="none" stroke="#3a3a3a" stroke-width="0.9"/><text x="100.1" y="390.3" font-size="8.2" fill="#111" text-anchor="middle" font-family="Liberation Sans, sans-serif">DGCR8_HEK293T</text><text x="100.1" y="527.0" font-size="8.7" fill="#111" text-anchor="middle" font-family="Liberation Sans, sans-serif">HDRNet</text><rect x="38.5" y="396.3" width="58.8" height="25.1" rx="1.6" fill="#fff" fill-opacity="0.8" stroke="#444" stroke-width="0.8"/><circle cx="49.0" cy="403.1" r="0.95" fill="#4eb3d3"/><circle cx="49.0" cy="414.8" r="0.95" fill="#d33c2e"/><text x="62.8" y="404.8" font-size="8" fill="#111" font-family="Liberation Sans, sans-serif">Negative</text><text x="62.8" y="416.4" font-size="8" fill="#111" font-family="Liberation Sans, sans-serif">Positive</text><path d="M260.1 467.7h0M285.7 458.5h0M262.4 463.5h0M238.4 465.1h0M256.1 485.5h0M245.6 469.5h0M289.3 489.7h0M241.5 463.0h0M304.8 465.9h0M299.0 468.3h0M283.2 457.3h0M224.3 492.3h0M270.9 476.0h0M274.1 459.0h0M222.8 475.9h0M303.8 495.3h0M261.8 480.7h0M221.1 470.0h0M299.3 481.5h0M246.2 486.9h0M217.4 473.3h0M239.7 508.2h0M238.5 469.3h0M296.7 479.2h0M261.2 486.0h0M224.1 497.4h0M232.0 500.9h0M228.6 493.2h0M209.0 481.6h0M238.2 493.9h0M238.5 469.4h0M255.1 472.1h0M236.0 504.5h0M222.4 466.3h0M292.8 475.2h0M209.7 486.5h0M220.4 478.3h0M257.9 491.0h0M266.6 511.5h0M272.2 505.5h0M232.4 488.3h0M243.9 513.3h0M300.4 491.1h0M240.3 506.2h0M252.5 501.7h0M239.9 507.8h0M266.1 488.8h0M232.6 493.7h0M229.5 491.3h0M254.8 507.7h0M285.6 501.9h0M287.9 455.3h0M297.0 477.0h0M250.1 494.0h0M300.4 464.6h0M257.7 470.0h0M281.7 481.4h0M253.8 473.9h0M297.9 455.6h0M240.6 507.3h0M304.4 491.1h0M244.9 493.7h0M283.5 472.3h0M204.5 483.7h0M294.1 492.4h0M218.8 473.0h0M292.6 464.5h0M226.7 470.5h0M303.3 461.6h0M295.9 504.0h0M254.9 497.7h0M271.0 487.2h0M264.6 468.6h0M275.6 491.3h0M220.0 499.8h0M282.7 481.0h0M235.2 489.5h0M215.9 489.2h0M303.0 462.3h0M296.1 470.1h0M242.3 497.0h0M291.1 477.4h0M287.8 484.4h0M289.4 460.5h0M287.1 469.1h0M267.0 491.5h0M254.2 498.7h0M256.3 514.2h0M298.9 497.6h0M223.8 501.2h0M299.6 455.2h0M226.3 473.6h0M261.2 460.0h0M270.4 466.0h0M233.4 481.8h0M240.7 505.9h0M261.5 468.8h0M245.8 465.1h0M230.4 489.7h0M306.4 497.6h0M267.6 492.0h0M265.8 477.6h0M241.2 473.2h0M275.3 464.6h0M253.0 497.7h0M255.0 490.1h0M262.6 468.1h0M230.9 494.3h0M253.5 487.1h0M302.0 460.5h0M223.9 489.0h0M265.9 492.5h0M235.7 485.4h0M261.2 494.3h0M237.8 469.3h0M297.9 460.8h0M255.3 502.6h0M260.5 488.1h0M277.7 503.0h0M251.7 481.1h0M267.1 503.0h0M216.6 472.5h0M239.1 484.9h0M231.3 481.7h0M255.0 459.3h0M249.1 508.6h0M263.2 506.0h0M289.2 476.7h0M264.5 509.7h0M299.7 460.9h0M268.2 487.6h0M305.0 467.0h0M265.3 510.8h0M291.6 504.2h0M246.0 467.0h0M217.1 476.8h0M275.4 502.1h0M260.9 494.5h0M262.7 471.7h0M248.2 476.5h0M281.1 465.4h0M258.4 512.6h0M282.8 460.1h0M286.3 465.7h0M265.0 456.7h0M286.9 481.2h0M277.3 492.4h0M298.8 503.7h0M208.0 481.3h0M282.5 458.0h0M246.7 470.9h0M280.9 498.0h0M237.9 492.0h0M299.7 503.9h0M268.1 463.9h0M227.1 493.0h0M303.0 465.5h0M251.8 490.5h0M234.3 485.0h0M283.2 488.0h0M240.8 475.2h0M304.5 490.1h0M302.6 478.5h0M288.6 489.4h0M248.2 490.4h0M228.1 487.4h0M255.6 494.2h0M292.7 501.4h0M274.3 460.5h0M289.3 503.7h0M240.2 470.5h0M282.6 461.9h0M227.6 480.3h0M221.2 469.1h0M290.6 501.4h0M274.2 488.2h0M228.3 466.6h0M265.1 467.9h0M238.8 507.0h0M300.6 496.1h0M239.7 471.4h0M222.6 474.6h0M228.7 491.5h0M212.0 485.6h0M292.5 502.5h0M265.5 472.8h0M256.1 506.4h0M301.1 494.0h0M263.3 469.1h0M223.8 502.6h0M304.3 469.7h0M277.8 477.4h0M274.3 499.3h0M284.7 507.6h0M274.7 464.1h0M279.8 470.6h0M272.7 507.7h0M215.4 498.6h0M286.1 466.1h0M294.4 485.0h0M209.8 483.0h0M264.0 463.6h0M241.5 468.3h0M306.1 497.5h0M213.5 488.1h0M262.9 474.6h0M251.6 496.3h0M303.2 492.4h0M270.8 469.5h0M289.3 488.0h0M278.3 475.8h0M284.7 482.0h0M278.4 482.9h0M223.6 472.2h0M222.4 466.9h0M242.5 498.6h0M242.8 494.7h0M235.1 471.9h0M276.9 505.5h0M269.1 486.9h0M258.7 513.9h0M271.7 487.5h0M273.0 488.6h0M269.1 478.5h0M268.2 479.0h0M249.5 488.2h0M245.0 466.3h0M265.4 494.7h0M256.4 480.6h0M278.6 491.1h0M216.6 475.2h0M241.0 502.5h0M247.0 506.4h0M300.7 482.5h0M226.8 492.9h0M268.6 510.0h0M255.3 475.3h0M292.8 463.9h0M235.6 487.1h0M255.8 467.9h0M271.9 469.6h0M282.6 508.1h0M302.1 454.5h0M228.3 468.1h0M274.5 477.9h0M253.6 477.9h0M283.2 469.5h0M299.9 457.2h0M300.5 485.1h0M298.6 478.9h0M236.0 465.9h0M248.1 480.7h0M251.1 493.5h0M233.0 508.1h0M266.7 489.5h0M235.2 505.6h0M243.8 472.0h0M234.6 482.8h0M242.9 486.1h0M288.7 469.6h0M223.1 497.7h0M224.1 491.0h0M215.3 489.5h0M275.8 469.0h0M298.8 475.0h0M274.6 473.0h0M269.9 472.5h0M230.7 479.1h0M304.1 486.9h0M267.8 459.9h0M299.5 493.6h0M224.8 485.0h0M265.0 513.4h0M250.4 500.4h0M238.5 497.8h0M232.0 485.8h0M290.2 482.8h0M235.7 485.4h0M258.9 495.7h0M303.0 458.8h0M236.8 469.5h0M243.8 471.0h0M219.0 485.9h0M286.8 455.2h0M274.4 482.2h0M277.1 460.1h0M280.5 502.0h0M286.8 484.9h0M227.0 471.7h0M298.2 466.5h0M253.2 473.7h0M280.7 482.2h0M229.8 468.9h0M208.7 485.2h0M299.6 455.4h0M259.5 476.7h0M225.8 498.0h0M231.8 497.9h0M239.7 504.4h0M285.0 501.6h0M248.9 493.9h0M249.6 476.0h0M287.5 481.5h0M291.9 501.1h0M273.1 512.2h0M300.0 501.4h0M233.6 504.6h0M217.4 482.5h0M306.1 487.7h0M297.6 501.6h0M307.4 495.8h0M262.0 509.2h0M273.4 467.5h0M297.1 497.2h0M239.9 509.9h0M246.2 491.8h0M282.1 494.5h0M272.7 495.4h0M288.4 482.1h0M291.1 497.3h0M288.0 489.2h0M276.0 460.3h0M230.9 474.7h0M220.5 482.5h0M235.4 481.7h0M270.4 484.6h0M277.4 463.4h0M266.3 458.4h0M209.3 488.4h0M265.0 500.0h0M273.6 466.8h0M272.9 493.7h0M247.3 495.3h0M251.0 511.8h0M251.0 465.9h0M306.0 499.7h0M266.0 481.1h0M257.1 460.8h0M272.9 467.4h0M250.8 467.9h0M213.9 497.4h0M233.0 483.4h0M296.3 506.6h0M253.5 469.1h0M303.6 461.3h0M232.6 501.9h0M287.2 494.0h0M267.3 501.1h0M254.5 463.9h0M228.6 504.0h0M266.3 475.8h0M237.6 464.2h0M252.1 491.2h0M221.1 490.5h0M250.4 467.6h0M285.3 511.4h0M244.9 472.9h0M264.9 498.4h0M240.3 495.2h0M277.3 460.8h0M302.1 466.0h0M278.9 462.0h0M255.6 485.0h0M301.8 493.8h0M263.4 485.4h0M268.1 486.2h0M291.5 460.6h0M271.2 458.4h0M258.8 514.2h0M302.6 467.9h0M270.3 461.8h0M307.0 492.5h0M251.3 474.2h0M271.6 506.4h0M301.8 498.2h0M288.6 478.8h0M220.2 501.1h0M266.1 495.4h0M280.2 508.9h0M227.4 497.5h0M254.0 496.4h0M294.5 461.5h0M295.4 458.8h0M270.0 474.4h0M263.2 513.5h0M255.2 500.5h0M230.4 482.3h0M291.3 506.2h0M279.2 492.5h0M259.6 488.7h0M279.4 480.1h0M235.6 485.4h0M239.8 466.3h0M235.5 498.9h0M275.3 485.2h0M266.3 484.4h0M249.3 507.4h0M262.0 482.7h0M250.3 504.3h0M266.4 456.6h0M254.6 500.3h0M304.4 493.5h0M251.9 478.2h0M225.3 467.4h0M269.1 483.5h0M215.6 486.1h0M278.4 491.1h0M238.6 511.0h0M229.4 489.8h0M233.4 471.8h0M263.2 507.3h0M231.8 501.1h0M299.1 497.1h0M241.1 484.2h0M251.0 490.2h0M258.5 468.9h0M291.4 467.0h0M219.0 478.3h0M225.0 486.8h0M305.0 486.2h0M209.1 493.6h0M215.5 484.3h0M291.4 455.0h0M304.7 495.7h0M296.8 458.4h0M222.8 477.3h0M251.5 497.6h0M232.5 494.9h0M279.0 460.9h0M274.5 499.2h0M258.1 486.4h0M224.2 469.4h0M287.6 504.3h0M284.2 464.3h0M245.7 464.5h0M252.9 472.4h0M264.9 474.5h0M237.8 472.1h0M270.3 492.8h0M205.5 483.2h0M238.1 494.9h0M235.0 486.3h0M277.6 478.0h0M290.2 472.2h0M229.3 472.3h0M217.8 496.4h0M278.4 486.1h0M233.7 481.3h0M265.1 501.3h0M271.4 494.4h0M277.4 476.8h0M266.8 471.9h0M218.9 482.0h0M295.0 506.4h0M243.1 494.5h0M303.5 465.5h0M280.6 464.9h0M225.4 489.9h0M285.4 489.7h0M233.5 468.4h0M209.5 478.8h0M253.7 469.1h0M295.0 504.8h0M217.8 483.4h0M285.6 486.9h0M225.9 469.2h0M221.8 469.0h0M236.2 506.6h0M272.6 486.5h0M232.1 471.2h0M252.1 512.2h0M262.9 464.4h0M282.1 462.9h0M260.5 481.0h0M253.5 472.4h0M294.0 497.2h0M285.0 455.3h0M305.5 490.7h0M213.4 476.8h0M270.4 482.3h0M238.4 469.8h0M292.3 493.2h0M291.7 469.4h0M285.7 480.3h0M276.4 510.1h0M271.9 479.0h0M278.6 500.3h0M252.9 490.2h0M248.9 508.1h0M266.1 496.8h0M267.2 471.5h0M285.6 491.1h0M277.1 496.4h0M206.9 479.6h0M277.5 511.3h0M244.4 512.5h0M285.3 470.0h0M274.8 506.6h0M232.5 502.7h0M257.4 503.1h0M270.0 504.7h0M290.2 457.0h0M263.8 472.4h0M257.5 509.8h0M231.3 472.0h0M227.3 491.4h0M227.9 498.8h0M266.9 471.5h0M289.8 467.2h0M288.7 480.2h0M212.1 489.0h0M300.9 460.2h0M269.1 467.2h0M222.4 485.2h0M250.8 473.0h0M257.2 510.9h0M235.6 476.6h0M290.9 495.8h0M217.5 493.1h0M231.5 467.5h0M212.4 482.2h0M285.4 485.1h0M250.9 500.6h0M222.6 480.8h0M250.2 494.6h0M288.7 455.2h0M304.3 467.1h0M257.4 506.1h0M227.0 490.5h0M263.1 511.0h0M252.1 481.6h0M251.2 484.2h0M215.9 482.4h0M228.0 489.1h0M215.4 481.2h0M272.8 479.5h0M288.7 481.6h0M230.0 497.7h0M228.2 466.4h0M303.2 481.1h0M246.0 513.7h0M226.3 496.2h0M218.5 489.4h0M258.2 462.8h0M250.2 508.4h0M291.0 474.9h0M242.9 492.3h0M262.3 472.6h0M221.3 472.5h0M282.6 461.2h0M232.9 498.7h0M229.8 486.4h0M299.8 473.6h0M230.3 471.0h0M209.5 487.6h0M278.9 514.9h0M303.3 475.5h0M271.6 461.9h0M259.7 510.1h0M254.6 476.5h0M283.3 457.4h0M223.7 499.6h0M231.0 483.3h0M228.7 471.9h0M233.3 465.2h0M259.0 490.0h0M294.9 498.6h0M243.0 476.6h0M258.4 460.6h0M247.4 478.5h0M263.2 460.2h0M212.3 476.3h0M274.1 508.4h0M282.9 470.9h0M267.6 504.6h0M269.0 480.1h0M251.1 462.1h0M290.3 509.1h0M235.9 500.8h0M256.8 476.0h0M282.0 482.4h0M299.9 490.5h0M289.4 475.0h0M246.3 505.2h0M284.3 490.2h0M235.6 505.8h0M286.3 503.6h0M235.5 471.0h0M287.9 506.3h0M261.2 509.6h0M284.7 496.0h0M277.7 492.9h0M282.2 460.1h0M268.6 486.0h0M282.2 498.7h0M249.5 508.3h0M291.9 481.2h0M274.4 484.5h0M295.2 470.6h0M293.8 466.9h0M253.9 469.7h0M274.5 482.5h0M270.1 461.9h0M217.2 494.7h0M234.7 481.8h0M263.8 511.9h0M293.7 492.9h0M248.9 467.3h0M222.3 477.5h0M289.5 508.6h0M291.7 488.5h0M230.0 481.4h0M217.6 489.7h0M269.1 505.7h0M292.8 499.2h0M283.1 478.5h0M249.5 471.7h0M262.2 501.3h0M274.2 508.9h0M290.0 459.0h0M249.2 460.0h0M232.0 458.2h0M237.0 457.4h0M233.8 462.3h0M249.2 455.3h0M245.2 463.7h0M239.6 460.6h0M241.9 460.1h0M239.3 454.6h0M234.3 459.6h0M238.7 459.2h0M252.8 458.2h0M240.8 453.7h0M238.7 462.7h0M231.7 460.3h0M245.5 462.7h0M228.5 460.0h0M252.0 459.5h0M232.6 456.1h0M235.7 462.2h0" stroke="#4eb3d3" stroke-width="2.05" stroke-linecap="round"/><path d="M301.4 427.1h0M249.2 448.5h0M220.3 463.6h0M232.8 453.8h0M300.8 421.0h0M223.5 458.4h0M307.9 424.1h0M275.1 430.8h0M267.6 445.4h0M256.9 440.9h0M287.6 433.5h0M262.8 449.4h0M280.5 431.7h0M272.4 425.0h0M274.3 426.9h0M295.4 414.6h0M310.7 422.9h0M278.1 440.4h0M291.4 430.5h0M273.3 443.3h0M297.9 412.9h0M296.1 413.5h0M311.4 417.9h0M280.2 422.5h0M266.4 439.0h0M296.6 399.5h0M289.1 442.7h0M292.3 429.3h0M316.6 418.5h0M282.0 429.2h0M298.8 416.6h0M292.6 436.4h0M290.7 403.4h0M247.4 445.8h0M260.5 439.0h0M283.5 432.3h0M274.7 432.3h0M267.8 433.6h0M270.0 443.9h0M288.6 420.1h0M249.7 445.5h0M268.6 434.0h0M261.6 448.0h0M279.4 427.2h0M299.7 404.2h0M295.2 408.0h0M258.8 450.9h0M253.6 453.1h0M307.2 413.5h0M293.9 403.6h0M287.6 427.4h0M292.6 403.4h0M286.1 428.0h0M308.5 423.7h0M305.3 412.9h0M306.1 422.9h0M299.8 417.8h0M293.5 409.7h0M274.3 438.8h0M293.5 429.7h0M256.9 447.5h0M268.5 440.6h0M288.6 411.2h0M295.2 398.2h0M274.1 438.8h0M241.9 449.1h0M281.3 440.8h0M221.5 462.7h0M274.7 438.8h0M269.6 430.8h0M274.8 440.1h0M266.2 435.0h0M280.3 446.2h0M250.4 447.5h0M305.5 416.1h0M283.8 426.8h0M299.5 416.2h0M286.2 419.6h0M290.8 432.2h0M254.1 442.4h0M258.1 449.7h0M278.5 426.9h0M296.9 407.8h0M291.7 433.3h0M256.5 444.8h0M239.9 451.6h0M263.0 437.1h0M247.7 447.2h0M272.5 445.5h0M288.9 414.9h0M273.9 442.6h0M259.6 435.7h0M291.0 437.2h0M295.0 416.1h0M261.3 451.8h0M271.9 446.4h0M247.1 452.6h0M229.3 461.6h0M223.4 464.5h0M262.0 437.4h0M233.8 453.2h0M291.5 438.1h0M271.5 440.3h0M276.0 437.8h0M263.2 436.0h0M309.6 423.1h0M316.7 417.9h0M299.1 429.3h0M286.8 444.4h0M246.4 443.2h0M250.7 447.7h0M263.5 444.9h0M233.2 458.1h0M268.8 435.4h0M313.2 420.4h0M289.6 442.2h0M289.8 428.4h0M293.8 430.8h0M250.8 442.9h0M222.0 463.0h0M311.9 419.6h0M246.0 452.8h0M261.6 449.5h0M246.9 445.0h0M318.4 417.9h0M262.8 442.2h0M246.3 450.8h0M224.2 461.3h0M289.0 413.4h0M290.2 406.5h0M272.7 439.0h0M281.9 429.1h0M230.6 454.3h0M260.9 441.7h0M250.9 454.3h0M292.8 415.4h0M264.0 451.4h0M315.3 416.7h0M284.8 428.9h0M275.9 425.6h0M299.6 423.1h0M307.4 420.7h0M262.0 446.3h0M299.5 424.2h0M275.8 428.4h0M306.8 415.3h0M272.9 432.5h0M305.4 416.5h0M288.9 415.1h0M229.3 462.2h0M301.5 427.5h0M274.1 434.8h0M286.8 407.4h0M231.9 455.7h0M295.0 399.5h0M268.2 442.7h0M225.8 462.4h0M290.3 438.8h0M288.1 435.2h0M260.0 443.7h0M281.3 429.3h0M286.0 416.3h0M269.5 441.6h0M275.1 424.4h0M280.9 440.7h0M294.4 403.6h0M272.2 447.6h0M258.8 450.8h0M288.5 435.6h0M259.4 450.1h0M272.6 430.2h0M309.7 421.1h0M277.5 443.4h0M225.7 462.8h0M253.9 444.8h0M252.4 445.5h0M250.5 445.4h0M250.6 441.1h0M267.0 443.2h0M254.2 446.9h0M315.3 414.3h0M265.0 433.6h0M291.2 427.4h0M290.3 404.7h0M291.3 432.2h0M275.4 430.7h0M238.8 457.7h0M286.4 428.6h0M282.8 430.7h0M289.1 401.6h0M314.0 417.2h0M250.2 443.6h0M226.1 458.7h0M305.7 420.2h0M246.6 447.1h0M293.3 429.3h0M231.9 454.8h0M271.0 435.4h0M291.5 407.6h0M247.1 444.4h0M291.1 410.7h0M299.0 412.5h0M306.3 423.6h0M305.5 422.8h0M276.4 438.9h0M267.8 436.2h0M233.4 453.2h0M300.2 409.2h0M277.6 443.2h0M276.1 448.6h0M287.0 420.9h0M296.5 429.2h0M228.8 461.0h0M246.3 447.3h0M243.3 445.9h0M260.7 435.8h0M292.7 405.9h0M280.1 446.2h0M301.9 427.3h0M310.7 421.4h0M276.1 422.7h0M289.8 405.1h0M292.2 413.8h0M292.2 441.6h0M253.1 439.9h0M301.8 426.9h0M293.1 426.7h0M270.3 432.8h0M286.7 435.1h0M286.2 443.3h0M257.6 449.1h0M288.9 443.4h0M287.4 432.6h0M240.1 451.8h0M244.8 448.0h0M229.5 457.2h0M291.6 407.0h0M307.6 416.9h0M317.7 417.4h0M275.5 439.2h0M298.4 424.0h0M231.2 453.9h0M242.8 445.9h0M229.3 461.0h0M291.6 414.5h0M268.2 440.3h0M294.1 437.2h0M277.9 442.5h0M283.0 433.0h0M282.7 428.0h0M286.1 419.3h0M290.7 435.4h0M245.4 450.2h0M246.7 445.9h0M311.1 420.7h0M290.6 404.2h0M295.3 414.6h0M259.9 436.7h0M317.8 416.7h0M284.0 427.1h0M296.2 424.2h0M265.7 434.7h0M279.8 419.8h0M308.5 417.0h0M273.8 445.5h0M298.0 399.3h0M300.0 405.4h0M243.4 448.6h0M289.4 413.7h0M313.4 419.3h0M281.3 446.1h0M272.4 428.2h0M287.9 403.5h0M251.7 445.0h0M266.5 446.8h0M295.4 428.3h0M279.2 441.6h0M267.1 447.1h0M277.5 445.5h0M282.9 418.4h0M299.5 400.5h0M269.1 448.5h0M280.1 423.1h0M242.0 448.8h0M289.5 442.1h0M273.3 449.9h0M289.2 405.0h0M298.8 413.6h0M320.4 415.2h0M285.4 428.3h0M254.3 445.9h0M295.2 426.4h0M293.9 437.7h0M278.3 446.9h0M269.8 435.7h0M255.7 443.6h0M305.5 413.5h0M281.1 443.1h0M286.3 425.3h0M305.4 414.1h0M304.8 418.4h0M227.3 456.0h0M293.9 416.3h0M264.9 445.2h0M276.6 428.3h0M263.5 434.3h0M285.0 416.2h0M302.5 416.0h0M305.4 418.1h0M296.0 410.0h0M280.3 439.4h0M312.7 417.4h0M290.0 427.3h0M294.8 410.2h0M259.7 439.4h0M286.0 436.2h0M306.3 424.3h0M232.2 454.8h0M283.8 427.4h0M296.4 427.1h0M265.3 449.9h0M281.0 438.3h0M299.5 415.8h0M259.1 441.3h0M273.0 441.6h0M314.9 416.2h0M294.2 434.2h0M262.8 442.8h0M257.6 445.2h0M287.8 422.0h0M297.1 409.7h0M296.9 410.4h0M294.2 398.9h0M295.9 404.2h0M292.1 402.1h0M296.5 402.4h0M292.6 407.5h0M287.4 408.3h0M290.5 410.4h0M287.5 405.7h0M292.4 399.0h0M288.6 410.5h0M290.1 406.0h0M297.9 408.3h0M291.9 404.7h0M296.7 407.7h0M300.6 406.1h0M298.8 404.1h0M295.8 405.4h0M292.9 405.6h0M297.6 410.3h0M286.9 401.0h0M289.0 400.7h0M292.6 406.8h0M287.1 409.4h0M285.9 403.6h0M293.9 401.3h0M291.5 411.4h0M296.5 405.9h0M295.3 412.3h0M297.2 400.7h0M293.2 409.1h0M294.1 401.5h0M293.9 402.9h0M287.3 404.0h0M296.1 409.7h0M295.0 400.6h0M296.0 411.0h0M299.9 403.7h0M298.3 407.3h0M300.8 405.3h0M299.2 402.7h0M291.5 409.6h0M297.2 409.8h0M291.4 401.2h0M294.1 406.2h0M295.0 407.8h0M296.5 406.2h0M296.7 401.1h0M288.3 407.1h0M253.4 491.8h0M246.9 467.1h0M273.7 483.0h0M295.9 504.0h0M254.3 474.6h0M282.7 485.9h0M283.1 460.1h0M223.7 490.0h0M269.2 461.9h0M258.8 502.2h0M261.1 472.5h0M295.0 470.6h0M284.1 484.3h0M220.4 484.3h0M282.5 496.9h0M300.9 484.0h0M265.6 499.2h0M265.9 505.6h0M301.2 462.9h0M267.6 474.3h0M243.9 508.0h0M229.2 501.4h0M277.1 511.0h0M216.3 486.6h0M275.7 472.2h0M291.2 493.5h0M299.1 471.8h0M288.3 460.1h0M233.9 477.2h0M270.7 474.9h0" stroke="#d33c2e" stroke-width="2.05" stroke-linecap="round"/><rect x="196.1" y="392.3" width="131.0" height="127.3" fill="none" stroke="#3a3a3a" stroke-width="0.9"/><text x="261.6" y="390.3" font-size="8.2" fill="#111" text-anchor="middle" font-family="Liberation Sans, sans-serif">DGCR8_HEK293T</text><text x="261.6" y="527.1" font-size="8.7" fill="#111" text-anchor="middle" font-family="Liberation Sans, sans-serif">PrismNet</text><rect x="200.2" y="396.3" width="58.8" height="25.1" rx="1.6" fill="#fff" fill-opacity="0.8" stroke="#444" stroke-width="0.8"/><circle cx="210.7" cy="403.1" r="0.95" fill="#4eb3d3"/><circle cx="210.7" cy="414.8" r="0.95" fill="#d33c2e"/><text x="224.5" y="404.8" font-size="8" fill="#111" font-family="Liberation Sans, sans-serif">Negative</text><text x="224.5" y="416.4" font-size="8" fill="#111" font-family="Liberation Sans, sans-serif">Positive</text><path d="M80.7 613.3h0M74.8 612.9h0M76.7 656.3h0M103.7 601.2h0M126.2 619.9h0M72.4 626.0h0M85.1 608.1h0M124.7 631.9h0M51.8 627.3h0M48.5 623.6h0M117.6 584.0h0M91.9 638.5h0M116.5 582.7h0M121.7 584.4h0M122.6 613.2h0M69.4 620.4h0M53.3 619.7h0M134.2 614.5h0M79.4 609.1h0M107.7 588.9h0M96.6 597.8h0M82.1 598.2h0M94.5 614.7h0M121.2 640.3h0M109.9 627.6h0M68.1 624.8h0M86.9 662.2h0M94.3 608.2h0M54.5 629.0h0M108.5 571.3h0M130.5 595.6h0M79.2 597.7h0M139.6 617.7h0M98.9 593.5h0M101.1 610.1h0M73.7 623.3h0M129.8 640.8h0M123.9 676.0h0M82.4 631.5h0M114.8 617.9h0M91.9 660.6h0M102.2 573.9h0M139.6 627.9h0M98.3 606.7h0M93.4 622.4h0M75.3 633.7h0M139.1 603.9h0M105.5 595.5h0M142.3 615.3h0M52.7 619.4h0M115.9 607.6h0M103.1 664.3h0M137.7 600.5h0M64.1 618.6h0M78.6 646.2h0M108.3 609.9h0M116.0 636.1h0M128.2 627.1h0M97.8 574.3h0M78.2 619.6h0M107.8 582.3h0M92.9 613.5h0M96.0 635.2h0M142.9 609.1h0M118.1 595.9h0M98.1 618.4h0M123.0 595.3h0M70.9 598.9h0M102.7 628.7h0M136.3 603.9h0M108.7 576.0h0M96.0 613.1h0M69.1 613.6h0M96.3 603.3h0M144.4 632.9h0M131.0 666.4h0M78.8 603.4h0M133.1 612.2h0M121.9 664.1h0M134.9 592.2h0M101.4 602.8h0M98.2 647.2h0M115.4 652.5h0M131.1 625.0h0M123.8 645.5h0M99.7 586.1h0M82.5 613.7h0M148.8 633.2h0M97.6 586.4h0M109.3 662.2h0M82.4 599.4h0M73.6 616.1h0M134.4 630.7h0M109.0 594.6h0M111.4 646.2h0M122.9 592.8h0M109.4 598.2h0M82.5 602.6h0M101.9 572.6h0M111.3 655.3h0M126.0 665.1h0M121.4 585.6h0M72.4 631.0h0M108.0 583.2h0M156.6 613.1h0M133.1 634.8h0M81.1 616.8h0M94.0 608.8h0M101.3 649.9h0M82.2 591.6h0M91.8 594.6h0M73.0 644.1h0M103.6 595.7h0M82.3 592.5h0M120.6 613.2h0M98.7 580.9h0M50.3 622.2h0M111.2 642.6h0M103.6 569.1h0M128.4 640.0h0M125.6 677.3h0M105.8 584.4h0M114.5 607.9h0M98.5 584.0h0M108.1 599.8h0M151.5 614.3h0M88.1 594.2h0M126.5 606.2h0M139.5 630.1h0M130.9 589.2h0M95.5 595.2h0M117.8 639.4h0M98.1 603.2h0M67.6 633.4h0M127.4 642.6h0M88.7 655.9h0M142.2 611.0h0M124.9 593.2h0M111.9 594.5h0M94.5 588.4h0M122.5 609.2h0M133.5 606.0h0M147.5 615.3h0M78.1 638.5h0M96.3 594.3h0M104.7 609.9h0M91.1 603.5h0M86.2 636.4h0M96.9 649.2h0M105.9 613.2h0M71.8 606.1h0M61.0 607.3h0M142.5 617.8h0M106.7 648.0h0M94.3 624.1h0M127.2 610.8h0M87.9 641.6h0M101.2 601.3h0M120.8 618.2h0M100.2 606.7h0M123.9 584.2h0M121.0 617.0h0M58.8 615.8h0M112.2 661.7h0M52.2 618.5h0M57.2 618.2h0M105.3 638.3h0M59.8 607.3h0M103.8 594.7h0M129.3 611.6h0M118.3 599.8h0M103.9 580.3h0M126.7 583.3h0M136.3 602.0h0M94.3 630.5h0M136.2 593.4h0M141.4 627.3h0M72.4 638.0h0M109.4 648.0h0M131.5 664.7h0M105.8 670.7h0M112.2 674.3h0M145.7 624.5h0M127.5 602.1h0M138.7 597.5h0M101.0 584.0h0M91.3 614.7h0M134.0 628.7h0M109.4 642.2h0M119.5 635.3h0M121.1 600.3h0M147.0 599.9h0M100.5 595.6h0M111.3 580.3h0M110.9 602.7h0M132.2 641.2h0M95.4 594.5h0M99.3 585.0h0M89.8 593.8h0M120.7 638.6h0M110.8 576.4h0M115.3 595.0h0M107.6 630.9h0M61.8 633.5h0M99.5 602.9h0M96.5 584.5h0M72.8 600.8h0M151.9 607.0h0M108.9 667.1h0M91.6 611.5h0M107.9 593.9h0M85.4 636.3h0M102.4 588.8h0M67.3 609.9h0M69.3 611.3h0M69.1 634.4h0M105.1 655.9h0M99.3 670.5h0M134.2 625.6h0M90.8 605.8h0M52.0 619.2h0M140.0 600.6h0M106.2 596.9h0M151.3 604.3h0M121.9 611.0h0M109.0 635.3h0M101.6 642.9h0M89.4 601.5h0M137.9 613.2h0M114.1 625.1h0M73.7 620.7h0M92.9 647.6h0M62.0 625.3h0M126.9 665.3h0M78.2 594.3h0M132.9 635.0h0M74.0 597.9h0M123.8 604.7h0M122.9 612.5h0M124.2 671.7h0M125.9 636.6h0M42.7 620.4h0M75.0 618.0h0M121.4 668.7h0M116.8 628.3h0M83.6 647.6h0M117.6 586.9h0M123.0 614.0h0M137.1 625.4h0M74.3 625.3h0M104.9 645.7h0M109.7 632.7h0M98.7 621.3h0M107.2 663.7h0M115.6 638.7h0M156.0 609.9h0M115.0 592.8h0M137.6 652.3h0M128.6 675.0h0M123.0 645.8h0M70.9 625.1h0M98.6 594.2h0M122.3 607.6h0M109.2 664.3h0M128.5 656.7h0M132.8 639.4h0M143.3 618.8h0M78.2 600.0h0M117.8 610.9h0M100.1 635.5h0M100.6 600.2h0M59.6 606.8h0M150.0 605.4h0M120.2 655.0h0M84.3 598.3h0M79.4 606.6h0M107.1 641.9h0M99.8 584.5h0M86.8 591.4h0M134.4 639.5h0M114.8 647.0h0M88.9 639.9h0M143.7 625.6h0M115.2 594.7h0M153.8 609.0h0M102.4 620.4h0M114.8 622.1h0M92.8 651.3h0M116.9 620.7h0M71.5 648.4h0M67.6 628.9h0M97.8 618.0h0M95.1 657.3h0M136.1 604.1h0M144.6 608.1h0M133.0 615.8h0M61.2 605.3h0M76.2 647.5h0M100.8 671.3h0M109.7 568.8h0M143.2 611.6h0M93.9 583.7h0M134.3 606.0h0M123.3 616.4h0M107.8 584.6h0M149.0 623.8h0M110.9 618.2h0M153.4 617.1h0M117.1 583.2h0M113.0 662.0h0M121.0 631.1h0M148.3 616.2h0M139.8 640.7h0M107.7 620.8h0M127.1 592.7h0M116.4 633.0h0M123.4 617.6h0M76.9 597.5h0M58.8 605.8h0M126.3 666.1h0M152.5 612.0h0M140.8 604.1h0M102.1 579.3h0M104.4 573.3h0M83.4 653.4h0M130.4 619.8h0M83.2 620.9h0M104.0 605.0h0M72.3 653.3h0M144.9 614.3h0M109.6 604.3h0M118.6 622.1h0M125.1 618.6h0M94.5 649.8h0M87.5 595.2h0M94.6 596.7h0M129.6 588.3h0M102.7 601.1h0M128.4 593.3h0M94.6 589.6h0M148.2 626.2h0M86.3 622.6h0M130.8 624.2h0M103.1 612.4h0M104.1 562.7h0M126.4 612.7h0M65.0 626.7h0M108.2 590.4h0M110.2 586.5h0M121.5 645.0h0M93.8 595.3h0M119.2 591.6h0M121.6 660.0h0M105.6 607.0h0M99.9 605.3h0M119.5 662.8h0M100.6 664.2h0M108.2 580.3h0M122.9 614.3h0M110.6 637.1h0M105.2 578.0h0M118.2 579.3h0M94.6 659.6h0M77.4 627.4h0M125.4 643.4h0M124.3 642.5h0M110.1 580.1h0M127.6 593.0h0M101.1 665.7h0M129.3 665.9h0M108.3 581.1h0M103.0 570.9h0M113.0 676.8h0M98.3 626.3h0M140.9 617.2h0M128.6 602.3h0M110.9 583.7h0M139.9 613.9h0M92.0 637.4h0M115.6 589.6h0M134.8 642.3h0M108.2 603.9h0M119.6 635.8h0M86.7 640.0h0M148.5 637.2h0M147.4 624.5h0M144.2 632.1h0M99.6 598.4h0M150.6 606.7h0M140.4 627.2h0M80.0 597.5h0M132.2 587.7h0M99.9 627.7h0M104.2 655.6h0M98.0 585.2h0M109.4 630.3h0M129.5 631.0h0M76.0 629.1h0M106.6 600.8h0M87.8 604.9h0M91.8 628.7h0M149.1 605.7h0M92.9 592.8h0M123.9 596.2h0M100.0 659.4h0M101.7 597.7h0M143.8 616.4h0M100.3 575.9h0M130.0 609.1h0M126.0 599.0h0M126.1 624.2h0M58.1 607.2h0M77.2 611.1h0M125.4 594.7h0M76.9 657.2h0M84.1 596.1h0M132.7 633.0h0M127.6 625.9h0M117.3 604.9h0M103.8 575.9h0M85.8 604.7h0M138.5 591.4h0M129.3 628.8h0M102.8 598.7h0M116.3 592.4h0M127.5 620.6h0M91.4 661.3h0M151.2 615.1h0M58.0 605.1h0M121.9 655.9h0M148.5 622.1h0M82.7 644.8h0M94.6 651.8h0M60.1 630.7h0M97.9 609.3h0M81.7 610.3h0M130.8 586.6h0M77.7 633.2h0M118.7 608.4h0M110.4 573.1h0M62.0 608.1h0M118.1 630.2h0M103.1 651.1h0M130.4 620.5h0M59.2 613.0h0M91.8 588.2h0M106.2 623.3h0M68.7 618.9h0M121.4 594.3h0M88.8 655.3h0M101.6 590.4h0M130.5 590.6h0M102.6 626.6h0M101.5 597.4h0M64.0 621.2h0M80.6 655.4h0M86.3 597.3h0M99.3 567.4h0M122.2 620.5h0M125.2 595.5h0M111.8 668.6h0M106.6 635.5h0M107.9 675.4h0M95.8 586.3h0M143.2 627.4h0M117.4 605.1h0M115.7 659.9h0M140.4 613.2h0M147.6 635.5h0M96.9 584.6h0M120.4 596.4h0M137.9 594.5h0M128.0 607.6h0M109.8 637.0h0M120.2 584.4h0M117.3 591.7h0M129.7 662.4h0M95.3 645.7h0M127.0 671.6h0M98.5 593.2h0M134.9 655.1h0M60.2 626.8h0M89.3 620.9h0M132.9 599.6h0M101.1 598.0h0M105.0 673.7h0M64.3 619.8h0M110.2 615.3h0M126.1 645.0h0M65.0 604.8h0M61.8 610.4h0M107.8 583.8h0M80.4 612.0h0M72.1 644.8h0M126.2 637.5h0M116.4 617.1h0M81.9 657.5h0M130.5 646.3h0M111.6 612.0h0M87.2 610.1h0M106.6 667.2h0M96.5 600.2h0M149.5 614.6h0M82.1 601.0h0M131.1 594.6h0M113.0 601.2h0M83.8 655.6h0M110.2 587.1h0M98.4 574.6h0M138.4 628.2h0M82.2 593.7h0M136.8 638.7h0M137.8 618.4h0M89.2 586.8h0M153.2 617.5h0M97.7 573.1h0M136.7 589.1h0M124.4 606.6h0M67.5 619.7h0M117.0 617.5h0M124.7 641.9h0M118.2 616.5h0M76.7 631.0h0M122.6 602.5h0M72.6 611.5h0M65.0 601.6h0M84.0 656.2h0M85.2 620.4h0M151.5 611.0h0M98.3 644.2h0M81.1 614.4h0M123.1 584.2h0M85.0 652.1h0M103.8 584.0h0M97.0 644.0h0M101.4 669.1h0M117.0 607.6h0M102.5 622.2h0M110.8 586.0h0M88.3 638.9h0M123.8 602.6h0M73.8 646.2h0M80.1 614.8h0M104.8 581.3h0M146.7 623.2h0M142.3 634.8h0M105.5 579.0h0M93.4 658.8h0M100.6 650.7h0M97.1 588.8h0M106.7 575.1h0M91.8 616.9h0M95.1 580.8h0M134.4 608.2h0M129.4 594.0h0M119.4 590.5h0M106.5 610.4h0M130.6 641.7h0M101.4 668.0h0M96.6 627.9h0M97.4 576.4h0M100.1 570.8h0M108.5 571.0h0M104.5 567.8h0M97.0 575.7h0M103.5 571.9h0M111.6 582.3h0M99.6 567.6h0M105.4 565.9h0M104.5 567.5h0M109.1 566.2h0M110.4 568.7h0M101.7 566.5h0M106.9 565.3h0M111.9 577.9h0M106.4 570.0h0M107.4 573.2h0M111.0 573.3h0M99.2 566.5h0M110.7 577.9h0M100.1 577.8h0M106.9 578.1h0M100.5 583.0h0M99.6 581.1h0M107.4 565.6h0M105.3 569.6h0M105.1 584.3h0M98.9 575.7h0M112.8 581.2h0M114.2 570.8h0M108.9 564.5h0M106.4 580.6h0M100.0 578.6h0M108.8 573.2h0M101.0 568.0h0M106.9 580.3h0M109.0 572.4h0M100.9 573.3h0M109.5 577.4h0M107.3 567.1h0M103.2 578.6h0M108.4 572.9h0M106.6 580.1h0M109.3 578.5h0M110.1 565.7h0M104.5 569.8h0M102.1 577.4h0M105.3 564.3h0M107.2 582.0h0M98.4 576.8h0M55.0 618.7h0M65.5 622.5h0M66.3 618.1h0M61.2 619.5h0M64.8 623.9h0M60.8 624.0h0M62.3 624.6h0M52.8 623.5h0M56.8 624.3h0M55.7 623.1h0M47.6 620.2h0M71.2 622.3h0M67.5 624.3h0M47.8 624.6h0M46.9 620.6h0M49.2 624.6h0M43.0 621.3h0M51.9 620.4h0M56.0 625.8h0M66.2 619.4h0M72.1 622.2h0M52.1 625.8h0M61.0 618.9h0M54.2 619.5h0M51.7 618.5h0M65.6 620.2h0M56.5 623.7h0M57.6 621.7h0M62.2 623.1h0M53.5 620.4h0" stroke="#4eb3d3" stroke-width="2.05" stroke-linecap="round"/><path d="M99.0 639.0h0M135.9 647.5h0M123.9 603.0h0M89.2 617.9h0M146.5 599.9h0M124.9 640.6h0M103.9 579.5h0M127.2 661.4h0M104.5 671.3h0M148.4 619.7h0M96.8 632.4h0M137.9 652.7h0M126.8 604.8h0M151.0 606.3h0M115.1 611.5h0M132.0 657.5h0M146.8 600.7h0M93.2 630.4h0M109.5 615.4h0M114.4 638.5h0M97.5 616.1h0M84.5 614.8h0M136.4 652.3h0M103.3 624.1h0M80.6 645.2h0M112.0 577.9h0M43.2 620.7h0M130.0 642.2h0M91.2 662.0h0M68.1 635.3h0M112.0 664.8h0M132.3 623.9h0M90.7 605.9h0M114.2 643.1h0M81.2 615.2h0M120.7 648.4h0M99.2 671.5h0M126.0 619.4h0M82.1 636.2h0M120.2 637.0h0M70.6 609.8h0M77.6 628.1h0M100.4 661.3h0M87.7 659.7h0M105.7 673.3h0M112.8 632.2h0M108.1 673.6h0M107.1 627.9h0M109.6 652.1h0M123.2 650.5h0M98.1 661.5h0M104.1 625.7h0M113.4 645.8h0M110.4 598.2h0M95.1 665.4h0M109.9 623.1h0M146.6 623.5h0M91.5 649.4h0M124.1 664.0h0M84.7 628.3h0M119.4 677.8h0M132.1 634.5h0M136.4 652.7h0M91.2 620.9h0M85.2 603.2h0M132.4 626.6h0M93.7 666.9h0M66.9 616.0h0M113.9 625.9h0M63.1 626.5h0M83.0 659.1h0M93.2 659.2h0M130.4 642.6h0M58.8 631.8h0M103.5 619.5h0M66.2 626.1h0M75.6 640.4h0M129.3 649.1h0M132.4 640.0h0M70.1 637.5h0M91.2 637.8h0M53.3 619.0h0M123.5 643.6h0M133.4 638.9h0M131.0 595.3h0M132.0 609.5h0M120.8 632.9h0M114.4 644.0h0M112.1 637.3h0M132.1 622.3h0M127.8 672.8h0M86.6 619.3h0M100.9 666.0h0M99.8 594.1h0M79.3 619.9h0M70.2 604.3h0M91.9 665.4h0M156.5 610.9h0M66.9 609.6h0M128.7 636.4h0M93.8 650.8h0M118.5 670.8h0M44.8 621.5h0M111.2 655.1h0M81.1 632.4h0M77.7 635.8h0M78.3 641.1h0M110.7 656.5h0M71.4 639.8h0M88.7 609.3h0M82.1 642.9h0M80.5 654.5h0M62.2 621.1h0M112.4 655.2h0M76.9 624.6h0M126.0 626.3h0M96.9 638.5h0M122.9 659.8h0M81.5 590.3h0M79.4 648.3h0M140.4 608.6h0M129.2 653.8h0M75.2 620.3h0M151.7 611.8h0M139.3 640.7h0M134.2 642.5h0M62.9 623.2h0M85.8 608.9h0M133.1 631.3h0M102.5 652.5h0M124.8 619.3h0M91.3 601.4h0M134.2 645.9h0M136.2 635.6h0M106.0 629.7h0M85.7 631.0h0M130.7 668.1h0M113.3 658.6h0M93.6 619.6h0M91.5 590.8h0M114.0 654.0h0M116.5 614.9h0M126.1 600.0h0M90.0 665.7h0M132.4 640.9h0M87.5 648.6h0M106.3 632.2h0M107.2 640.6h0M145.0 635.8h0M101.2 666.6h0M83.4 644.3h0M133.3 660.2h0M104.2 614.0h0M133.7 644.5h0M125.2 587.5h0M109.6 657.3h0M103.9 597.0h0M80.7 602.3h0M139.6 638.0h0M117.1 677.6h0M89.1 660.3h0M124.0 662.2h0M130.7 658.6h0M64.5 607.9h0M78.2 628.6h0M148.1 638.4h0M107.2 621.1h0M57.7 623.0h0M65.4 615.1h0M100.6 588.9h0M96.1 635.4h0M126.9 642.3h0M122.1 652.3h0M111.0 671.3h0M58.9 628.5h0M67.3 618.4h0M93.7 658.2h0M87.7 602.3h0M103.1 650.2h0M75.2 628.5h0M99.0 638.8h0M115.4 647.1h0M100.8 644.3h0M100.6 653.0h0M88.0 657.2h0M139.0 643.4h0M86.6 650.2h0M113.3 673.6h0M133.8 624.9h0M94.4 657.1h0M120.4 668.7h0M118.4 666.0h0M125.5 658.8h0M113.9 657.2h0M116.8 662.2h0M126.5 659.7h0M127.0 669.8h0M117.2 658.4h0M115.7 657.3h0M125.1 658.7h0M119.1 673.2h0M114.1 658.0h0M123.7 661.0h0M105.7 660.3h0M110.3 674.6h0M120.4 672.8h0M126.5 660.0h0M119.5 669.9h0M100.5 662.0h0M104.7 659.3h0M108.5 673.6h0M121.9 667.6h0M107.5 666.1h0M97.8 668.3h0M99.2 664.7h0M119.1 664.5h0M125.7 666.3h0M120.7 661.1h0M110.3 663.1h0M123.7 666.1h0M104.2 668.6h0M119.3 668.4h0M115.7 658.9h0M128.6 663.0h0M115.0 672.0h0M120.8 673.5h0M115.3 666.2h0M124.4 674.7h0M103.2 661.7h0M100.1 666.5h0M125.8 670.0h0M112.1 656.8h0M120.9 669.4h0M110.9 669.3h0M110.9 676.4h0M128.7 665.5h0M116.1 662.3h0M106.1 671.9h0M122.0 665.1h0M111.7 665.6h0M108.9 665.4h0M103.1 662.4h0M113.1 669.8h0M113.0 663.1h0M105.9 666.8h0M110.7 669.2h0M113.0 676.9h0M109.9 676.5h0M115.7 661.0h0M123.8 665.5h0M109.0 659.5h0M114.9 656.4h0M109.4 663.2h0M118.1 658.4h0M113.1 659.4h0M109.7 674.6h0M116.1 660.4h0M118.8 674.5h0M117.5 657.5h0M105.1 673.3h0M120.7 676.1h0M124.8 675.7h0M112.6 677.3h0M122.2 675.7h0M117.6 677.5h0M118.2 678.9h0M119.7 674.5h0M110.3 677.5h0M112.3 675.3h0M111.6 678.5h0M120.9 678.8h0M123.7 675.6h0M116.1 679.1h0M123.6 677.8h0M117.1 675.8h0M117.4 679.2h0M114.0 678.4h0M117.6 676.7h0M111.7 677.6h0M118.9 679.0h0M115.4 674.7h0M120.5 675.3h0M120.3 677.2h0M124.2 676.6h0M112.6 677.1h0M120.8 676.9h0M110.3 677.4h0M118.8 676.0h0M135.2 607.2h0M141.5 616.9h0M146.8 617.1h0M144.3 611.9h0M136.6 619.7h0M135.6 610.3h0M136.5 625.8h0M130.5 619.2h0M129.2 611.1h0M147.4 619.0h0M148.4 611.2h0M135.2 618.5h0M135.5 616.7h0M146.0 617.6h0M142.6 607.7h0M145.4 612.3h0M136.3 618.0h0M150.4 613.0h0M140.9 604.0h0M135.0 607.8h0M134.1 617.8h0M142.8 620.4h0M136.9 606.6h0M131.7 606.5h0M133.3 604.6h0" stroke="#d33c2e" stroke-width="2.05" stroke-linecap="round"/><rect x="36.0" y="556.4" width="129.0" height="128.3" fill="none" stroke="#3a3a3a" stroke-width="0.9"/><text x="100.5" y="554.4" font-size="8.2" fill="#111" text-anchor="middle" font-family="Liberation Sans, sans-serif">DGCR8_HEK293T</text><text x="100.5" y="692.2" font-size="8.7" fill="#111" text-anchor="middle" font-family="Liberation Sans, sans-serif">DMSK</text><rect x="40.1" y="560.4" width="58.8" height="25.1" rx="1.6" fill="#fff" fill-opacity="0.8" stroke="#444" stroke-width="0.8"/><circle cx="50.6" cy="567.2" r="0.95" fill="#4eb3d3"/><circle cx="50.6" cy="578.9" r="0.95" fill="#d33c2e"/><text x="64.4" y="568.9" font-size="8" fill="#111" font-family="Liberation Sans, sans-serif">Negative</text><text x="64.4" y="580.5" font-size="8" fill="#111" font-family="Liberation Sans, sans-serif">Positive</text><path d="M231.4 609.2h0M261.9 629.6h0M230.1 612.3h0M234.8 588.5h0M220.6 605.8h0M251.4 604.3h0M236.8 637.1h0M266.8 613.9h0M252.0 596.8h0M226.4 580.9h0M248.8 582.0h0M234.8 610.3h0M211.9 591.9h0M214.2 618.5h0M266.8 578.0h0M241.2 611.1h0M261.1 653.6h0M272.7 601.2h0M233.0 606.0h0M218.8 590.5h0M235.9 600.4h0M226.4 621.4h0M224.7 604.0h0M256.6 615.3h0M250.9 641.4h0M236.5 600.1h0M225.3 619.4h0M277.5 621.4h0M221.4 612.6h0M279.7 603.6h0M267.4 619.3h0M227.6 616.1h0M252.7 636.5h0M224.4 581.0h0M233.1 627.2h0M204.6 597.6h0M265.1 614.5h0M253.8 646.5h0M281.4 618.4h0M222.6 589.4h0M266.7 582.6h0M239.9 626.0h0M242.4 633.1h0M260.0 605.3h0M250.3 617.8h0M234.6 620.5h0M229.5 595.2h0M254.0 577.4h0M242.5 613.6h0M234.1 632.5h0M211.8 592.9h0M210.6 612.8h0M251.6 614.6h0M255.2 618.9h0M274.1 615.3h0M208.0 602.8h0M236.4 618.0h0M267.7 609.2h0M233.7 634.7h0M254.2 604.8h0M235.0 626.5h0M275.3 606.2h0M210.7 589.8h0M263.9 593.1h0M247.2 611.0h0M250.9 612.2h0M267.7 600.9h0M241.1 592.8h0M240.9 587.2h0M220.1 623.1h0M246.2 625.4h0M256.4 627.5h0M251.7 638.5h0M208.3 591.2h0M247.6 645.9h0M250.5 589.1h0M248.8 617.1h0M271.3 580.3h0M247.8 594.8h0M281.0 630.5h0M274.2 617.3h0M221.4 593.4h0M254.9 591.7h0M257.4 647.7h0M252.0 607.1h0M257.0 651.2h0M237.3 578.7h0M251.8 616.1h0M264.6 633.0h0M246.3 582.5h0M217.6 590.7h0M244.0 642.3h0M259.5 652.2h0M221.7 593.9h0M238.3 593.0h0M269.8 573.1h0M262.4 583.3h0M227.8 590.2h0M219.8 618.3h0M212.4 621.1h0M258.5 649.0h0M245.4 580.0h0M229.1 618.2h0M249.6 600.0h0M264.7 587.9h0M212.0 613.9h0M242.6 578.4h0M249.2 639.7h0M257.6 579.2h0M220.6 609.5h0M232.7 580.2h0M240.0 584.9h0M239.9 602.5h0M249.2 594.5h0M210.0 616.9h0M257.5 593.2h0M252.3 603.4h0M240.5 622.7h0M281.0 580.4h0M244.3 613.1h0M213.5 619.6h0M237.7 637.4h0M243.0 611.0h0M217.9 623.5h0M266.2 607.3h0M234.3 593.8h0M264.4 642.8h0M244.5 622.1h0M256.0 609.0h0M241.9 595.9h0M245.9 604.1h0M245.8 587.4h0M222.1 589.4h0M253.0 643.2h0M216.0 604.2h0M265.6 628.6h0M246.4 621.3h0M248.3 589.4h0M241.1 590.2h0M244.3 591.2h0M279.2 614.0h0M251.3 638.1h0M250.4 647.4h0M242.3 632.5h0M277.0 573.5h0M249.7 586.3h0M258.6 595.3h0M242.7 581.6h0M250.7 615.3h0M261.3 604.9h0M281.7 636.1h0M245.5 615.4h0M264.8 590.0h0M224.4 623.2h0M255.2 614.6h0M240.6 616.0h0M222.4 622.4h0M212.5 593.7h0M225.3 587.0h0M258.2 630.9h0M220.0 616.8h0M264.8 621.4h0M242.1 580.8h0M232.6 598.7h0M264.4 581.6h0M243.6 592.3h0M264.8 637.5h0M215.8 622.3h0M207.9 609.2h0M255.8 627.9h0M274.9 605.4h0M246.2 640.5h0M234.3 587.9h0M246.1 577.5h0M253.0 625.2h0M223.3 625.5h0M216.1 609.1h0M250.9 645.8h0M218.7 622.8h0M286.5 582.6h0M214.5 609.8h0M266.6 596.0h0M241.1 619.7h0M269.2 634.2h0M279.5 634.8h0M247.3 625.5h0M222.6 588.6h0M225.4 617.1h0M272.1 598.5h0M267.3 622.0h0M253.3 603.5h0M242.8 591.1h0M239.7 635.9h0M214.4 594.0h0M240.8 592.1h0M230.4 614.0h0M206.7 587.9h0M255.5 584.2h0M215.1 616.2h0M255.0 624.5h0M280.8 612.6h0M227.8 615.7h0M228.3 608.7h0M271.3 643.4h0M209.1 601.7h0M231.6 616.6h0M264.7 620.7h0M251.7 641.5h0M236.4 618.4h0M248.1 589.6h0M219.6 608.3h0M279.6 580.7h0M215.3 592.9h0M217.2 591.9h0M223.5 586.4h0M275.4 618.3h0M246.4 621.6h0M242.6 639.2h0M238.3 622.4h0M238.2 610.9h0M224.2 581.0h0M218.2 623.9h0M272.3 624.5h0M222.4 592.9h0M220.8 584.4h0M246.7 615.9h0M281.1 636.0h0M248.2 621.0h0M234.6 611.6h0M244.1 581.9h0M265.2 616.8h0M220.1 582.0h0M229.5 610.9h0M247.8 637.7h0M218.3 602.5h0M233.1 609.7h0M264.7 648.3h0M258.5 593.4h0M256.4 586.9h0M214.0 587.3h0M248.4 590.7h0M238.2 583.5h0M212.0 621.1h0M276.5 589.0h0M250.9 584.0h0M273.7 634.3h0M274.8 585.1h0M262.4 648.4h0M222.2 621.7h0M257.1 642.6h0M218.1 586.3h0M259.0 633.9h0M228.0 594.7h0M228.5 618.6h0M245.1 637.9h0M245.1 601.4h0M224.9 621.3h0M249.4 647.3h0M215.9 590.5h0M206.3 604.1h0M215.8 613.5h0M232.7 584.6h0M271.6 621.2h0M282.6 578.8h0M227.7 629.6h0M215.5 595.7h0M241.6 614.0h0M216.8 587.7h0M268.4 638.9h0M254.1 640.3h0M222.5 628.2h0M235.5 621.6h0M223.9 608.7h0M267.7 635.7h0M214.5 608.9h0M224.1 616.2h0M270.6 601.0h0M262.9 620.3h0M239.7 625.5h0M241.4 611.6h0M283.7 600.0h0M231.6 583.9h0M261.1 618.8h0M275.6 593.8h0M280.9 593.5h0M224.7 608.4h0M240.2 610.1h0M253.5 635.7h0M276.2 580.2h0M206.7 607.3h0M245.2 591.7h0M269.7 651.1h0M261.3 576.8h0M244.8 607.6h0M258.5 575.4h0M260.4 656.1h0M236.2 601.3h0M248.6 594.2h0M223.5 610.3h0M239.3 623.7h0M240.8 613.2h0M222.6 581.7h0M220.7 624.6h0M247.0 593.7h0M271.1 644.4h0M264.3 589.6h0M251.6 605.5h0M223.0 615.5h0M267.7 601.8h0M251.6 608.9h0M233.2 617.6h0M263.3 604.2h0M238.2 609.0h0M278.1 639.6h0M260.7 652.3h0M234.2 622.6h0M215.5 588.6h0M243.9 580.8h0M251.1 604.0h0M204.7 599.0h0M237.4 627.0h0M233.1 597.3h0M262.0 613.7h0M256.1 601.9h0M249.4 631.9h0M208.8 612.2h0M215.5 611.0h0M234.7 603.9h0M252.3 605.1h0M232.2 610.7h0M244.0 619.5h0M246.4 613.3h0M284.2 590.6h0M230.2 586.7h0M217.5 608.4h0M226.2 605.1h0M278.5 624.1h0M253.9 599.8h0M210.7 596.1h0M242.8 618.2h0M229.3 614.3h0M236.2 628.3h0M274.8 574.2h0M267.4 636.6h0M253.4 612.7h0M222.7 606.6h0M269.0 599.1h0M275.0 592.3h0M219.9 593.8h0M216.5 596.6h0M249.1 594.8h0M249.2 597.6h0M275.3 579.8h0M238.4 626.1h0M282.3 588.1h0M216.3 597.7h0M244.3 641.2h0M237.3 606.4h0M269.6 639.5h0M262.9 618.7h0M241.5 591.6h0M244.2 622.9h0M239.8 623.9h0M228.4 580.3h0M234.5 627.4h0M252.8 635.0h0M230.5 631.9h0M223.1 600.3h0M260.4 635.7h0M277.4 585.0h0M229.3 613.0h0M205.4 604.3h0M251.2 628.4h0M241.7 610.8h0M223.4 590.8h0M255.0 638.8h0M250.1 614.0h0M240.1 590.3h0M213.6 594.6h0M284.4 612.8h0M215.4 583.8h0M277.1 613.4h0M213.8 611.8h0M236.0 613.6h0M222.5 620.4h0M203.7 597.4h0M249.2 634.8h0M244.0 579.5h0M259.5 628.0h0M228.7 591.4h0M278.0 575.6h0M285.7 597.8h0M261.9 584.3h0M214.1 600.4h0M239.4 634.4h0M255.6 650.6h0M226.7 608.5h0M249.4 626.4h0M206.9 595.3h0M250.1 612.3h0M237.3 590.7h0M250.5 627.2h0M248.9 628.1h0M253.7 634.5h0M254.6 582.2h0M261.3 608.0h0M240.8 615.3h0M254.8 639.9h0M241.0 633.9h0M254.2 600.0h0M273.7 580.0h0M209.2 589.4h0M251.2 625.0h0M249.4 622.6h0M239.4 614.0h0M270.9 589.7h0M273.0 575.7h0M209.4 599.1h0M238.1 587.6h0M279.3 582.8h0M235.8 582.0h0M216.2 602.8h0M280.9 643.6h0M229.2 603.3h0M223.2 602.5h0M257.7 588.6h0M274.6 628.9h0M217.1 597.8h0M240.4 628.9h0M213.7 608.0h0M254.0 593.0h0M229.7 618.5h0M213.5 595.2h0M223.6 615.4h0M226.2 605.9h0M217.9 586.3h0M277.6 576.2h0M259.3 641.4h0M220.2 602.5h0M233.2 621.2h0M227.5 594.7h0M240.7 639.4h0M253.9 603.9h0M214.8 618.6h0M218.1 586.6h0M222.1 616.2h0M251.9 645.7h0M282.9 618.2h0M253.0 598.1h0M256.9 606.8h0M251.1 643.3h0M253.7 612.6h0M248.8 623.8h0M275.2 607.5h0M244.5 597.4h0M265.0 613.3h0M221.9 619.6h0M239.3 607.4h0M262.0 592.8h0M255.5 652.0h0M221.8 621.0h0M242.4 626.1h0M275.5 607.8h0M217.1 620.9h0M234.1 630.5h0M268.1 597.7h0M239.4 591.5h0M247.5 591.4h0M243.1 595.4h0M217.6 616.0h0M227.3 609.2h0M250.8 616.1h0M215.0 600.8h0M248.6 626.1h0M272.5 586.0h0M220.9 587.0h0M257.3 647.8h0M207.6 605.0h0M217.4 594.0h0M208.6 587.9h0M216.6 618.5h0M252.0 624.0h0M232.0 586.0h0M268.4 634.7h0M245.2 584.9h0M261.4 640.2h0M255.6 583.9h0M219.2 589.4h0M230.0 621.3h0M234.1 612.9h0M229.1 627.0h0M234.6 590.2h0M250.3 629.1h0M227.3 613.1h0M218.0 588.1h0M236.0 627.4h0M251.6 634.5h0M243.3 605.9h0M274.0 602.3h0M242.5 588.6h0M259.7 578.6h0M272.2 593.9h0M207.6 598.0h0M275.3 577.7h0M221.8 595.8h0M240.1 596.6h0M221.6 594.3h0M210.0 595.9h0M273.1 578.2h0M273.9 611.5h0M224.4 623.8h0M265.9 630.5h0M224.0 598.1h0M205.9 589.1h0M230.0 627.9h0M209.8 613.4h0M244.3 600.6h0M227.6 582.3h0M286.1 606.5h0M261.9 587.0h0M205.2 610.1h0M215.5 594.7h0M210.4 596.0h0M218.8 596.3h0M202.1 605.6h0M205.9 612.5h0M213.2 593.5h0M217.6 612.7h0M208.3 597.3h0M222.2 602.0h0M221.1 593.0h0M225.3 606.2h0M205.5 594.1h0M207.8 592.0h0M213.3 606.3h0M216.6 602.8h0M199.8 600.2h0M215.0 591.6h0M222.7 609.8h0M223.5 605.7h0M220.6 606.4h0M206.2 592.8h0M222.4 605.1h0M215.7 605.6h0M221.9 611.5h0M225.5 604.9h0M220.9 592.1h0M210.9 607.7h0M202.9 603.0h0M214.4 594.2h0M207.3 592.7h0M211.8 615.3h0M204.8 602.6h0M201.8 601.5h0M199.9 603.6h0M208.8 606.3h0M213.6 610.1h0M222.0 599.5h0M215.7 600.7h0M227.0 599.2h0M212.8 600.5h0M218.5 590.9h0M200.4 601.8h0M216.4 598.5h0M225.9 600.3h0M228.4 599.5h0M203.4 601.6h0M218.1 604.8h0M206.6 607.6h0M205.8 606.9h0M203.1 604.2h0M209.6 592.0h0M228.1 596.1h0M214.9 614.7h0M225.2 602.5h0M207.8 605.6h0M220.0 608.4h0M212.9 593.5h0M212.7 602.7h0M213.3 606.4h0M206.8 611.1h0M213.9 614.0h0M207.9 610.5h0M206.8 600.4h0M204.6 607.9h0M220.1 608.5h0M207.3 611.0h0M228.9 599.8h0M212.9 602.2h0M205.7 607.6h0M219.6 596.5h0M228.3 606.6h0M224.7 602.8h0M215.3 591.3h0M211.3 591.4h0M206.8 597.9h0M224.9 600.4h0M220.4 594.4h0M203.7 595.9h0M214.0 606.2h0M213.7 603.3h0M222.5 594.8h0M209.1 593.2h0M222.8 610.6h0M210.7 600.4h0M207.1 609.0h0M220.4 593.7h0M208.9 609.2h0M209.3 600.5h0M209.6 613.4h0M207.2 601.9h0M224.2 599.2h0M219.4 605.5h0M215.5 601.0h0M210.6 596.2h0M203.7 601.7h0M218.4 595.9h0M217.7 603.1h0M221.0 613.2h0M211.4 597.7h0M213.1 595.3h0M219.9 592.1h0M223.2 609.2h0M213.2 592.6h0M204.6 604.4h0M210.4 605.4h0M225.4 595.2h0M214.6 599.9h0M226.4 609.4h0M205.7 612.1h0M228.1 602.7h0M204.3 601.4h0M215.7 608.0h0M226.6 595.3h0M200.1 602.0h0M203.2 599.5h0M215.6 602.8h0M210.8 595.8h0M207.5 602.6h0M205.5 605.7h0M216.8 593.2h0M204.8 609.5h0M208.0 601.0h0M227.6 607.9h0M218.7 611.2h0M209.6 609.9h0M203.4 609.4h0M222.2 594.5h0M221.2 604.0h0M221.7 606.4h0M275.8 623.9h0M280.4 659.5h0M308.6 657.1h0M283.4 597.8h0M311.7 651.4h0M288.8 602.4h0M286.2 659.9h0M303.3 665.9h0M301.2 665.2h0M273.5 618.1h0M283.4 623.2h0M291.7 624.9h0M301.1 653.8h0M277.7 642.9h0M276.0 619.1h0M270.4 641.0h0M267.9 627.8h0M277.4 664.1h0M285.7 603.9h0M298.8 630.8h0M295.0 600.1h0M300.0 628.3h0M315.8 628.3h0M277.1 662.3h0M301.7 629.7h0M267.0 605.8h0M276.6 623.0h0M297.6 664.4h0M270.3 667.8h0M294.6 627.8h0M265.4 616.9h0M316.4 648.8h0M302.8 651.6h0M293.8 616.3h0M268.3 641.3h0M300.3 623.6h0M268.3 599.5h0M273.1 598.0h0M267.9 608.6h0M272.5 642.0h0M308.9 637.0h0M299.7 606.1h0M272.4 664.2h0M270.4 636.1h0M263.8 640.9h0M265.9 646.1h0M286.0 601.9h0M266.9 612.7h0M294.2 607.4h0M285.6 597.8h0M295.7 633.9h0M314.7 647.4h0M283.8 665.5h0M285.2 662.2h0M300.4 632.5h0M303.7 604.5h0M306.2 653.1h0M315.5 644.2h0M298.0 669.2h0M310.0 643.6h0M272.7 677.1h0M254.6 670.6h0M273.1 668.5h0M270.1 672.7h0M274.0 675.5h0M260.9 668.7h0M262.4 667.9h0M274.7 675.5h0M267.2 669.4h0M264.9 668.1h0M272.5 677.0h0M265.2 667.5h0M273.4 677.1h0M267.0 677.3h0M272.5 669.2h0M264.8 666.1h0M270.7 676.4h0M275.6 675.8h0" stroke="#4eb3d3" stroke-width="2.05" stroke-linecap="round"/><path d="M301.6 667.7h0M270.2 598.2h0M318.3 634.4h0M295.0 645.2h0M279.5 615.8h0M294.1 661.2h0M309.4 610.0h0M275.7 672.7h0M306.0 612.8h0M303.7 628.5h0M268.0 618.9h0M270.5 620.2h0M275.9 600.4h0M273.9 642.9h0M291.1 664.4h0M293.3 658.7h0M304.0 665.9h0M302.8 647.2h0M283.1 672.5h0M293.2 638.3h0M279.8 658.4h0M290.7 639.4h0M287.3 597.3h0M269.3 617.2h0M271.3 659.1h0M287.0 596.6h0M262.9 621.4h0M293.9 614.0h0M277.6 609.4h0M282.8 602.7h0M279.1 670.9h0M309.2 632.0h0M306.8 651.0h0M320.2 631.2h0M287.9 638.8h0M306.3 634.4h0M311.5 638.6h0M293.4 600.3h0M282.8 632.3h0M268.9 640.1h0M273.1 661.6h0M277.1 673.4h0M311.0 644.8h0M300.5 648.4h0M311.9 642.7h0M279.6 597.5h0M312.6 639.4h0M298.8 615.2h0M298.6 635.9h0M302.3 649.0h0M298.4 606.4h0M305.8 619.8h0M301.6 654.8h0M271.2 628.6h0M284.4 650.4h0M308.7 634.2h0M279.4 615.1h0M303.9 646.4h0M291.6 643.3h0M307.1 660.3h0M313.0 620.6h0M271.2 639.8h0M320.0 639.1h0M303.1 615.6h0M276.6 660.4h0M289.1 636.8h0M317.6 651.2h0M278.2 641.2h0M301.7 622.2h0M287.5 619.3h0M267.1 647.1h0M263.8 620.2h0M315.0 621.2h0M314.3 642.3h0M270.0 655.5h0M268.7 597.3h0M277.0 611.4h0M298.3 633.4h0M292.6 649.6h0M299.6 607.5h0M307.1 633.6h0M286.0 652.2h0M293.6 655.0h0M312.3 644.5h0M287.9 641.2h0M293.2 631.5h0M296.3 623.7h0M290.7 669.7h0M271.4 607.8h0M299.8 627.7h0M317.9 624.2h0M297.2 664.7h0M268.0 648.5h0M281.1 663.2h0M284.1 618.8h0M322.1 633.0h0M298.2 626.5h0M292.2 634.5h0M305.6 661.8h0M267.1 620.0h0M300.2 620.4h0M277.9 605.0h0M261.5 641.0h0M296.9 631.9h0M319.4 651.9h0M292.6 602.3h0M297.3 663.8h0M296.0 642.0h0M307.8 647.4h0M283.1 657.7h0M292.5 621.1h0M285.2 650.4h0M284.9 615.0h0M298.4 602.1h0M284.6 641.2h0M292.6 651.2h0M299.1 636.9h0M300.6 615.9h0M278.3 600.9h0M270.9 634.0h0M315.3 655.7h0M288.6 601.0h0M310.4 622.1h0M308.3 658.6h0M293.4 602.8h0M286.9 654.1h0M296.1 605.1h0M292.7 662.6h0M303.4 641.3h0M263.1 641.5h0M290.1 638.0h0M315.5 656.0h0M308.4 657.1h0M290.9 662.5h0M262.5 644.7h0M301.6 635.2h0M279.1 672.3h0M266.8 626.7h0M302.1 641.3h0M291.6 641.5h0M262.8 620.4h0M314.8 619.6h0M307.3 653.0h0M293.2 605.5h0M288.5 610.7h0M295.5 663.1h0M276.6 651.8h0M278.5 610.1h0M288.4 611.4h0M276.4 597.5h0M283.9 666.4h0M281.2 624.9h0M287.8 597.6h0M269.7 645.1h0M280.3 652.4h0M267.2 623.3h0M313.7 644.5h0M301.7 635.0h0M270.8 637.4h0M278.0 627.8h0M299.1 666.9h0M283.1 642.8h0M271.4 601.5h0M313.6 644.6h0M276.3 649.9h0M268.3 659.2h0M293.0 602.9h0M262.9 635.4h0M318.4 636.6h0M317.7 630.1h0M293.8 665.4h0M320.2 636.2h0M317.5 638.0h0M273.9 648.7h0M320.3 646.2h0M293.4 666.0h0M293.1 637.7h0M287.2 620.1h0M298.5 636.3h0M301.1 622.6h0M273.6 668.2h0M292.8 639.6h0M266.3 660.2h0M320.8 639.9h0M268.0 664.0h0M284.2 623.0h0M268.0 624.0h0M297.1 650.9h0M292.7 636.2h0M303.9 657.6h0M289.0 610.0h0M261.7 654.4h0M265.6 638.8h0M316.6 639.6h0M271.0 660.7h0M311.2 620.3h0M275.0 663.5h0M269.0 596.0h0M289.5 608.0h0M317.1 649.2h0M313.4 626.7h0M294.5 628.0h0M267.3 646.4h0M279.3 641.5h0M303.4 626.3h0M306.8 652.2h0M305.4 611.6h0M312.4 618.7h0M306.3 635.9h0M309.2 660.4h0M315.2 641.5h0M299.5 657.3h0M311.4 614.9h0M268.0 656.8h0M273.6 613.8h0M302.3 625.6h0M260.9 655.0h0M315.2 645.7h0M321.7 636.9h0M294.1 632.3h0M309.2 649.4h0M313.3 632.6h0M300.3 643.9h0M313.1 625.6h0M302.8 637.3h0M304.5 629.0h0M305.9 648.6h0M308.3 650.9h0M309.5 625.8h0M303.8 626.0h0M307.8 648.7h0M313.0 623.4h0M305.5 630.4h0M307.7 640.7h0M302.7 641.1h0M318.1 648.7h0M316.5 638.0h0M310.4 646.4h0M303.9 634.0h0M307.1 640.0h0M310.1 631.3h0M303.4 625.7h0M316.5 636.0h0M321.6 640.2h0M309.0 632.8h0M312.0 630.9h0M310.4 646.6h0M309.1 631.3h0M299.9 634.8h0M311.3 645.7h0M322.3 639.9h0M305.8 633.0h0M302.8 633.0h0M301.6 631.8h0M313.8 639.7h0M305.8 630.7h0M307.5 630.3h0M317.5 643.8h0M301.1 641.8h0M303.2 649.2h0M313.7 650.7h0M310.0 654.7h0M303.4 644.6h0M311.2 623.9h0M322.0 636.2h0M318.5 648.4h0M319.0 648.0h0M310.9 630.6h0M317.5 647.2h0M315.5 641.5h0M311.0 637.7h0M305.9 644.0h0M311.4 647.9h0M309.7 649.5h0M304.6 634.1h0M317.8 629.3h0M303.8 644.8h0M302.7 631.7h0M312.2 643.2h0M313.3 624.7h0M317.8 635.2h0M316.6 637.2h0M320.4 638.1h0M317.2 647.9h0M302.4 641.2h0M312.9 637.3h0M308.5 632.2h0M301.0 633.4h0M311.7 635.4h0M320.9 635.5h0M309.8 639.6h0M303.5 641.1h0M305.1 640.9h0M316.5 644.9h0M313.7 639.3h0M313.8 632.1h0M316.5 639.9h0M305.1 651.4h0M301.2 646.8h0M300.9 645.8h0M311.1 651.8h0M304.0 647.1h0M308.2 643.3h0M301.7 629.5h0M315.9 642.2h0M301.3 633.2h0M305.5 652.1h0M312.8 641.4h0M302.4 631.1h0M322.4 639.5h0M313.4 649.9h0M310.1 624.5h0M317.0 630.4h0M310.0 653.2h0M317.8 640.2h0M306.0 641.9h0M305.8 636.0h0M312.1 627.4h0M307.3 640.0h0M314.5 649.5h0M258.8 654.4h0M227.9 597.4h0M239.5 617.0h0M211.3 600.9h0M252.1 577.9h0M286.1 610.6h0M275.7 571.8h0M272.6 648.8h0M243.5 610.7h0M281.1 584.5h0M231.5 605.8h0M233.5 614.8h0M263.2 645.2h0M276.6 580.5h0M208.0 602.9h0M256.3 620.9h0M284.5 621.5h0M285.4 594.3h0M238.3 580.6h0M222.3 585.6h0M249.2 634.3h0M280.1 599.5h0M252.1 583.1h0M284.4 598.7h0M232.8 623.7h0M243.7 604.4h0M248.1 585.5h0M279.5 631.7h0M231.0 602.9h0M210.6 608.3h0M280.8 624.6h0M230.8 589.0h0M247.3 637.3h0M226.8 587.8h0M213.7 616.6h0M220.0 621.5h0M276.1 647.9h0M242.2 639.7h0M229.6 611.5h0M283.8 618.7h0M262.1 673.9h0M260.3 676.8h0M257.0 672.6h0M263.2 672.7h0M279.4 674.3h0M275.2 678.9h0M276.5 676.7h0M269.5 670.7h0M271.2 678.9h0M272.2 680.0h0M277.2 673.7h0M269.4 679.8h0" stroke="#d33c2e" stroke-width="2.05" stroke-linecap="round"/><rect x="195.4" y="557.4" width="131.0" height="127.0" fill="none" stroke="#3a3a3a" stroke-width="0.9"/><text x="260.9" y="555.4" font-size="8.2" fill="#111" text-anchor="middle" font-family="Liberation Sans, sans-serif">DGCR8_HEK293T</text><text x="260.9" y="691.9" font-size="8.7" fill="#111" text-anchor="middle" font-family="Liberation Sans, sans-serif">iDeep</text><rect x="199.5" y="561.4" width="58.8" height="25.1" rx="1.6" fill="#fff" fill-opacity="0.8" stroke="#444" stroke-width="0.8"/><circle cx="210.0" cy="568.2" r="0.95" fill="#4eb3d3"/><circle cx="210.0" cy="579.9" r="0.95" fill="#d33c2e"/><text x="223.8" y="569.9" font-size="8" fill="#111" font-family="Liberation Sans, sans-serif">Negative</text><text x="223.8" y="581.5" font-size="8" fill="#111" font-family="Liberation Sans, sans-serif">Positive</text><path d="M438.5 660.6h0M449.3 586.0h0M382.3 583.5h0M394.6 584.0h0M438.3 579.8h0M439.7 578.5h0M436.6 611.1h0M448.3 630.4h0M389.5 635.0h0M467.6 638.8h0M425.4 632.7h0M398.7 581.5h0M391.6 602.1h0M419.2 606.1h0M384.5 610.7h0M411.7 607.0h0M457.5 610.5h0M438.5 631.4h0M399.9 602.0h0M386.5 607.1h0M460.9 646.2h0M460.8 650.5h0M395.8 640.7h0M381.2 618.6h0M459.0 653.2h0M399.8 584.9h0M484.3 603.4h0M422.0 668.7h0M441.2 600.1h0M418.6 587.0h0M473.0 590.3h0M439.2 571.5h0M416.3 576.8h0M393.4 607.8h0M410.1 587.8h0M412.5 644.4h0M469.4 589.5h0M412.2 598.8h0M446.7 596.6h0M436.7 615.0h0M390.8 586.1h0M377.3 606.9h0M410.6 654.8h0M409.4 598.4h0M466.0 584.5h0M471.3 638.8h0M450.1 603.6h0M460.6 623.2h0M478.7 624.0h0M386.4 633.9h0M435.4 597.2h0M410.9 640.5h0M430.6 633.7h0M460.4 606.6h0M429.0 622.5h0M432.7 583.2h0M420.1 622.2h0M381.9 615.8h0M414.0 589.8h0M412.7 583.2h0M395.5 643.4h0M484.3 607.0h0M388.8 579.5h0M438.3 572.3h0M400.9 642.1h0M483.3 633.6h0M391.1 635.6h0M402.1 629.8h0M400.7 601.5h0M410.8 612.7h0M409.7 645.6h0M438.7 657.5h0M488.9 620.1h0M426.1 626.7h0M439.5 592.0h0M417.3 647.3h0M396.6 590.1h0M382.3 593.1h0M417.0 663.5h0M406.3 622.3h0M426.9 670.2h0M436.0 652.3h0M459.4 583.3h0M451.2 642.6h0M397.6 641.5h0M402.7 622.8h0M434.0 661.2h0M462.1 609.0h0M384.8 600.6h0M396.4 606.2h0M388.2 588.8h0M432.5 627.9h0M480.7 634.7h0M431.2 601.1h0M441.5 600.3h0M390.9 622.7h0M409.1 613.2h0M468.9 637.0h0M411.3 647.9h0M390.2 608.7h0M467.0 596.1h0M390.4 620.4h0M403.0 642.2h0M471.6 585.0h0M467.2 586.2h0M439.8 652.3h0M473.5 614.8h0M424.9 620.8h0M457.3 581.9h0M426.5 663.6h0M457.7 597.0h0M426.1 618.7h0M481.7 628.6h0M475.5 609.1h0M426.1 588.2h0M448.0 645.8h0M438.0 582.4h0M378.0 599.1h0M443.3 638.9h0M416.1 625.9h0M386.3 604.1h0M421.5 581.9h0M450.6 646.1h0M405.8 660.5h0M468.3 639.1h0M393.2 582.7h0M395.6 589.6h0M457.5 579.5h0M410.7 635.4h0M395.9 605.5h0M412.1 663.2h0M430.1 612.2h0M400.9 627.7h0M468.9 629.8h0M410.5 575.0h0M432.4 597.6h0M376.8 606.2h0M452.4 656.0h0M420.7 644.5h0M447.2 590.5h0M373.7 614.0h0M433.3 571.8h0M423.2 661.6h0M415.2 601.0h0M382.7 616.3h0M384.2 601.0h0M386.2 603.9h0M393.0 649.1h0M439.1 567.7h0M381.7 619.5h0M434.8 661.3h0M396.1 582.0h0M409.0 631.0h0M407.5 584.7h0M397.1 635.5h0M457.0 627.1h0M461.6 639.9h0M405.4 640.8h0M464.1 599.1h0M451.8 581.0h0M393.7 609.5h0M446.8 657.0h0M456.7 657.5h0M421.1 613.2h0M407.9 661.7h0M462.9 638.6h0M425.5 600.9h0M397.3 582.1h0M441.0 604.8h0M447.6 597.8h0M404.3 595.0h0M407.2 626.6h0M423.5 621.9h0M453.4 660.3h0M446.5 602.8h0M477.8 627.6h0M426.2 667.4h0M437.3 654.0h0M454.7 594.3h0M435.7 656.6h0M429.8 577.3h0M411.9 592.7h0M432.4 567.3h0M410.1 580.3h0M450.9 639.5h0M443.3 621.3h0M410.2 610.4h0M390.4 581.6h0M385.0 629.6h0M445.8 652.4h0M434.6 570.3h0M407.5 641.6h0M413.1 580.9h0M393.9 601.2h0M411.5 663.7h0M420.0 674.0h0M404.8 580.8h0M391.2 599.0h0M448.9 664.3h0M444.7 571.2h0M443.1 669.5h0M390.9 642.5h0M453.4 627.6h0M386.1 626.9h0M444.9 576.9h0M447.4 622.8h0M399.7 584.6h0M428.2 588.5h0M434.6 589.6h0M454.4 570.0h0M385.2 627.7h0M486.3 628.0h0M418.3 608.3h0M426.9 666.7h0M443.8 601.3h0M415.5 610.4h0M438.8 644.7h0M433.0 602.6h0M398.0 593.8h0M397.3 653.2h0M485.0 625.9h0M391.7 638.0h0M479.3 624.0h0M465.0 591.7h0M428.0 585.1h0M446.8 653.2h0M435.8 585.2h0M408.5 659.8h0M446.7 609.6h0M456.8 597.2h0M428.9 667.0h0M443.1 626.2h0M415.2 638.6h0M387.7 604.7h0M417.4 584.8h0M474.2 622.0h0M408.2 662.7h0M431.3 609.7h0M407.0 577.9h0M430.9 570.6h0M392.2 578.5h0M448.1 619.0h0M415.2 588.8h0M430.9 605.5h0M440.9 581.1h0M450.8 645.2h0M416.8 572.9h0M444.6 588.4h0M412.1 648.9h0M434.4 618.1h0M393.0 644.5h0M381.7 635.5h0M413.7 607.9h0M401.2 600.5h0M442.1 588.5h0M458.1 603.0h0M390.7 640.8h0M399.4 624.1h0M382.1 591.8h0M473.1 640.4h0M409.4 642.3h0M423.5 631.1h0M408.3 595.1h0M410.6 663.1h0M449.4 622.0h0M399.1 659.3h0M379.2 605.1h0M394.7 624.0h0M408.5 576.0h0M435.0 616.6h0M443.2 654.9h0M420.5 638.8h0M461.8 639.0h0M422.3 670.1h0M407.9 609.5h0M380.6 623.6h0M450.0 577.2h0M427.2 604.4h0M431.2 640.5h0M409.6 628.5h0M445.3 621.3h0M489.7 618.4h0M412.1 627.5h0M447.3 578.3h0M465.2 617.3h0M434.6 627.2h0M480.7 597.8h0M382.8 630.5h0M398.3 577.1h0M389.3 626.2h0M472.1 621.2h0M404.8 583.5h0M412.9 634.9h0M429.7 642.6h0M477.8 606.5h0M383.4 630.3h0M407.4 585.9h0M471.4 647.9h0M376.6 615.9h0M378.9 598.4h0M457.6 573.8h0M454.3 643.3h0M475.7 634.9h0M455.1 628.3h0M392.3 620.4h0M377.7 628.4h0M426.6 641.6h0M466.6 642.4h0M434.3 647.1h0M406.6 625.7h0M413.6 612.6h0M439.8 571.9h0M392.6 613.6h0M421.6 614.7h0M397.7 641.4h0M391.1 589.1h0M383.2 598.5h0M391.9 585.9h0M446.9 616.0h0M411.0 655.4h0M446.6 650.4h0M427.5 636.8h0M434.5 672.5h0M464.5 648.3h0M407.1 644.7h0M419.1 574.5h0M418.9 649.8h0M434.6 608.8h0M452.0 568.6h0M433.9 634.0h0M410.8 634.1h0M383.7 599.2h0M407.1 629.3h0M408.4 636.4h0M391.5 596.4h0M404.4 628.4h0M417.7 628.5h0M409.6 612.5h0M410.7 643.2h0M410.3 597.3h0M402.4 590.9h0M399.2 608.6h0M379.4 632.8h0M391.1 631.9h0M394.3 612.4h0M412.5 613.6h0M413.6 634.0h0M415.8 603.8h0M387.5 589.9h0M384.5 630.0h0M416.0 625.2h0M385.7 605.8h0M398.9 597.7h0M412.2 622.3h0M404.9 625.6h0M381.8 622.5h0M392.2 612.5h0M412.1 602.6h0M400.4 634.6h0M381.3 626.4h0M385.0 617.9h0M420.9 630.9h0M384.1 597.4h0M383.2 613.2h0M407.1 642.4h0M403.5 639.2h0M388.3 626.9h0M380.9 611.8h0M392.3 608.9h0M400.6 600.9h0M416.0 601.2h0M421.7 597.4h0M388.7 630.0h0M396.4 621.0h0M418.2 609.4h0M395.0 622.5h0M419.0 622.4h0M393.7 618.1h0M395.9 603.3h0M415.3 594.7h0M418.6 625.4h0M405.8 604.4h0M388.8 625.7h0M393.0 630.4h0M407.2 585.5h0M418.8 618.4h0M407.1 634.5h0M417.1 624.0h0M409.8 634.3h0M408.6 618.6h0M384.1 627.8h0M379.7 596.7h0M395.4 625.7h0M379.4 602.3h0M395.1 625.9h0M412.4 633.4h0M387.2 616.7h0M405.1 612.2h0M400.2 646.2h0M424.6 626.9h0M378.4 606.1h0M418.4 603.4h0M394.1 594.7h0M401.9 606.4h0M411.5 617.0h0M398.4 645.3h0M378.7 603.7h0M401.7 631.7h0M403.3 592.0h0M411.0 604.5h0M419.3 614.8h0M409.0 642.9h0M409.0 603.1h0M410.7 641.1h0M388.0 608.5h0M393.3 606.1h0M391.0 615.4h0M382.2 626.7h0M419.2 633.0h0M384.0 628.4h0M413.6 604.8h0M397.3 615.0h0M382.3 624.6h0M414.8 618.4h0M398.3 634.5h0M398.7 612.9h0M408.3 613.5h0M376.7 625.5h0M403.1 604.5h0M384.7 631.5h0M445.5 571.4h0M435.7 569.6h0M432.5 574.2h0M432.3 575.9h0M418.6 576.9h0M432.5 572.4h0M439.6 587.4h0M421.8 569.6h0M443.7 575.2h0M429.3 571.1h0M445.1 576.1h0M441.6 572.0h0M447.7 579.5h0M439.6 573.5h0M439.6 581.1h0M429.8 577.2h0M422.4 572.8h0M445.7 580.7h0M427.7 575.9h0M421.3 569.5h0M437.6 567.2h0M425.3 581.4h0M425.9 573.3h0M425.0 579.8h0M430.8 578.7h0M447.0 584.6h0M442.8 580.6h0M423.6 580.0h0M446.4 575.2h0M437.8 587.0h0M433.6 580.9h0M436.2 569.4h0M427.4 568.4h0M447.9 578.9h0M434.6 589.7h0M419.6 575.6h0M433.0 581.4h0M434.9 564.4h0M427.9 586.0h0M427.0 569.3h0M436.6 578.3h0M439.8 574.1h0M430.1 571.7h0M446.7 570.8h0M428.5 585.1h0M439.5 565.8h0M441.5 585.1h0M432.5 563.3h0M438.4 592.2h0M425.0 574.7h0M461.0 618.8h0M485.2 618.8h0M463.8 619.8h0M465.8 621.1h0M483.7 607.0h0M477.6 604.0h0M471.8 619.3h0M472.5 609.1h0M479.2 620.0h0M475.8 604.3h0M471.7 624.8h0M474.7 622.3h0M469.2 621.2h0M471.9 612.3h0M481.5 627.2h0M473.0 611.0h0M477.4 608.8h0M475.9 621.6h0M462.2 615.8h0M472.2 601.1h0M463.2 615.2h0M460.9 610.3h0M477.8 602.5h0M474.0 617.6h0M479.8 622.1h0M472.8 631.7h0M484.5 620.2h0M464.0 604.8h0M468.6 618.9h0M474.5 615.8h0M476.0 606.4h0M485.1 611.9h0M469.9 600.6h0M482.7 622.1h0M480.4 628.1h0M470.7 608.7h0M480.0 621.4h0M462.9 623.4h0M476.3 622.6h0M463.7 627.2h0" stroke="#4eb3d3" stroke-width="2.05" stroke-linecap="round"/><path d="M474.5 626.1h0M488.0 613.1h0M436.9 639.0h0M473.1 623.2h0M448.5 610.1h0M451.2 661.4h0M486.1 627.7h0M435.6 579.6h0M439.5 593.9h0M384.3 604.2h0M445.9 594.7h0M480.6 601.4h0M466.1 582.9h0M396.0 610.7h0M442.6 660.6h0M428.9 611.1h0M405.1 622.7h0M443.4 643.0h0M436.0 646.2h0M374.9 612.1h0M393.7 578.6h0M479.7 642.0h0M468.5 611.6h0M480.9 635.0h0M482.0 634.7h0M464.5 616.8h0M482.9 613.2h0M456.0 597.7h0M446.7 656.9h0M420.8 670.7h0M422.3 650.3h0M462.5 656.0h0M400.7 629.0h0M464.6 601.6h0M451.0 614.1h0M413.7 615.7h0M417.2 612.4h0M423.5 582.8h0M446.3 640.0h0M443.6 634.0h0M392.2 643.2h0M380.0 630.0h0M421.8 598.8h0M466.5 605.6h0M418.1 611.0h0M453.7 622.6h0M450.0 654.6h0M430.5 622.3h0M461.8 598.3h0M467.6 592.0h0M413.9 665.1h0M442.6 641.5h0M465.3 617.2h0M434.1 573.5h0M434.0 656.0h0M468.6 632.4h0M474.2 622.1h0M407.6 637.6h0M426.2 637.4h0M453.3 625.3h0M430.8 587.0h0M411.1 602.0h0M477.9 617.1h0M490.5 612.6h0M455.1 634.7h0M445.8 589.7h0M464.2 638.4h0M372.7 619.6h0M457.3 578.2h0M467.6 612.0h0M423.8 606.5h0M483.6 615.1h0M483.5 619.5h0M454.7 646.0h0M388.6 584.0h0M412.2 635.2h0M445.6 663.9h0M477.4 597.6h0M473.4 594.4h0M389.1 610.2h0M483.8 613.6h0M424.7 616.8h0M462.9 610.3h0M444.8 631.5h0M450.8 629.3h0M408.6 646.3h0M408.8 595.0h0M455.4 646.2h0M380.7 599.6h0M434.3 662.4h0M446.7 655.0h0M442.6 594.8h0M448.2 636.2h0M453.1 649.6h0M390.0 624.0h0M483.4 627.0h0M466.5 626.6h0M421.7 657.1h0M443.8 627.0h0M446.1 606.5h0M380.3 614.3h0M472.9 640.2h0M472.7 629.3h0M434.1 667.9h0M386.4 600.8h0M434.2 617.2h0M463.9 581.9h0M443.1 652.4h0M457.8 619.8h0M431.1 588.1h0M406.8 654.0h0M464.5 632.7h0M427.4 639.6h0M421.8 625.4h0M443.6 588.9h0M428.8 658.3h0M488.8 628.7h0M470.1 593.7h0M473.1 624.1h0M380.3 603.5h0M430.5 668.2h0M437.9 653.7h0M471.4 646.7h0M432.9 633.3h0M389.0 637.0h0M448.8 567.7h0M475.5 593.6h0M450.0 618.8h0M459.6 575.1h0M409.6 598.6h0M477.8 640.1h0M420.7 665.7h0M477.4 613.2h0M406.7 617.2h0M460.4 570.0h0M465.0 636.9h0M453.6 607.7h0M484.3 637.9h0M392.0 630.3h0M460.0 626.1h0M420.9 607.2h0M434.4 658.5h0M406.1 580.7h0M409.2 659.0h0M423.7 648.4h0M448.7 636.1h0M443.0 669.1h0M426.6 646.6h0M428.3 574.5h0M447.8 613.8h0M433.2 670.9h0M458.9 601.4h0M397.0 602.0h0M421.1 622.9h0M394.8 647.8h0M484.8 624.7h0M435.6 642.6h0M472.5 612.4h0M477.0 609.1h0M428.6 665.1h0M397.2 645.3h0M467.3 652.0h0M385.1 637.7h0M432.7 668.7h0M388.3 636.2h0M389.3 591.7h0M430.7 603.2h0M383.3 596.3h0M441.6 580.5h0M421.3 665.3h0M455.3 641.7h0M406.0 642.2h0M457.5 605.9h0M454.6 646.8h0M446.9 629.5h0M439.9 592.4h0M412.1 592.9h0M434.9 663.0h0M476.8 598.4h0M415.9 596.1h0M468.0 627.2h0M384.0 609.1h0M415.5 659.5h0M400.4 657.9h0M464.1 629.3h0M413.7 585.2h0M440.0 638.1h0M393.4 595.7h0M443.3 619.8h0M466.8 585.3h0M418.2 668.3h0M452.3 594.4h0M472.7 612.8h0M436.0 574.0h0M459.3 636.3h0M416.2 581.9h0M424.5 599.7h0M376.3 615.0h0M406.4 596.2h0M474.4 636.3h0M490.8 622.4h0M487.5 622.3h0M491.8 615.6h0M491.1 615.8h0M489.0 622.9h0M494.5 619.7h0M489.7 614.7h0M490.7 615.1h0M489.9 619.3h0M495.1 616.6h0M492.1 617.3h0M485.9 617.4h0M493.1 621.7h0M485.1 619.1h0M494.9 619.8h0M490.8 616.9h0M484.5 621.7h0M490.6 620.5h0M488.3 612.6h0M487.7 623.0h0M493.8 618.8h0M493.5 616.9h0M489.7 614.3h0M486.5 616.2h0M491.9 621.3h0M491.3 622.0h0M486.8 617.2h0M488.2 618.0h0M485.3 618.1h0M488.1 615.4h0M488.8 615.9h0M488.8 621.8h0M494.9 616.3h0M488.9 613.5h0M494.0 620.2h0M447.4 653.6h0M453.8 668.2h0M471.7 664.5h0M472.0 653.7h0M469.4 654.3h0M474.7 644.8h0M481.0 648.6h0M442.4 644.8h0M451.1 653.2h0M447.0 660.7h0M466.3 648.8h0M470.6 664.7h0M474.3 664.2h0M449.6 658.1h0M463.9 665.1h0M444.6 652.2h0M465.5 659.7h0M455.8 659.3h0M450.5 643.1h0M442.3 650.5h0M445.8 662.8h0M476.5 659.4h0M466.6 662.7h0M457.4 646.4h0M451.7 667.7h0M451.2 647.8h0M445.5 649.3h0M451.6 657.5h0M453.7 640.7h0M464.1 666.0h0M470.4 665.5h0M472.4 653.2h0M461.4 665.8h0M448.6 652.1h0M464.2 651.9h0M465.9 643.7h0M465.8 655.8h0M458.4 641.5h0M439.9 648.0h0M470.2 646.6h0M464.5 656.9h0M455.4 661.5h0M465.5 646.6h0M446.8 657.8h0M469.7 656.9h0M455.6 665.7h0M471.2 650.1h0M465.6 664.2h0M475.0 657.1h0M450.2 662.3h0M481.2 655.7h0M468.4 648.2h0M445.9 641.0h0M477.9 648.8h0M454.1 654.3h0M452.2 654.4h0M467.4 651.0h0M461.4 643.8h0M475.1 658.5h0M459.6 661.1h0M454.2 650.0h0M457.4 643.0h0M446.9 645.0h0M439.9 653.9h0M444.0 652.5h0M455.2 660.1h0M461.0 645.6h0M455.6 662.1h0M451.8 647.3h0M477.5 649.9h0M440.2 656.6h0M450.3 664.8h0M453.2 637.3h0M458.4 668.9h0M457.7 649.5h0M473.5 659.4h0M455.6 664.1h0M454.4 638.6h0M468.9 641.0h0M466.1 666.4h0M464.4 658.9h0M447.5 658.8h0M461.9 666.7h0M459.7 639.9h0M452.4 657.4h0M473.6 651.6h0M477.2 648.2h0M467.1 651.5h0M454.5 664.9h0M456.3 655.7h0M430.3 676.0h0M443.1 669.8h0M428.2 675.1h0M430.6 673.6h0M423.0 669.8h0M426.8 667.4h0M422.6 666.4h0M430.5 664.7h0M428.0 667.1h0M440.9 663.6h0M425.0 665.9h0M432.4 667.6h0M438.3 667.8h0M444.6 665.7h0M441.3 671.3h0M446.1 671.1h0M436.7 664.1h0M425.6 664.1h0M426.8 668.1h0M431.5 670.4h0M443.0 665.6h0M438.1 670.6h0M432.2 662.4h0M427.3 674.9h0M434.0 663.8h0M442.9 666.5h0M432.8 676.6h0M438.6 664.6h0M437.5 668.5h0M424.0 665.3h0M430.7 663.4h0M437.4 672.2h0M430.2 663.5h0M428.7 672.6h0M430.9 674.7h0" stroke="#d33c2e" stroke-width="2.05" stroke-linecap="round"/><rect x="368.0" y="557.4" width="131.4" height="127.1" fill="none" stroke="#3a3a3a" stroke-width="0.9"/><text x="433.7" y="555.4" font-size="8.2" fill="#111" text-anchor="middle" font-family="Liberation Sans, sans-serif">DGCR8_HEK293T</text><text x="433.7" y="692.0" font-size="8.7" fill="#111" text-anchor="middle" font-family="Liberation Sans, sans-serif">deepbind</text><rect x="372.1" y="561.4" width="58.8" height="25.1" rx="1.6" fill="#fff" fill-opacity="0.8" stroke="#444" stroke-width="0.8"/><circle cx="382.6" cy="568.2" r="0.95" fill="#4eb3d3"/><circle cx="382.6" cy="579.9" r="0.95" fill="#d33c2e"/><text x="396.4" y="569.9" font-size="8" fill="#111" font-family="Liberation Sans, sans-serif">Negative</text><text x="396.4" y="581.5" font-size="8" fill="#111" font-family="Liberation Sans, sans-serif">Positive</text><path d="M652.4 581.6h0M599.5 574.6h0M605.3 569.4h0M603.7 666.3h0M602.3 589.0h0M568.2 605.9h0M607.4 595.6h0M605.7 677.6h0M637.5 644.9h0M556.4 618.0h0M584.8 622.4h0M563.9 602.7h0M589.5 634.1h0M647.1 589.1h0M652.6 583.1h0M661.1 625.9h0M588.2 627.8h0M611.8 637.7h0M654.6 616.2h0M635.8 642.1h0M582.2 637.8h0M573.9 568.4h0M575.4 640.2h0M570.1 640.1h0M645.6 575.6h0M610.2 568.0h0M580.8 593.8h0M620.4 665.7h0M595.2 595.6h0M634.8 577.2h0M567.1 600.0h0M556.9 626.4h0M647.9 628.5h0M575.1 572.5h0M614.8 622.5h0M587.6 566.3h0M590.4 601.4h0M647.7 632.6h0M592.6 568.5h0M584.4 603.8h0M582.3 656.2h0M597.0 577.2h0M609.5 594.6h0M607.2 593.3h0M623.3 650.6h0M570.3 627.3h0M609.0 578.7h0M638.8 585.5h0M591.1 597.7h0M617.4 673.7h0M616.5 670.8h0M586.4 607.8h0M629.2 577.3h0M569.1 592.2h0M615.8 587.7h0M586.8 589.7h0M604.2 668.2h0M594.1 648.4h0M600.8 638.3h0M638.4 572.8h0M570.5 624.4h0M652.4 589.8h0M588.8 597.7h0M639.9 604.8h0M582.3 652.4h0M605.2 644.4h0M604.0 600.2h0M627.1 592.8h0M581.6 584.9h0M644.2 627.1h0M622.8 610.8h0M572.1 599.2h0M643.3 628.6h0M572.4 655.6h0M627.7 606.9h0M601.0 590.8h0M587.3 602.0h0M628.9 574.5h0M648.5 580.5h0M582.2 601.8h0M568.9 642.1h0M576.7 581.2h0M653.2 624.8h0M642.2 628.2h0M592.0 611.9h0M572.5 637.6h0M634.6 569.5h0M612.1 586.5h0M596.9 647.4h0M592.0 570.6h0M568.4 639.6h0M609.1 615.6h0M616.0 598.5h0M631.3 585.6h0M646.6 609.4h0M576.4 655.5h0M568.5 655.8h0M634.8 614.4h0M616.3 645.1h0M574.8 613.6h0M641.7 582.3h0M575.6 569.9h0M596.2 671.2h0M568.3 611.1h0M598.1 575.3h0M584.8 583.4h0M587.9 571.0h0M571.1 597.0h0M652.4 654.8h0M561.6 635.8h0M640.4 589.2h0M613.2 592.2h0M599.9 594.7h0M597.8 628.9h0M583.0 630.8h0M649.6 623.5h0M572.1 605.5h0M579.7 647.5h0M613.3 618.9h0M629.5 648.2h0M636.0 659.7h0M642.5 614.6h0M583.9 579.3h0M607.9 621.6h0M574.0 625.8h0M624.7 588.6h0M576.2 619.2h0M607.9 583.8h0M624.5 616.5h0M584.3 638.4h0M589.0 641.3h0M569.8 656.1h0M626.1 568.0h0M561.9 645.2h0M599.4 646.7h0M629.2 634.0h0M657.4 597.1h0M633.8 616.6h0M591.3 598.8h0M616.4 639.4h0M633.9 624.6h0M614.4 594.2h0M622.8 603.1h0M564.2 648.1h0M633.8 645.1h0M591.2 581.9h0M611.6 584.2h0M612.7 634.9h0M639.8 622.1h0M636.4 584.9h0M593.8 668.6h0M591.0 588.4h0M600.8 574.5h0M593.2 653.6h0M602.0 675.9h0M654.4 617.2h0M594.0 639.5h0M599.2 626.3h0M647.7 610.0h0M624.1 634.5h0M594.4 661.3h0M637.7 578.2h0M660.6 594.5h0M597.0 643.9h0M577.0 604.4h0M620.9 584.4h0M555.0 622.3h0M586.6 616.5h0M645.7 579.4h0M640.2 583.1h0M586.6 590.3h0M622.5 573.2h0M597.2 618.1h0M568.8 622.9h0M656.6 607.8h0M643.5 594.2h0M588.5 588.8h0M579.3 624.9h0M628.8 582.3h0M622.5 591.3h0M577.2 619.0h0M653.7 587.3h0M575.9 633.9h0M555.8 615.1h0M641.4 663.1h0M590.8 569.9h0M572.5 607.2h0M627.8 577.5h0M664.7 611.1h0M582.5 613.4h0M592.4 577.9h0M636.0 597.2h0M592.2 643.8h0M625.5 580.7h0M575.6 595.1h0M635.2 615.9h0M632.8 622.6h0M628.3 626.6h0M659.3 590.1h0M649.0 630.4h0M597.6 588.1h0M615.8 603.1h0M596.5 567.0h0M580.2 573.9h0M655.3 629.9h0M623.4 590.1h0M581.8 659.3h0M636.9 643.7h0M653.2 643.8h0M576.1 572.3h0M610.1 587.6h0M608.3 654.4h0M630.6 648.7h0M597.6 573.9h0M624.3 569.5h0M604.0 583.8h0M584.2 569.5h0M599.3 613.3h0M603.9 574.6h0M577.1 609.0h0M615.1 605.0h0M569.0 650.1h0M621.0 672.2h0M655.6 610.3h0M559.7 612.3h0M566.7 599.9h0M598.7 661.6h0M569.6 618.3h0M581.5 593.3h0M610.2 601.3h0M625.0 633.3h0M614.1 625.8h0M587.6 593.3h0M617.6 640.4h0M599.2 613.6h0M619.4 622.8h0M656.4 603.6h0M572.5 643.4h0M623.3 609.1h0M593.7 620.0h0M608.5 578.7h0M630.3 605.6h0M582.8 609.8h0M619.4 581.7h0M564.3 611.0h0M579.7 575.4h0M639.6 640.0h0M622.6 588.8h0M617.7 599.2h0M622.2 655.2h0M651.9 583.7h0M589.9 671.0h0M576.2 568.0h0M644.5 587.9h0M567.9 600.3h0M634.3 658.1h0M637.6 655.4h0M554.8 623.6h0M620.2 566.4h0M642.0 627.4h0M639.9 656.1h0M566.5 617.0h0M600.0 618.1h0M599.6 587.1h0M658.7 612.3h0M602.1 631.7h0M584.4 619.7h0M634.0 611.8h0M572.1 642.6h0M645.5 610.1h0M617.6 675.3h0M605.8 585.3h0M629.1 602.1h0M655.1 617.9h0M657.5 588.5h0M609.8 612.8h0M580.0 661.5h0M567.6 613.8h0M659.9 601.6h0M660.5 603.9h0M661.9 598.6h0M609.2 598.6h0M590.7 567.8h0M595.7 672.7h0M574.2 661.9h0M590.6 634.2h0M650.6 590.3h0M572.8 585.8h0M606.4 609.5h0M574.3 613.5h0M590.2 612.3h0M589.3 604.4h0M587.8 666.7h0M616.9 577.2h0M662.5 600.2h0M654.6 605.6h0M622.5 631.9h0M637.3 601.6h0M591.4 660.8h0M562.6 611.6h0M587.8 594.9h0M576.0 603.5h0M587.4 628.0h0M586.6 584.6h0M586.0 608.4h0M665.0 616.9h0M555.4 612.2h0M605.9 602.6h0M580.2 657.1h0M597.4 632.0h0M656.8 605.0h0M621.5 624.4h0M616.0 622.9h0M652.5 626.8h0M573.7 633.7h0M664.2 602.4h0M614.4 670.8h0M605.7 602.9h0M616.7 654.6h0M626.8 591.4h0M613.3 675.8h0M623.1 617.7h0M592.3 621.4h0M642.6 615.3h0M566.7 588.7h0M622.8 641.9h0M614.6 658.0h0M658.1 608.5h0M649.4 595.1h0M630.3 601.0h0M644.3 607.7h0M584.4 611.0h0M653.4 620.6h0M655.9 604.8h0M616.7 633.9h0M600.0 579.3h0M634.6 630.7h0M586.9 670.9h0M570.7 612.0h0M651.7 589.9h0M572.4 572.5h0M603.2 599.9h0M599.5 586.0h0M581.0 627.3h0M617.8 633.8h0M656.3 633.1h0M611.6 661.9h0M568.6 618.6h0M621.2 587.1h0M563.0 600.4h0M648.4 607.6h0M603.1 637.5h0M576.0 656.5h0M632.8 571.8h0M589.5 593.9h0M558.9 612.2h0M640.7 629.0h0M593.5 611.5h0M626.2 669.3h0M618.2 603.6h0M624.3 654.4h0M601.5 585.9h0M576.2 599.5h0M554.2 616.1h0M609.1 630.0h0M619.3 643.2h0M602.0 615.3h0M634.4 581.0h0M587.5 628.5h0M583.0 591.4h0M615.0 595.5h0M576.8 656.3h0M609.2 664.6h0M564.4 641.7h0M585.9 604.1h0M628.0 648.8h0M559.7 613.4h0M627.5 601.7h0M643.5 585.5h0M609.4 610.1h0M584.1 620.8h0M574.3 601.4h0M615.8 622.1h0M615.8 621.7h0M616.4 600.6h0M564.4 646.6h0M582.0 602.0h0M610.4 635.9h0M653.5 608.6h0M609.1 590.8h0M600.7 608.3h0M572.0 572.8h0M594.3 584.2h0M574.0 619.5h0M640.9 638.2h0M644.9 606.7h0M570.2 614.4h0M601.4 567.4h0M595.9 625.3h0M621.4 605.0h0M640.9 611.7h0M567.4 593.4h0M619.8 611.8h0M632.0 592.7h0M653.8 639.9h0M640.4 647.4h0M559.3 611.6h0M629.3 577.4h0M570.8 604.8h0M601.7 642.2h0M600.7 591.2h0M623.0 649.3h0M596.3 583.0h0M589.3 597.3h0M553.9 624.0h0M615.5 570.4h0M600.4 609.0h0M613.2 570.5h0M644.0 599.7h0M600.7 613.3h0M643.4 636.5h0M643.7 631.0h0M609.9 642.3h0M604.6 592.3h0M634.3 608.7h0M572.8 596.6h0M605.4 597.2h0M590.3 650.5h0M594.9 620.0h0M644.6 657.2h0M634.3 598.8h0M609.5 576.7h0M597.4 588.8h0M593.6 575.3h0M645.1 581.6h0M636.2 599.7h0M627.3 615.3h0M586.3 586.6h0M612.4 599.9h0M592.8 592.6h0M616.9 577.7h0M615.4 585.8h0M609.1 615.4h0M620.3 581.5h0M631.9 574.4h0M633.9 596.8h0M597.2 579.1h0M608.2 599.7h0M614.3 590.3h0M608.4 610.9h0M590.0 582.3h0M594.5 607.2h0M634.2 595.2h0M632.9 592.3h0M631.1 597.9h0M644.0 579.5h0M588.4 591.7h0M619.5 596.3h0M611.5 585.6h0M627.4 598.6h0M621.5 596.9h0M608.8 580.5h0M608.3 604.8h0M639.7 599.9h0M633.9 614.5h0M586.3 586.9h0M646.0 604.0h0M613.8 574.9h0M619.8 596.3h0M628.6 602.3h0M619.5 616.5h0M641.6 596.4h0M616.8 576.9h0M621.9 617.1h0M624.5 588.4h0M613.5 610.7h0M597.1 578.1h0M594.6 585.3h0M629.1 614.2h0M588.4 600.8h0M625.6 597.8h0M590.4 580.6h0M629.3 583.2h0M617.1 607.3h0M604.9 615.9h0M616.7 589.6h0M644.0 595.5h0M629.7 582.8h0M605.8 596.7h0M624.2 580.9h0M591.7 593.1h0M601.2 606.5h0M636.6 582.6h0M623.5 596.2h0M629.2 591.0h0M626.2 577.5h0M648.2 593.7h0M600.8 582.2h0M609.2 612.8h0M630.7 570.5h0M613.9 606.0h0M618.1 611.2h0M624.4 589.5h0M591.1 607.5h0M617.7 614.4h0M608.2 613.4h0M633.1 579.1h0M592.9 585.7h0M624.4 592.9h0M611.7 590.2h0M594.0 599.9h0M627.8 586.1h0M601.0 573.0h0M588.9 580.0h0M605.7 597.7h0M616.7 590.1h0M604.5 610.7h0M587.1 602.2h0M600.8 602.1h0M600.4 606.5h0M622.1 582.4h0M607.3 604.8h0M639.9 587.1h0M605.1 569.3h0M625.8 609.8h0M603.6 578.0h0M602.3 603.9h0M601.2 593.1h0M633.8 578.3h0M632.7 606.3h0M613.1 677.6h0M599.4 678.6h0M617.1 674.4h0M605.1 679.5h0M595.1 677.1h0M589.0 677.1h0M606.4 677.9h0M606.4 677.2h0M595.9 675.9h0M608.1 674.5h0M608.8 675.8h0M614.6 678.6h0M596.0 671.7h0M605.7 678.2h0M608.2 678.4h0M608.7 671.0h0M592.6 672.2h0M613.6 677.5h0M606.6 678.2h0M595.5 675.6h0M596.8 679.9h0M596.1 676.5h0M610.3 673.5h0M612.4 672.4h0M604.3 673.3h0" stroke="#4eb3d3" stroke-width="2.05" stroke-linecap="round"/><path d="M610.3 670.8h0M581.8 668.4h0M605.3 673.7h0M609.4 660.5h0M611.2 669.3h0M578.7 658.8h0M576.3 660.8h0M589.8 648.2h0M610.4 669.7h0M591.1 661.5h0M583.8 659.7h0M593.0 675.9h0M595.0 656.4h0M591.2 663.6h0M605.9 666.5h0M614.8 666.6h0M587.0 644.3h0M609.6 660.4h0M613.4 669.7h0M612.9 671.2h0M608.4 664.8h0M585.6 646.5h0M599.9 651.0h0M609.5 669.4h0M579.5 663.4h0M617.8 664.9h0M596.3 675.4h0M594.0 650.6h0M614.0 673.1h0M588.4 652.8h0M612.6 655.5h0M611.9 674.2h0M596.8 645.8h0M604.6 663.5h0M602.3 667.2h0M583.6 659.0h0M598.6 657.4h0M615.8 663.5h0M612.0 655.2h0M593.0 644.2h0M620.2 651.1h0M598.1 655.3h0M581.7 657.2h0M617.5 649.4h0M621.2 663.0h0M603.8 663.6h0M602.7 664.3h0M602.3 659.0h0M598.4 676.0h0M584.8 660.8h0M597.9 666.3h0M608.5 664.7h0M604.4 644.1h0M586.7 660.6h0M601.5 647.6h0M614.1 645.8h0M587.4 647.0h0M595.8 650.5h0M607.8 658.1h0M595.3 652.7h0M586.6 662.3h0M617.2 656.1h0M588.5 661.4h0M593.0 655.8h0M598.1 658.8h0M604.5 667.9h0M613.1 673.6h0M591.3 675.7h0M617.6 667.7h0M587.8 662.3h0M601.1 657.4h0M595.3 651.5h0M595.4 646.9h0M597.0 669.7h0M580.6 651.1h0M618.3 664.1h0M621.9 655.3h0M586.2 668.7h0M600.6 647.6h0M597.3 657.0h0M594.6 671.8h0M599.9 649.8h0M582.8 652.3h0M593.8 648.4h0M602.3 671.6h0M596.6 673.7h0M592.5 675.6h0M582.9 664.8h0M598.2 660.3h0M600.2 665.2h0M607.7 666.5h0M582.9 655.1h0M612.0 661.0h0M592.7 645.3h0M607.1 667.5h0M581.4 655.5h0M578.1 652.7h0M590.3 674.8h0M588.7 659.4h0M585.7 645.7h0M591.9 664.4h0M588.7 645.1h0M579.9 655.7h0M623.0 659.0h0M607.1 655.9h0M618.8 652.7h0M600.7 648.1h0M583.2 667.5h0M612.2 652.6h0M611.5 673.4h0M589.0 660.0h0M594.6 646.9h0M596.5 659.1h0M595.0 648.3h0M609.5 675.1h0M600.4 665.9h0M604.4 663.6h0M582.8 651.8h0M610.5 665.0h0M608.4 673.8h0M579.0 659.2h0M592.3 645.2h0M590.5 664.0h0M592.0 670.3h0M597.3 669.3h0M584.1 647.5h0M609.9 645.0h0M614.8 671.5h0M590.7 656.4h0M595.4 670.2h0M642.6 601.8h0M563.1 630.6h0M576.8 623.4h0M587.1 668.5h0M657.2 612.2h0M615.6 648.7h0M653.1 613.9h0M613.8 600.3h0M647.3 609.4h0M566.5 630.8h0M592.4 637.8h0M634.2 594.3h0M588.5 623.8h0M622.1 603.3h0M597.1 594.2h0M629.2 624.7h0M626.6 667.8h0M644.5 657.3h0M581.4 643.9h0M605.9 662.0h0M649.7 619.7h0M558.5 628.7h0M585.7 588.5h0M606.9 597.9h0M623.7 662.6h0M595.9 620.2h0M565.0 621.0h0M597.6 666.6h0M582.1 652.7h0M577.8 612.8h0M618.7 566.0h0M616.4 662.3h0M631.5 653.8h0M635.7 655.1h0M559.6 615.7h0M633.8 571.0h0M609.6 669.6h0M586.9 674.4h0M607.0 646.2h0M614.1 669.7h0M600.9 672.4h0M582.0 634.8h0M619.2 657.3h0M604.7 631.1h0M655.1 603.5h0M594.9 605.6h0M599.9 635.6h0M602.5 647.3h0M588.3 591.4h0M665.3 618.1h0M632.1 605.4h0M583.8 614.7h0M592.0 603.0h0M623.3 616.2h0M600.9 617.6h0M601.9 653.8h0M642.2 607.7h0M646.5 600.5h0M667.7 605.1h0M623.4 619.4h0M655.8 592.0h0M605.6 598.7h0M612.9 588.7h0M584.5 639.4h0M602.0 625.3h0M553.8 624.6h0M614.3 657.8h0M660.8 634.9h0M566.1 647.4h0M632.4 653.4h0M643.0 649.8h0M605.6 592.3h0M629.3 672.1h0M563.8 631.4h0M569.1 643.0h0M604.2 664.4h0M622.0 645.0h0M618.7 662.1h0M629.6 648.7h0M609.6 597.4h0M618.1 631.1h0M625.2 652.7h0M591.8 653.6h0M647.7 617.0h0M589.0 615.8h0M560.3 640.3h0M609.3 628.3h0M564.8 608.6h0M652.6 646.2h0M573.5 654.0h0M583.4 668.9h0M615.8 646.6h0M616.8 599.3h0M638.3 628.6h0M614.8 584.6h0M585.8 625.9h0M624.8 567.4h0M657.8 603.7h0M593.3 674.1h0M575.1 572.1h0M572.0 593.4h0M593.8 675.5h0M609.2 639.5h0M597.5 667.7h0M592.3 601.2h0M590.1 621.7h0M566.3 648.5h0M588.2 633.1h0M589.6 665.4h0M566.1 617.6h0M587.2 639.2h0M612.0 589.2h0M627.7 637.7h0M615.0 622.8h0M564.8 637.4h0M632.2 645.3h0M637.7 667.4h0M605.0 657.7h0M618.8 632.3h0M649.3 585.4h0M644.2 624.5h0M587.1 595.7h0M625.7 662.3h0M618.4 649.3h0M591.7 644.3h0M609.9 596.7h0M590.3 633.2h0M581.6 626.0h0M575.5 631.2h0M664.4 604.9h0M586.7 639.6h0M660.0 617.7h0M607.3 655.8h0M580.0 630.6h0M620.7 590.5h0M646.7 582.3h0M664.7 607.5h0M608.5 616.4h0M580.0 607.3h0M595.8 609.1h0M600.1 574.7h0M616.4 673.2h0M576.0 644.8h0M660.3 624.0h0M638.9 658.8h0M554.1 626.6h0M579.5 601.9h0M622.7 658.3h0M585.0 655.1h0M639.9 653.3h0M634.7 605.6h0M624.0 674.8h0M567.4 596.3h0M566.5 590.8h0M655.5 647.9h0M563.8 591.2h0M664.5 611.0h0M560.8 638.3h0M662.7 634.3h0M561.7 638.7h0M605.9 659.3h0M636.1 638.7h0M635.1 616.1h0M621.9 658.6h0M590.3 638.6h0M607.5 631.8h0M593.5 649.8h0M625.0 659.9h0M642.0 630.8h0M642.3 602.9h0M569.3 621.5h0M587.8 628.6h0M636.7 618.5h0M606.3 575.0h0M599.4 639.6h0M610.0 646.9h0M636.7 628.1h0M617.7 588.1h0M559.4 603.2h0M561.7 638.3h0M609.5 667.4h0M640.4 608.1h0M588.3 570.6h0M633.1 611.4h0M621.9 637.3h0M580.6 579.2h0M587.6 658.3h0M571.8 572.5h0M564.3 642.7h0M625.4 634.3h0M660.4 601.3h0M651.7 620.7h0M662.8 612.8h0M657.3 610.9h0M654.7 619.5h0M660.2 611.8h0M647.9 606.3h0M654.1 600.2h0M662.0 616.9h0M651.8 613.5h0M663.6 612.9h0M662.4 604.9h0M654.5 598.7h0M656.2 610.9h0M651.0 606.8h0M656.2 601.9h0M652.0 620.1h0M658.4 612.7h0M651.4 611.2h0M655.8 622.8h0M655.3 622.9h0M646.6 604.8h0M663.0 607.6h0M652.4 617.7h0M649.5 607.0h0M662.1 615.5h0M653.9 611.2h0M660.5 610.2h0M660.6 618.4h0M651.8 618.2h0M562.5 622.1h0M563.5 622.8h0M559.2 618.8h0M555.2 618.7h0M553.4 623.9h0M553.0 621.6h0M558.9 625.5h0M558.9 619.2h0" stroke="#d33c2e" stroke-width="2.05" stroke-linecap="round"/><rect x="544.7" y="557.4" width="130.9" height="127.1" fill="none" stroke="#3a3a3a" stroke-width="0.9"/><text x="610.2" y="555.4" font-size="8.2" fill="#111" text-anchor="middle" font-family="Liberation Sans, sans-serif">DGCR8_HEK293T</text><text x="610.2" y="692.0" font-size="8.7" fill="#111" text-anchor="middle" font-family="Liberation Sans, sans-serif">GraphProt</text><rect x="548.8" y="561.4" width="58.8" height="25.1" rx="1.6" fill="#fff" fill-opacity="0.8" stroke="#444" stroke-width="0.8"/><circle cx="559.3" cy="568.2" r="0.95" fill="#4eb3d3"/><circle cx="559.3" cy="579.9" r="0.95" fill="#d33c2e"/><text x="573.1" y="569.9" font-size="8" fill="#111" font-family="Liberation Sans, sans-serif">Negative</text><text x="573.1" y="581.5" font-size="8" fill="#111" font-family="Liberation Sans, sans-serif">Positive</text><text x="2.4" y="25.2" font-size="24.5" fill="#000" stroke="#000" stroke-width="0.45" textLength="11.6" lengthAdjust="spacingAndGlyphs" font-family="Liberation Sans, sans-serif">a</text><text x="325.3" y="27.6" font-size="24.5" fill="#000" stroke="#000" stroke-width="0.45" font-family="Liberation Sans, sans-serif">b</text><text x="327.0" y="227.6" font-size="24.5" fill="#000" stroke="#000" stroke-width="0.45" font-family="Liberation Sans, sans-serif">c</text><text x="3.6" y="402.6" font-size="24.5" fill="#000" stroke="#000" stroke-width="0.45" font-family="Liberation Sans, sans-serif">d</text></svg></body></html>
